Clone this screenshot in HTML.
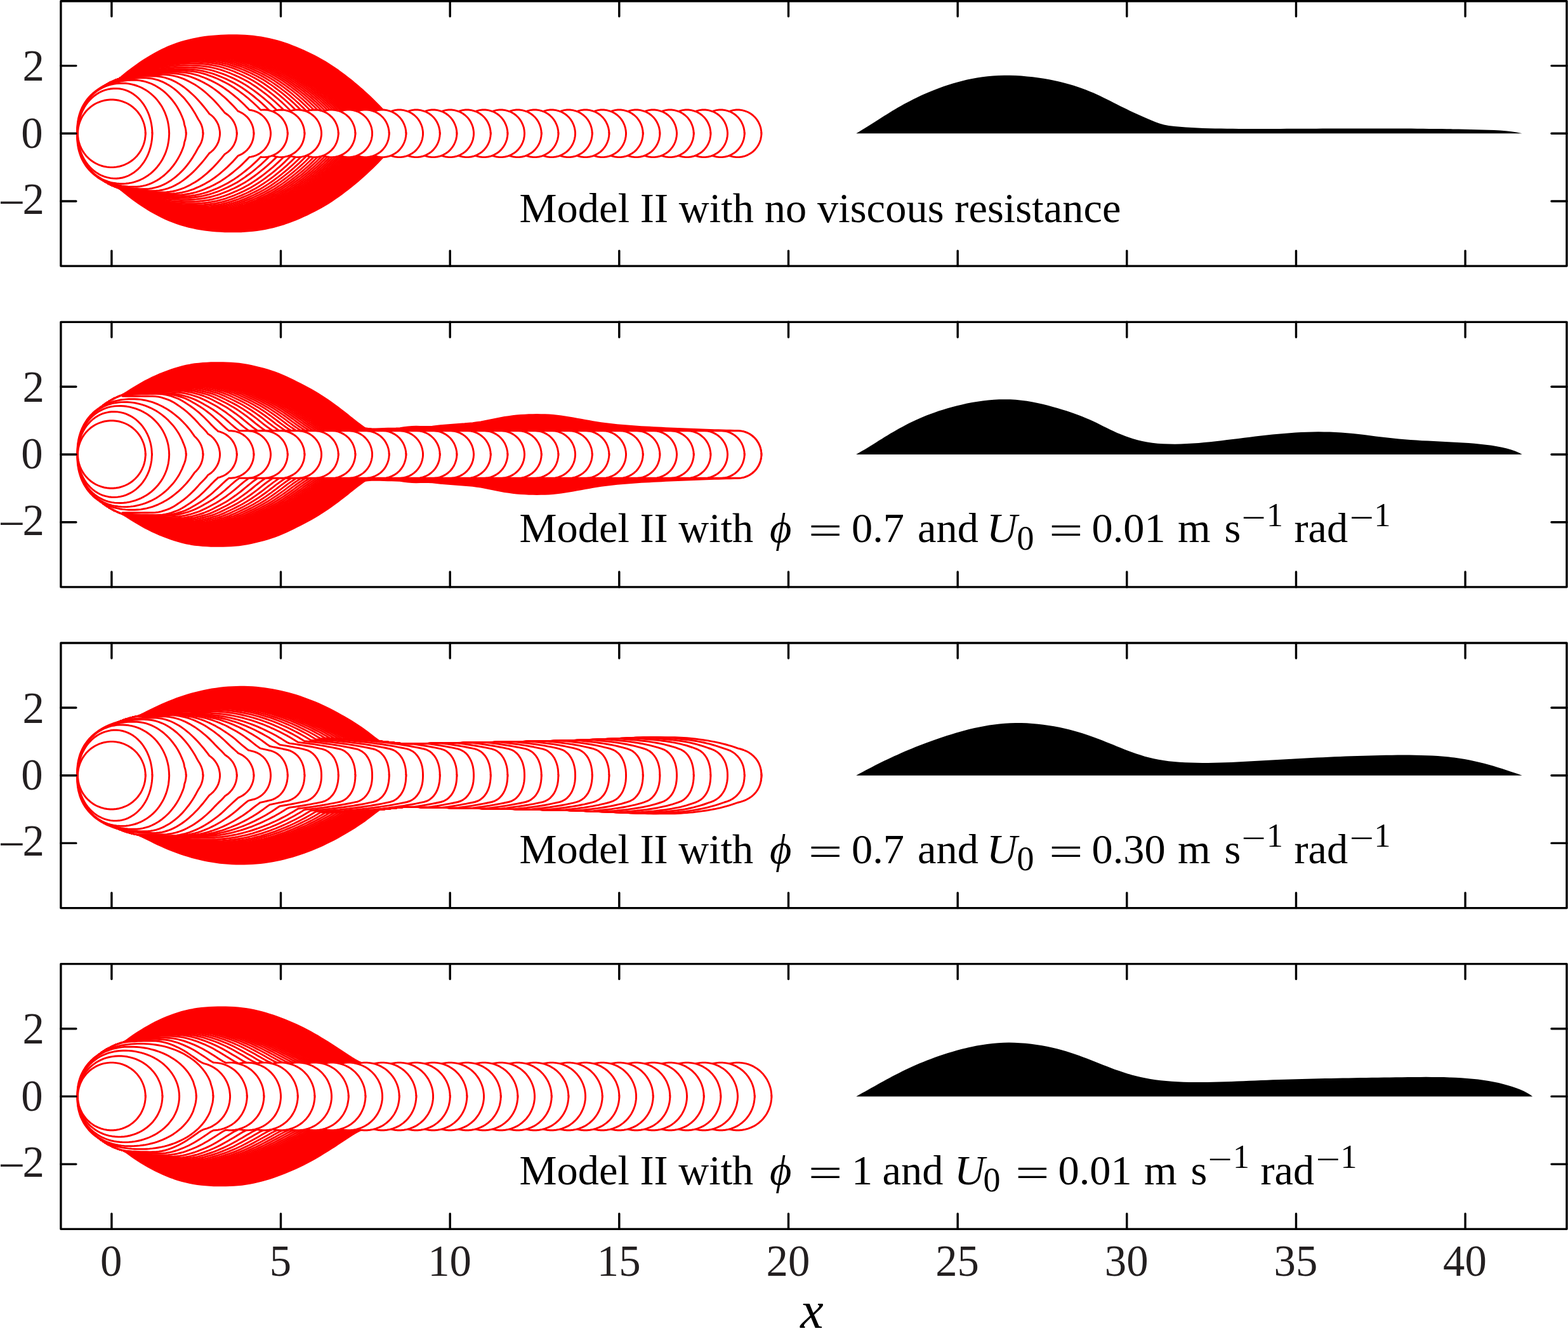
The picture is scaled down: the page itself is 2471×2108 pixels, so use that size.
<!DOCTYPE html>
<html><head><meta charset="utf-8"><title>Model II footprints</title>
<style>html,body{margin:0;padding:0;background:#fff}svg{display:block}</style></head>
<body><svg xmlns="http://www.w3.org/2000/svg" width="2471" height="2108" viewBox="0 0 2471 2108">
<rect width="2471" height="2108" fill="#fff"/>
<g transform="translate(175.9,210.3)">
<path id="s1" d="M-52.9 0.6l0-0.6 0-1.1 0-1.3 0.2-4 0.7-6.3 1.1-6.2 1.7-6.2 2-6 2.5-5.9 2.9-5.7 3.3-5.4 3.7-5.2 4-4.9 4.4-4.7 4.6-4.3 5-4 5.2-3.6 5.4-3.3 5.7-3 5.8-2.5 6-2.2 0.2 0 4.7-4 4.9-4.1 5-3.9 5.1-3.9 5.1-3.8 5.2-3.7 5.2-3.6 5.4-3.5 5.4-3.3 5.4-3.3 5.6-3.1 5.6-3 5.7-2.9 5.7-2.7 5.9-2.5 5.9-2.3 6-2.2 6-2 6.2-1.8 6.1-1.6 6.2-1.4 6.3-1.3 6.2-1.1 6.3-1 6.3-0.8 6.4-0.6 6.3-0.5 6.4-0.4 6.3-0.3 6.4-0.1 6.4-0.1 6.3 0.1 6.4 0.1 6.4 0.4 6.3 0.4 6.3 0.6 6.4 0.8 6.3 0.9 6.2 1.1 6.3 1.3 6.2 1.4 6.1 1.6 6.1 1.8 6.1 1.9 6 2.1 6 2.3 5.9 2.3 5.9 2.5 5.8 2.6 5.8 2.6 5.7 2.8 5.7 2.8 5.6 3 5.6 3.1 5.5 3.1 5.5 3.4 5.3 3.4 5.3 3.6 5.2 3.6 5.2 3.8 5.1 3.8 5 3.9 5 3.9 4.9 4.1 4.9 4 4.8 4.2 4.8 4.2 4.7 4.3 4.7 4.3 4.6 4.4 4.5 4.5 4.5 4.5 4.4 4.6 3 3.1 0.8 1.9 2.3 5.9 2.4 5.9 2.3 6 2.4 5.9 2.4 5.9 1.4 3.7 0.5 1.2 0.4 1 0 0.6" fill="#fe0000" stroke="#fe0000" stroke-width="2.9" stroke-linejoin="round"/><use href="#s1" transform="scale(1,-1)"/>
<g fill="#fff" stroke="#fe0000" stroke-width="2.9" stroke-linejoin="round" stroke-linecap="square">
<path id="s2" d="M-52.9 0.6l0-0.6 0-1.1 0-1.3 0.1-2.4 0.4-4.7 0.6-4.7 0.9-4.7 1.2-4.6 1.4-4.6 1.7-4.5 1.9-4.3 2.1-4.3 2.4-4.1 2.5-4.1 2.8-3.8 3-3.8 3.2-3.5 3.3-3.4 3.6-3.2 3.6-3.1 3.9-2.8 3.9-2.6 4.1-2.5 4.2-2.2 4.4-2 4.4-1.8 4.5-1.6 0.3-0.1 3.6-2.6 4-2.7 3.9-2.6 4-2.6 4-2.6 4.1-2.5 4.1-2.4 4.1-2.4 4.1-2.4 4.2-2.3 4.2-2.2 4.3-2.2 4.2-2.2 4.3-2 4.4-2 4.3-2 4.4-1.8 4.4-1.8 4.5-1.8 4.4-1.6 4.5-1.6 4.5-1.6 4.6-1.4 4.6-1.4 4.5-1.2 4.7-1.2 4.6-1.1 4.7-1.1 4.6-0.9 4.7-0.9 4.7-0.7 4.7-0.7 4.8-0.6 4.7-0.5 4.8-0.4 4.7-0.3 4.8-0.3 4.8-0.1 4.7 0 4.8 0 4.8 0.1 4.7 0.2 4.8 0.3 4.7 0.4 4.8 0.4 4.7 0.5 4.8 0.6 4.7 0.7 4.7 0.9 4.7 0.9 4.6 1 4.7 1.1 4.6 1.2 4.6 1.2 4.5 1.4 4.6 1.5 4.5 1.6 4.4 1.6 4.5 1.7 4.4 1.8 4.4 1.9 4.4 1.9 4.3 1.9 4.4 2 4.3 2.1 4.2 2.1 4.3 2.2 4.2 2.2 4.1 2.4 4.2 2.3 4.1 2.5 4 2.5 4 2.6 3.9 2.7 3.9 2.7 3.9 2.8 3.9 2.8 3.8 2.9 3.8 2.9 3.7 2.9 3.8 3 3.7 3 3.6 3.1 3.7 3 3.6 3.2 3.5 3.1 3.6 3.2 3.5 3.3 3.4 3.3 3.5 3.3 3.4 3.3 3.3 3.4 3.4 3.4 3.3 3.4 3.3 3.4 3.4 3.4 3.3 3.4 3.3 3.4 3.4 3.5 3.3 3.4 3.3 3.4 3.4 3.4 3.3 3.4 1.7 1.7 0.9 0.9 0.7 0.8 0 0.6"/><use href="#s2" transform="scale(1,-1)"/>
<path id="s3" d="M-52.9 0.6l0-0.6 0-1.1 0-1.3 0.1-2.4 0.4-4.8 0.6-4.7 1-4.7 1.1-4.7 1.5-4.6 1.7-4.5 1.9-4.4 2.1-4.2 2.4-4.2 2.6-4 2.8-3.9 3.1-3.8 3.2-3.5 3.4-3.4 3.5-3.2 3.7-3.1 3.9-2.8 4-2.6 4.2-2.5 4.2-2.2 4.4-2 4.4-1.8 4.2-1.4 0.3-0.2 3.9-2.8 4-2.7 4-2.6 4-2.6 4.1-2.6 4.1-2.5 4.1-2.5 4.2-2.4 4.1-2.3 4.3-2.3 4.2-2.3 4.3-2.1 4.3-2.2 4.3-2 4.4-2 4.4-1.9 4.4-1.9 4.5-1.8 4.4-1.7 4.5-1.6 4.6-1.6 4.5-1.5 4.6-1.4 4.6-1.4 4.7-1.2 4.6-1.2 4.7-1.1 4.7-1 4.7-0.9 4.7-0.8 4.8-0.7 4.7-0.7 4.8-0.5 4.8-0.5 4.7-0.4 4.8-0.2 4.8-0.2 4.8-0.1 4.8 0 4.8 0.1 4.8 0.2 4.8 0.2 4.8 0.3 4.8 0.4 4.8 0.5 4.7 0.6 4.8 0.6 4.7 0.8 4.7 0.9 4.7 0.9 4.7 1.1 4.7 1.2 4.6 1.2 4.6 1.4 4.6 1.4 4.5 1.6 4.5 1.6 4.5 1.7 4.5 1.8 4.4 1.8 4.4 1.9 4.4 1.9 4.4 2 4.3 2.1 4.3 2.1 4.3 2.2 4.2 2.2 4.2 2.3 4.2 2.4 4.1 2.5 4.1 2.5 4 2.6 4 2.7 4 2.7 3.9 2.8 3.9 2.8 3.8 2.9 3.8 2.9 3.8 2.9 3.8 3 3.7 3 3.7 3.1 3.7 3.1 3.6 3.1 3.6 3.2 3.5 3.2 3.6 3.3 3.5 3.3 3.4 3.3 3.4 3.4 3.4 3.4 3.4 3.4 3.4 3.4 3.3 3.4 3.4 3.5 3.3 3.4 3.4 3.4 3.3 3.5 3.4 3.4 3.4 3.4 3.3 3.4 3.4 3.5 1.6 1.7 1 0.9 0.7 0.8 0 0.6"/><use href="#s3" transform="scale(1,-1)"/>
<path id="s4" d="M-52.9 0.6l0-0.6 0-1.1 0-1.3 0.1-2.4 0.4-4.8 0.6-4.7 1-4.7 1.1-4.7 1.5-4.5 1.6-4.5 2-4.4 2.1-4.3 2.4-4.1 2.6-4.1 2.8-3.8 3-3.8 3.2-3.5 3.4-3.4 3.5-3.3 3.7-3 3.9-2.8 4-2.7 4.1-2.4 4.3-2.2 4.3-2 4.5-1.8 4.3-1.5 0.2-0.1 3.9-2.8 4-2.7 3.9-2.6 4.1-2.6 4-2.5 4.1-2.5 4.1-2.5 4.2-2.4 4.2-2.3 4.2-2.3 4.2-2.2 4.3-2.2 4.3-2.1 4.3-2.1 4.4-2 4.4-1.9 4.4-1.8 4.4-1.8 4.5-1.7 4.5-1.7 4.5-1.5 4.6-1.5 4.6-1.4 4.6-1.4 4.6-1.2 4.6-1.2 4.7-1.1 4.7-1 4.7-0.9 4.7-0.8 4.7-0.7 4.8-0.7 4.8-0.5 4.7-0.5 4.8-0.3 4.8-0.3 4.8-0.2 4.8 0 4.8 0 4.7 0 4.8 0.2 4.8 0.2 4.8 0.3 4.8 0.4 4.7 0.5 4.8 0.6 4.7 0.7 4.8 0.7 4.7 0.9 4.7 0.9 4.6 1.1 4.7 1.2 4.6 1.2 4.6 1.4 4.6 1.4 4.5 1.6 4.5 1.6 4.5 1.7 4.5 1.7 4.4 1.9 4.4 1.9 4.4 1.9 4.3 2 4.3 2.1 4.3 2.1 4.3 2.1 4.3 2.3 4.2 2.3 4.1 2.3 4.1 2.5 4.1 2.5 4 2.6 4 2.7 4 2.7 3.9 2.8 3.8 2.8 3.9 2.9 3.8 2.9 3.8 2.9 3.7 3 3.8 3 3.6 3 3.7 3.1 3.6 3.2 3.6 3.1 3.6 3.3 3.5 3.2 3.5 3.3 3.4 3.3 3.5 3.4 3.3 3.3 3.4 3.5 3.4 3.4 3.3 3.4 3.4 3.4 3.3 3.4 3.4 3.5 3.3 3.4 3.4 3.4 3.3 3.4 3.4 3.5 3.3 3.4 1.7 1.7 0.9 0.9 0.8 0.8 0 0.6"/><use href="#s4" transform="scale(1,-1)"/>
<path id="s5" d="M-52.9 0.6l0-0.6 0-1.1 0-1.3 0.1-2.4 0.4-4.7 0.6-4.8 1-4.7 1.1-4.6 1.4-4.6 1.7-4.5 1.9-4.3 2.2-4.3 2.3-4.2 2.6-4 2.8-3.9 3-3.7 3.2-3.6 3.4-3.4 3.5-3.2 3.7-3 3.9-2.8 4-2.7 4.1-2.4 4.2-2.2 4.3-2 4.5-1.8 4.5-1.6 3.9-2.7 4-2.7 4-2.7 4-2.5 4.1-2.6 4-2.5 4.1-2.4 4.2-2.4 4.2-2.3 4.2-2.3 4.2-2.2 4.3-2.2 4.3-2.1 4.3-2 4.3-2 4.4-1.9 4.4-1.9 4.5-1.7 4.4-1.8 4.5-1.6 4.6-1.5 4.5-1.5 4.6-1.4 4.6-1.4 4.6-1.2 4.6-1.2 4.7-1 4.7-1 4.7-0.9 4.7-0.8 4.7-0.8 4.7-0.6 4.8-0.6 4.8-0.4 4.7-0.4 4.8-0.2 4.8-0.2 4.8-0.1 4.7 0 4.8 0.1 4.8 0.1 4.8 0.3 4.8 0.3 4.7 0.4 4.8 0.5 4.7 0.5 4.8 0.7 4.7 0.8 4.7 0.8 4.7 1 4.6 1 4.7 1.2 4.6 1.2 4.6 1.4 4.5 1.4 4.6 1.6 4.5 1.6 4.4 1.7 4.5 1.7 4.4 1.9 4.4 1.8 4.4 2 4.3 2 4.4 2 4.2 2.1 4.3 2.2 4.2 2.2 4.2 2.3 4.2 2.4 4.1 2.4 4.1 2.5 4 2.6 4 2.7 3.9 2.7 3.9 2.8 3.9 2.8 3.8 2.8 3.8 2.9 3.8 3 3.7 2.9 3.8 3.1 3.6 3 3.7 3.1 3.6 3.1 3.6 3.2 3.5 3.2 3.6 3.2 3.4 3.3 3.5 3.3 3.4 3.4 3.4 3.3 3.4 3.4 3.3 3.5 3.4 3.4 3.3 3.4 3.4 3.4 3.3 3.4 3.3 3.4 3.4 3.4 3.3 3.5 3.4 3.4 3.3 3.4 1.7 1.7 0.9 0.9 0.8 0.8 0 0.6"/><use href="#s5" transform="scale(1,-1)"/>
<path id="s6" d="M-52.9 0.6l0-0.6 0-1.1 0-1.3 0.1-2.4 0.4-4.7 0.6-4.8 0.9-4.6 1.2-4.7 1.4-4.5 1.7-4.5 1.9-4.4 2.1-4.2 2.4-4.2 2.6-4 2.8-3.9 3-3.7 3.1-3.6 3.4-3.4 3.5-3.2 3.7-3 3.8-2.8 4-2.7 4.1-2.4 4.2-2.3 4.4-2 4.4-1.8 4.5-1.6 0.2 0 3.7-2.6 4-2.7 4-2.6 4-2.6 4.1-2.5 4-2.5 4.1-2.4 4.2-2.4 4.2-2.3 4.2-2.3 4.2-2.2 4.2-2.2 4.3-2.1 4.4-2 4.3-2 4.4-1.9 4.4-1.8 4.4-1.8 4.5-1.7 4.5-1.6 4.5-1.5 4.5-1.5 4.6-1.4 4.6-1.3 4.6-1.3 4.6-1.1 4.7-1.1 4.6-1 4.7-0.9 4.7-0.8 4.8-0.7 4.7-0.7 4.7-0.5 4.8-0.5 4.7-0.3 4.8-0.3 4.8-0.2 4.7 0 4.8 0 4.8 0 4.8 0.2 4.7 0.2 4.8 0.3 4.8 0.4 4.7 0.5 4.7 0.6 4.8 0.6 4.7 0.8 4.7 0.9 4.7 0.9 4.6 1.1 4.6 1.1 4.7 1.3 4.5 1.3 4.6 1.5 4.5 1.5 4.5 1.6 4.5 1.7 4.4 1.7 4.4 1.9 4.4 1.8 4.4 2 4.3 2 4.3 2 4.3 2.1 4.3 2.2 4.2 2.2 4.2 2.3 4.1 2.3 4.1 2.5 4.1 2.5 4 2.6 4 2.6 3.9 2.7 3.9 2.8 3.9 2.8 3.8 2.8 3.8 2.9 3.8 3 3.7 2.9 3.7 3 3.7 3.1 3.6 3 3.7 3.2 3.5 3.1 3.6 3.2 3.5 3.3 3.5 3.2 3.4 3.3 3.4 3.4 3.4 3.3 3.4 3.4 3.3 3.4 3.4 3.5 3.3 3.4 3.3 3.4 3.4 3.4 3.3 3.4 3.4 3.4 3.3 3.4 3.4 3.4 3.3 3.4 1.7 1.7 0.9 0.9 0.8 0.8 0 0.6"/><use href="#s6" transform="scale(1,-1)"/>
<path id="s7" d="M-52.9 0.6l0-0.6 0-1.1 0-1.3 0.1-2.4 0.4-4.7 0.6-4.7 0.9-4.7 1.2-4.6 1.4-4.6 1.7-4.4 1.9-4.4 2.1-4.3 2.4-4.1 2.5-4 2.8-3.9 3-3.7 3.1-3.6 3.4-3.4 3.5-3.2 3.7-3 3.8-2.8 4-2.7 4.1-2.4 4.2-2.3 4.3-2 4.4-1.8 4.5-1.6 0.4-0.1 3.6-2.5 3.9-2.6 4-2.6 4-2.6 4.1-2.5 4-2.5 4.1-2.4 4.2-2.4 4.1-2.3 4.2-2.3 4.3-2.2 4.2-2.1 4.3-2.1 4.3-2 4.3-2 4.4-1.9 4.4-1.8 4.4-1.8 4.5-1.7 4.5-1.6 4.5-1.5 4.5-1.5 4.6-1.4 4.6-1.3 4.6-1.2 4.6-1.2 4.6-1 4.7-1 4.7-0.9 4.7-0.8 4.7-0.8 4.7-0.6 4.7-0.5 4.8-0.5 4.7-0.3 4.8-0.3 4.7-0.2 4.8-0.1 4.8 0 4.7 0.1 4.8 0.2 4.8 0.2 4.7 0.3 4.8 0.4 4.7 0.5 4.7 0.5 4.7 0.7 4.7 0.8 4.7 0.8 4.7 1 4.7 1 4.6 1.2 4.6 1.2 4.5 1.4 4.6 1.4 4.5 1.5 4.5 1.6 4.4 1.7 4.5 1.8 4.4 1.8 4.4 1.8 4.3 2 4.4 1.9 4.3 2.1 4.2 2.1 4.3 2.1 4.2 2.2 4.2 2.3 4.1 2.4 4.1 2.4 4.1 2.5 4 2.6 3.9 2.7 4 2.7 3.9 2.7 3.8 2.8 3.8 2.9 3.8 2.8 3.8 2.9 3.7 3 3.7 3 3.7 3 3.7 3.1 3.6 3.1 3.5 3.2 3.6 3.2 3.5 3.2 3.5 3.2 3.4 3.3 3.4 3.4 3.4 3.3 3.3 3.4 3.4 3.4 3.3 3.4 3.3 3.4 3.4 3.4 3.3 3.4 3.4 3.4 3.3 3.4 3.3 3.4 3.4 3.4 3.3 3.4 1.7 1.7 0.9 0.9 0.8 0.8 0 0.6"/><use href="#s7" transform="scale(1,-1)"/>
<path id="s8" d="M-52.9 0.6l0-0.6 0-1.1 0-1.3 0.1-2.4 0.4-4.8 0.6-4.7 1-4.7 1.1-4.7 1.5-4.5 1.6-4.5 2-4.4 2.1-4.3 2.4-4.2 2.6-4 2.8-3.9 3-3.7 3.2-3.6 3.4-3.4 3.5-3.2 3.8-3 3.8-2.8 4-2.7 4.2-2.4 4.2-2.2 4.3-2 4.5-1.8 4.3-1.5 0.2-0.2 3.9-2.7 4-2.6 4.1-2.6 4-2.6 4.1-2.5 4.1-2.5 4.1-2.4 4.2-2.4 4.2-2.3 4.2-2.2 4.3-2.2 4.3-2.2 4.3-2 4.3-2 4.4-2 4.4-1.9 4.5-1.8 4.4-1.7 4.5-1.7 4.5-1.6 4.6-1.5 4.6-1.5 4.5-1.3 4.7-1.3 4.6-1.2 4.7-1.1 4.6-1.1 4.7-0.9 4.8-0.9 4.7-0.8 4.7-0.7 4.8-0.6 4.7-0.5 4.8-0.4 4.8-0.3 4.8-0.2 4.8-0.1 4.8-0.1 4.8 0.1 4.8 0.1 4.7 0.2 4.8 0.2 4.8 0.4 4.8 0.4 4.7 0.6 4.8 0.6 4.7 0.7 4.8 0.8 4.7 0.9 4.6 1 4.7 1.2 4.6 1.2 4.7 1.3 4.5 1.4 4.6 1.5 4.5 1.6 4.5 1.6 4.5 1.8 4.4 1.8 4.4 1.8 4.4 1.9 4.4 2 4.3 2.1 4.3 2 4.3 2.2 4.3 2.2 4.2 2.3 4.2 2.3 4.1 2.4 4.1 2.5 4 2.6 4 2.7 4 2.7 3.9 2.7 3.9 2.8 3.9 2.9 3.8 2.9 3.8 2.9 3.7 3 3.8 3 3.7 3 3.6 3.1 3.7 3.1 3.6 3.2 3.5 3.2 3.6 3.2 3.5 3.3 3.4 3.3 3.5 3.3 3.4 3.4 3.3 3.4 3.4 3.5 3.4 3.4 3.3 3.4 3.4 3.4 3.4 3.4 3.3 3.4 3.4 3.4 3.3 3.5 3.4 3.4 3.4 3.4 1.6 1.7 1 0.9 0.7 0.8 0 0.6"/><use href="#s8" transform="scale(1,-1)"/>
<path id="s9" d="M-52.9 0.6l0-0.6 0-1.1 0-1.3 0.1-2.4 0.4-4.7 0.6-4.8 1-4.7 1.1-4.6 1.4-4.6 1.7-4.5 1.9-4.3 2.2-4.3 2.3-4.2 2.6-4 2.8-3.9 3-3.7 3.2-3.6 3.4-3.4 3.5-3.2 3.7-3 3.9-2.8 4-2.7 4.1-2.4 4.2-2.2 4.3-2 4.5-1.8 4.5-1.6 3.9-2.7 4-2.7 4-2.6 4.1-2.5 4-2.5 4.2-2.5 4.1-2.4 4.1-2.3 4.2-2.3 4.3-2.3 4.2-2.2 4.3-2.1 4.3-2.1 4.4-2 4.3-1.9 4.4-1.9 4.5-1.8 4.4-1.7 4.5-1.7 4.5-1.6 4.5-1.5 4.6-1.4 4.6-1.4 4.6-1.3 4.6-1.2 4.7-1.1 4.6-1 4.7-1 4.7-0.8 4.8-0.8 4.7-0.7 4.7-0.6 4.8-0.5 4.8-0.4 4.7-0.3 4.8-0.2 4.8-0.1 4.8-0.1 4.8 0.1 4.7 0.1 4.8 0.2 4.8 0.2 4.8 0.4 4.7 0.4 4.8 0.5 4.7 0.7 4.7 0.7 4.8 0.8 4.6 0.9 4.7 1 4.7 1.1 4.6 1.2 4.6 1.3 4.6 1.5 4.5 1.5 4.5 1.5 4.5 1.7 4.5 1.7 4.4 1.8 4.4 1.9 4.4 1.9 4.4 1.9 4.3 2.1 4.3 2 4.3 2.2 4.2 2.2 4.2 2.3 4.2 2.3 4.1 2.4 4.1 2.5 4 2.6 4 2.6 4 2.7 3.9 2.8 3.9 2.8 3.8 2.8 3.8 2.9 3.8 2.9 3.8 3 3.7 2.9 3.7 3.1 3.7 3.1 3.6 3.1 3.6 3.1 3.5 3.2 3.6 3.3 3.5 3.2 3.4 3.3 3.4 3.4 3.4 3.3 3.4 3.4 3.4 3.4 3.3 3.4 3.4 3.5 3.3 3.4 3.4 3.4 3.3 3.4 3.4 3.4 3.4 3.4 3.3 3.4 3.4 3.4 1.6 1.7 1 0.9 0.7 0.8 0 0.6"/><use href="#s9" transform="scale(1,-1)"/>
<path id="s10" d="M-52.9 0.6l0-0.6 0-1.1 0-1.3 0.1-2.4 0.4-4.7 0.6-4.7 0.9-4.7 1.2-4.7 1.4-4.5 1.7-4.5 1.9-4.4 2.1-4.2 2.4-4.2 2.6-4 2.7-3.9 3-3.7 3.2-3.5 3.4-3.4 3.5-3.3 3.7-3 3.8-2.8 4-2.7 4.1-2.4 4.2-2.2 4.3-2.1 4.4-1.8 4.5-1.5 0.3-0.1 3.7-2.5 4-2.7 4-2.6 4-2.5 4.1-2.5 4.1-2.5 4.1-2.4 4.2-2.3 4.2-2.3 4.2-2.2 4.2-2.2 4.3-2.1 4.3-2.1 4.4-2 4.3-1.9 4.4-1.9 4.4-1.7 4.5-1.8 4.5-1.6 4.5-1.6 4.5-1.5 4.5-1.4 4.6-1.4 4.6-1.3 4.6-1.2 4.7-1.1 4.6-1 4.7-0.9 4.7-0.9 4.7-0.8 4.7-0.6 4.8-0.6 4.7-0.5 4.8-0.4 4.7-0.4 4.8-0.2 4.8-0.1 4.7-0.1 4.8 0.1 4.8 0.1 4.7 0.2 4.8 0.2 4.8 0.4 4.7 0.4 4.8 0.6 4.7 0.6 4.7 0.7 4.7 0.8 4.7 0.9 4.7 1 4.6 1.1 4.6 1.2 4.6 1.3 4.6 1.4 4.5 1.5 4.5 1.6 4.5 1.6 4.4 1.8 4.5 1.8 4.4 1.8 4.3 1.9 4.4 2 4.3 2 4.3 2.1 4.3 2.1 4.2 2.2 4.2 2.3 4.2 2.3 4.1 2.4 4.1 2.5 4 2.6 4 2.6 3.9 2.7 3.9 2.7 3.9 2.8 3.8 2.8 3.8 2.9 3.8 2.9 3.8 3 3.7 3 3.7 3 3.6 3 3.6 3.2 3.6 3.1 3.6 3.2 3.5 3.2 3.5 3.3 3.4 3.3 3.5 3.3 3.4 3.4 3.3 3.3 3.4 3.4 3.3 3.4 3.4 3.4 3.3 3.4 3.4 3.4 3.3 3.4 3.4 3.4 3.3 3.4 3.4 3.4 3.3 3.4 1.7 1.7 0.9 0.9 0.8 0.8 0 0.6"/><use href="#s10" transform="scale(1,-1)"/>
<path id="s11" d="M-52.9 0.6l0-0.6 0-1.1 0-1.3 0.1-2.4 0.4-4.8 0.6-4.7 1-4.7 1.1-4.7 1.5-4.6 1.7-4.5 1.9-4.4 2.1-4.2 2.4-4.2 2.6-4 2.8-3.9 3.1-3.7 3.2-3.6 3.4-3.4 3.5-3.2 3.7-3.1 3.9-2.8 4-2.6 4.1-2.5 4.3-2.2 4.4-2 4.4-1.8 4.2-1.4 0.3-0.2 4-2.7 4-2.6 4-2.6 4.1-2.6 4.1-2.5 4.1-2.4 4.2-2.4 4.2-2.3 4.2-2.3 4.3-2.2 4.2-2.2 4.3-2.1 4.4-2.1 4.4-1.9 4.4-2 4.4-1.8 4.4-1.8 4.5-1.7 4.5-1.6 4.6-1.6 4.5-1.5 4.6-1.4 4.6-1.3 4.7-1.2 4.6-1.2 4.7-1.1 4.7-1 4.7-0.9 4.7-0.8 4.8-0.7 4.7-0.7 4.8-0.5 4.8-0.5 4.8-0.4 4.7-0.2 4.8-0.2 4.8-0.1 4.8 0 4.8 0.1 4.8 0.1 4.8 0.2 4.8 0.4 4.8 0.4 4.8 0.4 4.7 0.6 4.8 0.7 4.7 0.8 4.7 0.8 4.7 1 4.7 1.1 4.7 1.1 4.6 1.3 4.6 1.4 4.6 1.4 4.5 1.6 4.5 1.6 4.5 1.7 4.5 1.8 4.4 1.8 4.4 1.9 4.4 2 4.3 2 4.4 2.1 4.3 2.1 4.2 2.2 4.3 2.2 4.2 2.4 4.1 2.4 4.1 2.4 4.1 2.6 4 2.6 4 2.7 3.9 2.8 3.9 2.8 3.9 2.8 3.8 2.9 3.8 2.9 3.8 2.9 3.8 3 3.7 3.1 3.7 3 3.6 3.2 3.6 3.1 3.6 3.2 3.5 3.3 3.5 3.2 3.5 3.3 3.5 3.4 3.4 3.3 3.4 3.5 3.3 3.4 3.4 3.4 3.4 3.4 3.3 3.4 3.4 3.4 3.4 3.4 3.4 3.4 3.3 3.5 3.4 3.4 3.4 3.4 1.7 1.7 0.9 0.9 0.8 0.8 0 0.6"/><use href="#s11" transform="scale(1,-1)"/>
<path id="s12" d="M-52.9 0.6l0-0.6 0-1.1 0-1.3 0.1-2.4 0.4-4.8 0.6-4.7 1-4.7 1.1-4.6 1.5-4.6 1.6-4.5 1.9-4.4 2.2-4.2 2.4-4.2 2.6-4 2.8-3.9 3-3.7 3.1-3.6 3.4-3.4 3.6-3.2 3.7-3 3.8-2.9 4-2.6 4.1-2.4 4.3-2.3 4.3-2 4.5-1.8 4.4-1.5 0.1-0.1 3.9-2.6 4-2.7 4.1-2.5 4-2.6 4.1-2.4 4.1-2.5 4.2-2.4 4.2-2.3 4.2-2.3 4.2-2.2 4.3-2.1 4.3-2.1 4.4-2 4.3-2 4.4-1.9 4.4-1.9 4.5-1.7 4.4-1.7 4.6-1.6 4.5-1.6 4.5-1.5 4.6-1.4 4.6-1.3 4.6-1.2 4.7-1.2 4.6-1.1 4.7-1 4.7-0.9 4.7-0.8 4.8-0.7 4.7-0.6 4.8-0.6 4.7-0.4 4.8-0.4 4.8-0.3 4.8-0.2 4.7-0.1 4.8 0 4.8 0.1 4.8 0.2 4.8 0.2 4.8 0.3 4.7 0.4 4.8 0.5 4.7 0.6 4.8 0.6 4.7 0.8 4.7 0.9 4.7 0.9 4.7 1.1 4.6 1.2 4.6 1.2 4.6 1.4 4.6 1.5 4.5 1.5 4.5 1.6 4.5 1.7 4.4 1.8 4.4 1.8 4.4 1.9 4.4 1.9 4.4 2.1 4.3 2 4.3 2.1 4.2 2.2 4.3 2.3 4.1 2.3 4.2 2.4 4.1 2.4 4 2.6 4 2.6 4 2.7 3.9 2.7 3.9 2.8 3.9 2.8 3.8 2.9 3.8 2.9 3.8 3 3.7 3 3.7 3 3.7 3.1 3.6 3.1 3.7 3.1 3.5 3.2 3.6 3.2 3.5 3.3 3.4 3.3 3.5 3.3 3.4 3.4 3.3 3.4 3.4 3.4 3.4 3.4 3.3 3.4 3.4 3.4 3.4 3.4 3.3 3.4 3.4 3.4 3.4 3.4 3.3 3.4 3.4 3.4 1.7 1.7 0.9 0.9 0.8 0.8 0 0.6"/><use href="#s12" transform="scale(1,-1)"/>
<path id="s13" d="M-52.9 0.6l0-0.6 0-1.1 0-1.3 0.1-2.4 0.4-4.7 0.6-4.8 0.9-4.6 1.2-4.7 1.4-4.5 1.7-4.5 1.9-4.4 2.1-4.2 2.4-4.2 2.6-4 2.8-3.9 2.9-3.7 3.2-3.6 3.4-3.4 3.5-3.2 3.7-3 3.8-2.8 4-2.7 4.1-2.4 4.2-2.3 4.4-2 4.4-1.8 4.5-1.6 0.2 0 3.8-2.5 4-2.7 4-2.5 4.1-2.5 4-2.5 4.2-2.4 4.1-2.4 4.2-2.3 4.2-2.3 4.2-2.2 4.3-2.1 4.3-2.1 4.3-2 4.4-2 4.3-1.9 4.4-1.8 4.5-1.7 4.4-1.7 4.5-1.6 4.6-1.6 4.5-1.5 4.6-1.4 4.6-1.3 4.6-1.2 4.6-1.2 4.6-1 4.7-1 4.7-0.9 4.7-0.8 4.7-0.7 4.8-0.7 4.7-0.5 4.8-0.5 4.7-0.3 4.8-0.3 4.7-0.2 4.8-0.1 4.8 0 4.8 0.1 4.7 0.1 4.8 0.3 4.8 0.3 4.7 0.4 4.8 0.4 4.7 0.6 4.7 0.7 4.7 0.8 4.7 0.8 4.7 1 4.7 1 4.6 1.2 4.6 1.3 4.6 1.3 4.5 1.5 4.5 1.5 4.5 1.6 4.5 1.7 4.4 1.8 4.5 1.8 4.3 1.9 4.4 1.9 4.3 2 4.3 2.1 4.3 2.1 4.3 2.2 4.2 2.2 4.2 2.3 4.1 2.4 4.1 2.5 4 2.5 4 2.6 4 2.7 3.9 2.7 3.9 2.8 3.8 2.8 3.9 2.9 3.7 2.9 3.8 2.9 3.7 3 3.7 3 3.7 3.1 3.6 3.1 3.6 3.1 3.6 3.2 3.5 3.2 3.5 3.2 3.5 3.3 3.4 3.4 3.4 3.3 3.4 3.4 3.3 3.4 3.4 3.4 3.3 3.4 3.4 3.4 3.3 3.4 3.4 3.3 3.4 3.4 3.3 3.4 3.4 3.4 3.3 3.4 1.7 1.7 1 0.9 0.7 0.8 0 0.6"/><use href="#s13" transform="scale(1,-1)"/>
<path id="s14" d="M-52.9 0.6l0-0.6 0-1.1 0-1.3 0.1-2.4 0.4-4.8 0.6-4.7 1-4.7 1.1-4.7 1.5-4.6 1.7-4.5 1.9-4.4 2.1-4.2 2.4-4.2 2.6-4 2.8-3.9 3.1-3.7 3.2-3.6 3.4-3.4 3.5-3.2 3.7-3.1 3.9-2.8 4-2.6 4.1-2.5 4.3-2.2 4.4-2 4.4-1.8 4.2-1.4 0.3-0.2 4-2.7 4-2.6 4.1-2.6 4.1-2.5 4.1-2.4 4.1-2.4 4.2-2.4 4.2-2.3 4.3-2.3 4.2-2.1 4.3-2.2 4.4-2 4.3-2.1 4.4-1.9 4.4-1.9 4.5-1.8 4.4-1.7 4.5-1.7 4.6-1.6 4.5-1.5 4.6-1.4 4.6-1.4 4.6-1.3 4.7-1.2 4.6-1.1 4.7-1.1 4.7-0.9 4.7-0.9 4.8-0.8 4.7-0.6 4.8-0.6 4.7-0.5 4.8-0.5 4.8-0.3 4.8-0.2 4.8-0.1 4.8-0.1 4.8 0 4.8 0.2 4.8 0.1 4.8 0.3 4.8 0.4 4.7 0.4 4.8 0.5 4.8 0.7 4.7 0.7 4.7 0.8 4.7 0.9 4.7 1 4.7 1.2 4.6 1.2 4.6 1.3 4.6 1.5 4.6 1.5 4.5 1.6 4.5 1.6 4.5 1.8 4.4 1.8 4.4 1.9 4.4 1.9 4.4 2 4.3 2 4.3 2.1 4.3 2.2 4.3 2.2 4.2 2.3 4.2 2.4 4.1 2.5 4.1 2.5 4 2.6 4 2.7 3.9 2.7 3.9 2.8 3.9 2.8 3.9 2.9 3.8 2.9 3.8 2.9 3.7 3 3.7 3 3.7 3.1 3.7 3.1 3.6 3.1 3.6 3.2 3.5 3.3 3.6 3.2 3.4 3.3 3.5 3.4 3.4 3.3 3.4 3.4 3.4 3.4 3.4 3.4 3.3 3.4 3.4 3.5 3.4 3.4 3.4 3.4 3.4 3.4 3.3 3.4 3.4 3.4 3.4 3.4 1.7 1.7 0.9 0.9 0.8 0.8 0 0.6"/><use href="#s14" transform="scale(1,-1)"/>
<path id="s15" d="M-52.9 0.6l0-0.6 0-1.1 0-1.3 0.1-2.4 0.4-4.7 0.6-4.8 1-4.7 1.1-4.6 1.5-4.6 1.6-4.5 1.9-4.4 2.2-4.2 2.4-4.2 2.5-4 2.8-3.9 3-3.7 3.2-3.6 3.4-3.4 3.5-3.2 3.7-3 3.9-2.8 4-2.7 4.1-2.4 4.2-2.2 4.4-2.1 4.4-1.8 4.5-1.5 4-2.7 4-2.6 4.1-2.5 4.1-2.5 4.1-2.5 4.1-2.4 4.2-2.3 4.2-2.3 4.2-2.2 4.3-2.2 4.3-2.1 4.3-2.1 4.3-2 4.4-1.9 4.4-1.9 4.4-1.8 4.5-1.7 4.5-1.7 4.5-1.6 4.5-1.5 4.6-1.4 4.6-1.4 4.6-1.2 4.6-1.2 4.7-1.1 4.7-1.1 4.6-0.9 4.7-0.9 4.8-0.8 4.7-0.6 4.7-0.6 4.8-0.5 4.8-0.5 4.7-0.3 4.8-0.2 4.8-0.1 4.8-0.1 4.8 0.1 4.8 0.1 4.7 0.1 4.8 0.3 4.8 0.4 4.7 0.4 4.8 0.5 4.7 0.7 4.8 0.7 4.7 0.8 4.7 0.9 4.7 1 4.6 1.1 4.6 1.3 4.6 1.3 4.6 1.4 4.5 1.5 4.5 1.6 4.5 1.7 4.5 1.7 4.4 1.8 4.4 1.9 4.4 1.9 4.4 2 4.3 2 4.3 2.1 4.3 2.2 4.2 2.2 4.2 2.3 4.2 2.4 4.1 2.4 4 2.5 4 2.6 4 2.7 4 2.7 3.9 2.8 3.8 2.8 3.9 2.8 3.8 2.9 3.8 3 3.7 2.9 3.7 3.1 3.7 3 3.6 3.1 3.6 3.2 3.6 3.1 3.6 3.2 3.5 3.3 3.4 3.3 3.5 3.3 3.4 3.4 3.4 3.4 3.3 3.4 3.4 3.4 3.4 3.3 3.4 3.4 3.3 3.4 3.4 3.4 3.4 3.4 3.3 3.4 3.4 3.4 3.4 3.4 1.7 1.7 0.9 0.9 0.7 0.8 0 0.6"/><use href="#s15" transform="scale(1,-1)"/>
<path id="s16" d="M-52.9 0.6l0-0.6 0-1.1 0-1.3 0.1-2.4 0.4-4.7 0.6-4.7 0.9-4.7 1.2-4.6 1.4-4.6 1.7-4.5 1.9-4.3 2.1-4.3 2.4-4.2 2.5-4 2.8-3.8 3-3.8 3.2-3.5 3.3-3.4 3.6-3.2 3.6-3.1 3.9-2.8 3.9-2.6 4.1-2.5 4.2-2.2 4.4-2 4.4-1.8 4.5-1.6 0.3-0.1 3.7-2.5 4-2.5 4.1-2.6 4-2.5 4.1-2.4 4.2-2.4 4.1-2.3 4.2-2.3 4.2-2.2 4.3-2.2 4.2-2.1 4.4-2 4.3-2 4.4-1.9 4.4-1.9 4.4-1.8 4.4-1.7 4.5-1.6 4.5-1.6 4.5-1.5 4.6-1.4 4.6-1.4 4.5-1.2 4.7-1.2 4.6-1.1 4.7-1.1 4.6-0.9 4.7-0.9 4.7-0.7 4.8-0.7 4.7-0.6 4.7-0.5 4.8-0.4 4.7-0.3 4.8-0.3 4.8-0.1 4.7-0.1 4.8 0.1 4.8 0.1 4.7 0.2 4.8 0.2 4.8 0.4 4.7 0.4 4.7 0.5 4.8 0.7 4.7 0.7 4.7 0.8 4.7 0.9 4.6 1 4.7 1.1 4.6 1.3 4.6 1.3 4.5 1.4 4.5 1.5 4.5 1.6 4.5 1.6 4.4 1.8 4.5 1.8 4.4 1.8 4.3 1.9 4.4 2 4.3 2 4.3 2.1 4.2 2.2 4.3 2.2 4.1 2.3 4.2 2.3 4.1 2.5 4 2.5 4 2.6 4 2.6 3.9 2.7 3.9 2.8 3.9 2.8 3.8 2.8 3.8 2.9 3.8 2.9 3.7 3 3.7 3 3.7 3.1 3.6 3 3.6 3.2 3.6 3.1 3.5 3.2 3.5 3.3 3.5 3.3 3.4 3.3 3.4 3.3 3.4 3.4 3.3 3.4 3.4 3.4 3.3 3.3 3.4 3.4 3.4 3.4 3.3 3.4 3.4 3.4 3.4 3.4 3.3 3.3 3.4 3.4 1.7 1.7 0.9 0.9 0.7 0.8 0 0.6"/><use href="#s16" transform="scale(1,-1)"/>
<path id="s17" d="M-52.9 0.6l0-0.6 0-1.1 0-1.3 0.1-2.4 0.4-4.8 0.6-4.7 1-4.7 1.1-4.7 1.5-4.5 1.6-4.5 2-4.4 2.1-4.3 2.4-4.1 2.6-4.1 2.8-3.9 3-3.7 3.2-3.6 3.4-3.3 3.5-3.3 3.7-3 3.9-2.8 4-2.7 4.1-2.4 4.3-2.2 4.3-2 4.5-1.8 4.3-1.5 0.2-0.1 4-2.7 4-2.5 4.1-2.6 4.1-2.4 4.1-2.5 4.2-2.3 4.2-2.4 4.2-2.2 4.3-2.2 4.2-2.2 4.3-2.1 4.4-2 4.4-2 4.3-1.9 4.5-1.8 4.4-1.8 4.5-1.7 4.5-1.6 4.5-1.6 4.6-1.4 4.6-1.4 4.6-1.4 4.6-1.2 4.7-1.2 4.6-1 4.7-1 4.7-0.9 4.8-0.9 4.7-0.7 4.7-0.6 4.8-0.6 4.8-0.5 4.7-0.3 4.8-0.3 4.8-0.2 4.8-0.1 4.8 0 4.8 0.1 4.8 0.1 4.8 0.2 4.7 0.4 4.8 0.4 4.8 0.4 4.7 0.6 4.8 0.7 4.7 0.8 4.7 0.8 4.7 1 4.7 1.1 4.6 1.2 4.6 1.3 4.6 1.3 4.6 1.5 4.5 1.6 4.5 1.6 4.5 1.7 4.5 1.8 4.4 1.8 4.4 1.9 4.3 2 4.4 2 4.3 2.1 4.3 2.1 4.2 2.2 4.3 2.3 4.1 2.4 4.2 2.4 4.1 2.5 4 2.6 4 2.6 3.9 2.7 4 2.8 3.8 2.8 3.9 2.9 3.8 2.8 3.8 3 3.8 2.9 3.7 3.1 3.7 3 3.6 3.1 3.7 3.1 3.6 3.2 3.5 3.2 3.5 3.3 3.5 3.3 3.5 3.3 3.4 3.4 3.4 3.3 3.3 3.4 3.4 3.4 3.4 3.4 3.4 3.4 3.4 3.4 3.3 3.4 3.4 3.4 3.4 3.4 3.4 3.4 3.4 3.4 1.7 1.7 0.9 0.9 0.8 0.8 0 0.6"/><use href="#s17" transform="scale(1,-1)"/>
<path id="s18" d="M-52.9 0.6l0-0.6 0-1.1 0-1.3 0.1-2.4 0.4-4.7 0.6-4.8 0.9-4.6 1.2-4.7 1.4-4.5 1.7-4.5 1.9-4.4 2.1-4.3 2.4-4.1 2.6-4 2.8-3.9 3-3.7 3.1-3.6 3.4-3.4 3.5-3.2 3.7-3 3.9-2.9 3.9-2.6 4.1-2.4 4.3-2.3 4.3-2 4.4-1.8 4.5-1.6 0.2 0 3.8-2.5 4.1-2.6 4-2.5 4.1-2.5 4.1-2.4 4.2-2.3 4.2-2.3 4.2-2.3 4.2-2.2 4.3-2.1 4.3-2.1 4.3-2 4.4-2 4.4-1.9 4.4-1.8 4.4-1.7 4.5-1.7 4.5-1.6 4.5-1.6 4.5-1.4 4.6-1.4 4.6-1.3 4.6-1.3 4.6-1.1 4.7-1.1 4.7-1 4.6-0.9 4.8-0.8 4.7-0.7 4.7-0.7 4.7-0.5 4.8-0.5 4.8-0.4 4.7-0.2 4.8-0.2 4.8-0.1 4.7 0 4.8 0.1 4.8 0.1 4.8 0.2 4.7 0.3 4.8 0.4 4.7 0.5 4.8 0.6 4.7 0.6 4.7 0.8 4.7 0.9 4.7 1 4.6 1 4.7 1.2 4.6 1.3 4.5 1.4 4.6 1.4 4.5 1.6 4.5 1.6 4.4 1.7 4.5 1.8 4.4 1.8 4.4 1.9 4.3 2 4.4 2 4.3 2 4.2 2.2 4.3 2.2 4.2 2.2 4.1 2.4 4.2 2.4 4 2.5 4 2.6 4 2.6 4 2.7 3.9 2.8 3.8 2.7 3.9 2.9 3.8 2.9 3.8 2.9 3.7 2.9 3.7 3 3.7 3.1 3.7 3.1 3.6 3.1 3.5 3.1 3.6 3.2 3.5 3.3 3.5 3.3 3.4 3.3 3.4 3.3 3.4 3.4 3.4 3.4 3.3 3.4 3.4 3.3 3.4 3.4 3.3 3.4 3.4 3.4 3.4 3.4 3.3 3.4 3.4 3.3 3.4 3.4 1.7 1.7 0.9 0.9 0.8 0.8 0 0.6"/><use href="#s18" transform="scale(1,-1)"/>
<path id="s19" d="M-52.9 0.6l0-0.6 0-1.1 0-1.3 0.1-2.4 0.4-4.8 0.6-4.7 1-4.7 1.1-4.7 1.5-4.6 1.7-4.4 1.9-4.4 2.1-4.3 2.4-4.2 2.6-4 2.8-3.9 3-3.7 3.2-3.6 3.4-3.4 3.6-3.2 3.7-3 3.9-2.9 4-2.6 4.1-2.4 4.3-2.3 4.3-2 4.5-1.8 4.2-1.4 0.3-0.2 4-2.6 4-2.5 4.1-2.6 4.2-2.4 4.1-2.4 4.2-2.4 4.2-2.3 4.2-2.2 4.3-2.2 4.3-2.1 4.3-2.1 4.4-2 4.4-1.9 4.4-1.9 4.4-1.8 4.5-1.7 4.5-1.7 4.5-1.6 4.6-1.5 4.6-1.4 4.6-1.4 4.6-1.3 4.6-1.2 4.7-1.1 4.7-1 4.7-1 4.7-0.9 4.7-0.7 4.8-0.7 4.7-0.6 4.8-0.5 4.8-0.5 4.7-0.3 4.8-0.2 4.8-0.2 4.8 0 4.8 0 4.8 0.1 4.8 0.2 4.8 0.3 4.8 0.3 4.8 0.5 4.7 0.5 4.8 0.6 4.7 0.7 4.7 0.9 4.7 0.9 4.7 1 4.7 1.2 4.6 1.2 4.6 1.4 4.6 1.4 4.5 1.5 4.6 1.6 4.5 1.7 4.4 1.8 4.5 1.8 4.4 1.9 4.3 1.9 4.4 2 4.3 2.1 4.3 2.1 4.3 2.2 4.2 2.2 4.2 2.4 4.2 2.4 4.1 2.5 4 2.5 4 2.7 4 2.7 3.9 2.7 3.9 2.8 3.9 2.8 3.8 2.9 3.8 2.9 3.8 3 3.7 3 3.7 3.1 3.7 3 3.7 3.2 3.5 3.1 3.6 3.3 3.5 3.2 3.5 3.3 3.5 3.3 3.4 3.4 3.4 3.4 3.4 3.4 3.4 3.3 3.4 3.4 3.4 3.4 3.3 3.4 3.4 3.4 3.4 3.4 3.4 3.4 3.4 3.4 3.4 3.4 1.7 1.7 0.9 0.9 0.8 0.8 0 0.6"/><use href="#s19" transform="scale(1,-1)"/>
<path id="s20" d="M-52.9 0.6l0-0.6 0-1.1 0-1.3 0.1-2.4 0.4-4.7 0.6-4.8 1-4.7 1.1-4.6 1.4-4.5 1.7-4.5 1.9-4.4 2.1-4.3 2.4-4.1 2.6-4 2.8-3.9 3-3.7 3.2-3.6 3.3-3.4 3.6-3.2 3.6-3 3.9-2.9 4-2.6 4.1-2.5 4.2-2.2 4.3-2 4.5-1.8 4.5-1.6 0.1 0 3.9-2.5 4-2.6 4.1-2.5 4.1-2.4 4.2-2.4 4.1-2.3 4.2-2.3 4.3-2.2 4.2-2.2 4.3-2.1 4.3-2 4.4-2 4.3-2 4.4-1.8 4.5-1.8 4.4-1.7 4.5-1.7 4.5-1.6 4.5-1.5 4.6-1.4 4.6-1.3 4.6-1.3 4.6-1.2 4.7-1.1 4.6-1.1 4.7-0.9 4.7-0.9 4.7-0.7 4.7-0.7 4.8-0.6 4.7-0.5 4.8-0.4 4.8-0.4 4.7-0.2 4.8-0.1 4.8-0.1 4.8 0 4.7 0.1 4.8 0.2 4.8 0.3 4.7 0.3 4.8 0.5 4.7 0.5 4.8 0.6 4.7 0.7 4.7 0.9 4.7 0.9 4.7 1 4.6 1.1 4.6 1.3 4.6 1.3 4.6 1.4 4.5 1.6 4.5 1.6 4.5 1.6 4.4 1.8 4.4 1.8 4.4 1.9 4.4 1.9 4.3 2 4.3 2.1 4.3 2.1 4.3 2.1 4.2 2.3 4.2 2.3 4.1 2.4 4.1 2.5 4 2.5 4 2.7 4 2.6 3.9 2.8 3.9 2.8 3.8 2.8 3.8 2.9 3.8 2.9 3.8 2.9 3.7 3 3.7 3 3.7 3.1 3.6 3.1 3.6 3.2 3.5 3.2 3.5 3.2 3.5 3.3 3.4 3.3 3.5 3.3 3.3 3.4 3.4 3.4 3.4 3.4 3.4 3.4 3.3 3.3 3.4 3.4 3.4 3.4 3.4 3.4 3.3 3.4 3.4 3.3 3.4 3.4 1.7 1.7 0.9 0.9 0.8 0.8 0 0.6M949.3 0.6l0-0.6 0-1.1 0.1-1.3 0.2-2.3 0.8-4.6 1.5-4.4 2-4.3 2.5-3.9 3-3.7 3.4-3.2 3.8-2.7 4.1-2.3 4.4-1.7 4.5-1.2 4.7-0.6 4.6 0 4.7 0.6 4.5 1.2 4.4 1.7 4.1 2.3 3.8 2.7 3.4 3.2 3 3.7 2.5 3.9 2 4.3 1.5 4.4 0.8 4.6 0.3 2.3 0 1.3 0 1.1 0 0.6"/><use href="#s20" transform="scale(1,-1)"/>
<path id="s21" d="M-52.9 0.6l0-0.6 0-1.1 0-1.3 0.1-2.4 0.4-4.8 0.6-4.7 1-4.7 1.1-4.7 1.5-4.6 1.7-4.4 1.9-4.4 2.1-4.3 2.4-4.2 2.6-4 2.8-3.9 3-3.7 3.2-3.6 3.4-3.4 3.6-3.2 3.7-3 3.9-2.9 4-2.6 4.1-2.4 4.3-2.3 4.3-2 4.5-1.8 4.2-1.4 0.3-0.2 4-2.6 4.1-2.5 4.1-2.5 4.1-2.4 4.2-2.4 4.2-2.3 4.2-2.3 4.3-2.2 4.3-2.1 4.3-2.1 4.3-2.1 4.4-1.9 4.4-1.9 4.4-1.9 4.5-1.8 4.5-1.7 4.5-1.6 4.5-1.5 4.6-1.5 4.6-1.4 4.6-1.3 4.6-1.3 4.7-1.2 4.6-1 4.7-1 4.7-0.9 4.8-0.9 4.7-0.7 4.7-0.7 4.8-0.5 4.8-0.5 4.8-0.4 4.8-0.2 4.7-0.2 4.8-0.1 4.8 0 4.8 0 4.8 0.2 4.8 0.2 4.8 0.3 4.8 0.4 4.8 0.5 4.7 0.6 4.8 0.6 4.7 0.8 4.7 0.9 4.7 1 4.7 1.1 4.6 1.2 4.6 1.3 4.6 1.4 4.6 1.5 4.5 1.5 4.5 1.7 4.5 1.7 4.4 1.8 4.5 1.9 4.4 1.9 4.3 2 4.4 2 4.3 2.1 4.3 2.2 4.2 2.2 4.2 2.3 4.2 2.4 4.1 2.5 4 2.5 4.1 2.6 3.9 2.7 4 2.8 3.9 2.7 3.9 2.9 3.8 2.8 3.8 2.9 3.8 3 3.7 3 3.7 3 3.7 3.1 3.7 3.1 3.6 3.2 3.5 3.2 3.6 3.3 3.5 3.2 3.4 3.4 3.5 3.3 3.3 3.4 3.4 3.4 3.4 3.4 3.4 3.4 3.4 3.4 3.4 3.4 3.4 3.3 3.4 3.4 3.4 3.4 3.4 3.4 3.4 3.4 1.7 1.7 0.9 0.9 0.8 0.8 0 0.6M922.6 0.6l0-0.6 0-1.1 0.1-1.3 0.2-2.3 0.9-4.6 1.4-4.4 2-4.3 2.5-3.9 3-3.7 3.4-3.2 3.8-2.7 4.1-2.3 4.4-1.7 4.5-1.2 4.7-0.6 4.7 0 4.6 0.6 4.6 1.2 4.3 1.7 4.1 2.3 3.8 2.7 3.4 3.2 3 3.7 2.5 3.9 2 4.3 1.5 4.4 0.9 4.6 0.2 2.3 0.1 1.3 0 1.1 0 0.6"/><use href="#s21" transform="scale(1,-1)"/>
<path id="s22" d="M-52.9 0.6l0-0.6 0-1.1 0-1.3 0.1-2.4 0.4-4.7 0.6-4.8 0.9-4.6 1.2-4.7 1.4-4.5 1.7-4.5 1.9-4.4 2.1-4.3 2.4-4.1 2.6-4 2.8-3.9 3-3.7 3.1-3.6 3.4-3.4 3.5-3.2 3.7-3 3.9-2.9 3.9-2.6 4.1-2.4 4.3-2.3 4.3-2 4.4-1.8 4.5-1.6 4.1-2.5 4-2.5 4.1-2.4 4.1-2.5 4.2-2.3 4.2-2.3 4.2-2.3 4.2-2.2 4.3-2.1 4.3-2.1 4.3-2 4.4-2 4.4-1.8 4.4-1.9 4.4-1.7 4.5-1.7 4.5-1.6 4.5-1.6 4.6-1.4 4.5-1.4 4.6-1.3 4.6-1.3 4.7-1.1 4.6-1.1 4.7-1 4.7-0.9 4.7-0.8 4.7-0.7 4.7-0.7 4.8-0.5 4.7-0.5 4.8-0.4 4.7-0.3 4.8-0.2 4.8-0.1 4.8 0 4.7 0.1 4.8 0.1 4.8 0.2 4.7 0.4 4.8 0.3 4.8 0.5 4.7 0.6 4.7 0.7 4.7 0.8 4.7 0.8 4.7 1 4.7 1.1 4.6 1.2 4.6 1.3 4.5 1.4 4.6 1.5 4.5 1.5 4.5 1.7 4.4 1.7 4.5 1.8 4.4 1.8 4.3 1.9 4.4 2 4.3 2 4.3 2.1 4.3 2.2 4.2 2.2 4.2 2.3 4.1 2.4 4.1 2.4 4.1 2.6 4 2.6 3.9 2.6 3.9 2.8 3.9 2.7 3.9 2.8 3.8 2.9 3.8 2.9 3.8 2.9 3.7 3 3.7 3.1 3.7 3 3.6 3.1 3.6 3.2 3.5 3.2 3.5 3.2 3.5 3.3 3.5 3.3 3.4 3.3 3.4 3.4 3.3 3.4 3.4 3.3 3.4 3.4 3.4 3.4 3.4 3.4 3.3 3.3 3.4 3.4 3.4 3.4 3.4 3.4 3.3 3.3 1.7 1.7 1 0.9 0.7 0.8 0 0.6M895.9 0.6l0-0.6 0.1-1.1 0-1.3 0.2-2.3 0.9-4.6 1.5-4.4 2-4.3 2.5-3.9 3-3.7 3.4-3.2 3.8-2.7 4.1-2.3 4.3-1.7 4.6-1.2 4.6-0.6 4.7 0 4.7 0.6 4.5 1.2 4.4 1.7 4.1 2.3 3.8 2.7 3.4 3.2 3 3.7 2.5 3.9 2 4.3 1.4 4.4 0.9 4.6 0.2 2.3 0.1 1.3 0 1.1 0 0.6"/><use href="#s22" transform="scale(1,-1)"/>
<path id="s23" d="M-52.9 0.6l0-0.6 0-1.1 0-1.3 0.1-2.4 0.4-4.8 0.6-4.7 1-4.7 1.1-4.7 1.5-4.5 1.6-4.5 2-4.4 2.1-4.3 2.4-4.2 2.6-4 2.8-3.9 3-3.7 3.2-3.6 3.4-3.4 3.5-3.2 3.8-3 3.8-2.8 4-2.7 4.1-2.4 4.3-2.2 4.3-2 4.5-1.8 4.5-1.6 4-2.6 4.1-2.5 4.2-2.4 4.1-2.4 4.2-2.4 4.2-2.3 4.2-2.2 4.3-2.2 4.3-2.1 4.3-2.1 4.4-2 4.4-1.9 4.4-1.9 4.4-1.8 4.5-1.7 4.5-1.7 4.5-1.6 4.5-1.5 4.6-1.4 4.6-1.4 4.6-1.3 4.7-1.2 4.6-1.1 4.7-1 4.7-1 4.7-0.9 4.7-0.7 4.8-0.7 4.7-0.7 4.8-0.5 4.8-0.4 4.7-0.3 4.8-0.3 4.8-0.1 4.8-0.1 4.8 0 4.8 0.1 4.8 0.2 4.8 0.3 4.8 0.3 4.7 0.5 4.8 0.5 4.7 0.6 4.8 0.8 4.7 0.8 4.7 1 4.7 1 4.6 1.1 4.6 1.3 4.6 1.4 4.6 1.4 4.5 1.6 4.6 1.6 4.4 1.7 4.5 1.7 4.4 1.9 4.4 1.9 4.4 1.9 4.3 2.1 4.4 2 4.2 2.2 4.3 2.2 4.2 2.3 4.2 2.3 4.1 2.5 4.1 2.5 4 2.6 4 2.7 3.9 2.7 3.9 2.7 3.9 2.9 3.9 2.8 3.8 2.9 3.8 3 3.7 2.9 3.7 3.1 3.7 3 3.6 3.2 3.7 3.1 3.5 3.2 3.6 3.3 3.5 3.2 3.4 3.3 3.4 3.4 3.4 3.4 3.4 3.4 3.4 3.3 3.4 3.4 3.4 3.4 3.4 3.4 3.4 3.4 3.4 3.4 3.4 3.3 3.4 3.4 3.4 3.4 1.7 1.7 0.9 0.9 0.8 0.8 0 0.6M869.3 0.6l0-0.6 0-1.1 0.1-1.3 0.2-2.3 0.9-4.6 1.4-4.4 2-4.3 2.5-3.9 3-3.7 3.4-3.2 3.8-2.7 4.1-2.3 4.4-1.7 4.5-1.2 4.7-0.6 4.7 0 4.6 0.6 4.5 1.2 4.4 1.7 4.1 2.3 3.8 2.7 3.4 3.2 3 3.7 2.5 3.9 2 4.3 1.5 4.4 0.8 4.6 0.3 2.3 0 1.3 0 1.1 0 0.6"/><use href="#s23" transform="scale(1,-1)"/>
<path id="s24" d="M-52.9 0.6l0-0.6 0-1.1 0-1.3 0.1-2.4 0.4-4.7 0.6-4.7 0.9-4.7 1.2-4.6 1.4-4.6 1.7-4.5 1.9-4.3 2.1-4.3 2.4-4.1 2.5-4.1 2.8-3.8 3-3.8 3.2-3.5 3.3-3.4 3.6-3.2 3.6-3.1 3.9-2.8 3.9-2.6 4.1-2.5 4.2-2.2 4.4-2 4.4-1.8 4.5-1.6 4.1-2.5 4-2.4 4.1-2.5 4.2-2.4 4.1-2.3 4.2-2.3 4.2-2.2 4.3-2.1 4.3-2.1 4.3-2.1 4.3-2 4.4-1.9 4.4-1.8 4.4-1.8 4.4-1.7 4.5-1.7 4.5-1.6 4.5-1.5 4.6-1.4 4.6-1.3 4.6-1.3 4.6-1.2 4.6-1.1 4.7-1.1 4.6-0.9 4.7-0.9 4.7-0.7 4.8-0.7 4.7-0.6 4.7-0.5 4.8-0.5 4.7-0.3 4.8-0.2 4.8-0.2 4.7 0 4.8 0 4.8 0.1 4.7 0.1 4.8 0.3 4.7 0.4 4.8 0.4 4.7 0.5 4.8 0.7 4.7 0.7 4.7 0.8 4.6 0.9 4.7 1.1 4.6 1.1 4.6 1.3 4.6 1.3 4.5 1.5 4.6 1.5 4.4 1.6 4.5 1.7 4.4 1.8 4.4 1.8 4.4 1.9 4.4 1.9 4.3 2 4.3 2.1 4.3 2.1 4.2 2.2 4.2 2.3 4.1 2.3 4.1 2.5 4.1 2.5 4 2.6 4 2.6 3.9 2.7 3.9 2.8 3.8 2.8 3.9 2.8 3.8 2.9 3.7 2.9 3.8 3 3.7 3 3.6 3.1 3.6 3.1 3.6 3.1 3.6 3.2 3.5 3.2 3.5 3.3 3.4 3.3 3.4 3.3 3.4 3.4 3.4 3.3 3.4 3.4 3.3 3.4 3.4 3.3 3.4 3.4 3.4 3.4 3.4 3.3 3.3 3.4 3.4 3.4 3.4 3.3 1.7 1.7 0.9 0.9 0.8 0.8 0 0.6M842.6 0.6l0-0.6 0-1.1 0.1-1.3 0.2-2.3 0.9-4.6 1.4-4.4 2-4.3 2.5-3.9 3-3.7 3.5-3.2 3.7-2.7 4.2-2.3 4.3-1.7 4.6-1.2 4.6-0.6 4.7 0 4.6 0.6 4.6 1.2 4.3 1.7 4.1 2.3 3.8 2.7 3.5 3.2 2.9 3.7 2.6 3.9 1.9 4.3 1.5 4.4 0.9 4.6 0.2 2.3 0.1 1.3 0 1.1 0 0.6"/><use href="#s24" transform="scale(1,-1)"/>
<path id="s25" d="M-52.9 0.6l0-0.6 0-1.1 0-1.3 0.1-2.4 0.4-4.7 0.6-4.8 1-4.7 1.1-4.6 1.5-4.6 1.6-4.5 1.9-4.3 2.2-4.3 2.3-4.2 2.6-4 2.8-3.9 3-3.7 3.2-3.6 3.4-3.4 3.5-3.2 3.7-3 3.9-2.8 4-2.7 4.1-2.4 4.2-2.2 4.4-2.1 4.4-1.8 4.5-1.5 4.1-2.5 4.1-2.5 4.1-2.4 4.2-2.4 4.1-2.3 4.3-2.3 4.2-2.2 4.3-2.1 4.3-2.1 4.3-2 4.4-2 4.4-1.9 4.4-1.8 4.4-1.8 4.5-1.7 4.5-1.6 4.5-1.5 4.6-1.5 4.6-1.4 4.6-1.3 4.6-1.3 4.6-1.1 4.7-1.1 4.7-1 4.6-0.9 4.8-0.9 4.7-0.7 4.7-0.7 4.8-0.5 4.7-0.5 4.8-0.4 4.8-0.3 4.8-0.2 4.7-0.1 4.8 0 4.8 0.1 4.8 0.1 4.8 0.2 4.7 0.3 4.8 0.4 4.8 0.5 4.7 0.6 4.7 0.7 4.8 0.8 4.7 0.8 4.6 1 4.7 1.1 4.6 1.3 4.6 1.3 4.6 1.4 4.5 1.5 4.5 1.6 4.5 1.6 4.5 1.8 4.4 1.8 4.4 1.9 4.4 1.9 4.3 2 4.4 2 4.2 2.2 4.3 2.1 4.2 2.3 4.2 2.3 4.1 2.4 4.1 2.5 4 2.6 4 2.7 4 2.7 3.9 2.7 3.8 2.8 3.9 2.9 3.8 2.9 3.8 2.9 3.7 3 3.7 3 3.7 3 3.7 3.1 3.6 3.2 3.5 3.2 3.6 3.2 3.5 3.3 3.4 3.3 3.4 3.3 3.4 3.4 3.4 3.3 3.4 3.4 3.4 3.4 3.4 3.4 3.4 3.3 3.4 3.4 3.4 3.4 3.3 3.4 3.4 3.3 3.4 3.4 1.7 1.7 1 0.9 0.7 0.8 0 0.6M815.9 0.6l0-0.6 0.1-1.1 0-1.3 0.2-2.3 0.9-4.6 1.5-4.4 2-4.3 2.5-3.9 3-3.7 3.4-3.2 3.8-2.7 4.1-2.3 4.3-1.7 4.6-1.2 4.6-0.6 4.7 0 4.7 0.6 4.5 1.2 4.4 1.7 4.1 2.3 3.8 2.7 3.4 3.2 3 3.7 2.5 3.9 2 4.3 1.4 4.4 0.9 4.6 0.2 2.3 0.1 1.3 0 1.1 0 0.6"/><use href="#s25" transform="scale(1,-1)"/>
<path id="s26" d="M-52.9 0.6l0-0.6 0-1.1 0-1.3 0.1-2.4 0.4-4.8 0.6-4.7 1-4.7 1.1-4.7 1.5-4.6 1.7-4.4 1.9-4.4 2.1-4.3 2.4-4.2 2.6-4 2.8-3.9 3-3.7 3.3-3.6 3.3-3.4 3.6-3.2 3.7-3 3.9-2.9 4-2.6 4.1-2.4 4.3-2.3 4.3-2 4.5-1.8 4.5-1.6 4.1-2.5 4.1-2.5 4.1-2.4 4.2-2.3 4.2-2.3 4.3-2.3 4.2-2.1 4.3-2.2 4.4-2 4.3-2 4.4-2 4.4-1.9 4.5-1.8 4.4-1.7 4.5-1.7 4.6-1.6 4.5-1.5 4.6-1.4 4.6-1.4 4.6-1.3 4.6-1.2 4.7-1.1 4.7-1.1 4.7-0.9 4.7-0.9 4.7-0.8 4.8-0.7 4.7-0.6 4.8-0.6 4.8-0.4 4.8-0.3 4.8-0.3 4.8-0.1 4.8-0.1 4.7 0 4.8 0.1 4.8 0.2 4.8 0.2 4.8 0.4 4.8 0.4 4.8 0.6 4.7 0.6 4.7 0.8 4.8 0.8 4.7 1 4.6 1 4.7 1.2 4.6 1.3 4.6 1.3 4.6 1.5 4.5 1.6 4.5 1.6 4.5 1.7 4.5 1.8 4.4 1.9 4.4 1.9 4.3 2 4.4 2 4.3 2.1 4.3 2.2 4.2 2.2 4.2 2.3 4.2 2.4 4.1 2.5 4 2.6 4 2.6 4 2.7 3.9 2.8 3.9 2.8 3.9 2.8 3.8 2.9 3.8 2.9 3.8 3 3.7 3 3.7 3.1 3.6 3.1 3.7 3.2 3.5 3.1 3.6 3.3 3.5 3.2 3.5 3.4 3.4 3.3 3.4 3.4 3.4 3.4 3.4 3.3 3.4 3.4 3.4 3.4 3.4 3.4 3.4 3.4 3.4 3.4 3.4 3.3 3.4 3.4 3.4 3.4 1.7 1.7 1 0.9 0.7 0.8 0 0.6M789.3 0.6l0-0.6 0-1.1 0.1-1.3 0.2-2.3 0.9-4.6 1.4-4.4 2-4.3 2.5-3.9 3-3.7 3.4-3.2 3.8-2.7 4.1-2.3 4.4-1.7 4.5-1.2 4.7-0.6 4.7 0 4.6 0.6 4.5 1.2 4.4 1.7 4.1 2.3 3.8 2.7 3.4 3.2 3 3.7 2.5 3.9 2 4.3 1.5 4.4 0.8 4.6 0.3 2.3 0 1.3 0 1.1 0 0.6"/><use href="#s26" transform="scale(1,-1)"/>
<path id="s27" d="M-52.9 0.6l0-0.6 0-1.1 0-1.3 0.1-2.4 0.4-4.7 0.6-4.7 0.9-4.7 1.2-4.6 1.4-4.6 1.7-4.5 1.9-4.3 2.1-4.3 2.4-4.1 2.5-4.1 2.8-3.8 3-3.8 3.2-3.5 3.3-3.4 3.6-3.2 3.6-3.1 3.9-2.8 3.9-2.6 4.1-2.5 4.2-2.2 4.4-2 4.4-1.8 4.5-1.6 4.1-2.4 4.1-2.5 4.1-2.3 4.2-2.4 4.2-2.2 4.2-2.3 4.2-2.1 4.3-2.1 4.3-2.1 4.3-2 4.4-1.9 4.4-1.8 4.4-1.8 4.5-1.7 4.4-1.7 4.5-1.6 4.6-1.5 4.5-1.4 4.6-1.4 4.6-1.3 4.6-1.2 4.6-1.1 4.7-1 4.7-1 4.6-0.8 4.7-0.8 4.8-0.7 4.7-0.6 4.7-0.5 4.8-0.5 4.7-0.3 4.8-0.3 4.8-0.1 4.7-0.1 4.8 0 4.8 0.1 4.7 0.2 4.8 0.3 4.8 0.3 4.7 0.4 4.7 0.6 4.8 0.6 4.7 0.7 4.7 0.9 4.6 0.9 4.7 1.1 4.6 1.1 4.6 1.3 4.6 1.4 4.5 1.4 4.5 1.6 4.5 1.6 4.5 1.7 4.4 1.8 4.4 1.8 4.4 2 4.3 1.9 4.3 2.1 4.3 2 4.3 2.2 4.2 2.2 4.1 2.3 4.2 2.4 4 2.5 4.1 2.5 4 2.7 3.9 2.7 3.9 2.7 3.9 2.8 3.8 2.8 3.8 2.9 3.8 2.9 3.7 2.9 3.7 3 3.7 3.1 3.7 3.1 3.5 3.1 3.6 3.2 3.5 3.2 3.5 3.2 3.5 3.3 3.4 3.4 3.4 3.3 3.4 3.4 3.3 3.3 3.4 3.4 3.4 3.4 3.4 3.3 3.4 3.4 3.3 3.4 3.4 3.3 3.4 3.4 3.4 3.3 1.7 1.7 0.9 0.9 0.8 0.8 0 0.6M762.6 0.6l0-0.6 0-1.1 0.1-1.3 0.2-2.3 0.9-4.6 1.4-4.4 2-4.3 2.6-3.9 2.9-3.7 3.5-3.2 3.8-2.7 4.1-2.3 4.3-1.7 4.6-1.2 4.6-0.6 4.7 0 4.6 0.6 4.6 1.2 4.3 1.7 4.1 2.3 3.8 2.7 3.5 3.2 2.9 3.7 2.6 3.9 2 4.3 1.4 4.4 0.9 4.6 0.2 2.3 0.1 1.3 0 1.1 0 0.6"/><use href="#s27" transform="scale(1,-1)"/>
<path id="s28" d="M-52.9 0.6l0-0.6 0-1.1 0-1.3 0.1-2.4 0.4-4.7 0.6-4.8 1-4.7 1.1-4.6 1.4-4.6 1.7-4.4 1.9-4.4 2.2-4.3 2.3-4.1 2.6-4.1 2.8-3.8 3-3.8 3.2-3.5 3.3-3.4 3.6-3.2 3.7-3.1 3.8-2.8 4-2.6 4.1-2.5 4.2-2.2 4.4-2 4.4-1.8 4.5-1.6 4.1-2.4 4.1-2.5 4.2-2.3 4.2-2.3 4.2-2.3 4.2-2.2 4.3-2.1 4.3-2.1 4.3-2.1 4.4-1.9 4.4-1.9 4.4-1.8 4.4-1.8 4.5-1.7 4.5-1.6 4.5-1.6 4.5-1.5 4.6-1.4 4.6-1.3 4.6-1.2 4.7-1.2 4.6-1.1 4.7-1 4.7-0.9 4.7-0.8 4.7-0.8 4.7-0.6 4.8-0.6 4.7-0.5 4.8-0.4 4.8-0.3 4.7-0.2 4.8-0.1 4.8 0 4.8 0 4.7 0.1 4.8 0.3 4.8 0.3 4.8 0.4 4.7 0.4 4.7 0.6 4.8 0.7 4.7 0.8 4.7 0.9 4.7 1 4.6 1.1 4.6 1.3 4.6 1.3 4.6 1.4 4.5 1.6 4.5 1.6 4.5 1.6 4.4 1.8 4.4 1.8 4.4 1.9 4.4 2 4.3 2 4.3 2.1 4.3 2.1 4.2 2.2 4.2 2.3 4.2 2.4 4.1 2.4 4 2.6 4 2.6 4 2.7 3.9 2.7 3.9 2.8 3.8 2.8 3.9 2.9 3.7 2.9 3.8 2.9 3.7 3 3.7 3.1 3.7 3.1 3.6 3.1 3.5 3.2 3.6 3.2 3.5 3.3 3.4 3.2 3.5 3.4 3.3 3.3 3.4 3.4 3.4 3.4 3.4 3.4 3.4 3.3 3.4 3.4 3.4 3.4 3.4 3.3 3.4 3.4 3.4 3.4 3.3 3.3 1.7 1.7 1 0.9 0.7 0.8 0 0.6M736 0.6l0-0.6 0-1.1 0-1.3 0.3-2.3 0.8-4.6 1.5-4.4 2-4.3 2.5-3.9 3-3.7 3.4-3.2 3.8-2.7 4.1-2.3 4.4-1.7 4.5-1.2 4.6-0.6 4.7 0 4.7 0.6 4.5 1.2 4.4 1.7 4.1 2.3 3.8 2.7 3.4 3.2 3 3.7 2.5 3.9 2 4.3 1.4 4.4 0.9 4.6 0.2 2.3 0.1 1.3 0 1.1 0 0.6"/><use href="#s28" transform="scale(1,-1)"/>
<path id="s29" d="M-52.9 0.6l0-0.6 0-1.1 0-1.3 0.1-2.4 0.4-4.8 0.6-4.7 1-4.7 1.1-4.6 1.5-4.6 1.6-4.5 1.9-4.4 2.2-4.3 2.4-4.1 2.6-4 2.8-3.9 3-3.7 3.2-3.6 3.3-3.4 3.6-3.2 3.7-3.1 3.9-2.8 3.9-2.6 4.2-2.5 4.2-2.2 4.4-2 4.4-1.8 4.5-1.6 4.1-2.4 4.2-2.4 4.1-2.4 4.2-2.3 4.3-2.2 4.2-2.2 4.3-2.1 4.3-2.1 4.4-2 4.4-1.9 4.4-1.9 4.4-1.8 4.5-1.8 4.5-1.6 4.5-1.6 4.5-1.5 4.6-1.5 4.6-1.4 4.6-1.3 4.6-1.2 4.6-1.1 4.7-1.1 4.7-0.9 4.7-0.9 4.7-0.8 4.8-0.7 4.7-0.6 4.8-0.6 4.7-0.4 4.8-0.3 4.8-0.3 4.8-0.2 4.8 0 4.8 0 4.7 0.1 4.8 0.1 4.8 0.3 4.8 0.3 4.8 0.5 4.7 0.5 4.8 0.7 4.7 0.7 4.7 0.9 4.7 0.9 4.7 1.1 4.6 1.2 4.6 1.3 4.6 1.4 4.5 1.5 4.6 1.5 4.4 1.7 4.5 1.7 4.4 1.8 4.4 1.9 4.4 2 4.4 1.9 4.3 2.1 4.3 2.1 4.2 2.2 4.3 2.3 4.1 2.4 4.1 2.4 4.1 2.5 4 2.6 4 2.7 3.9 2.7 3.9 2.8 3.9 2.8 3.8 2.9 3.8 2.9 3.8 3 3.7 3 3.7 3 3.7 3.1 3.6 3.1 3.6 3.2 3.5 3.2 3.6 3.3 3.4 3.3 3.5 3.3 3.4 3.4 3.4 3.4 3.3 3.3 3.4 3.4 3.4 3.4 3.4 3.4 3.4 3.3 3.4 3.4 3.4 3.4 3.4 3.4 3.4 3.3 1.7 1.7 1 0.9 0.7 0.8 0 0.6M709.3 0.6l0-0.6 0-1.1 0.1-1.3 0.2-2.3 0.9-4.6 1.4-4.4 2-4.3 2.5-3.9 3-3.7 3.4-3.2 3.8-2.7 4.1-2.3 4.4-1.7 4.5-1.2 4.7-0.6 4.7 0 4.6 0.6 4.6 1.2 4.3 1.7 4.1 2.3 3.8 2.7 3.4 3.2 3 3.7 2.5 3.9 2 4.3 1.5 4.4 0.9 4.6 0.2 2.3 0 1.3 0.1 1.1 0 0.6"/><use href="#s29" transform="scale(1,-1)"/>
<path id="s30" d="M-52.9 0.6l0-0.6 0-1.1 0-1.3 0.1-2.4 0.4-4.8 0.6-4.7 1-4.7 1.1-4.7 1.5-4.5 1.7-4.5 1.9-4.4 2.1-4.3 2.4-4.2 2.6-4 2.8-3.9 3-3.7 3.2-3.6 3.4-3.4 3.6-3.2 3.7-3 3.9-2.9 4-2.6 4.1-2.4 4.2-2.3 4.4-2 4.5-1.8 4.5-1.6 4.1-2.4 4.1-2.4 4.2-2.3 4.3-2.3 4.2-2.2 4.3-2.2 4.3-2.1 4.3-2 4.4-2 4.4-1.9 4.4-1.9 4.5-1.7 4.5-1.8 4.5-1.6 4.5-1.6 4.6-1.5 4.5-1.4 4.6-1.3 4.7-1.3 4.6-1.2 4.7-1.1 4.7-1 4.7-0.9 4.7-0.9 4.7-0.7 4.8-0.7 4.7-0.6 4.8-0.5 4.8-0.3 4.8-0.4 4.8-0.2 4.8-0.1 4.7 0 4.8 0 4.8 0.1 4.8 0.3 4.8 0.3 4.8 0.4 4.8 0.4 4.7 0.6 4.8 0.7 4.7 0.9 4.7 0.9 4.7 1 4.6 1.1 4.7 1.3 4.6 1.3 4.5 1.5 4.6 1.6 4.5 1.6 4.5 1.7 4.4 1.8 4.4 1.8 4.4 2 4.4 1.9 4.3 2.1 4.3 2.1 4.3 2.2 4.2 2.2 4.2 2.4 4.2 2.4 4 2.5 4.1 2.6 4 2.7 3.9 2.7 3.9 2.8 3.9 2.8 3.9 2.8 3.8 2.9 3.8 3 3.7 3 3.7 3 3.7 3.1 3.6 3.2 3.6 3.1 3.5 3.3 3.6 3.2 3.4 3.3 3.5 3.4 3.4 3.3 3.4 3.4 3.4 3.4 3.4 3.4 3.4 3.3 3.4 3.4 3.4 3.4 3.4 3.4 3.4 3.4 3.4 3.3 3.4 3.4 1.7 1.7 1 0.9 0.7 0.8 0 0.6M682.6 0.6l0-0.6 0-1.1 0.1-1.3 0.2-2.3 0.9-4.6 1.5-4.4 1.9-4.3 2.6-3.9 2.9-3.7 3.5-3.2 3.8-2.7 4.1-2.3 4.3-1.7 4.6-1.2 4.6-0.6 4.7 0 4.6 0.6 4.6 1.2 4.3 1.7 4.2 2.3 3.7 2.7 3.5 3.2 3 3.7 2.5 3.9 2 4.3 1.4 4.4 0.9 4.6 0.2 2.3 0.1 1.3 0 1.1 0 0.6"/><use href="#s30" transform="scale(1,-1)"/>
<path id="s31" d="M-52.9 0.6l0-0.6 0-1.1 0-1.3 0.1-2.4 0.4-4.7 0.6-4.7 0.9-4.7 1.2-4.6 1.4-4.5 1.7-4.5 1.9-4.4 2.1-4.2 2.3-4.2 2.6-4 2.8-3.8 2.9-3.8 3.2-3.5 3.3-3.4 3.5-3.2 3.7-3.1 3.8-2.8 4-2.6 4.1-2.5 4.2-2.2 4.3-2 4.4-1.9 4.5-1.5 4.1-2.3 4.2-2.4 4.1-2.3 4.2-2.2 4.2-2.2 4.3-2.2 4.3-2.1 4.3-2 4.3-1.9 4.4-1.9 4.4-1.8 4.4-1.8 4.5-1.7 4.4-1.6 4.5-1.6 4.6-1.4 4.5-1.4 4.6-1.4 4.6-1.2 4.6-1.2 4.6-1.1 4.7-1 4.6-0.9 4.7-0.8 4.7-0.8 4.7-0.6 4.8-0.6 4.7-0.5 4.7-0.4 4.8-0.3 4.7-0.2 4.8-0.1 4.8-0.1 4.7 0.1 4.8 0.1 4.7 0.2 4.8 0.3 4.7 0.4 4.7 0.5 4.8 0.6 4.7 0.7 4.7 0.8 4.6 0.9 4.7 1 4.6 1.1 4.6 1.3 4.6 1.3 4.5 1.5 4.5 1.5 4.5 1.6 4.4 1.7 4.4 1.8 4.4 1.8 4.4 1.9 4.3 2 4.3 2 4.3 2.1 4.2 2.2 4.2 2.2 4.2 2.4 4.1 2.4 4.1 2.5 4 2.5 3.9 2.7 3.9 2.7 3.9 2.7 3.9 2.8 3.8 2.9 3.8 2.9 3.7 2.9 3.7 3 3.7 3 3.6 3.1 3.6 3.1 3.6 3.1 3.5 3.2 3.5 3.3 3.5 3.2 3.4 3.4 3.4 3.3 3.3 3.4 3.4 3.3 3.4 3.4 3.4 3.3 3.3 3.4 3.4 3.3 3.4 3.4 3.4 3.3 3.4 3.4 3.3 3.3 1.7 1.7 0.9 0.9 0.8 0.8 0 0.6M656 0.6l0-0.6 0-1.1 0-1.3 0.3-2.3 0.8-4.6 1.5-4.4 2-4.3 2.5-3.9 3-3.7 3.4-3.2 3.8-2.7 4.1-2.3 4.4-1.7 4.5-1.2 4.6-0.6 4.7 0 4.7 0.6 4.5 1.2 4.4 1.7 4.1 2.3 3.8 2.7 3.4 3.2 3 3.7 2.5 3.9 2 4.3 1.4 4.4 0.9 4.6 0.2 2.3 0.1 1.3 0 1.1 0 0.6"/><use href="#s31" transform="scale(1,-1)"/>
<path id="s32" d="M-52.9 0.6l0-0.6 0-1.1 0-1.3 0.1-2.4 0.4-4.7 0.6-4.7 0.9-4.7 1.2-4.6 1.4-4.6 1.7-4.4 1.9-4.4 2.1-4.3 2.3-4.1 2.6-4 2.8-3.9 3-3.7 3.1-3.6 3.4-3.3 3.5-3.3 3.7-3 3.8-2.8 3.9-2.7 4.1-2.4 4.2-2.3 4.3-2 4.4-1.8 4.5-1.6 4.2-2.3 4.1-2.3 4.2-2.3 4.2-2.2 4.3-2.2 4.2-2.1 4.3-2 4.4-2 4.3-2 4.4-1.8 4.4-1.8 4.5-1.8 4.4-1.6 4.5-1.6 4.5-1.5 4.6-1.5 4.5-1.3 4.6-1.3 4.6-1.2 4.6-1.2 4.7-1 4.6-1 4.7-0.9 4.7-0.8 4.7-0.7 4.7-0.6 4.8-0.5 4.7-0.5 4.8-0.3 4.7-0.3 4.8-0.2 4.7-0.1 4.8 0 4.8 0.1 4.7 0.2 4.8 0.2 4.7 0.4 4.8 0.4 4.7 0.6 4.7 0.6 4.7 0.7 4.7 0.9 4.7 1 4.6 1.1 4.6 1.2 4.6 1.3 4.6 1.4 4.5 1.5 4.5 1.6 4.4 1.7 4.4 1.7 4.4 1.8 4.4 1.9 4.4 2 4.3 2 4.3 2.1 4.2 2.1 4.2 2.2 4.2 2.3 4.1 2.4 4.1 2.5 4 2.6 4 2.6 3.9 2.7 3.9 2.7 3.8 2.8 3.9 2.9 3.8 2.8 3.7 3 3.7 2.9 3.7 3.1 3.7 3 3.6 3.1 3.5 3.2 3.6 3.2 3.4 3.2 3.5 3.3 3.4 3.3 3.4 3.4 3.4 3.3 3.4 3.4 3.3 3.4 3.4 3.3 3.4 3.4 3.4 3.3 3.4 3.4 3.3 3.3 3.4 3.4 3.4 3.3 1.7 1.7 0.9 0.9 0.8 0.8 0 0.6M629.3 0.6l0-0.6 0-1.1 0.1-1.3 0.2-2.3 0.9-4.6 1.4-4.4 2-4.3 2.5-3.9 3-3.7 3.4-3.2 3.8-2.7 4.1-2.3 4.4-1.7 4.5-1.2 4.7-0.6 4.7 0 4.6 0.6 4.6 1.2 4.3 1.7 4.1 2.3 3.8 2.7 3.4 3.2 3 3.7 2.5 3.9 2 4.3 1.5 4.4 0.9 4.6 0.2 2.3 0 1.3 0.1 1.1 0 0.6"/><use href="#s32" transform="scale(1,-1)"/>
<path id="s33" d="M-52.9 0.6l0-0.6 0-1.1 0-1.3 0.1-2.4 0.4-4.7 0.6-4.7 0.9-4.7 1.2-4.6 1.4-4.6 1.7-4.4 1.9-4.4 2.1-4.3 2.3-4.1 2.6-4 2.8-3.9 3-3.7 3.1-3.6 3.4-3.4 3.5-3.2 3.7-3 3.8-2.8 4-2.7 4-2.4 4.3-2.3 4.3-2 4.4-1.8 4.5-1.6 4.1-2.3 4.2-2.3 4.2-2.2 4.2-2.2 4.3-2.2 4.3-2.1 4.3-2 4.3-2 4.4-1.9 4.4-1.8 4.4-1.8 4.4-1.7 4.5-1.6 4.5-1.6 4.5-1.4 4.6-1.5 4.6-1.3 4.6-1.2 4.6-1.2 4.6-1.1 4.7-1 4.6-1 4.7-0.8 4.7-0.8 4.7-0.6 4.8-0.6 4.7-0.5 4.8-0.4 4.7-0.3 4.8-0.3 4.7-0.1 4.8-0.1 4.8 0.1 4.7 0.1 4.8 0.2 4.7 0.3 4.8 0.4 4.7 0.5 4.7 0.6 4.8 0.7 4.6 0.8 4.7 0.9 4.7 1.1 4.6 1.1 4.6 1.3 4.5 1.4 4.6 1.4 4.5 1.6 4.4 1.6 4.5 1.8 4.4 1.8 4.4 1.8 4.3 2 4.4 2 4.3 2 4.2 2.1 4.2 2.3 4.2 2.2 4.2 2.4 4 2.5 4.1 2.5 3.9 2.6 4 2.7 3.9 2.8 3.8 2.7 3.9 2.9 3.8 2.9 3.7 2.9 3.7 2.9 3.7 3.1 3.7 3 3.6 3.1 3.6 3.2 3.5 3.2 3.5 3.2 3.4 3.3 3.5 3.3 3.3 3.4 3.4 3.3 3.4 3.4 3.4 3.3 3.4 3.4 3.3 3.4 3.4 3.3 3.4 3.4 3.4 3.3 3.4 3.4 3.3 3.3 1.7 1.7 1 0.9 0.7 0.8 0 0.6M602.6 0.6l0-0.6 0-1.1 0.1-1.3 0.2-2.3 0.9-4.6 1.5-4.4 2-4.3 2.5-3.9 3-3.7 3.4-3.2 3.8-2.7 4.1-2.3 4.3-1.7 4.6-1.2 4.6-0.6 4.7 0 4.7 0.6 4.5 1.2 4.4 1.7 4.1 2.3 3.8 2.7 3.4 3.2 3 3.7 2.5 3.9 2 4.3 1.4 4.4 0.9 4.6 0.2 2.3 0.1 1.3 0 1.1 0 0.6"/><use href="#s33" transform="scale(1,-1)"/>
<path id="s34" d="M-52.9 0.6l0-0.6 0-1.1 0-1.3 0.1-2.4 0.4-4.7 0.6-4.7 0.9-4.7 1.2-4.6 1.4-4.6 1.7-4.4 1.9-4.4 2.1-4.3 2.3-4.1 2.6-4 2.8-3.9 3-3.7 3.1-3.6 3.4-3.3 3.5-3.3 3.7-3 3.8-2.8 3.9-2.7 4.1-2.4 4.2-2.3 4.3-2 4.4-1.8 4.5-1.6 4.2-2.2 4.2-2.3 4.2-2.2 4.2-2.2 4.3-2.1 4.3-2.1 4.3-2 4.4-1.9 4.4-1.9 4.4-1.8 4.4-1.8 4.5-1.6 4.4-1.6 4.5-1.6 4.6-1.4 4.5-1.4 4.6-1.3 4.6-1.2 4.7-1.2 4.6-1 4.7-1 4.6-0.9 4.7-0.8 4.7-0.7 4.8-0.6 4.7-0.6 4.7-0.4 4.8-0.4 4.7-0.3 4.8-0.2 4.8-0.1 4.7 0 4.8 0.1 4.7 0.2 4.8 0.2 4.7 0.4 4.8 0.4 4.7 0.6 4.7 0.6 4.7 0.8 4.7 0.8 4.7 1 4.6 1.1 4.6 1.3 4.6 1.3 4.5 1.4 4.5 1.6 4.5 1.6 4.5 1.7 4.4 1.7 4.4 1.9 4.3 1.9 4.4 2 4.3 2 4.2 2.1 4.3 2.2 4.2 2.3 4.1 2.3 4.1 2.5 4 2.5 4 2.6 4 2.7 3.9 2.7 3.8 2.8 3.9 2.8 3.8 2.9 3.7 2.9 3.8 3 3.6 3 3.7 3 3.6 3.1 3.6 3.2 3.5 3.2 3.5 3.2 3.5 3.3 3.4 3.3 3.3 3.4 3.4 3.3 3.4 3.4 3.4 3.3 3.4 3.4 3.3 3.4 3.4 3.3 3.4 3.4 3.4 3.3 3.4 3.4 3.3 3.3 1.7 1.7 1 0.9 0.7 0.8 0 0.6M576 0.6l0-0.6 0-1.1 0-1.3 0.3-2.3 0.8-4.6 1.5-4.4 2-4.3 2.5-3.9 3-3.7 3.4-3.2 3.8-2.7 4.1-2.3 4.4-1.7 4.5-1.2 4.7-0.6 4.6 0 4.7 0.6 4.5 1.2 4.4 1.7 4.1 2.3 3.8 2.7 3.4 3.2 3 3.7 2.5 3.9 2 4.3 1.5 4.4 0.8 4.6 0.2 2.3 0.1 1.3 0 1.1 0 0.6"/><use href="#s34" transform="scale(1,-1)"/>
<path id="s35" d="M-52.9 0.6l0-0.6 0-1.1 0-1.3 0.1-2.4 0.4-4.7 0.6-4.7 0.9-4.7 1.2-4.6 1.4-4.5 1.7-4.5 1.9-4.4 2.1-4.2 2.3-4.2 2.6-4 2.8-3.8 2.9-3.8 3.2-3.5 3.3-3.4 3.5-3.2 3.7-3.1 3.8-2.8 4-2.6 4.1-2.5 4.2-2.2 4.3-2 4.4-1.9 4.5-1.5 4.2-2.3 4.1-2.2 4.3-2.2 4.2-2.2 4.3-2.1 4.3-2 4.3-2 4.4-1.9 4.4-1.8 4.4-1.8 4.4-1.7 4.5-1.6 4.5-1.6 4.5-1.5 4.5-1.4 4.6-1.4 4.6-1.2 4.6-1.2 4.6-1.1 4.7-1 4.7-1 4.6-0.8 4.7-0.8 4.7-0.7 4.8-0.6 4.7-0.5 4.7-0.4 4.8-0.3 4.7-0.3 4.8-0.1 4.8-0.1 4.7 0.1 4.8 0.1 4.7 0.2 4.8 0.3 4.7 0.4 4.7 0.5 4.8 0.6 4.7 0.7 4.7 0.8 4.6 1 4.7 1 4.6 1.2 4.6 1.3 4.5 1.4 4.5 1.5 4.5 1.5 4.5 1.7 4.4 1.8 4.4 1.8 4.4 1.9 4.3 1.9 4.3 2.1 4.3 2.1 4.2 2.1 4.2 2.3 4.2 2.3 4.1 2.4 4 2.5 4 2.6 3.9 2.7 4 2.7 3.8 2.8 3.9 2.8 3.8 2.8 3.7 3 3.7 2.9 3.7 3 3.7 3.1 3.6 3.1 3.6 3.1 3.5 3.2 3.5 3.3 3.4 3.2 3.5 3.3 3.3 3.4 3.4 3.4 3.4 3.3 3.4 3.4 3.3 3.3 3.4 3.4 3.4 3.3 3.4 3.4 3.3 3.3 3.4 3.4 3.4 3.3 1.7 1.7 0.9 0.9 0.8 0.8 0 0.6M549.3 0.6l0-0.6 0-1.1 0.1-1.3 0.2-2.3 0.9-4.6 1.4-4.4 2-4.3 2.5-3.9 3-3.7 3.4-3.2 3.8-2.7 4.1-2.3 4.4-1.7 4.5-1.2 4.7-0.6 4.7 0 4.6 0.6 4.6 1.2 4.3 1.7 4.1 2.3 3.8 2.7 3.4 3.2 3 3.7 2.5 3.9 2 4.3 1.5 4.4 0.9 4.6 0.2 2.3 0 1.3 0.1 1.1 0 0.6"/><use href="#s35" transform="scale(1,-1)"/>
<path id="s36" d="M-52.9 0.6l0-0.6 0-1.1 0-1.3 0.1-2.4 0.4-4.8 0.6-4.7 1-4.7 1.1-4.7 1.5-4.6 1.7-4.4 1.9-4.4 2.1-4.3 2.4-4.2 2.6-4 2.8-3.9 3-3.7 3.2-3.6 3.4-3.4 3.6-3.2 3.7-3 3.9-2.9 4-2.6 4.1-2.4 4.3-2.3 4.3-2 4.5-1.8 4.5-1.6 4.2-2.3 4.2-2.2 4.3-2.2 4.3-2.1 4.3-2.1 4.4-2 4.4-1.9 4.4-1.9 4.4-1.8 4.5-1.8 4.5-1.6 4.5-1.6 4.6-1.5 4.5-1.5 4.6-1.4 4.7-1.3 4.6-1.2 4.7-1.1 4.7-1 4.6-1 4.8-0.9 4.7-0.7 4.7-0.7 4.8-0.7 4.8-0.5 4.7-0.4 4.8-0.3 4.8-0.3 4.8-0.1 4.8-0.1 4.8 0 4.8 0.1 4.8 0.2 4.8 0.3 4.8 0.4 4.7 0.6 4.8 0.6 4.7 0.7 4.7 0.8 4.7 1 4.7 1.1 4.7 1.2 4.6 1.3 4.5 1.5 4.6 1.5 4.5 1.6 4.5 1.7 4.4 1.8 4.5 1.9 4.3 1.9 4.4 2 4.3 2.1 4.3 2.1 4.3 2.2 4.2 2.3 4.1 2.4 4.1 2.5 4.1 2.6 4 2.7 3.9 2.7 3.9 2.8 3.9 2.8 3.9 2.8 3.8 3 3.7 2.9 3.8 3.1 3.6 3 3.7 3.1 3.6 3.2 3.6 3.2 3.5 3.3 3.5 3.3 3.4 3.3 3.4 3.4 3.4 3.4 3.4 3.4 3.4 3.3 3.4 3.4 3.4 3.4 3.4 3.4 3.4 3.4 3.4 3.4 3.4 3.3 3.4 3.4 1.7 1.7 1 0.9 0.7 0.8 0 0.6M522.6 0.6l0-0.6 0.1-1.1 0-1.3 0.2-2.3 0.9-4.6 1.5-4.4 2-4.3 2.5-3.9 3-3.7 3.4-3.2 3.8-2.7 4.1-2.3 4.3-1.7 4.6-1.2 4.6-0.6 4.7 0 4.7 0.6 4.5 1.2 4.4 1.7 4.1 2.3 3.8 2.7 3.4 3.2 3 3.7 2.5 3.9 2 4.3 1.4 4.4 0.9 4.6 0.2 2.3 0.1 1.3 0 1.1 0 0.6"/><use href="#s36" transform="scale(1,-1)"/>
<path id="s37" d="M-52.9 0.6l0-0.6 0-1.1 0-1.3 0.1-2.4 0.4-4.8 0.6-4.7 1-4.7 1.1-4.6 1.5-4.6 1.6-4.5 1.9-4.4 2.2-4.3 2.4-4.1 2.6-4 2.8-3.9 3-3.7 3.2-3.6 3.3-3.4 3.6-3.2 3.7-3.1 3.8-2.8 4-2.6 4.2-2.5 4.2-2.2 4.4-2 4.4-1.8 4.5-1.6 4.2-2.3 4.3-2.2 4.2-2.1 4.3-2.1 4.4-2 4.3-2 4.4-1.9 4.5-1.9 4.4-1.7 4.5-1.7 4.5-1.7 4.5-1.5 4.6-1.5 4.5-1.4 4.6-1.4 4.7-1.2 4.6-1.2 4.7-1.1 4.6-1 4.7-0.9 4.8-0.8 4.7-0.8 4.7-0.6 4.8-0.6 4.7-0.5 4.8-0.4 4.8-0.3 4.8-0.2 4.8-0.1 4.8 0 4.7 0.1 4.8 0.1 4.8 0.3 4.8 0.3 4.7 0.5 4.8 0.5 4.7 0.7 4.8 0.8 4.7 0.9 4.6 1.1 4.7 1.1 4.6 1.3 4.6 1.4 4.5 1.5 4.5 1.6 4.5 1.6 4.5 1.8 4.4 1.8 4.4 2 4.3 1.9 4.4 2.1 4.3 2.1 4.2 2.2 4.2 2.3 4.2 2.3 4.1 2.5 4 2.6 4 2.6 4 2.7 3.9 2.8 3.9 2.8 3.8 2.9 3.8 2.9 3.8 2.9 3.7 3 3.7 3.1 3.6 3.1 3.6 3.2 3.6 3.2 3.5 3.2 3.5 3.3 3.4 3.4 3.4 3.3 3.4 3.4 3.4 3.4 3.4 3.4 3.4 3.3 3.4 3.4 3.3 3.4 3.4 3.4 3.4 3.4 3.4 3.3 3.4 3.4 1.7 1.7 1 0.9 0.7 0.8 0 0.6M496 0.6l0-0.6 0-1.1 0-1.3 0.3-2.3 0.8-4.6 1.5-4.4 2-4.3 2.5-3.9 3-3.7 3.4-3.2 3.8-2.7 4.1-2.3 4.4-1.7 4.5-1.2 4.7-0.6 4.6 0 4.7 0.6 4.5 1.2 4.4 1.7 4.1 2.3 3.8 2.7 3.4 3.2 3 3.7 2.5 3.9 2 4.3 1.5 4.4 0.8 4.6 0.3 2.3 0 1.3 0 1.1 0 0.6"/><use href="#s37" transform="scale(1,-1)"/>
<path id="s38" d="M-52.9 0.6l0-0.6 0-1.1 0-1.3 0.1-2.4 0.4-4.7 0.6-4.8 1-4.7 1.1-4.6 1.4-4.5 1.7-4.5 1.9-4.4 2.1-4.3 2.4-4.1 2.6-4 2.8-3.9 3-3.7 3.2-3.6 3.3-3.4 3.6-3.2 3.6-3 3.9-2.9 4-2.6 4.1-2.5 4.2-2.2 4.3-2 4.5-1.8 4.5-1.6 4.2-2.2 4.2-2.2 4.3-2.1 4.3-2.1 4.4-2 4.3-1.9 4.4-1.9 4.4-1.8 4.5-1.7 4.5-1.7 4.5-1.6 4.5-1.5 4.5-1.5 4.6-1.4 4.6-1.3 4.6-1.2 4.7-1.1 4.6-1.1 4.7-0.9 4.7-0.9 4.7-0.8 4.7-0.7 4.8-0.6 4.7-0.6 4.8-0.4 4.7-0.3 4.8-0.3 4.8-0.2 4.8 0 4.7 0 4.8 0.1 4.8 0.2 4.8 0.3 4.7 0.4 4.8 0.5 4.7 0.6 4.7 0.8 4.7 0.8 4.7 1 4.6 1.1 4.7 1.2 4.5 1.4 4.6 1.4 4.5 1.6 4.5 1.6 4.4 1.8 4.5 1.8 4.3 1.9 4.4 1.9 4.3 2.1 4.3 2.1 4.3 2.1 4.2 2.3 4.1 2.3 4.1 2.5 4.1 2.5 4 2.6 3.9 2.7 3.9 2.8 3.9 2.8 3.8 2.9 3.8 2.9 3.8 2.9 3.7 3 3.7 3.1 3.6 3.1 3.6 3.1 3.5 3.2 3.5 3.3 3.5 3.3 3.4 3.3 3.4 3.4 3.4 3.3 3.4 3.4 3.3 3.4 3.4 3.4 3.4 3.3 3.4 3.4 3.4 3.4 3.3 3.4 3.4 3.3 3.4 3.4 1.7 1.7 0.9 0.9 0.8 0.8 0 0.6M469.3 0.6l0-0.6 0-1.1 0.1-1.3 0.2-2.3 0.9-4.6 1.4-4.4 2-4.3 2.5-3.9 3-3.7 3.4-3.2 3.8-2.7 4.1-2.3 4.4-1.7 4.5-1.2 4.7-0.6 4.7 0 4.6 0.6 4.6 1.2 4.3 1.7 4.1 2.3 3.8 2.7 3.4 3.2 3 3.7 2.5 3.9 2 4.3 1.5 4.4 0.9 4.6 0.2 2.3 0 1.3 0.1 1.1 0 0.6"/><use href="#s38" transform="scale(1,-1)"/>
<path id="s39" d="M-52.9 0.6l0-0.6 0-1.1 0-1.3 0.1-2.4 0.4-4.7 0.6-4.7 0.9-4.7 1.2-4.6 1.4-4.5 1.7-4.5 1.8-4.4 2.2-4.2 2.3-4.2 2.6-4 2.8-3.8 2.9-3.8 3.2-3.5 3.3-3.4 3.5-3.2 3.7-3 3.8-2.9 4-2.6 4.1-2.5 4.2-2.2 4.3-2 4.4-1.8 4.4-1.6 4.3-2.1 4.3-2.2 4.2-2.1 4.3-2 4.4-1.9 4.3-1.9 4.4-1.9 4.5-1.7 4.4-1.7 4.5-1.6 4.5-1.6 4.5-1.5 4.5-1.4 4.6-1.3 4.6-1.2 4.6-1.2 4.7-1.1 4.6-1 4.7-0.9 4.7-0.8 4.7-0.8 4.7-0.7 4.7-0.5 4.7-0.5 4.8-0.4 4.7-0.3 4.8-0.2 4.7-0.1 4.8-0.1 4.7 0.1 4.8 0.1 4.8 0.3 4.7 0.3 4.7 0.5 4.8 0.5 4.7 0.7 4.7 0.8 4.6 0.9 4.7 1.1 4.6 1.1 4.6 1.3 4.5 1.4 4.5 1.6 4.5 1.6 4.4 1.7 4.5 1.8 4.3 1.8 4.4 1.9 4.3 2 4.3 2.1 4.2 2.2 4.2 2.2 4.2 2.3 4.1 2.4 4 2.5 4 2.6 4 2.7 3.9 2.7 3.8 2.8 3.8 2.9 3.8 2.8 3.8 3 3.7 3 3.6 3 3.6 3.1 3.6 3.1 3.6 3.2 3.4 3.3 3.5 3.2 3.4 3.4 3.4 3.3 3.3 3.4 3.4 3.3 3.4 3.4 3.3 3.4 3.4 3.3 3.4 3.4 3.3 3.4 3.4 3.3 3.4 3.4 3.3 3.3 1.7 1.7 1 0.9 0.7 0.8 0 0.6M442.6 0.6l0-0.6 0.1-1.1 0-1.3 0.2-2.3 0.9-4.6 1.5-4.4 2-4.3 2.5-3.9 3-3.7 3.4-3.2 3.8-2.7 4.1-2.3 4.3-1.7 4.6-1.2 4.6-0.6 4.7 0 4.7 0.6 4.5 1.2 4.4 1.7 4.1 2.3 3.8 2.7 3.4 3.2 3 3.7 2.5 3.9 2 4.3 1.4 4.4 0.9 4.6 0.2 2.3 0.1 1.3 0 1.1 0 0.6"/><use href="#s39" transform="scale(1,-1)"/>
<path id="s40" d="M-52.9 0.6l0-0.6 0-1.1 0-1.3 0.1-2.4 0.4-4.7 0.6-4.8 1-4.7 1.1-4.6 1.4-4.6 1.7-4.4 1.9-4.4 2.2-4.3 2.3-4.1 2.6-4.1 2.8-3.8 3-3.8 3.2-3.5 3.4-3.4 3.5-3.2 3.7-3.1 3.8-2.8 4-2.6 4.1-2.5 4.3-2.2 4.3-2 4.4-1.8 4.5-1.6 4.3-2.1 4.3-2.1 4.3-2.1 4.4-1.9 4.4-2 4.4-1.8 4.4-1.8 4.5-1.7 4.5-1.6 4.5-1.6 4.5-1.5 4.6-1.4 4.6-1.3 4.6-1.3 4.6-1.2 4.7-1.1 4.6-1 4.7-0.9 4.7-0.8 4.8-0.8 4.7-0.7 4.7-0.6 4.8-0.4 4.8-0.4 4.7-0.4 4.8-0.2 4.8-0.1 4.8-0.1 4.7 0.1 4.8 0.1 4.8 0.3 4.8 0.3 4.7 0.5 4.8 0.6 4.7 0.7 4.7 0.8 4.7 0.9 4.6 1.1 4.7 1.2 4.6 1.3 4.5 1.5 4.5 1.5 4.5 1.7 4.5 1.7 4.4 1.8 4.4 1.9 4.3 2 4.4 2 4.3 2.1 4.2 2.2 4.2 2.3 4.1 2.4 4.1 2.5 4.1 2.5 3.9 2.7 4 2.7 3.9 2.8 3.8 2.8 3.8 2.9 3.8 2.9 3.7 3 3.7 3.1 3.6 3.1 3.6 3.1 3.6 3.2 3.5 3.2 3.5 3.3 3.4 3.4 3.4 3.3 3.4 3.4 3.4 3.4 3.3 3.4 3.4 3.4 3.4 3.3 3.4 3.4 3.4 3.4 3.4 3.4 3.3 3.3 3.4 3.4 1.7 1.7 0.9 0.9 0.8 0.8 0 0.6M416 0.6l0-0.6 0-1.1 0.1-1.3 0.2-2.3 0.8-4.6 1.5-4.4 2-4.3 2.5-3.9 3-3.7 3.4-3.2 3.8-2.7 4.1-2.3 4.4-1.7 4.5-1.2 4.7-0.6 4.6 0 4.7 0.6 4.5 1.2 4.4 1.7 4.1 2.3 3.8 2.7 3.4 3.2 3 3.7 2.5 3.9 2 4.3 1.5 4.4 0.8 4.6 0.3 2.3 0 1.3 0 1.1 0 0.6"/><use href="#s40" transform="scale(1,-1)"/>
<path id="s41" d="M-52.9 0.6l0-0.6 0-1.1 0-1.3 0.1-2.4 0.4-4.8 0.6-4.7 1-4.7 1.1-4.7 1.5-4.6 1.7-4.5 1.9-4.3 2.1-4.3 2.4-4.2 2.6-4 2.8-3.9 3-3.7 3.3-3.6 3.3-3.4 3.6-3.2 3.7-3.1 3.9-2.8 4-2.6 4.1-2.5 4.3-2.2 4.3-2 4.5-1.8 4.5-1.6 4.3-2.1 4.4-2 4.3-2 4.4-2 4.4-1.8 4.5-1.8 4.5-1.7 4.5-1.7 4.5-1.6 4.5-1.5 4.6-1.4 4.6-1.3 4.7-1.3 4.6-1.2 4.7-1.1 4.7-1 4.7-1 4.7-0.8 4.7-0.8 4.8-0.7 4.7-0.6 4.8-0.5 4.8-0.4 4.8-0.3 4.7-0.3 4.8-0.1 4.8 0 4.8 0 4.8 0.1 4.8 0.3 4.8 0.3 4.8 0.5 4.7 0.6 4.8 0.7 4.7 0.8 4.7 1 4.7 1.1 4.6 1.2 4.6 1.4 4.6 1.5 4.5 1.5 4.5 1.7 4.5 1.8 4.4 1.9 4.4 1.9 4.3 2 4.4 2.1 4.2 2.1 4.3 2.3 4.2 2.3 4.1 2.5 4 2.5 4.1 2.7 3.9 2.7 3.9 2.7 3.9 2.9 3.8 2.9 3.8 2.9 3.8 3 3.7 3 3.6 3.1 3.7 3.2 3.5 3.2 3.6 3.2 3.4 3.3 3.5 3.4 3.4 3.4 3.4 3.4 3.4 3.3 3.4 3.4 3.3 3.4 3.4 3.4 3.4 3.4 3.4 3.4 3.4 3.4 3.4 3.4 3.4 3.4 1.7 1.7 0.9 0.9 0.8 0.8 0 0.6M389.3 0.6l0-0.6 0-1.1 0.1-1.3 0.2-2.3 0.9-4.6 1.4-4.4 2-4.3 2.5-3.9 3-3.7 3.4-3.2 3.8-2.7 4.1-2.3 4.4-1.7 4.5-1.2 4.7-0.6 4.7 0 4.6 0.6 4.6 1.2 4.3 1.7 4.1 2.3 3.8 2.7 3.4 3.2 3 3.7 2.5 3.9 2 4.3 1.5 4.4 0.9 4.6 0.2 2.3 0.1 1.3 0 1.1 0 0.6"/><use href="#s41" transform="scale(1,-1)"/>
<path id="s42" d="M-52.9 0.6l0-0.6 0-1.1 0-1.3 0.1-2.4 0.4-4.7 0.6-4.7 0.9-4.7 1.2-4.6 1.4-4.6 1.7-4.4 1.9-4.4 2.1-4.3 2.3-4.1 2.6-4 2.8-3.9 3-3.7 3.1-3.6 3.4-3.3 3.5-3.3 3.7-3 3.8-2.8 3.9-2.7 4.1-2.4 4.2-2.2 4.3-2.1 4.4-1.8 4.5-1.6 4.4-1.9 4.3-2 4.3-1.9 4.4-1.9 4.5-1.8 4.4-1.7 4.5-1.7 4.5-1.5 4.5-1.5 4.5-1.5 4.6-1.3 4.6-1.3 4.6-1.2 4.6-1.2 4.6-1 4.7-1 4.7-0.9 4.7-0.8 4.7-0.7 4.7-0.6 4.7-0.5 4.8-0.5 4.7-0.4 4.8-0.2 4.7-0.2 4.8-0.1 4.8 0 4.7 0 4.8 0.2 4.7 0.3 4.8 0.4 4.7 0.5 4.7 0.7 4.7 0.7 4.7 0.9 4.7 1.1 4.6 1.1 4.6 1.3 4.5 1.5 4.5 1.5 4.5 1.6 4.4 1.8 4.4 1.8 4.4 1.9 4.3 1.9 4.3 2.1 4.3 2.1 4.2 2.2 4.2 2.3 4.1 2.4 4 2.5 4 2.6 4 2.7 3.9 2.7 3.8 2.9 3.8 2.8 3.8 2.9 3.7 3 3.7 3 3.6 3.1 3.6 3.1 3.6 3.2 3.5 3.2 3.4 3.3 3.5 3.3 3.3 3.4 3.4 3.3 3.4 3.4 3.3 3.4 3.4 3.3 3.4 3.4 3.3 3.4 3.4 3.3 3.4 3.4 3.3 3.4 3.4 3.3 1.7 1.7 0.9 0.9 0.8 0.8 0 0.6M362.6 0.6l0-0.6 0.1-1.1 0-1.3 0.2-2.3 0.9-4.6 1.5-4.4 2-4.3 2.5-3.9 3-3.7 3.4-3.2 3.8-2.7 4.1-2.3 4.3-1.7 4.6-1.2 4.6-0.6 4.7 0 4.7 0.6 4.5 1.2 4.4 1.7 4.1 2.3 3.8 2.7 3.4 3.2 3 3.7 2.5 3.9 2 4.3 1.4 4.4 0.9 4.6 0.2 2.3 0.1 1.3 0 1.1 0 0.6"/><use href="#s42" transform="scale(1,-1)"/>
<path id="s43" d="M-52.9 0.6l0-0.6 0-1.1 0-1.3 0.1-2.4 0.4-4.7 0.6-4.7 0.9-4.7 1.2-4.6 1.4-4.6 1.7-4.4 1.9-4.4 2.1-4.3 2.3-4.1 2.6-4 2.8-3.9 3-3.7 3.1-3.6 3.4-3.4 3.5-3.2 3.7-3 3.8-2.8 4-2.7 4.1-2.4 4.2-2.3 4.3-2 4.4-1.8 4.5-1.6 4.3-1.9 4.4-1.9 4.4-1.8 4.4-1.8 4.5-1.7 4.4-1.7 4.5-1.5 4.6-1.6 4.5-1.4 4.6-1.3 4.6-1.3 4.6-1.2 4.6-1.1 4.6-1.1 4.7-0.9 4.7-0.9 4.7-0.8 4.7-0.7 4.7-0.7 4.8-0.5 4.7-0.5 4.7-0.3 4.8-0.3 4.8-0.2 4.7-0.1 4.8-0.1 4.8 0.1 4.7 0.2 4.8 0.3 4.7 0.4 4.8 0.5 4.7 0.7 4.7 0.7 4.6 1 4.7 1 4.6 1.2 4.6 1.3 4.5 1.5 4.5 1.5 4.5 1.7 4.4 1.8 4.4 1.8 4.4 1.9 4.3 2 4.3 2.1 4.2 2.2 4.2 2.2 4.2 2.4 4 2.5 4 2.5 4 2.7 3.9 2.7 3.9 2.8 3.8 2.8 3.8 2.9 3.7 3 3.7 3 3.7 3.1 3.6 3.1 3.5 3.1 3.5 3.3 3.5 3.2 3.4 3.4 3.4 3.3 3.4 3.4 3.3 3.4 3.4 3.3 3.4 3.4 3.3 3.4 3.4 3.3 3.4 3.4 3.3 3.4 3.4 3.4 3.4 3.3 1.6 1.7 1 0.9 0.7 0.8 0 0.6M336 0.6l0-0.6 0-1.1 0.1-1.3 0.2-2.3 0.9-4.6 1.4-4.4 2-4.3 2.5-3.9 3-3.7 3.4-3.2 3.8-2.7 4.1-2.3 4.4-1.7 4.5-1.2 4.7-0.6 4.7 0 4.6 0.6 4.5 1.2 4.4 1.7 4.1 2.3 3.8 2.7 3.4 3.2 3 3.7 2.5 3.9 2 4.3 1.5 4.4 0.8 4.6 0.3 2.3 0 1.3 0 1.1 0 0.6"/><use href="#s43" transform="scale(1,-1)"/>
<path id="s44" d="M-52.9 0.6l0-0.6 0-1.1 0-1.3 0.1-2.4 0.4-4.7 0.6-4.8 1-4.7 1.1-4.6 1.5-4.6 1.6-4.5 1.9-4.3 2.2-4.3 2.3-4.2 2.6-4 2.8-3.9 3-3.7 3.2-3.6 3.4-3.4 3.5-3.2 3.7-3 3.9-2.8 4-2.7 4.1-2.4 4.2-2.2 4.4-2.1 4.4-1.8 4.5-1.5 4.4-1.9 4.5-1.8 4.4-1.7 4.5-1.7 4.5-1.6 4.5-1.5 4.6-1.5 4.6-1.4 4.6-1.3 4.6-1.3 4.6-1.1 4.7-1.1 4.6-1 4.7-1 4.7-0.8 4.8-0.8 4.7-0.7 4.7-0.6 4.8-0.5 4.8-0.4 4.7-0.4 4.8-0.2 4.8-0.2 4.8-0.1 4.8 0 4.7 0.1 4.8 0.2 4.8 0.3 4.8 0.5 4.7 0.5 4.7 0.7 4.7 0.9 4.7 0.9 4.7 1.2 4.6 1.2 4.6 1.4 4.5 1.6 4.5 1.6 4.5 1.7 4.4 1.9 4.4 1.9 4.3 1.9 4.3 2.1 4.3 2.2 4.2 2.2 4.2 2.4 4.1 2.5 4 2.5 4 2.7 3.9 2.7 3.9 2.8 3.8 2.9 3.8 2.9 3.8 3 3.7 3 3.6 3.1 3.6 3.1 3.6 3.2 3.5 3.3 3.4 3.3 3.4 3.4 3.4 3.3 3.4 3.4 3.4 3.4 3.4 3.4 3.4 3.4 3.4 3.3 3.3 3.4 3.4 3.4 3.4 3.4 0.4 0.4 1.1-4 1.8-4.5 2.4-4.1 2.9-3.8 3.3-3.5 3.7-2.9 4.1-2.5 4.4-1.9 4.6-1.4 4.7-0.8 4.8-0.1 4.7 0.5 4.7 1 4.5 1.7 4.2 2.2 3.9 2.7 3.6 3.2 3.1 3.7 2.6 4 2 4.3 1.6 4.5 0.9 4.7 0.2 2.4 0.1 1.3 0 1.1 0 0.6"/><use href="#s44" transform="scale(1,-1)"/>
<path id="s45" d="M-52.9 0.6l0-0.6 0-1.1 0-1.3 0.1-2.4 0.4-4.8 0.6-4.7 1-4.7 1.1-4.7 1.5-4.6 1.7-4.5 1.9-4.3 2.1-4.3 2.4-4.2 2.6-4 2.8-3.9 3.1-3.7 3.2-3.6 3.3-3.4 3.6-3.2 3.7-3.1 3.9-2.8 4-2.6 4.1-2.5 4.3-2.2 4.3-2 4.5-1.8 4.5-1.6 4.5-1.7 4.5-1.6 4.5-1.6 4.6-1.6 4.5-1.4 4.6-1.4 4.6-1.3 4.7-1.3 4.6-1.2 4.7-1.1 4.7-1 4.7-1 4.7-0.9 4.7-0.8 4.8-0.7 4.7-0.6 4.8-0.6 4.8-0.5 4.7-0.4 4.8-0.3 4.8-0.2 4.8-0.2 4.8 0 4.8 0 4.8 0.1 4.8 0.2 4.8 0.4 4.8 0.5 4.7 0.6 4.7 0.7 4.8 0.9 4.6 1.1 4.7 1.2 4.6 1.3 4.6 1.5 4.5 1.6 4.5 1.7 4.4 1.8 4.4 1.9 4.4 1.9 4.3 2.1 4.3 2.1 4.3 2.3 4.2 2.3 4.1 2.5 4 2.6 4 2.6 3.9 2.8 3.9 2.8 3.9 2.9 3.8 2.9 3.7 3 3.7 3 3.7 3.1 3.6 3.2 3.5 3.2 3.5 3.3 3.5 3.3 3.4 3.4 3.4 3.4 3.4 3.4 3.4 3.4 3.4 3.3 3.2 3.2 0.2-0.3 2.8-3.8 3.3-3.5 3.8-3 4.1-2.5 4.3-2 4.6-1.4 4.8-0.7 4.7-0.2 4.8 0.4 4.7 1.1 4.5 1.6 4.3 2.2 3.9 2.8 3.6 3.2 3.1 3.6 2.6 4 2.1 4.4 1.5 4.5 0.9 4.7 0.2 2.4 0.1 1.3 0 1.1 0 0.6"/><use href="#s45" transform="scale(1,-1)"/>
<path id="s46" d="M-52.9 0.6l0-0.6 0-1.1 0-1.3 0.1-2.4 0.4-4.7 0.6-4.8 1-4.7 1.1-4.6 1.4-4.6 1.7-4.4 1.9-4.4 2.2-4.3 2.3-4.1 2.6-4.1 2.8-3.8 3-3.8 3.2-3.5 3.3-3.4 3.6-3.2 3.7-3.1 3.8-2.8 4-2.6 4.1-2.5 4.2-2.2 4.4-2 4.4-1.8 4.5-1.6 4.5-1.6 4.5-1.5 4.6-1.4 4.6-1.4 4.6-1.3 4.6-1.2 4.6-1.2 4.7-1.1 4.6-1.1 4.7-0.9 4.7-0.9 4.7-0.8 4.7-0.8 4.8-0.7 4.7-0.6 4.7-0.5 4.8-0.4 4.8-0.4 4.7-0.3 4.8-0.2 4.8-0.2 4.8-0.1 4.7 0.1 4.8 0.1 4.8 0.2 4.8 0.4 4.7 0.5 4.7 0.6 4.8 0.8 4.6 1 4.7 1 4.6 1.3 4.6 1.4 4.5 1.5 4.5 1.6 4.5 1.8 4.4 1.8 4.3 1.9 4.4 2 4.3 2.1 4.2 2.2 4.2 2.3 4.1 2.4 4.1 2.6 3.9 2.6 4 2.8 3.9 2.7 3.8 2.9 3.8 2.9 3.7 3 3.7 3 3.6 3.1 3.6 3.2 3.6 3.2 3.4 3.3 3.5 3.3 3.4 3.4 3.4 3.3 3.4 3.4 0.5 0.5 3.2-2.5 4.1-2.5 4.3-1.9 4.6-1.3 4.7-0.8 4.8-0.1 4.8 0.5 4.6 1 4.5 1.7 4.2 2.2 3.9 2.8 3.6 3.2 3.1 3.6 2.6 4 2 4.3 1.5 4.5 0.9 4.7 0.3 2.4 0 1.3 0 1.1 0 0.6"/><use href="#s46" transform="scale(1,-1)"/>
<path id="s47" d="M-52.9 0.6l0-0.6 0-1.1 0-1.3 0.1-2.4 0.4-4.8 0.6-4.7 1-4.7 1.1-4.7 1.5-4.5 1.7-4.5 1.9-4.4 2.1-4.3 2.4-4.2 2.6-4 2.8-3.9 3-3.7 3.2-3.6 3.4-3.4 3.6-3.2 3.7-3 3.8-2.9 4-2.6 4.2-2.4 4.2-2.2 4.4-2.1 4.4-1.7 4.6-1.6 4.5-1.4 4.6-1.4 4.7-1.3 4.6-1.2 4.6-1.2 4.7-1 4.7-1.1 4.7-0.9 4.7-0.9 4.7-0.9 4.8-0.7 4.7-0.7 4.8-0.6 4.7-0.6 4.8-0.4 4.8-0.4 4.8-0.4 4.7-0.2 4.8-0.2 4.8-0.1 4.8 0 4.8 0 4.8 0.2 4.8 0.3 4.8 0.5 4.7 0.6 4.8 0.7 4.7 0.9 4.6 1.1 4.7 1.2 4.6 1.4 4.5 1.5 4.5 1.6 4.5 1.8 4.4 1.9 4.4 1.9 4.3 2.1 4.3 2.1 4.2 2.2 4.2 2.4 4.1 2.5 4 2.6 4 2.7 3.9 2.8 3.9 2.8 3.8 2.9 3.7 3 3.7 3.1 3.7 3.1 3.6 3.1 3.5 3.3 3.5 3.3 3.4 3.3 3.4 3.4 1.4 1.3 2.6-1.1 4.6-1.4 4.8-0.7 4.8-0.2 4.7 0.4 4.7 1.1 4.5 1.6 4.2 2.2 4 2.8 3.5 3.2 3.1 3.6 2.7 4.1 2 4.3 1.5 4.5 1 4.7 0.2 2.4 0.1 1.3 0 1.1 0 0.6"/><use href="#s47" transform="scale(1,-1)"/>
<path id="s48" d="M-52.9 0.6l0-0.6 0-1.1 0-1.3 0.1-2.4 0.4-4.8 0.6-4.7 1-4.7 1.1-4.6 1.5-4.6 1.6-4.5 2-4.4 2.1-4.3 2.4-4.1 2.6-4.1 2.8-3.8 3-3.8 3.2-3.5 3.4-3.4 3.5-3.2 3.7-3.1 3.9-2.8 4-2.7 4.1-2.4 4.2-2.2 4.4-2 4.4-1.8 4.6-1.6 4.6-1.3 4.6-1.2 4.6-1.2 4.7-1.1 4.7-1 4.7-1 4.7-0.9 4.7-0.9 4.7-0.8 4.7-0.7 4.8-0.6 4.7-0.6 4.8-0.5 4.8-0.5 4.7-0.3 4.8-0.3 4.8-0.3 4.8-0.1 4.8-0.1 4.8 0 4.8 0.1 4.8 0.2 4.7 0.4 4.8 0.5 4.7 0.6 4.7 0.9 4.7 1 4.7 1.2 4.6 1.3 4.5 1.6 4.5 1.6 4.5 1.8 4.4 1.8 4.3 2 4.3 2.1 4.3 2.2 4.2 2.2 4.2 2.5 4 2.5 4 2.7 3.9 2.7 3.9 2.9 3.8 2.9 3.7 2.9 3.8 3.1 3.6 3.1 3.6 3.2 3.5 3.2 3.5 3.3 3.4 3.4 2.4 2.4 1.4-0.2 4.7-0.1 4.8 0.4 4.7 1.1 4.5 1.7 4.2 2.2 3.9 2.7 3.6 3.2 3.1 3.7 2.6 4 2.1 4.3 1.5 4.5 0.9 4.7 0.2 2.4 0.1 1.3 0 1.1 0 0.6"/><use href="#s48" transform="scale(1,-1)"/>
<path id="s49" d="M-52.9 0.6l0-0.6 0-1.1 0-1.3 0.1-2.3 0.4-4.8 0.6-4.7 0.9-4.7 1.2-4.6 1.4-4.5 1.6-4.5 1.9-4.3 2.1-4.3 2.4-4.1 2.5-4 2.8-3.9 3-3.7 3.1-3.6 3.4-3.3 3.5-3.3 3.6-3 3.8-2.8 4-2.7 4-2.4 4.2-2.3 4.3-2 4.4-1.8 4.5-1.6 4.6-1.2 4.6-1.2 4.6-1 4.7-1 4.6-1 4.7-0.9 4.7-0.8 4.7-0.7 4.7-0.7 4.7-0.6 4.7-0.6 4.7-0.4 4.8-0.4 4.7-0.4 4.8-0.2 4.7-0.2 4.8-0.2 4.7 0 4.8 0 4.7 0.2 4.8 0.3 4.7 0.4 4.7 0.7 4.7 0.8 4.6 1 4.6 1.2 4.6 1.4 4.4 1.6 4.5 1.7 4.4 1.9 4.3 1.9 4.3 2.1 4.2 2.1 4.2 2.3 4.1 2.4 4 2.6 3.9 2.7 3.8 2.7 3.8 2.9 3.8 3 3.6 3 3.7 3.1 3.5 3.1 3.5 3.2 3.4 3.3 3.4 3.4 3.3 3.4 1.5 1.6 2.6 0.3 4.6 1.1 4.4 1.7 4.2 2.2 3.9 2.8 3.5 3.2 3 3.6 2.6 4 2.1 4.3 1.4 4.5 0.9 4.7 0.3 2.3 0 1.3 0.1 1.1 0 0.6"/><use href="#s49" transform="scale(1,-1)"/>
<path id="s50" d="M-52.9 0.6l0-0.6 0-1.1 0-1.3 0.1-2.4 0.4-4.7 0.6-4.8 1-4.7 1.1-4.6 1.5-4.6 1.6-4.5 1.9-4.3 2.2-4.3 2.3-4.2 2.6-4 2.8-3.9 3-3.7 3.2-3.6 3.4-3.4 3.5-3.2 3.7-3 3.9-2.8 4-2.7 4.1-2.4 4.2-2.2 4.4-2.1 4.4-1.8 4.5-1.5 4.7-1.1 4.6-1 4.7-1 4.7-0.8 4.7-0.8 4.8-0.8 4.7-0.7 4.7-0.6 4.8-0.5 4.8-0.5 4.7-0.4 4.8-0.3 4.8-0.3 4.8-0.2 4.7-0.1 4.8 0 4.8 0 4.8 0.2 4.7 0.4 4.8 0.6 4.7 0.8 4.7 1.1 4.6 1.2 4.5 1.5 4.5 1.6 4.4 1.9 4.4 1.9 4.3 2.1 4.2 2.2 4.2 2.4 4.1 2.4 4 2.7 3.9 2.7 3.8 2.9 3.8 3 3.6 3.1 3.6 3.1 3.6 3.2 3.4 3.3 3.4 3.4 3.4 3.4 3.2 3.5 3.2 3.6 1.4 1.6 2.5 1 4.2 2.2 3.9 2.7 3.6 3.2 3.1 3.7 2.6 4 2.1 4.3 1.5 4.5 0.9 4.7 0.2 2.4 0.1 1.3 0 1.1 0 0.6"/><use href="#s50" transform="scale(1,-1)"/>
<path id="s51" d="M-52.9 0.6l0-0.6 0-1.1 0-1.3 0.1-2.4 0.4-4.7 0.6-4.7 0.9-4.7 1.2-4.6 1.4-4.5 1.7-4.5 1.8-4.4 2.2-4.2 2.3-4.2 2.6-4 2.8-3.8 2.9-3.8 3.2-3.5 3.3-3.4 3.5-3.2 3.7-3 3.8-2.9 4-2.6 4-2.5 4.2-2.2 4.4-2 4.4-1.8 4.4-1.6 4.7-1 4.7-0.9 4.6-0.8 4.7-0.8 4.8-0.7 4.7-0.6 4.7-0.5 4.7-0.5 4.8-0.4 4.7-0.3 4.8-0.3 4.7-0.2 4.8-0.1 4.7 0 4.8 0 4.7 0.3 4.8 0.5 4.7 0.7 4.6 1 4.6 1.3 4.5 1.5 4.5 1.7 4.3 2 4.3 2.1 4.1 2.3 4.2 2.3 4 2.6 3.9 2.7 3.8 2.8 3.7 3 3.6 3.1 3.5 3.2 3.5 3.3 3.4 3.3 3.3 3.5 3.2 3.5 3.1 3.6 3.1 3.6 3 3.7 2.2 2.6 1.1 0.7 3.9 2.7 3.5 3.3 3.1 3.6 2.6 4 2 4.3 1.5 4.5 0.9 4.7 0.2 2.3 0.1 1.3 0 1.1 0 0.6"/><use href="#s51" transform="scale(1,-1)"/>
<path id="s52" d="M-54.4 0.6l0-0.6 0-1.1 0-1.3 0-2.4 0.2-4.7 0.4-4.7 0.6-4.8 0.8-4.6 1.2-4.7 1.4-4.5 1.6-4.5 2-4.3 2.3-4.2 2.5-4 2.8-3.8 3.1-3.7 3.3-3.4 3.5-3.2 3.7-3 3.8-2.8 4-2.6 4.1-2.4 4.3-2.1 4.3-2 4.4-1.8 4.5-1.6 4.5-1.4 4.6-1.3 4.6-1.1 4.7-1 4.7-0.8 4.7-0.7 4.7-0.5 4.7-0.5 4.8-0.3 4.7-0.3 4.8-0.1 4.7-0.1 4.8 0 4.7 0.1 4.8 0.4 4.7 0.8 4.6 1.1 4.5 1.4 4.5 1.6 4.3 2 4.2 2.1 4.2 2.4 4 2.6 3.9 2.7 3.7 2.9 3.7 3 3.6 3.2 3.5 3.2 3.4 3.3 3.3 3.5 3.2 3.5 3.1 3.5 3.1 3.7 3 3.7 2.9 3.7 2.9 3.8 0.6 0.9 3 2.2 3.5 3.2 3 3.6 2.6 4 2.1 4.3 1.4 4.5 0.9 4.7 0.3 2.3 0 1.3 0.1 1.1 0 0.6"/><use href="#s52" transform="scale(1,-1)"/>
<path id="s53" d="M-54.2 0.6l0-0.6 0-1.1 0-1.3 0.1-2.4 0.2-4.8 0.5-4.7 0.8-4.8 1-4.6 1.3-4.6 1.5-4.6 1.9-4.4 2.1-4.3 2.4-4.1 2.7-4 2.9-3.8 3.2-3.6 3.3-3.4 3.6-3.1 3.7-3 4-2.8 4-2.5 4.2-2.4 4.3-2.1 4.4-1.9 4.4-1.7 4.6-1.5 4.6-1.3 4.6-1.2 4.7-0.9 4.7-0.8 4.8-0.6 4.7-0.5 4.8-0.3 4.8-0.3 4.8 0 4.8 0 4.7 0.3 4.8 0.7 4.7 1 4.6 1.3 4.5 1.6 4.4 1.9 4.2 2.2 4.2 2.4 4 2.6 3.8 2.8 3.8 3 3.6 3.2 3.4 3.3 3.4 3.4 3.2 3.5 3 3.7 3 3.8 2.8 3.9 2.7 3.9 2.5 4.1 2.5 4.1 2.3 4.2 2.3 4.2 2.6 4 2.1 4.3 1.5 4.5 0.9 4.7 0.2 2.4 0.1 1.3 0 1.1 0 0.6"/><use href="#s53" transform="scale(1,-1)"/>
<path id="s54" d="M-54 0.6l0-0.6 0-1.1 0.1-1.3 0-2.4 0.3-4.7 0.6-4.7 0.7-4.7 1.1-4.6 1.3-4.6 1.6-4.5 1.8-4.4 2.1-4.2 2.4-4.1 2.6-4 2.9-3.8 3.1-3.6 3.3-3.4 3.5-3.2 3.8-3 3.8-2.7 4.1-2.5 4.1-2.3 4.3-2.1 4.4-1.8 4.5-1.5 4.6-1.4 4.6-1.1 4.7-0.9 4.7-0.6 4.7-0.5 4.7-0.3 4.8 0 4.8 0.1 4.7 0.5 4.7 0.8 4.6 1.1 4.5 1.5 4.4 1.7 4.3 2.1 4.2 2.3 4 2.5 3.9 2.8 3.7 2.9 3.5 3.2 3.4 3.4 3.2 3.5 3 3.6 2.9 3.8 2.7 3.9 2.5 4.1 2.3 4.1 2.2 4.3 1.9 4.3 1.8 4.4 1.5 4.5 0.8 4.7 0.1 0.3 1.3 4.2 0.9 4.7 0.2 2.3 0.1 1.3 0 1.1 0 0.6"/><use href="#s54" transform="scale(1,-1)"/>
<path id="s55" d="M-53.8 0.6l0-0.6 0-1.1 0.1-1.3 0-2.4 0.3-4.8 0.6-4.7 0.7-4.7 1.1-4.7 1.2-4.6 1.5-4.5 1.8-4.5 2.1-4.3 2.3-4.2 2.6-4 2.8-3.9 3.1-3.6 3.3-3.5 3.5-3.2 3.8-2.9 4-2.6 4.1-2.4 4.4-2 4.4-1.7 4.6-1.4 4.7-1 4.7-0.7 4.8-0.4 4.8-0.1 4.7 0.2 4.8 0.6 4.7 0.9 4.6 1.2 4.5 1.5 4.5 1.8 4.3 2.1 4.1 2.4 4 2.6 3.8 2.9 3.6 3.2 3.4 3.3 3.2 3.6 2.9 3.7 2.8 4 2.5 4 2.2 4.3 2 4.3 1.7 4.5 1.5 4.5 1.2 4.6 0.9 4.7 0.7 4.8 0.4 4.7 0.1 2.4 0.1 1.3 0 1.1 0 0.6"/><use href="#s55" transform="scale(1,-1)"/>
<path id="s56" d="M-53.5 0.6l0-0.6 0-1.1 0-1.3 0.1-2.4 0.3-4.7 0.7-4.7 0.8-4.7 1.2-4.6 1.4-4.6 1.7-4.4 2-4.3 2.2-4.2 2.6-4.1 2.8-3.8 3.1-3.6 3.3-3.4 3.6-3.1 3.9-2.8 4-2.5 4.3-2.1 4.4-1.7 4.6-1.3 4.7-0.9 4.7-0.5 4.8-0.1 4.7 0.4 4.7 0.8 4.6 1.3 4.4 1.7 4.2 2.2 4.1 2.5 3.8 2.9 3.6 3.1 3.3 3.4 3 3.7 2.8 3.8 2.5 4.1 2.2 4.2 2 4.3 1.7 4.5 1.4 4.5 1.2 4.6 0.9 4.7 0.7 4.7 0.4 4.7 0.1 2.4 0 1.3 0 1.1 0 0.6"/><use href="#s56" transform="scale(1,-1)"/>
<path id="s57" d="M-53.3 0.6l0-0.6 0-1.1 0-1.3 0.2-2.4 0.6-4.7 1.1-4.7 1.5-4.5 1.9-4.4 2.2-4.3 2.7-3.9 2.9-3.8 3.3-3.4 3.6-3.2 3.9-2.8 4.1-2.5 4.3-2 4.5-1.7 4.6-1.3 4.7-0.8 4.8-0.5 4.8 0 4.8 0.5 4.7 0.8 4.6 1.3 4.5 1.7 4.3 2 4.1 2.5 3.9 2.8 3.6 3.2 3.3 3.4 2.9 3.8 2.7 3.9 2.2 4.3 1.9 4.4 1.5 4.5 1.1 4.7 0.6 4.7 0.2 2.4 0 1.3 0 1.1 0 0.6"/><use href="#s57" transform="scale(1,-1)"/>
</g>
</g>
<g transform="translate(175.9,716.0)">
<path id="s58" d="M-52 0.6l0-0.6 0-1.1 0-1.3 0.2-4 0.6-6.3 1.1-6.3 1.5-6.2 1.9-6.1 2.3-6 2.7-5.8 3.1-5.6 3.4-5.3 3.8-5.2 4.1-4.9 4.4-4.6 4.6-4.4 5-4 5.1-3.8 5.4-3.4 5.6-3.1 5.8-2.8 5.9-2.4 2.8-1 2.8-1.9 5.3-3.5 5.4-3.4 5.4-3.4 5.5-3.3 5.5-3.2 5.6-3.1 5.7-2.9 5.7-2.9 5.8-2.6 5.9-2.5 5.9-2.4 6-2.3 6-2.1 6.1-2 6.1-1.8 6.1-1.7 6.3-1.4 6.2-1.2 6.4-1 6.3-0.7 6.4-0.6 6.3-0.4 6.4-0.3 6.4-0.1 6.4-0.1 6.4 0.1 6.3 0.2 6.4 0.2 6.4 0.5 6.3 0.6 6.4 0.9 6.3 1.1 6.2 1.3 6.2 1.4 6.2 1.6 6.2 1.5 6.2 1.7 6.1 1.9 6.1 2 5.9 2.2 5.9 2.5 5.8 2.6 5.8 2.7 5.8 2.8 5.7 2.9 5.7 2.8 5.7 2.9 5.6 3 5.6 3.1 5.6 3.2 5.4 3.3 5.4 3.4 5.4 3.4 5.3 3.6 5.2 3.7 5.2 3.7 5.1 3.8 5.1 3.9 5 3.9 5.1 4 4.9 4 5 3.9 5.1 3.9 5.1 3.9 5.2 3.7 2.3 1.4 3.6 0.5 6.4 0.4 6.4 0.2 6.4-0.2 6.4-0.2 6.3-0.2 6.4-0.1 6.4-0.2 6.4-0.4 6.3-0.9 6.3-0.8 6.4-0.4 6.4-0.2 6.4 0.1 6.3 0 6.4 0 6.4-0.3 6.4-0.6 6.3-0.7 6.4-0.7 6.3-0.5 6.4-0.5 6.4-0.5 6.3-0.4 6.4-0.4 6.4-0.6 6.3-0.6 6.4-0.8 6.3-0.9 6.3-1.2 6.2-1.2 6.3-1.3 6.2-1.3 6.3-1.3 6.3-1.1 6.3-0.9 6.3-0.9 6.4-0.7 6.3-0.5 6.4-0.4 6.4-0.3 6.4-0.2 6.3-0.1 6.4 0.1 6.4 0.1 6.4 0.3 6.3 0.5 6.4 0.6 6.3 0.8 6.4 1 6.3 1 6.2 1.1 6.3 1.1 6.3 1.1 6.3 1.2 6.3 1.1 6.3 1.1 6.3 1 6.3 1 6.3 0.9 6.3 0.8 6.4 0.7 6.3 0.6 6.4 0.6 6.4 0.6 6.3 0.5 6.4 0.4 6.4 0.5 6.3 0.4 6.4 0.4 6.4 0.3 6.4 0.4 6.3 0.3 6.4 0.3 6.4 0.3 6.4 0.3 6.4 0.2 6.3 0.3 6.4 0.3 6.4 0.2 6.4 0.3 6.4 0.2 6.3 0.2 6.4 0.3 6.4 0.2 6.4 0.3 6.4 0.2 6.3 0.2 6.4 0.2 6.4 0.2 6.4 0.1 6.4 0.1 5 0.1 0 0.2 1.2 0 6.3 0.7 6.1 1.8 5.7 2.9 5.2 3.7 4.4 4.6 3.6 5.3 2.7 5.8 1.6 6.1 0.5 4 0 1.3 0 1.1 0 0.6" fill="#fe0000" stroke="#fe0000" stroke-width="2.9" stroke-linejoin="round"/><use href="#s58" transform="scale(1,-1)"/>
<g fill="#fff" stroke="#fe0000" stroke-width="2.9" stroke-linejoin="round" stroke-linecap="square">
<path id="s59" d="M-52 0.6l0-0.6 0-1.1 0-1.3 0.1-2.4 0.3-4.8 0.7-4.7 0.8-4.8 1.1-4.6 1.3-4.6 1.6-4.6 1.7-4.4 2-4.4 2.3-4.3 2.4-4.1 2.6-4 2.8-3.9 3-3.8 3.1-3.6 3.4-3.4 3.5-3.3 3.6-3.2 3.8-2.9 3.9-2.8 4-2.6 4.2-2.4 4.2-2.2 4.4-2.1 4.4-1.8 4.5-1.7 4.2-2.4 4.2-2.3 4.2-2.3 4.3-2.2 4.3-2.1 4.3-2.1 4.3-2 4.4-1.9 4.4-1.9 4.5-1.8 4.5-1.8 4.5-1.6 4.5-1.6 4.5-1.6 4.6-1.4 4.6-1.4 4.6-1.3 4.7-1.2 4.6-1.1 4.7-1.1 4.7-0.9 4.7-0.9 4.8-0.8 4.7-0.7 4.8-0.6 4.8-0.5 4.7-0.4 4.8-0.4 4.8-0.2 4.8-0.1 4.8-0.1 4.8 0 4.8 0.1 4.8 0.2 4.8 0.2 4.8 0.3 4.8 0.5 4.7 0.5 4.8 0.7 4.7 0.9 4.7 0.9 4.7 1 4.7 1.1 4.6 1.1 4.7 1.2 4.6 1.2 4.7 1.3 4.5 1.4 4.6 1.5 4.5 1.7 4.4 1.8 4.5 1.9 4.3 1.9 4.4 2 4.3 2.1 4.4 2.1 4.3 2 4.3 2.1 4.3 2.2 4.3 2.2 4.2 2.2 4.2 2.3 4.2 2.4 4.1 2.4 4.1 2.5 4.1 2.6 4 2.6 4 2.6 4 2.7 3.9 2.8 3.9 2.8 3.9 2.8 3.8 2.9 3.9 2.9 3.8 2.9 3.8 2.9 3.8 2.9 3.8 2.9 3.9 2.9 3.9 2.7 4 2.7 4 2.7 3.9 2.7 3.5 3.3 3.4 3.3 3.5 3.4 3.5 3.3 3.4 3.3 3.5 3.4 3.4 3.3 3.5 3.3 3.4 3.3 3.5 3.4 1.7 1.6 1 1 0.8 0.7 0 0.6"/><use href="#s59" transform="scale(1,-1)"/>
<path id="s60" d="M-52 0.6l0-0.6 0-1.1 0-1.3 0.1-2.4 0.3-4.8 0.7-4.7 0.8-4.7 1.1-4.7 1.3-4.6 1.6-4.6 1.7-4.4 2-4.4 2.2-4.2 2.4-4.2 2.7-4 2.8-3.9 2.9-3.7 3.2-3.6 3.3-3.5 3.5-3.3 3.6-3.1 3.8-3 3.9-2.8 4.1-2.6 4.1-2.4 4.2-2.2 4.4-2 4.4-1.9 4.5-1.7 4.2-2.3 4.2-2.3 4.2-2.3 4.3-2.1 4.3-2.2 4.3-2 4.4-2 4.4-2 4.4-1.8 4.4-1.8 4.5-1.8 4.5-1.6 4.5-1.6 4.6-1.5 4.5-1.5 4.6-1.3 4.6-1.3 4.7-1.2 4.6-1.1 4.7-1.1 4.7-0.9 4.7-0.9 4.8-0.8 4.7-0.7 4.8-0.6 4.7-0.5 4.8-0.4 4.8-0.3 4.8-0.3 4.8-0.1 4.8-0.1 4.8 0 4.8 0.1 4.8 0.2 4.7 0.2 4.8 0.3 4.8 0.5 4.8 0.5 4.7 0.8 4.7 0.8 4.7 0.9 4.7 1 4.7 1.1 4.7 1.1 4.6 1.2 4.7 1.2 4.6 1.3 4.6 1.4 4.5 1.5 4.5 1.7 4.4 1.7 4.5 1.9 4.3 2 4.4 2 4.3 2 4.4 2.1 4.3 2.1 4.3 2.1 4.3 2.1 4.3 2.2 4.2 2.2 4.2 2.3 4.2 2.4 4.1 2.4 4.1 2.5 4.1 2.6 4 2.6 4 2.6 3.9 2.7 4 2.8 3.9 2.7 3.9 2.9 3.8 2.8 3.8 2.9 3.9 2.9 3.8 2.9 3.8 3 3.8 2.8 3.9 2.9 3.9 2.7 3.9 2.7 4.1 2.6 3.9 2.8 3.5 3.3 3.4 3.3 3.5 3.3 3.4 3.4 3.5 3.3 3.4 3.3 3.5 3.3 3.5 3.3 3.4 3.4 3.5 3.3 1.7 1.6 1 1 0.7 0.7 0 0.6"/><use href="#s60" transform="scale(1,-1)"/>
<path id="s61" d="M-52 0.6l0-0.6 0-1.1 0-1.3 0.1-2.4 0.3-4.8 0.7-4.7 0.8-4.7 1.1-4.7 1.3-4.6 1.6-4.5 1.7-4.5 2-4.3 2.2-4.3 2.4-4.1 2.6-4.1 2.8-3.8 3-3.8 3.2-3.6 3.3-3.5 3.5-3.2 3.6-3.2 3.8-2.9 3.9-2.8 4-2.6 4.1-2.4 4.3-2.3 4.3-2 4.4-1.8 4.5-1.7 4.2-2.4 4.2-2.2 4.2-2.3 4.3-2.1 4.3-2.1 4.3-2.1 4.4-2 4.4-1.9 4.4-1.9 4.4-1.8 4.5-1.7 4.5-1.6 4.5-1.6 4.6-1.5 4.5-1.4 4.6-1.4 4.7-1.3 4.6-1.2 4.7-1.1 4.6-1 4.7-0.9 4.7-0.9 4.8-0.8 4.7-0.7 4.8-0.6 4.7-0.5 4.8-0.4 4.8-0.3 4.8-0.3 4.7-0.1 4.8 0 4.8 0 4.8 0.1 4.8 0.1 4.8 0.2 4.8 0.4 4.7 0.4 4.8 0.6 4.7 0.7 4.8 0.8 4.7 0.9 4.6 1 4.7 1.1 4.7 1.1 4.6 1.2 4.7 1.2 4.6 1.3 4.5 1.4 4.6 1.5 4.5 1.6 4.4 1.8 4.4 1.9 4.4 1.9 4.4 2.1 4.3 2 4.3 2 4.4 2.1 4.3 2.1 4.3 2.1 4.2 2.2 4.3 2.2 4.2 2.3 4.1 2.4 4.2 2.4 4.1 2.5 4 2.5 4 2.6 4 2.7 4 2.7 3.9 2.7 3.9 2.8 3.9 2.8 3.9 2.8 3.8 2.9 3.8 2.9 3.8 3 3.8 2.9 3.8 2.8 3.9 2.9 3.9 2.7 4 2.7 4 2.6 3.9 2.8 3.5 3.3 3.5 3.3 3.4 3.3 3.5 3.3 3.4 3.3 3.5 3.3 3.5 3.3 3.4 3.4 3.5 3.3 3.4 3.3 1.8 1.6 0.9 1 0.8 0.7 0 0.6"/><use href="#s61" transform="scale(1,-1)"/>
<path id="s62" d="M-52 0.6l0-0.6 0-1.1 0-1.3 0.1-2.4 0.3-4.8 0.7-4.7 0.8-4.7 1.1-4.7 1.3-4.6 1.5-4.5 1.8-4.5 2-4.3 2.2-4.3 2.4-4.1 2.6-4 2.8-3.9 3-3.7 3.1-3.6 3.3-3.5 3.5-3.3 3.6-3.1 3.8-3 3.9-2.8 4-2.6 4.1-2.4 4.3-2.2 4.3-2 4.4-1.9 4.5-1.7 4.2-2.3 4.2-2.3 4.2-2.2 4.3-2.1 4.3-2.1 4.3-2.1 4.4-1.9 4.4-1.9 4.4-1.9 4.4-1.8 4.5-1.7 4.5-1.6 4.5-1.6 4.6-1.5 4.5-1.4 4.6-1.3 4.7-1.3 4.6-1.2 4.6-1.1 4.7-1 4.7-0.9 4.7-0.9 4.7-0.8 4.8-0.6 4.7-0.6 4.8-0.5 4.8-0.5 4.7-0.3 4.8-0.2 4.8-0.2 4.8 0 4.8 0 4.8 0.1 4.7 0.1 4.8 0.3 4.8 0.3 4.8 0.4 4.7 0.6 4.7 0.7 4.8 0.8 4.7 0.9 4.6 1.1 4.7 1 4.7 1.1 4.6 1.2 4.6 1.2 4.6 1.3 4.6 1.4 4.6 1.5 4.5 1.6 4.4 1.8 4.4 1.9 4.4 1.9 4.3 2 4.4 2 4.3 2.1 4.3 2.1 4.3 2 4.3 2.2 4.3 2.1 4.2 2.3 4.2 2.2 4.2 2.4 4.1 2.4 4.1 2.5 4.1 2.5 4 2.6 4 2.7 3.9 2.6 4 2.8 3.9 2.7 3.8 2.9 3.9 2.8 3.8 2.9 3.8 2.9 3.8 2.9 3.8 2.9 3.9 2.8 3.8 2.9 4 2.7 3.9 2.7 4 2.6 3.9 2.7 3.5 3.3 3.5 3.3 3.4 3.3 3.5 3.4 3.5 3.3 3.4 3.3 3.5 3.3 3.4 3.3 3.5 3.3 3.5 3.3 1.7 1.6 0.9 1 0.8 0.7 0 0.6"/><use href="#s62" transform="scale(1,-1)"/>
<path id="s63" d="M-52 0.6l0-0.6 0-1.1 0-1.3 0.1-2.4 0.3-4.7 0.7-4.8 0.8-4.7 1.1-4.6 1.3-4.6 1.5-4.6 1.8-4.4 2-4.4 2.2-4.2 2.4-4.1 2.6-4.1 2.7-3.8 3-3.8 3.2-3.6 3.3-3.4 3.4-3.3 3.6-3.2 3.8-2.9 3.9-2.8 4-2.6 4.1-2.4 4.3-2.3 4.3-2 4.4-1.9 4.5-1.6 4.2-2.3 4.2-2.3 4.2-2.2 4.3-2.1 4.3-2.1 4.3-2 4.4-2 4.4-1.9 4.4-1.8 4.4-1.8 4.5-1.7 4.5-1.6 4.5-1.5 4.6-1.5 4.5-1.4 4.6-1.4 4.6-1.2 4.7-1.2 4.6-1.1 4.7-1 4.7-0.9 4.7-0.9 4.7-0.7 4.7-0.7 4.8-0.6 4.7-0.5 4.8-0.4 4.8-0.3 4.8-0.3 4.7-0.1 4.8-0.1 4.8 0.1 4.8 0.1 4.8 0.1 4.7 0.2 4.8 0.4 4.8 0.4 4.7 0.5 4.7 0.7 4.7 0.9 4.7 0.9 4.7 1 4.7 1 4.6 1.1 4.7 1.2 4.6 1.2 4.6 1.3 4.6 1.4 4.5 1.5 4.5 1.6 4.4 1.8 4.4 1.9 4.4 1.9 4.4 2 4.3 2 4.3 2.1 4.3 2 4.3 2.1 4.3 2.1 4.3 2.2 4.2 2.2 4.2 2.3 4.2 2.3 4.1 2.4 4.1 2.5 4.1 2.5 4 2.6 4 2.6 3.9 2.7 4 2.7 3.9 2.8 3.8 2.8 3.9 2.8 3.8 2.9 3.8 2.9 3.8 2.9 3.8 2.9 3.9 2.9 3.8 2.8 4 2.7 3.9 2.7 4 2.6 3.9 2.7 3.5 3.3 3.5 3.3 3.4 3.3 3.5 3.3 3.4 3.3 3.5 3.3 3.5 3.3 3.4 3.3 3.5 3.3 3.4 3.3 1.8 1.6 0.9 1 0.8 0.7 0 0.6"/><use href="#s63" transform="scale(1,-1)"/>
<path id="s64" d="M-52 0.6l0-0.6 0-1.1 0-1.3 0.1-2.4 0.3-4.7 0.6-4.8 0.9-4.7 1.1-4.6 1.3-4.6 1.5-4.5 1.8-4.5 2-4.3 2.1-4.3 2.4-4.1 2.6-4 2.8-3.9 3-3.7 3.1-3.6 3.3-3.5 3.5-3.3 3.6-3.1 3.7-3 3.9-2.7 4-2.6 4.1-2.5 4.2-2.2 4.4-2 4.4-1.9 4.4-1.7 4.2-2.2 4.3-2.3 4.2-2.2 4.3-2.1 4.3-2 4.3-2.1 4.4-1.9 4.4-1.9 4.4-1.8 4.4-1.8 4.5-1.6 4.5-1.7 4.5-1.5 4.6-1.5 4.5-1.4 4.6-1.3 4.6-1.2 4.6-1.2 4.7-1.1 4.7-1 4.7-0.9 4.7-0.8 4.7-0.8 4.7-0.7 4.7-0.6 4.8-0.4 4.7-0.5 4.8-0.3 4.8-0.2 4.8-0.1 4.7-0.1 4.8 0 4.8 0.1 4.8 0.2 4.7 0.2 4.8 0.3 4.7 0.4 4.8 0.6 4.7 0.7 4.7 0.8 4.7 0.9 4.7 1 4.6 1.1 4.7 1.1 4.6 1.1 4.6 1.2 4.6 1.3 4.6 1.4 4.5 1.5 4.5 1.6 4.5 1.8 4.4 1.9 4.3 1.9 4.4 2 4.3 2 4.3 2 4.3 2.1 4.3 2 4.3 2.2 4.3 2.1 4.2 2.2 4.2 2.3 4.2 2.3 4.1 2.5 4.1 2.4 4 2.5 4.1 2.6 4 2.6 3.9 2.7 3.9 2.7 3.9 2.8 3.9 2.8 3.9 2.8 3.8 2.9 3.8 2.8 3.8 2.9 3.8 2.9 3.8 2.9 3.9 2.8 3.9 2.7 4 2.7 4 2.5 3.9 2.8 3.5 3.3 3.4 3.3 3.5 3.3 3.4 3.3 3.5 3.3 3.5 3.2 3.4 3.3 3.5 3.3 3.4 3.3 3.5 3.3 1.7 1.6 1 1 0.8 0.7 0 0.6"/><use href="#s64" transform="scale(1,-1)"/>
<path id="s65" d="M-52 0.6l0-0.6 0-1.1 0-1.3 0.1-2.4 0.3-4.7 0.6-4.8 0.9-4.7 1.1-4.6 1.3-4.6 1.5-4.5 1.8-4.4 1.9-4.4 2.2-4.2 2.4-4.1 2.6-4.1 2.8-3.8 2.9-3.8 3.1-3.6 3.3-3.4 3.5-3.3 3.6-3.1 3.7-3 3.9-2.8 4-2.6 4.1-2.4 4.2-2.2 4.3-2.1 4.4-1.9 4.5-1.6 4.2-2.2 4.2-2.3 4.3-2.1 4.3-2.1 4.3-2.1 4.3-2 4.4-1.9 4.3-1.9 4.5-1.8 4.4-1.7 4.5-1.7 4.5-1.6 4.5-1.5 4.5-1.5 4.6-1.4 4.6-1.3 4.6-1.2 4.6-1.2 4.7-1.1 4.6-1 4.7-0.9 4.7-0.8 4.7-0.8 4.7-0.6 4.8-0.6 4.7-0.5 4.8-0.4 4.7-0.3 4.8-0.2 4.8-0.2 4.7 0 4.8 0 4.8 0.1 4.7 0.1 4.8 0.3 4.8 0.3 4.7 0.4 4.7 0.6 4.8 0.7 4.7 0.8 4.6 0.9 4.7 1 4.7 1 4.6 1.1 4.6 1.2 4.7 1.2 4.6 1.2 4.5 1.4 4.5 1.5 4.5 1.7 4.5 1.7 4.4 1.9 4.3 1.9 4.4 2 4.3 2 4.3 2 4.3 2 4.3 2.1 4.3 2.1 4.3 2.2 4.2 2.2 4.2 2.2 4.1 2.4 4.2 2.4 4 2.4 4.1 2.6 4 2.5 4 2.6 4 2.7 3.9 2.7 3.9 2.8 3.9 2.7 3.8 2.9 3.8 2.8 3.8 2.9 3.8 2.9 3.8 2.9 3.9 2.8 3.9 2.8 3.9 2.7 3.9 2.6 4 2.6 3.9 2.8 3.5 3.3 3.4 3.3 3.5 3.2 3.5 3.3 3.4 3.3 3.5 3.3 3.4 3.3 3.5 3.3 3.5 3.2 3.4 3.3 1.7 1.6 1 1 0.8 0.7 0 0.6"/><use href="#s65" transform="scale(1,-1)"/>
<path id="s66" d="M-52 0.6l0-0.6 0-1.1 0-1.3 0.1-2.4 0.3-4.7 0.6-4.7 0.9-4.7 1.1-4.7 1.3-4.5 1.5-4.6 1.7-4.4 2-4.3 2.2-4.3 2.4-4.1 2.5-4 2.8-3.9 3-3.7 3.1-3.6 3.3-3.5 3.4-3.2 3.6-3.2 3.8-2.9 3.8-2.8 4-2.6 4.1-2.4 4.2-2.3 4.3-2 4.4-1.9 4.5-1.7 4.2-2.2 4.2-2.2 4.2-2.1 4.3-2.1 4.3-2 4.4-2 4.3-1.9 4.4-1.9 4.4-1.8 4.5-1.7 4.4-1.7 4.5-1.6 4.5-1.5 4.6-1.4 4.5-1.4 4.6-1.3 4.6-1.2 4.7-1.2 4.6-1 4.7-1 4.6-0.9 4.7-0.9 4.7-0.7 4.8-0.7 4.7-0.5 4.7-0.5 4.8-0.4 4.7-0.3 4.8-0.2 4.7-0.2 4.8 0 4.8 0 4.7 0.1 4.8 0.1 4.8 0.2 4.7 0.4 4.8 0.4 4.7 0.5 4.7 0.7 4.7 0.8 4.7 1 4.6 0.9 4.7 1.1 4.6 1.1 4.6 1.1 4.6 1.2 4.6 1.3 4.6 1.4 4.5 1.5 4.5 1.6 4.4 1.7 4.4 1.9 4.4 1.9 4.3 2 4.3 2 4.4 2 4.3 2 4.3 2.1 4.2 2.1 4.3 2.1 4.2 2.2 4.2 2.3 4.2 2.3 4.1 2.4 4.1 2.5 4 2.5 4 2.5 4 2.6 4 2.7 3.9 2.7 3.9 2.7 3.9 2.8 3.8 2.8 3.8 2.9 3.8 2.8 3.8 2.9 3.8 2.9 3.9 2.8 3.9 2.8 3.9 2.7 3.9 2.6 4 2.6 3.9 2.8 3.5 3.3 3.4 3.2 3.5 3.3 3.4 3.3 3.5 3.3 3.5 3.2 3.4 3.3 3.5 3.3 3.4 3.3 3.5 3.2 1.7 1.7 1 0.9 0.8 0.7 0 0.6"/><use href="#s66" transform="scale(1,-1)"/>
<path id="s67" d="M-52 0.6l0-0.6 0-1.1 0-1.3 0.1-2.4 0.3-4.8 0.7-4.7 0.8-4.8 1.1-4.6 1.3-4.6 1.6-4.6 1.7-4.4 2-4.4 2.2-4.3 2.5-4.1 2.6-4 2.8-3.9 3-3.8 3.1-3.6 3.4-3.4 3.4-3.3 3.7-3.2 3.8-2.9 3.9-2.8 4-2.6 4.1-2.4 4.3-2.2 4.3-2.1 4.5-1.8 4.4-1.7 4.3-2.3 4.3-2.2 4.2-2.1 4.4-2.1 4.3-2 4.4-2 4.4-1.9 4.4-1.8 4.5-1.8 4.5-1.7 4.5-1.6 4.5-1.6 4.6-1.5 4.6-1.4 4.6-1.4 4.6-1.2 4.6-1.2 4.7-1.1 4.7-1.1 4.7-0.9 4.7-0.9 4.7-0.8 4.8-0.7 4.7-0.6 4.8-0.6 4.8-0.4 4.8-0.4 4.8-0.2 4.7-0.2 4.8-0.1 4.8 0 4.8 0 4.8 0.1 4.8 0.2 4.8 0.3 4.8 0.4 4.8 0.5 4.7 0.6 4.8 0.8 4.7 0.8 4.7 1 4.7 1 4.6 1.1 4.7 1.1 4.7 1.2 4.6 1.2 4.6 1.4 4.6 1.4 4.5 1.6 4.5 1.7 4.4 1.8 4.4 2 4.4 1.9 4.4 2 4.3 2.1 4.3 2 4.4 2.1 4.3 2 4.3 2.2 4.3 2.2 4.2 2.2 4.2 2.4 4.1 2.3 4.2 2.5 4.1 2.5 4 2.6 4 2.6 4 2.6 4 2.7 3.9 2.8 3.9 2.8 3.9 2.8 3.9 2.9 3.8 2.8 3.8 2.9 3.9 2.9 3.8 2.9 3.9 2.8 4 2.7 4 2.6 4 2.6 3.9 2.8 3.5 3.3 3.5 3.3 3.5 3.3 3.5 3.3 3.5 3.3 3.5 3.2 3.4 3.3 3.5 3.3 3.5 3.3 3.5 3.3 1.8 1.7 0.9 0.9 0.8 0.7 0 0.6"/><use href="#s67" transform="scale(1,-1)"/>
<path id="s68" d="M-52 0.6l0-0.6 0-1.1 0-1.3 0.1-2.4 0.3-4.8 0.7-4.7 0.8-4.7 1.1-4.7 1.3-4.6 1.6-4.5 1.7-4.5 2-4.3 2.2-4.3 2.4-4.1 2.6-4.1 2.8-3.8 3-3.8 3.2-3.6 3.3-3.5 3.5-3.2 3.6-3.2 3.8-2.9 3.9-2.8 4-2.6 4.1-2.4 4.3-2.3 4.3-2 4.4-1.8 4.5-1.7 4.2-2.3 4.3-2.1 4.3-2.2 4.3-2 4.4-2 4.3-2 4.4-1.9 4.5-1.8 4.4-1.7 4.5-1.7 4.5-1.7 4.6-1.5 4.5-1.5 4.6-1.4 4.6-1.3 4.6-1.3 4.6-1.2 4.7-1.1 4.7-1 4.7-1 4.7-0.8 4.7-0.8 4.8-0.7 4.7-0.6 4.8-0.6 4.7-0.4 4.8-0.4 4.8-0.2 4.8-0.2 4.8-0.1 4.8 0 4.8 0 4.7 0.1 4.8 0.2 4.8 0.3 4.8 0.4 4.8 0.5 4.7 0.6 4.7 0.8 4.8 0.8 4.6 1 4.7 1 4.7 1.1 4.7 1.1 4.6 1.2 4.6 1.2 4.6 1.3 4.6 1.5 4.5 1.6 4.5 1.7 4.4 1.8 4.4 1.9 4.4 1.9 4.3 2 4.4 2.1 4.3 2 4.4 2 4.3 2.1 4.3 2.2 4.2 2.1 4.3 2.3 4.1 2.3 4.2 2.4 4.1 2.4 4.1 2.5 4.1 2.6 4 2.6 4 2.7 3.9 2.7 4 2.7 3.9 2.8 3.8 2.8 3.9 2.8 3.8 2.9 3.9 2.9 3.8 2.9 3.8 2.8 3.9 2.8 4 2.7 4 2.6 4 2.6 3.9 2.8 3.5 3.3 3.5 3.3 3.5 3.2 3.5 3.3 3.5 3.3 3.4 3.3 3.5 3.3 3.5 3.3 3.5 3.2 3.5 3.3 1.7 1.7 1 0.9 0.8 0.7 0 0.6"/><use href="#s68" transform="scale(1,-1)"/>
<path id="s69" d="M-52 0.6l0-0.6 0-1.1 0-1.3 0.1-2.4 0.3-4.7 0.7-4.8 0.8-4.7 1.1-4.7 1.3-4.6 1.5-4.5 1.8-4.4 2-4.4 2.2-4.2 2.4-4.2 2.6-4 2.8-3.9 2.9-3.7 3.2-3.6 3.3-3.5 3.5-3.3 3.6-3.1 3.7-2.9 3.9-2.8 4-2.6 4.2-2.4 4.2-2.3 4.3-2 4.4-1.9 4.5-1.6 4.3-2.2 4.2-2.2 4.3-2.1 4.3-2.1 4.4-2 4.4-1.9 4.4-1.9 4.4-1.8 4.5-1.7 4.4-1.7 4.5-1.6 4.6-1.5 4.5-1.5 4.6-1.4 4.6-1.3 4.6-1.3 4.6-1.1 4.7-1.1 4.7-1.1 4.7-0.9 4.7-0.8 4.7-0.8 4.7-0.7 4.8-0.6 4.7-0.5 4.8-0.5 4.8-0.3 4.7-0.3 4.8-0.2 4.8-0.1 4.8 0 4.8 0.1 4.7 0.1 4.8 0.1 4.8 0.3 4.8 0.4 4.7 0.5 4.8 0.6 4.7 0.8 4.7 0.8 4.7 1 4.6 1 4.7 1.1 4.7 1.1 4.6 1.1 4.6 1.3 4.6 1.3 4.6 1.5 4.5 1.5 4.5 1.7 4.4 1.8 4.4 1.9 4.4 2 4.3 2 4.3 2 4.4 2 4.3 2.1 4.3 2 4.3 2.2 4.3 2.1 4.2 2.3 4.2 2.3 4.1 2.4 4.1 2.4 4.1 2.5 4.1 2.5 4 2.6 4 2.7 3.9 2.7 3.9 2.7 3.9 2.8 3.9 2.8 3.9 2.8 3.8 2.9 3.8 2.8 3.9 2.9 3.8 2.8 3.9 2.8 4 2.7 4 2.6 4 2.6 3.9 2.8 3.4 3.3 3.5 3.3 3.5 3.2 3.5 3.3 3.5 3.3 3.5 3.2 3.5 3.3 3.5 3.3 3.5 3.3 3.4 3.2 1.8 1.7 1 0.9 0.7 0.7 0 0.6"/><use href="#s69" transform="scale(1,-1)"/>
<path id="s70" d="M-52 0.6l0-0.6 0-1.1 0-1.3 0.1-2.4 0.3-4.7 0.6-4.8 0.9-4.7 1.1-4.6 1.3-4.6 1.5-4.5 1.8-4.5 1.9-4.3 2.2-4.3 2.4-4.1 2.6-4 2.8-3.9 3-3.7 3.1-3.6 3.3-3.5 3.5-3.3 3.6-3.1 3.7-3 3.9-2.7 4-2.6 4.1-2.5 4.2-2.2 4.4-2 4.4-1.9 4.4-1.7 4.3-2.1 4.2-2.2 4.3-2.1 4.4-2 4.3-2 4.4-1.9 4.4-1.8 4.4-1.8 4.5-1.8 4.4-1.6 4.5-1.6 4.6-1.5 4.5-1.5 4.6-1.4 4.6-1.3 4.6-1.2 4.6-1.2 4.7-1.1 4.6-1 4.7-0.9 4.7-0.8 4.7-0.8 4.8-0.7 4.7-0.6 4.7-0.5 4.8-0.5 4.8-0.3 4.7-0.3 4.8-0.2 4.8-0.1 4.7 0 4.8 0.1 4.8 0.1 4.8 0.2 4.7 0.3 4.8 0.3 4.7 0.5 4.8 0.6 4.7 0.8 4.7 0.8 4.7 1 4.6 1 4.7 1.1 4.6 1.1 4.7 1.1 4.6 1.3 4.6 1.3 4.5 1.4 4.5 1.6 4.5 1.7 4.4 1.8 4.4 1.9 4.4 1.9 4.3 2 4.4 2 4.3 2 4.3 2.1 4.3 2 4.3 2.2 4.2 2.1 4.3 2.3 4.1 2.3 4.2 2.3 4.1 2.5 4.1 2.4 4 2.6 4 2.6 4 2.6 4 2.7 3.9 2.7 3.9 2.8 3.9 2.8 3.8 2.8 3.8 2.8 3.9 2.9 3.8 2.9 3.8 2.8 3.9 2.7 4 2.7 4 2.7 4 2.5 3.8 2.8 3.5 3.3 3.5 3.2 3.5 3.3 3.5 3.3 3.5 3.2 3.5 3.3 3.5 3.3 3.4 3.2 3.5 3.3 3.5 3.2 1.8 1.7 0.9 0.9 0.8 0.7 0 0.6"/><use href="#s70" transform="scale(1,-1)"/>
<path id="s71" d="M-52 0.6l0-0.6 0-1.1 0-1.3 0.1-2.4 0.3-4.7 0.6-4.7 0.9-4.7 1.1-4.7 1.3-4.6 1.5-4.5 1.7-4.4 2-4.3 2.2-4.3 2.4-4.1 2.6-4 2.7-3.9 3-3.7 3.1-3.6 3.3-3.5 3.5-3.3 3.6-3.1 3.7-3 3.9-2.7 3.9-2.6 4.2-2.5 4.2-2.2 4.3-2.1 4.4-1.8 4.4-1.7 4.3-2.1 4.2-2.1 4.3-2.1 4.4-2 4.3-2 4.4-1.9 4.4-1.8 4.4-1.8 4.5-1.7 4.4-1.6 4.5-1.6 4.5-1.5 4.6-1.5 4.6-1.3 4.5-1.3 4.6-1.3 4.7-1.1 4.6-1.1 4.7-1 4.7-0.9 4.6-0.8 4.8-0.8 4.7-0.7 4.7-0.6 4.7-0.5 4.8-0.4 4.7-0.4 4.8-0.2 4.8-0.2 4.7-0.1 4.8 0 4.8 0 4.7 0.2 4.8 0.1 4.7 0.3 4.8 0.4 4.7 0.5 4.8 0.6 4.7 0.7 4.7 0.9 4.6 0.9 4.7 1 4.6 1.1 4.7 1.1 4.6 1.2 4.6 1.2 4.6 1.3 4.5 1.4 4.5 1.6 4.5 1.7 4.4 1.8 4.4 1.8 4.3 2 4.4 2 4.3 2 4.3 2 4.4 2 4.2 2.1 4.3 2.1 4.3 2.1 4.2 2.3 4.2 2.3 4.1 2.3 4.1 2.4 4.1 2.5 4 2.5 4 2.6 4 2.6 4 2.7 3.9 2.7 3.9 2.8 3.8 2.8 3.9 2.8 3.8 2.8 3.8 2.9 3.9 2.8 3.8 2.8 3.9 2.8 3.9 2.7 4 2.6 4.1 2.5 3.8 2.8 3.5 3.3 3.5 3.2 3.4 3.3 3.5 3.2 3.5 3.3 3.5 3.2 3.5 3.3 3.5 3.2 3.5 3.3 3.4 3.2 1.8 1.7 0.9 0.9 0.8 0.7 0 0.6"/><use href="#s71" transform="scale(1,-1)"/>
<path id="s72" d="M-52 0.6l0-0.6 0-1.1 0-1.3 0.1-2.4 0.3-4.8 0.7-4.7 0.8-4.8 1.1-4.6 1.3-4.6 1.6-4.6 1.7-4.4 2-4.4 2.2-4.3 2.5-4.1 2.6-4 2.8-3.9 3-3.8 3.1-3.6 3.4-3.4 3.4-3.3 3.7-3.2 3.8-2.9 3.9-2.8 4-2.6 4.2-2.4 4.2-2.2 4.3-2.1 4.5-1.8 4.5-1.7 4.2-2.2 4.3-2.1 4.4-2 4.3-2 4.4-2 4.4-1.9 4.5-1.8 4.5-1.7 4.4-1.7 4.6-1.6 4.5-1.6 4.6-1.5 4.5-1.4 4.7-1.3 4.6-1.3 4.6-1.2 4.7-1.1 4.7-1.1 4.7-0.9 4.7-0.9 4.7-0.8 4.8-0.7 4.7-0.7 4.8-0.5 4.8-0.5 4.7-0.4 4.8-0.3 4.8-0.3 4.8-0.1 4.8 0 4.8 0 4.8 0.1 4.8 0.1 4.8 0.2 4.8 0.3 4.8 0.5 4.7 0.5 4.8 0.7 4.7 0.8 4.7 0.9 4.7 1 4.7 1.1 4.7 1.1 4.6 1.1 4.7 1.2 4.6 1.3 4.6 1.4 4.5 1.5 4.5 1.6 4.5 1.8 4.4 1.9 4.4 1.9 4.4 2 4.3 2 4.4 2 4.3 2 4.4 2.1 4.3 2.1 4.3 2.1 4.2 2.3 4.2 2.2 4.2 2.4 4.2 2.4 4.1 2.5 4.1 2.5 4 2.6 4 2.6 4 2.7 4 2.7 3.9 2.8 3.9 2.8 3.9 2.8 3.8 2.9 3.9 2.8 3.8 2.9 3.9 2.8 3.9 2.8 4 2.7 4 2.6 4 2.6 3.9 2.8 3.5 3.2 3.6 3.3 3.5 3.3 3.5 3.2 3.5 3.3 3.5 3.3 3.5 3.2 3.5 3.3 3.5 3.3 3.6 3.2 1.7 1.7 1 0.9 0.8 0.7 0 0.6"/><use href="#s72" transform="scale(1,-1)"/>
<path id="s73" d="M-52 0.6l0-0.6 0-1.1 0-1.3 0.1-2.4 0.3-4.8 0.7-4.7 0.8-4.7 1.1-4.7 1.3-4.6 1.5-4.5 1.8-4.5 2-4.3 2.2-4.3 2.4-4.1 2.6-4 2.8-3.9 3-3.8 3.1-3.6 3.3-3.4 3.5-3.3 3.6-3.1 3.8-3 3.9-2.8 4-2.6 4.2-2.4 4.2-2.2 4.3-2.1 4.4-1.8 4.5-1.7 4.3-2.1 4.3-2.1 4.4-2.1 4.3-1.9 4.4-2 4.4-1.8 4.4-1.8 4.5-1.8 4.5-1.6 4.5-1.6 4.5-1.6 4.6-1.4 4.6-1.4 4.6-1.4 4.6-1.2 4.6-1.2 4.7-1.1 4.7-1 4.7-1 4.7-0.9 4.7-0.8 4.7-0.7 4.8-0.6 4.7-0.6 4.8-0.5 4.8-0.3 4.7-0.3 4.8-0.3 4.8-0.1 4.8-0.1 4.8 0.1 4.8 0 4.8 0.2 4.7 0.2 4.8 0.3 4.8 0.4 4.7 0.6 4.8 0.7 4.7 0.8 4.7 0.9 4.7 1 4.7 1 4.6 1.1 4.7 1.1 4.6 1.2 4.6 1.3 4.6 1.4 4.5 1.5 4.5 1.6 4.5 1.8 4.4 1.9 4.4 1.9 4.4 2 4.3 1.9 4.4 2 4.3 2.1 4.3 2 4.3 2.1 4.3 2.2 4.3 2.2 4.2 2.2 4.1 2.4 4.2 2.4 4.1 2.5 4.1 2.5 4 2.6 4 2.6 4 2.6 3.9 2.8 3.9 2.7 3.9 2.8 3.9 2.8 3.9 2.8 3.8 2.9 3.9 2.9 3.8 2.8 4 2.7 3.9 2.7 4 2.6 4.1 2.6 3.8 2.8 3.5 3.2 3.5 3.3 3.6 3.3 3.5 3.2 3.5 3.3 3.5 3.2 3.5 3.3 3.5 3.2 3.5 3.3 3.5 3.2 1.8 1.7 1 0.9 0.7 0.7 0 0.6"/><use href="#s73" transform="scale(1,-1)"/>
<path id="s74" d="M-52 0.6l0-0.6 0-1.1 0-1.3 0.1-2.4 0.3-4.7 0.6-4.8 0.9-4.7 1.1-4.6 1.3-4.6 1.5-4.5 1.8-4.5 2-4.3 2.1-4.3 2.4-4.1 2.6-4 2.8-3.9 3-3.8 3.1-3.6 3.3-3.4 3.5-3.3 3.6-3.1 3.7-3 3.9-2.8 4-2.6 4.2-2.4 4.2-2.2 4.3-2.1 4.4-1.8 4.5-1.7 4.3-2.1 4.3-2.1 4.3-2 4.4-1.9 4.3-1.9 4.4-1.9 4.5-1.8 4.4-1.7 4.5-1.6 4.5-1.6 4.6-1.5 4.5-1.5 4.6-1.4 4.6-1.3 4.6-1.2 4.6-1.2 4.7-1.1 4.6-1 4.7-1 4.7-0.8 4.7-0.8 4.7-0.7 4.8-0.7 4.7-0.5 4.8-0.5 4.7-0.4 4.8-0.3 4.8-0.2 4.8-0.1 4.7-0.1 4.8 0.1 4.8 0 4.8 0.2 4.7 0.2 4.8 0.3 4.8 0.4 4.7 0.6 4.7 0.7 4.7 0.8 4.7 0.9 4.7 1 4.7 1 4.6 1.1 4.7 1.1 4.6 1.2 4.6 1.3 4.6 1.3 4.5 1.5 4.5 1.7 4.4 1.7 4.4 1.9 4.4 1.9 4.4 1.9 4.3 2 4.4 2 4.3 2 4.3 2.1 4.3 2.1 4.3 2.1 4.2 2.2 4.2 2.3 4.2 2.3 4.1 2.4 4.1 2.5 4.1 2.5 4 2.5 4 2.6 4 2.7 3.9 2.7 3.9 2.7 3.9 2.8 3.9 2.8 3.9 2.8 3.8 2.9 3.8 2.8 3.9 2.8 3.9 2.8 4 2.6 4 2.6 4 2.6 3.9 2.8 3.5 3.3 3.5 3.2 3.5 3.2 3.5 3.3 3.5 3.2 3.5 3.3 3.5 3.2 3.5 3.3 3.5 3.2 3.5 3.3 1.8 1.6 0.9 0.9 0.8 0.7 0 0.6"/><use href="#s74" transform="scale(1,-1)"/>
<path id="s75" d="M-52 0.6l0-0.6 0-1.1 0-1.3 0.1-2.4 0.3-4.7 0.6-4.7 0.9-4.7 1.1-4.7 1.3-4.6 1.5-4.5 1.7-4.4 2-4.3 2.2-4.3 2.4-4.1 2.6-4 2.7-3.9 3-3.7 3.1-3.6 3.3-3.5 3.4-3.3 3.6-3.1 3.8-2.9 3.8-2.8 4-2.6 4.1-2.5 4.2-2.2 4.3-2.1 4.4-1.8 4.5-1.7 4.3-2 4.3-2.1 4.3-2 4.4-1.9 4.4-1.9 4.4-1.8 4.4-1.8 4.4-1.7 4.5-1.6 4.5-1.6 4.5-1.5 4.6-1.4 4.5-1.4 4.6-1.3 4.6-1.2 4.7-1.2 4.6-1.1 4.7-1 4.6-0.9 4.7-0.9 4.7-0.7 4.7-0.7 4.8-0.7 4.7-0.5 4.7-0.5 4.8-0.3 4.7-0.3 4.8-0.3 4.8-0.1 4.7-0.1 4.8 0.1 4.8 0 4.7 0.2 4.8 0.2 4.7 0.3 4.8 0.4 4.7 0.6 4.7 0.7 4.7 0.8 4.7 0.9 4.7 0.9 4.6 1.1 4.7 1 4.6 1.2 4.6 1.1 4.6 1.3 4.6 1.4 4.5 1.5 4.5 1.6 4.4 1.8 4.4 1.8 4.4 1.9 4.3 1.9 4.4 2 4.3 2 4.3 2 4.3 2 4.3 2.1 4.3 2.1 4.2 2.2 4.2 2.3 4.2 2.3 4.1 2.4 4.1 2.5 4.1 2.5 4 2.5 4 2.6 3.9 2.7 4 2.6 3.9 2.8 3.9 2.7 3.8 2.8 3.9 2.9 3.8 2.8 3.8 2.8 3.9 2.8 3.9 2.7 4 2.7 4 2.6 4 2.5 3.8 2.9 3.5 3.2 3.5 3.2 3.5 3.2 3.5 3.3 3.5 3.2 3.5 3.2 3.5 3.3 3.5 3.2 3.5 3.2 3.5 3.3 1.8 1.6 0.9 0.9 0.8 0.7 0 0.6"/><use href="#s75" transform="scale(1,-1)"/>
<path id="s76" d="M-52 0.6l0-0.6 0-1.1 0-1.3 0.1-2.4 0.3-4.8 0.7-4.7 0.8-4.7 1.1-4.7 1.3-4.6 1.6-4.6 1.7-4.4 2-4.4 2.2-4.2 2.4-4.2 2.6-4 2.8-3.9 3-3.7 3.2-3.6 3.3-3.5 3.5-3.3 3.6-3.1 3.8-3 3.9-2.7 4-2.6 4.2-2.5 4.2-2.2 4.4-2 4.4-1.9 4.5-1.7 4.3-2 4.3-2.1 4.4-2 4.4-1.9 4.4-1.8 4.5-1.8 4.4-1.8 4.5-1.6 4.5-1.7 4.6-1.5 4.5-1.5 4.6-1.4 4.6-1.3 4.6-1.3 4.7-1.2 4.6-1.1 4.7-1.1 4.7-1 4.7-0.9 4.7-0.8 4.8-0.7 4.7-0.7 4.8-0.6 4.7-0.5 4.8-0.4 4.8-0.4 4.8-0.2 4.8-0.2 4.8-0.1 4.8 0 4.8 0 4.7 0.1 4.8 0.2 4.8 0.3 4.8 0.3 4.8 0.5 4.7 0.6 4.8 0.8 4.7 0.9 4.7 0.9 4.7 1 4.6 1.1 4.7 1.1 4.7 1.1 4.6 1.3 4.6 1.3 4.6 1.5 4.5 1.5 4.5 1.8 4.4 1.8 4.4 1.9 4.4 1.9 4.4 2 4.3 2 4.4 2 4.3 2 4.3 2.1 4.3 2.1 4.3 2.2 4.2 2.2 4.2 2.4 4.2 2.3 4.1 2.5 4.1 2.5 4.1 2.5 4 2.6 4 2.7 3.9 2.7 4 2.7 3.9 2.8 3.9 2.8 3.9 2.8 3.8 2.9 3.9 2.8 3.9 2.8 3.9 2.7 4 2.7 4 2.6 4.1 2.6 3.8 2.8 3.5 3.2 3.6 3.3 3.5 3.2 3.5 3.3 3.6 3.2 3.5 3.3 3.5 3.2 3.5 3.3 3.6 3.2 3.5 3.3 1.8 1.6 0.9 0.9 0.8 0.7 0 0.6"/><use href="#s76" transform="scale(1,-1)"/>
<path id="s77" d="M-52 0.6l0-0.6 0-1.1 0-1.3 0.1-2.4 0.3-4.8 0.7-4.7 0.8-4.8 1.1-4.6 1.3-4.6 1.6-4.6 1.7-4.4 2-4.4 2.2-4.2 2.5-4.2 2.6-4 2.8-3.9 3-3.8 3.1-3.6 3.3-3.4 3.5-3.3 3.7-3.1 3.7-3 3.9-2.8 4.1-2.6 4.1-2.4 4.3-2.2 4.3-2 4.4-1.9 4.5-1.7 4.4-2 4.3-2.1 4.4-1.9 4.4-1.9 4.4-1.8 4.5-1.8 4.5-1.7 4.5-1.7 4.5-1.6 4.5-1.5 4.6-1.5 4.6-1.4 4.6-1.3 4.6-1.2 4.7-1.2 4.6-1.1 4.7-1.1 4.7-0.9 4.7-0.9 4.8-0.8 4.7-0.7 4.8-0.7 4.7-0.5 4.8-0.5 4.8-0.4 4.8-0.4 4.7-0.2 4.8-0.2 4.8-0.1 4.8 0 4.8 0.1 4.8 0.1 4.8 0.2 4.8 0.3 4.8 0.4 4.7 0.5 4.8 0.6 4.7 0.8 4.7 0.9 4.7 0.9 4.7 1.1 4.7 1 4.7 1.1 4.6 1.2 4.7 1.3 4.6 1.3 4.5 1.5 4.5 1.6 4.5 1.7 4.4 1.9 4.4 1.9 4.4 1.9 4.4 2 4.4 2 4.3 2 4.3 2 4.4 2.1 4.3 2.2 4.2 2.2 4.3 2.2 4.1 2.4 4.2 2.4 4.1 2.4 4.1 2.5 4 2.6 4.1 2.6 4 2.7 3.9 2.7 4 2.7 3.9 2.8 3.9 2.8 3.8 2.8 3.9 2.9 3.9 2.8 3.9 2.8 3.9 2.7 4 2.7 4.1 2.5 4.1 2.5 0.3 0.3 4.4 0 4.8 0 4.8 0 4.8 0 4.8 0 4.8 0 4.8 0 4.8 0 4.8 0 4.7 0 4.8 0 4.8 0 4.8 0 4.8 0 4.8 0 4.8 0 4.8 0 4.8 0 4.8 0 4.8 0 4.8 0 4.8 0 4.8 0 4.8 0 4.8 0 4.8 0 4.8 0 4.8 0 4.8 0 4.8 0 4.8 0 4.8 0 4.8 0 4.8 0 4.8 0 4.7 0 4.8 0 4.8 0 4.8 0 4.8 0 4.8 0 4.8 0 4.8 0 4.8 0 4.8 0 4.8 0 4.8 0 4.8 0 4.8 0 4.8 0 4.8 0 4.8 0 4.8 0 4.8 0 4.8 0 4.8 0 4.8 0 4.8 0 4.8 0 4.8 0 4.8 0 4.7 0 4.8 0 4.8 0 4.8 0 4.8 0 4.8 0 4.8 0 4.8 0 4.8 0 4.8 0 4.8 0 4.8 0 4.8 0 4.8 0 4.8 0 4.8 0 4.8 0 4.8 0 4.8 0 4.8 0 4.8 0 4.8 0 4.8 0 4.8 0 4.8 0 4.7 0 4.8 0 4.8 0 4.8 0 4.8 0 4.8 0 4.8 0 4.8 0 4.8 0 4.8 0 4.8 0 4.8 0 4.8 0 4.8 0 4.8 0 4.8 0 4.8 0 4.8 0 4.8 0 4.8 0 4.8 0 4.8 0 4.8 0 4.8 0 4.8 0 4.8 0 4.7 0 4.8 0 4.8 0 4.8 0 4.8 0 4.8 0 4.8 0 4.8 0 4.8 0 4.8 0 4.8 0 4.8 0 4.8 0 4.8 0 4.8 0 4.8 0 4.8 0 4.8 0.4 4.6 1.1 4.5 1.6 4.3 2.2 3.9 2.8 3.6 3.2 3.1 3.6 2.6 4.1 2.1 4.3 1.5 4.5 0.9 4.7 0.3 2.4 0 1.3 0 1.1 0 0.6"/><use href="#s77" transform="scale(1,-1)"/>
<path id="s78" d="M-52 0.6l0-0.6 0-1.1 0-1.3 0.1-2.4 0.3-4.8 0.7-4.7 0.8-4.7 1.1-4.7 1.3-4.6 1.5-4.5 1.8-4.4 2-4.4 2.2-4.2 2.4-4.2 2.6-4 2.8-3.9 2.9-3.7 3.2-3.6 3.3-3.5 3.5-3.3 3.6-3.1 3.7-3 3.9-2.7 4.1-2.6 4.1-2.5 4.2-2.2 4.3-2 4.4-1.9 4.5-1.6 4.4-2.1 4.3-2 4.4-1.9 4.4-1.9 4.4-1.8 4.5-1.8 4.4-1.6 4.5-1.7 4.5-1.6 4.6-1.5 4.5-1.4 4.6-1.4 4.6-1.3 4.7-1.2 4.6-1.2 4.6-1.1 4.7-1 4.7-0.9 4.7-0.9 4.7-0.8 4.8-0.7 4.7-0.6 4.8-0.6 4.7-0.5 4.8-0.4 4.8-0.3 4.7-0.3 4.8-0.1 4.8-0.1 4.8 0 4.8 0.1 4.7 0.1 4.8 0.2 4.8 0.2 4.8 0.4 4.7 0.5 4.8 0.7 4.7 0.8 4.7 0.8 4.7 1 4.6 1 4.7 1.1 4.7 1.1 4.6 1.1 4.6 1.3 4.6 1.3 4.6 1.5 4.5 1.6 4.4 1.8 4.4 1.8 4.4 1.9 4.4 1.9 4.4 2 4.3 2 4.4 2 4.3 2 4.3 2.1 4.3 2.1 4.2 2.2 4.3 2.3 4.1 2.3 4.2 2.4 4.1 2.4 4.1 2.6 4 2.5 4 2.6 4 2.7 3.9 2.7 4 2.7 3.9 2.8 3.8 2.8 3.9 2.8 3.9 2.8 3.8 2.8 3.9 2.8 4 2.7 4 2.6 4 2.6 4.1 2.5 4.8 0 4.8 0 4.8 0 4.7 0 4.8 0 4.8 0 4.8 0 4.8 0 4.8 0 4.7 0 4.8 0 4.8 0 4.8 0 4.8 0 4.8 0 4.7 0 4.8 0 4.8 0 4.8 0 4.8 0 4.8 0 4.7 0 4.8 0 4.8 0 4.8 0 4.8 0 4.8 0 4.7 0 4.8 0 4.8 0 4.8 0 4.8 0 4.8 0 4.7 0 4.8 0 4.8 0 4.8 0 4.8 0 4.8 0 4.8 0 4.7 0 4.8 0 4.8 0 4.8 0 4.8 0 4.8 0 4.7 0 4.8 0 4.8 0 4.8 0 4.8 0 4.8 0 4.7 0 4.8 0 4.8 0 4.8 0 4.8 0 4.8 0 4.7 0 4.8 0 4.8 0 4.8 0 4.8 0 4.8 0 4.7 0 4.8 0 4.8 0 4.8 0 4.8 0 4.8 0 4.7 0 4.8 0 4.8 0 4.8 0 4.8 0 4.8 0 4.7 0 4.8 0 4.8 0 4.8 0 4.8 0 4.8 0 4.7 0 4.8 0 4.8 0 4.8 0 4.8 0 4.8 0 4.7 0 4.8 0 4.8 0 4.8 0 4.8 0 4.8 0 4.7 0 4.8 0 4.8 0 4.8 0 4.8 0 4.8 0 4.8 0 4.7 0 4.8 0 4.8 0 4.8 0 4.8 0 4.8 0 4.7 0 4.8 0 4.8 0 4.8 0 4.8 0 4.8 0 4.7 0 4.8 0 4.8 0 4.8 0 4.8 0 4.8 0 4.7 0 4.8 0 4.8 0 4.8 0 4.8 0 4.7 0.5 4.7 1 4.5 1.7 4.2 2.2 3.9 2.7 3.6 3.2 3.1 3.7 2.6 4 2 4.3 1.5 4.5 1 4.7 0.2 2.4 0 1.3 0.1 1.1 0 0.6"/><use href="#s78" transform="scale(1,-1)"/>
<path id="s79" d="M-52 0.6l0-0.6 0-1.1 0-1.3 0.1-2.4 0.3-4.8 0.7-4.7 0.8-4.7 1.1-4.7 1.3-4.6 1.6-4.5 1.7-4.5 2-4.3 2.2-4.3 2.4-4.1 2.6-4.1 2.8-3.8 3-3.8 3.2-3.6 3.3-3.5 3.5-3.2 3.6-3.2 3.8-2.9 3.9-2.8 4-2.6 4.1-2.4 4.3-2.3 4.3-2 4.4-1.8 4.5-1.7 4.3-2 4.4-2 4.4-1.9 4.4-1.9 4.5-1.8 4.4-1.7 4.5-1.7 4.5-1.6 4.6-1.5 4.5-1.5 4.6-1.4 4.6-1.4 4.6-1.3 4.6-1.2 4.7-1.1 4.7-1.1 4.7-1 4.7-0.9 4.7-0.8 4.7-0.8 4.7-0.7 4.8-0.6 4.8-0.6 4.7-0.4 4.8-0.4 4.8-0.3 4.8-0.2 4.8-0.2 4.7 0 4.8 0 4.8 0.1 4.8 0.1 4.8 0.2 4.8 0.3 4.7 0.4 4.8 0.6 4.7 0.7 4.8 0.8 4.7 0.9 4.7 1 4.6 1 4.7 1.1 4.7 1.1 4.6 1.2 4.6 1.3 4.6 1.3 4.6 1.6 4.4 1.6 4.5 1.8 4.4 1.9 4.4 1.9 4.4 1.9 4.3 2 4.4 2 4.4 2 4.3 2 4.3 2.1 4.3 2.2 4.2 2.2 4.2 2.3 4.2 2.4 4.1 2.4 4.1 2.4 4.1 2.6 4 2.6 4 2.6 4 2.7 4 2.7 3.9 2.7 3.9 2.8 3.9 2.8 3.8 2.9 3.9 2.8 3.9 2.8 3.9 2.7 4 2.6 4.1 2.6 4 2.6 1.8 1.1 2.7 0 4.8 0 4.8 0 4.8 0 4.8 0 4.8 0 4.8 0 4.7 0 4.8 0 4.8 0 4.8 0 4.8 0 4.8 0 4.8 0 4.8 0 4.8 0 4.8 0 4.8 0 4.7 0 4.8 0 4.8 0 4.8 0 4.8 0 4.8 0 4.8 0 4.8 0 4.8 0 4.8 0 4.7 0 4.8 0 4.8 0 4.8 0 4.8 0 4.8 0 4.8 0 4.8 0 4.8 0 4.8 0 4.8 0 4.7 0 4.8 0 4.8 0 4.8 0 4.8 0 4.8 0 4.8 0 4.8 0 4.8 0 4.8 0 4.8 0 4.7 0 4.8 0 4.8 0 4.8 0 4.8 0 4.8 0 4.8 0 4.8 0 4.8 0 4.8 0 4.8 0 4.7 0 4.8 0 4.8 0 4.8 0 4.8 0 4.8 0 4.8 0 4.8 0 4.8 0 4.8 0 4.8 0 4.7 0 4.8 0 4.8 0 4.8 0 4.8 0 4.8 0 4.8 0 4.8 0 4.8 0 4.8 0 4.8 0 4.7 0 4.8 0 4.8 0 4.8 0 4.8 0 4.8 0 4.8 0 4.8 0 4.8 0 4.8 0 4.8 0 4.7 0 4.8 0 4.8 0 4.8 0 4.8 0 4.8 0 4.8 0 4.8 0 4.8 0 4.8 0 4.7 0 4.8 0 4.8 0 4.8 0 4.8 0 4.8 0 4.8 0 4.8 0 4.8 0 4.8 0 4.8 0 4.7 0 4.8 0 4.8 0 4.8 0 4.8 0.4 4.7 1.1 4.4 1.7 4.3 2.2 3.9 2.7 3.6 3.2 3.1 3.7 2.6 4 2.1 4.3 1.5 4.5 0.9 4.7 0.2 2.4 0.1 1.3 0 1.1 0 0.6"/><use href="#s79" transform="scale(1,-1)"/>
<path id="s80" d="M-52 0.6l0-0.6 0-1.1 0-1.3 0.1-2.4 0.3-4.8 0.7-4.7 0.8-4.8 1.1-4.6 1.3-4.6 1.6-4.6 1.7-4.4 2-4.4 2.2-4.3 2.5-4.1 2.6-4 2.8-3.9 3-3.8 3.1-3.6 3.4-3.4 3.5-3.3 3.6-3.2 3.8-2.9 3.9-2.8 4-2.6 4.2-2.4 4.2-2.2 4.4-2.1 4.4-1.8 4.5-1.7 4.3-2 4.4-1.9 4.4-1.9 4.5-1.9 4.4-1.7 4.5-1.7 4.5-1.7 4.5-1.6 4.6-1.5 4.6-1.5 4.6-1.4 4.6-1.3 4.6-1.2 4.7-1.2 4.6-1.1 4.7-1.1 4.7-1 4.7-0.9 4.7-0.8 4.8-0.7 4.7-0.7 4.8-0.6 4.8-0.5 4.7-0.4 4.8-0.4 4.8-0.3 4.8-0.2 4.8-0.1 4.8 0 4.8 0 4.8 0.1 4.8 0.1 4.8 0.3 4.8 0.3 4.8 0.5 4.7 0.6 4.8 0.7 4.7 0.8 4.7 1 4.7 1 4.7 1 4.6 1.1 4.7 1.1 4.6 1.3 4.7 1.3 4.5 1.4 4.6 1.6 4.5 1.7 4.4 1.8 4.4 1.9 4.4 1.9 4.4 2 4.4 1.9 4.3 2 4.4 2.1 4.3 2 4.3 2.2 4.3 2.1 4.2 2.3 4.2 2.3 4.2 2.4 4.1 2.4 4.1 2.5 4.1 2.6 4 2.6 4 2.6 4 2.7 3.9 2.8 3.9 2.7 3.9 2.8 3.9 2.9 3.9 2.8 3.9 2.8 3.9 2.8 4 2.7 4 2.6 4.1 2.5 3.5 2.2 0.6 0 4.8 0 4.8 0 4.8 0 4.8 0 4.8 0 4.8 0 4.8 0 4.8 0 4.8 0 4.8 0 4.8 0 4.8 0 4.8 0 4.8 0 4.8 0 4.8 0 4.8 0 4.8 0 4.8 0 4.8 0 4.8 0 4.8 0 4.8 0 4.8 0 4.8 0 4.8 0 4.8 0 4.8 0 4.8 0 4.8 0 4.8 0 4.8 0 4.8 0 4.8 0 4.8 0 4.8 0 4.8 0 4.8 0 4.8 0 4.8 0 4.8 0 4.8 0 4.8 0 4.8 0 4.8 0 4.8 0 4.8 0 4.8 0 4.8 0 4.8 0 4.8 0 4.8 0 4.8 0 4.8 0 4.8 0 4.8 0 4.8 0 4.8 0 4.8 0 4.8 0 4.7 0 4.8 0 4.8 0 4.8 0 4.8 0 4.8 0 4.8 0 4.8 0 4.8 0 4.8 0 4.8 0 4.8 0 4.8 0 4.8 0 4.8 0 4.8 0 4.8 0 4.8 0 4.8 0 4.8 0 4.8 0 4.8 0 4.8 0 4.8 0 4.8 0 4.8 0 4.8 0 4.8 0 4.8 0 4.8 0 4.8 0 4.8 0 4.8 0 4.8 0 4.8 0 4.8 0 4.8 0 4.8 0 4.8 0 4.8 0 4.8 0 4.8 0 4.8 0 4.8 0 4.8 0 4.8 0 4.8 0 4.8 0 4.8 0 4.8 0 4.8 0 4.8 0 4.8 0 4.7 0.4 4.7 1.1 4.5 1.6 4.3 2.2 3.9 2.8 3.6 3.2 3.1 3.6 2.6 4 2.1 4.4 1.5 4.5 0.9 4.7 0.3 2.4 0 1.3 0 1.1 0 0.6"/><use href="#s80" transform="scale(1,-1)"/>
<path id="s81" d="M-52 0.6l0-0.6 0-1.1 0-1.3 0.1-2.4 0.3-4.8 0.7-4.7 0.8-4.7 1.1-4.7 1.3-4.6 1.5-4.5 1.8-4.4 2-4.4 2.2-4.2 2.4-4.2 2.6-4 2.8-3.9 2.9-3.7 3.2-3.6 3.3-3.5 3.5-3.3 3.6-3.1 3.8-3 3.9-2.7 4-2.6 4.1-2.5 4.2-2.2 4.4-2 4.4-1.9 4.5-1.6 4.3-2 4.4-1.9 4.4-1.9 4.4-1.8 4.5-1.8 4.5-1.7 4.5-1.6 4.5-1.5 4.5-1.5 4.6-1.5 4.6-1.4 4.6-1.3 4.6-1.2 4.6-1.2 4.7-1.1 4.7-1 4.7-0.9 4.7-0.9 4.7-0.8 4.7-0.8 4.8-0.6 4.7-0.6 4.8-0.5 4.7-0.4 4.8-0.4 4.8-0.3 4.8-0.2 4.7-0.1 4.8 0 4.8 0 4.8 0.1 4.8 0.2 4.8 0.2 4.7 0.4 4.8 0.4 4.7 0.6 4.8 0.7 4.7 0.9 4.7 0.9 4.7 1 4.6 1 4.7 1.1 4.6 1.2 4.7 1.2 4.6 1.3 4.5 1.5 4.5 1.5 4.5 1.7 4.4 1.8 4.4 1.9 4.4 2 4.4 1.9 4.3 2 4.4 2 4.3 2 4.4 2 4.2 2.2 4.3 2.1 4.2 2.3 4.2 2.3 4.2 2.4 4.1 2.4 4.1 2.5 4 2.6 4 2.6 4 2.6 4 2.7 3.9 2.7 3.9 2.8 3.9 2.8 3.9 2.8 3.8 2.8 3.9 2.8 3.9 2.7 4 2.7 4 2.6 4.1 2.5 2.8 1.8 1.5 0 4.8 0 4.8 0 4.7 0 4.8 0 4.8 0 4.8 0 4.8 0 4.8 0 4.8 0 4.7 0 4.8 0 4.8 0 4.8 0 4.8 0 4.8 0 4.8 0 4.7 0 4.8 0 4.8 0 4.8 0 4.8 0 4.8 0 4.7 0 4.8 0 4.8 0 4.8 0 4.8 0 4.8 0 4.8 0 4.7 0 4.8 0 4.8 0 4.8 0 4.8 0 4.8 0 4.8 0 4.7 0 4.8 0 4.8 0 4.8 0 4.8 0 4.8 0 4.7 0 4.8 0 4.8 0 4.8 0 4.8 0 4.8 0 4.8 0 4.7 0 4.8 0 4.8 0 4.8 0 4.8 0 4.8 0 4.7 0 4.8 0 4.8 0 4.8 0 4.8 0 4.8 0 4.8 0 4.7 0 4.8 0 4.8 0 4.8 0 4.8 0 4.8 0 4.8 0 4.7 0 4.8 0 4.8 0 4.8 0 4.8 0 4.8 0 4.7 0 4.8 0 4.8 0 4.8 0 4.8 0 4.8 0 4.8 0 4.7 0 4.8 0 4.8 0 4.8 0 4.8 0 4.8 0 4.7 0 4.8 0 4.8 0 4.8 0 4.8 0 4.8 0 4.8 0 4.7 0 4.8 0 4.8 0 4.8 0 4.8 0 4.8 0 4.8 0 4.7 0 4.8 0 4.8 0 4.8 0 4.8 0 4.8 0 4.7 0.5 4.7 1 4.5 1.7 4.2 2.2 3.9 2.7 3.6 3.2 3.1 3.7 2.6 4 2 4.3 1.5 4.5 1 4.7 0.2 2.4 0.1 1.3 0 1.1 0 0.6"/><use href="#s81" transform="scale(1,-1)"/>
<path id="s82" d="M-52 0.6l0-0.6 0-1.1 0-1.3 0.1-2.4 0.3-4.8 0.7-4.7 0.8-4.7 1.1-4.7 1.3-4.6 1.6-4.5 1.7-4.5 2-4.4 2.2-4.2 2.4-4.2 2.6-4 2.8-3.9 3-3.7 3.2-3.6 3.3-3.5 3.5-3.3 3.6-3.1 3.8-3 3.9-2.7 4-2.6 4.2-2.5 4.2-2.2 4.3-2 4.5-1.9 4.4-1.6 4.4-2 4.4-1.9 4.4-1.8 4.5-1.8 4.5-1.7 4.5-1.7 4.5-1.6 4.5-1.5 4.6-1.5 4.6-1.4 4.6-1.4 4.6-1.2 4.6-1.3 4.7-1.1 4.6-1.1 4.7-1 4.7-0.9 4.7-0.9 4.8-0.7 4.7-0.7 4.8-0.7 4.7-0.5 4.8-0.5 4.8-0.4 4.8-0.3 4.7-0.3 4.8-0.2 4.8 0 4.8-0.1 4.8 0.1 4.8 0.1 4.8 0.2 4.8 0.3 4.7 0.3 4.8 0.5 4.8 0.7 4.7 0.7 4.7 0.9 4.7 1 4.7 1 4.7 1 4.6 1.2 4.7 1.1 4.6 1.3 4.6 1.4 4.5 1.4 4.5 1.7 4.5 1.7 4.4 1.9 4.4 1.9 4.4 1.9 4.4 2 4.3 2 4.4 2 4.3 2 4.4 2.1 4.2 2.1 4.3 2.2 4.2 2.3 4.2 2.4 4.1 2.4 4.1 2.5 4.1 2.5 4 2.6 4 2.6 4 2.7 4 2.7 3.9 2.7 3.9 2.8 3.9 2.8 3.9 2.8 3.8 2.8 4 2.8 3.9 2.7 4 2.6 4.1 2.6 4.1 2.5 0.1 0.1 4.7 0 4.7 0 4.8 0 4.8 0 4.8 0 4.8 0 4.8 0 4.8 0 4.8 0 4.8 0 4.8 0 4.8 0 4.8 0 4.8 0 4.8 0 4.7 0 4.8 0 4.8 0 4.8 0 4.8 0 4.8 0 4.8 0 4.8 0 4.8 0 4.8 0 4.8 0 4.8 0 4.8 0 4.7 0 4.8 0 4.8 0 4.8 0 4.8 0 4.8 0 4.8 0 4.8 0 4.8 0 4.8 0 4.8 0 4.8 0 4.8 0 4.8 0 4.7 0 4.8 0 4.8 0 4.8 0 4.8 0 4.8 0 4.8 0 4.8 0 4.8 0 4.8 0 4.8 0 4.8 0 4.8 0 4.7 0 4.8 0 4.8 0 4.8 0 4.8 0 4.8 0 4.8 0 4.8 0 4.8 0 4.8 0 4.8 0 4.8 0 4.8 0 4.8 0 4.7 0 4.8 0 4.8 0 4.8 0 4.8 0 4.8 0 4.8 0 4.8 0 4.8 0 4.8 0 4.8 0 4.8 0 4.8 0 4.8 0 4.7 0 4.8 0 4.8 0 4.8 0 4.8 0 4.8 0 4.8 0 4.8 0 4.8 0 4.8 0 4.8 0 4.8 0 4.8 0 4.7 0 4.8 0 4.8 0 4.8 0 4.8 0 4.8 0 4.8 0 4.8 0.4 4.6 1.1 4.5 1.6 4.3 2.3 3.9 2.7 3.6 3.2 3.1 3.6 2.6 4.1 2.1 4.3 1.5 4.5 0.9 4.7 0.2 2.4 0.1 1.3 0 1.1 0 0.6"/><use href="#s82" transform="scale(1,-1)"/>
<path id="s83" d="M-52 0.6l0-0.6 0-1.1 0-1.3 0.1-2.4 0.3-4.7 0.6-4.8 0.9-4.7 1.1-4.6 1.3-4.6 1.5-4.6 1.8-4.4 2-4.3 2.2-4.3 2.3-4.1 2.6-4 2.8-3.9 3-3.8 3.1-3.6 3.3-3.4 3.5-3.3 3.6-3.1 3.8-3 3.9-2.8 4-2.6 4.1-2.4 4.2-2.2 4.3-2.1 4.4-1.8 4.5-1.7 4.4-1.9 4.4-1.9 4.4-1.8 4.4-1.7 4.5-1.7 4.5-1.7 4.5-1.6 4.5-1.5 4.6-1.4 4.6-1.4 4.6-1.3 4.6-1.3 4.6-1.2 4.6-1.1 4.7-1.1 4.7-1 4.7-0.9 4.7-0.8 4.7-0.8 4.7-0.7 4.7-0.6 4.8-0.5 4.7-0.5 4.8-0.4 4.8-0.3 4.8-0.2 4.7-0.2 4.8-0.1 4.8 0 4.8 0.1 4.7 0.1 4.8 0.2 4.8 0.2 4.7 0.4 4.8 0.5 4.7 0.7 4.7 0.8 4.7 0.8 4.7 1 4.7 1 4.7 1.1 4.6 1.1 4.6 1.1 4.6 1.3 4.6 1.4 4.5 1.5 4.5 1.6 4.5 1.8 4.4 1.8 4.4 1.9 4.3 2 4.4 1.9 4.4 2 4.3 2 4.3 2 4.3 2.1 4.3 2.1 4.2 2.3 4.2 2.3 4.2 2.3 4.1 2.4 4.1 2.5 4 2.5 4.1 2.6 4 2.6 3.9 2.7 4 2.7 3.9 2.7 3.9 2.8 3.8 2.8 3.9 2.8 3.9 2.8 3.9 2.7 4 2.7 4 2.6 4 2.5 3.4 2.1 0.8 0 4.8 0 4.8 0 4.8 0 4.8 0 4.7 0 4.8 0 4.8 0 4.8 0 4.7 0 4.8 0 4.8 0 4.8 0 4.8 0 4.7 0 4.8 0 4.8 0 4.8 0 4.7 0 4.8 0 4.8 0 4.8 0 4.8 0 4.7 0 4.8 0 4.8 0 4.8 0 4.8 0 4.7 0 4.8 0 4.8 0 4.8 0 4.7 0 4.8 0 4.8 0 4.8 0 4.8 0 4.7 0 4.8 0 4.8 0 4.8 0 4.7 0 4.8 0 4.8 0 4.8 0 4.8 0 4.7 0 4.8 0 4.8 0 4.8 0 4.8 0 4.7 0 4.8 0 4.8 0 4.8 0 4.7 0 4.8 0 4.8 0 4.8 0 4.8 0 4.7 0 4.8 0 4.8 0 4.8 0 4.7 0 4.8 0 4.8 0 4.8 0 4.8 0 4.7 0 4.8 0 4.8 0 4.8 0 4.8 0 4.7 0 4.8 0 4.8 0 4.8 0 4.7 0 4.8 0 4.8 0 4.8 0 4.8 0 4.7 0 4.8 0 4.8 0 4.8 0 4.7 0 4.8 0 4.8 0 4.8 0 4.8 0 4.7 0 4.8 0 4.8 0 4.8 0 4.8 0 4.7 0 4.8 0 4.8 0.5 4.6 1 4.5 1.7 4.2 2.2 3.9 2.8 3.6 3.2 3.1 3.6 2.6 4 2 4.3 1.5 4.5 0.9 4.7 0.3 2.4 0 1.3 0 1.1 0 0.6"/><use href="#s83" transform="scale(1,-1)"/>
<path id="s84" d="M-52 0.6l0-0.6 0-1.1 0-1.3 0.1-2.4 0.3-4.8 0.7-4.7 0.8-4.7 1.1-4.7 1.3-4.6 1.5-4.5 1.8-4.5 2-4.3 2.2-4.3 2.4-4.1 2.6-4 2.8-3.9 3-3.8 3.1-3.6 3.3-3.4 3.5-3.3 3.6-3.1 3.8-3 3.9-2.8 4-2.6 4.1-2.4 4.3-2.2 4.3-2.1 4.4-1.8 4.5-1.7 4.4-1.9 4.4-1.8 4.4-1.8 4.5-1.7 4.5-1.7 4.5-1.6 4.5-1.6 4.6-1.5 4.5-1.4 4.6-1.3 4.6-1.3 4.7-1.3 4.6-1.1 4.7-1.1 4.6-1.1 4.7-0.9 4.7-0.9 4.8-0.8 4.7-0.7 4.7-0.7 4.8-0.6 4.7-0.5 4.8-0.5 4.8-0.3 4.7-0.3 4.8-0.2 4.8-0.2 4.8 0 4.8 0 4.8 0.1 4.8 0.1 4.7 0.2 4.8 0.3 4.8 0.5 4.7 0.5 4.8 0.7 4.7 0.9 4.7 0.9 4.7 0.9 4.6 1.1 4.7 1.1 4.6 1.1 4.7 1.2 4.6 1.3 4.5 1.5 4.6 1.5 4.4 1.7 4.5 1.8 4.4 1.9 4.4 1.9 4.3 2 4.4 1.9 4.4 2 4.3 2 4.3 2.1 4.3 2.1 4.3 2.2 4.2 2.3 4.2 2.3 4.1 2.4 4.1 2.4 4.1 2.5 4 2.6 4.1 2.6 3.9 2.7 4 2.6 3.9 2.8 3.9 2.7 3.9 2.8 3.9 2.9 3.9 2.8 3.9 2.7 3.9 2.7 4 2.6 4.1 2.6 4.1 2.4 0.3 0.3 4.4 0 4.8 0 4.8 0 4.8 0 4.8 0 4.7 0 4.8 0 4.8 0 4.8 0 4.8 0 4.8 0 4.8 0 4.7 0 4.8 0 4.8 0 4.8 0 4.8 0 4.8 0 4.8 0 4.8 0 4.7 0 4.8 0 4.8 0 4.8 0 4.8 0 4.8 0 4.8 0 4.7 0 4.8 0 4.8 0 4.8 0 4.8 0 4.8 0 4.8 0 4.7 0 4.8 0 4.8 0 4.8 0 4.8 0 4.8 0 4.8 0 4.8 0 4.7 0 4.8 0 4.8 0 4.8 0 4.8 0 4.8 0 4.8 0 4.7 0 4.8 0 4.8 0 4.8 0 4.8 0 4.8 0 4.8 0 4.7 0 4.8 0 4.8 0 4.8 0 4.8 0 4.8 0 4.8 0 4.7 0 4.8 0 4.8 0 4.8 0 4.8 0 4.8 0 4.8 0 4.8 0 4.7 0 4.8 0 4.8 0 4.8 0 4.8 0 4.8 0 4.8 0 4.7 0 4.8 0 4.8 0 4.8 0 4.8 0 4.8 0 4.8 0 4.7 0 4.8 0 4.8 0 4.8 0 4.8 0 4.8 0 4.8 0 4.8 0 4.7 0.4 4.7 1.1 4.5 1.7 4.2 2.2 3.9 2.7 3.6 3.2 3.1 3.7 2.6 4 2 4.3 1.6 4.5 0.9 4.7 0.2 2.4 0.1 1.3 0 1.1 0 0.6"/><use href="#s84" transform="scale(1,-1)"/>
<path id="s85" d="M-52 0.6l0-0.6 0-1.1 0-1.3 0.1-2.4 0.3-4.8 0.7-4.7 0.8-4.7 1.1-4.7 1.3-4.6 1.6-4.6 1.7-4.4 2-4.4 2.2-4.2 2.4-4.2 2.7-4 2.8-3.9 2.9-3.7 3.2-3.6 3.3-3.5 3.5-3.3 3.6-3.1 3.8-3 3.9-2.8 4-2.6 4.2-2.4 4.2-2.2 4.4-2 4.4-1.9 4.5-1.6 4.4-1.9 4.4-1.8 4.5-1.8 4.5-1.7 4.5-1.7 4.5-1.5 4.6-1.6 4.5-1.4 4.6-1.4 4.6-1.4 4.6-1.2 4.7-1.2 4.6-1.2 4.7-1 4.7-1 4.7-0.9 4.7-0.9 4.8-0.8 4.7-0.7 4.8-0.6 4.7-0.6 4.8-0.5 4.8-0.4 4.7-0.3 4.8-0.3 4.8-0.2 4.8-0.1 4.8 0 4.8 0 4.8 0.1 4.8 0.2 4.8 0.2 4.8 0.4 4.7 0.5 4.8 0.6 4.7 0.8 4.7 0.8 4.7 1 4.7 1 4.7 1 4.7 1.1 4.6 1.2 4.6 1.3 4.6 1.3 4.6 1.5 4.5 1.7 4.5 1.7 4.4 1.9 4.4 1.9 4.4 1.9 4.3 2 4.4 1.9 4.4 2.1 4.3 2 4.3 2.1 4.3 2.2 4.2 2.2 4.2 2.3 4.2 2.4 4.1 2.4 4.1 2.5 4.1 2.5 4 2.6 4 2.7 4 2.6 4 2.8 3.9 2.7 3.9 2.8 3.9 2.8 3.8 2.8 4 2.8 3.9 2.7 4 2.7 4.1 2.5 4.1 2.5 1.2 0.8 3.3 0 4.8 0 4.8 0 4.8 0 4.8 0 4.8 0 4.8 0 4.8 0 4.8 0 4.8 0 4.8 0 4.8 0 4.8 0 4.8 0 4.8 0 4.8 0 4.8 0 4.8 0 4.8 0 4.7 0 4.8 0 4.8 0 4.8 0 4.8 0 4.8 0 4.8 0 4.8 0 4.8 0 4.8 0 4.8 0 4.8 0 4.8 0 4.8 0 4.8 0 4.8 0 4.8 0 4.8 0 4.7 0 4.8 0 4.8 0 4.8 0 4.8 0 4.8 0 4.8 0 4.8 0 4.8 0 4.8 0 4.8 0 4.8 0 4.8 0 4.8 0 4.8 0 4.8 0 4.8 0 4.8 0 4.8 0 4.7 0 4.8 0 4.8 0 4.8 0 4.8 0 4.8 0 4.8 0 4.8 0 4.8 0 4.8 0 4.8 0 4.8 0 4.8 0 4.8 0 4.8 0 4.8 0 4.8 0 4.8 0 4.8 0 4.7 0 4.8 0 4.8 0 4.8 0 4.8 0 4.8 0 4.8 0 4.8 0 4.8 0 4.8 0 4.8 0 4.8 0 4.8 0 4.8 0.4 4.6 1.1 4.5 1.6 4.3 2.2 3.9 2.8 3.6 3.2 3.1 3.6 2.6 4.1 2.1 4.3 1.5 4.5 0.9 4.7 0.2 2.4 0.1 1.3 0 1.1 0 0.6"/><use href="#s85" transform="scale(1,-1)"/>
<path id="s86" d="M-52 0.6l0-0.6 0-1.1 0-1.3 0.1-2.4 0.3-4.7 0.6-4.8 0.9-4.7 1.1-4.6 1.3-4.6 1.5-4.6 1.8-4.4 2-4.4 2.2-4.2 2.4-4.1 2.5-4 2.8-3.9 3-3.8 3.1-3.6 3.3-3.4 3.5-3.3 3.6-3.1 3.8-3 3.9-2.8 4-2.6 4.1-2.4 4.2-2.2 4.3-2.1 4.4-1.8 4.5-1.7 4.4-1.8 4.5-1.8 4.4-1.8 4.5-1.6 4.5-1.7 4.5-1.5 4.5-1.5 4.6-1.4 4.6-1.4 4.6-1.3 4.6-1.3 4.6-1.1 4.7-1.2 4.6-1 4.7-1 4.7-0.9 4.7-0.8 4.7-0.8 4.8-0.7 4.7-0.6 4.7-0.5 4.8-0.5 4.8-0.4 4.7-0.3 4.8-0.3 4.8-0.2 4.8-0.1 4.7 0 4.8 0.1 4.8 0.1 4.8 0.1 4.7 0.3 4.8 0.4 4.8 0.5 4.7 0.6 4.7 0.8 4.7 0.8 4.7 1 4.7 1 4.6 1.1 4.7 1.1 4.6 1.1 4.6 1.3 4.6 1.4 4.5 1.5 4.5 1.7 4.4 1.8 4.4 1.8 4.4 1.9 4.4 2 4.4 1.9 4.3 2 4.4 2 4.3 2 4.3 2.1 4.2 2.2 4.2 2.2 4.2 2.3 4.2 2.4 4.1 2.5 4.1 2.5 4 2.5 4 2.6 4 2.6 3.9 2.7 4 2.8 3.9 2.7 3.9 2.8 3.8 2.8 3.9 2.8 3.9 2.7 4 2.7 4 2.6 4 2.6 4 2.4 0.1 0 4.8 0 4.8 0 4.8 0 4.8 0 4.7 0 4.8 0 4.8 0 4.8 0 4.7 0 4.8 0 4.8 0 4.8 0 4.8 0 4.7 0 4.8 0 4.8 0 4.8 0 4.8 0 4.7 0 4.8 0 4.8 0 4.8 0 4.8 0 4.7 0 4.8 0 4.8 0 4.8 0 4.8 0 4.7 0 4.8 0 4.8 0 4.8 0 4.7 0 4.8 0 4.8 0 4.8 0 4.8 0 4.7 0 4.8 0 4.8 0 4.8 0 4.8 0 4.7 0 4.8 0 4.8 0 4.8 0 4.8 0 4.7 0 4.8 0 4.8 0 4.8 0 4.8 0 4.7 0 4.8 0 4.8 0 4.8 0 4.7 0 4.8 0 4.8 0 4.8 0 4.8 0 4.7 0 4.8 0 4.8 0 4.8 0 4.8 0 4.7 0 4.8 0 4.8 0 4.8 0 4.8 0 4.7 0 4.8 0 4.8 0 4.8 0 4.8 0 4.7 0 4.8 0 4.8 0 4.8 0 4.7 0 4.8 0 4.8 0 4.8 0.5 4.6 1 4.5 1.7 4.2 2.2 3.9 2.8 3.6 3.2 3.1 3.6 2.6 4 2 4.3 1.5 4.5 0.9 4.7 0.3 2.4 0 1.3 0.1 1.1 0 0.6"/><use href="#s86" transform="scale(1,-1)"/>
<path id="s87" d="M-52 0.6l0-0.6 0-1.1 0-1.3 0.1-2.4 0.3-4.8 0.7-4.7 0.8-4.7 1.1-4.7 1.3-4.6 1.5-4.5 1.8-4.5 2-4.3 2.2-4.3 2.4-4.1 2.6-4 2.8-3.9 3-3.8 3.1-3.6 3.3-3.4 3.5-3.3 3.6-3.1 3.8-3 3.9-2.8 4-2.6 4.2-2.4 4.2-2.2 4.3-2.1 4.4-1.8 4.5-1.7 4.5-1.8 4.4-1.8 4.5-1.7 4.5-1.6 4.5-1.6 4.5-1.5 4.6-1.5 4.6-1.4 4.6-1.3 4.6-1.3 4.6-1.2 4.7-1.2 4.6-1.1 4.7-1 4.7-0.9 4.7-0.9 4.7-0.8 4.8-0.7 4.7-0.7 4.8-0.6 4.7-0.5 4.8-0.4 4.8-0.4 4.7-0.3 4.8-0.2 4.8-0.2 4.8 0 4.8 0 4.8 0 4.7 0.2 4.8 0.2 4.8 0.3 4.8 0.4 4.7 0.6 4.8 0.7 4.7 0.8 4.7 0.9 4.7 1 4.6 1 4.7 1.1 4.7 1.2 4.6 1.2 4.6 1.3 4.5 1.5 4.6 1.6 4.4 1.7 4.4 1.9 4.4 1.8 4.4 2 4.4 1.9 4.4 2 4.3 2 4.3 2 4.4 2.1 4.2 2.2 4.3 2.2 4.2 2.3 4.1 2.3 4.2 2.5 4.1 2.4 4 2.6 4.1 2.6 3.9 2.6 4 2.7 4 2.7 3.9 2.8 3.9 2.8 3.8 2.8 3.9 2.8 3.9 2.7 4 2.7 4 2.6 4.1 2.6 4.1 2.4 0.3 0.3 4.4 0 4.8 0 4.7 0 4.8 0 4.8 0 4.8 0 4.8 0 4.8 0 4.8 0 4.8 0 4.8 0 4.7 0 4.8 0 4.8 0 4.8 0 4.8 0 4.8 0 4.8 0 4.8 0 4.7 0 4.8 0 4.8 0 4.8 0 4.8 0 4.8 0 4.8 0 4.8 0 4.7 0 4.8 0 4.8 0 4.8 0 4.8 0 4.8 0 4.8 0 4.8 0 4.7 0 4.8 0 4.8 0 4.8 0 4.8 0 4.8 0 4.8 0 4.8 0 4.8 0 4.7 0 4.8 0 4.8 0 4.8 0 4.8 0 4.8 0 4.8 0 4.8 0 4.7 0 4.8 0 4.8 0 4.8 0 4.8 0 4.8 0 4.8 0 4.8 0 4.7 0 4.8 0 4.8 0 4.8 0 4.8 0 4.8 0 4.8 0 4.8 0 4.7 0 4.8 0 4.8 0 4.8 0 4.8 0 4.8 0 4.8 0 4.8 0 4.7 0 4.8 0 4.8 0.4 4.7 1.1 4.5 1.7 4.2 2.2 3.9 2.7 3.6 3.2 3.1 3.7 2.6 4 2 4.3 1.6 4.5 0.9 4.7 0.2 2.4 0.1 1.3 0 1.1 0 0.6"/><use href="#s87" transform="scale(1,-1)"/>
<path id="s88" d="M-52 0.6l0-0.6 0-1.1 0-1.3 0.1-2.4 0.3-4.8 0.7-4.7 0.8-4.8 1.1-4.6 1.3-4.6 1.6-4.6 1.7-4.4 2-4.4 2.2-4.3 2.5-4.1 2.6-4 2.8-3.9 3-3.8 3.1-3.6 3.4-3.4 3.4-3.3 3.7-3.1 3.8-3 3.9-2.8 4-2.6 4.1-2.4 4.3-2.2 4.3-2.1 4.5-1.8 4.5-1.7 4.4-1.8 4.5-1.7 4.5-1.7 4.5-1.6 4.5-1.5 4.6-1.5 4.6-1.5 4.6-1.3 4.6-1.4 4.6-1.2 4.7-1.2 4.6-1.1 4.7-1.1 4.7-0.9 4.7-0.9 4.7-0.9 4.8-0.8 4.7-0.7 4.8-0.6 4.7-0.5 4.8-0.5 4.8-0.4 4.8-0.4 4.8-0.2 4.8-0.2 4.7-0.1 4.8-0.1 4.8 0.1 4.8 0.1 4.8 0.1 4.8 0.3 4.8 0.3 4.8 0.5 4.7 0.7 4.8 0.7 4.7 0.9 4.7 1 4.7 1 4.6 1.1 4.7 1.1 4.7 1.2 4.6 1.3 4.6 1.4 4.5 1.5 4.5 1.7 4.4 1.8 4.5 1.9 4.4 1.9 4.3 2 4.4 1.9 4.4 2 4.3 2 4.4 2.1 4.2 2.1 4.3 2.2 4.2 2.3 4.2 2.4 4.2 2.4 4.1 2.5 4 2.5 4.1 2.6 4 2.6 4 2.7 3.9 2.7 3.9 2.8 3.9 2.8 3.9 2.8 3.9 2.8 3.9 2.8 4 2.7 4 2.6 4.1 2.6 4.1 2.4 0.5 0.4 4.2 0 4.8 0 4.8 0 4.8 0 4.8 0 4.8 0 4.8 0 4.7 0 4.8 0 4.8 0 4.8 0 4.8 0 4.8 0 4.8 0 4.8 0 4.8 0 4.8 0 4.8 0 4.8 0 4.8 0 4.8 0 4.8 0 4.8 0 4.8 0 4.8 0 4.8 0 4.8 0 4.8 0 4.8 0 4.8 0 4.8 0 4.8 0 4.8 0 4.8 0 4.8 0 4.8 0 4.8 0 4.8 0 4.8 0 4.8 0 4.8 0 4.8 0 4.7 0 4.8 0 4.8 0 4.8 0 4.8 0 4.8 0 4.8 0 4.8 0 4.8 0 4.8 0 4.8 0 4.8 0 4.8 0 4.8 0 4.8 0 4.8 0 4.8 0 4.8 0 4.8 0 4.8 0 4.8 0 4.8 0 4.8 0 4.8 0 4.8 0 4.8 0 4.8 0 4.8 0 4.8 0 4.8 0 4.8 0 4.7 0.4 4.7 1.1 4.5 1.6 4.3 2.2 3.9 2.8 3.6 3.2 3.1 3.6 2.6 4 2.1 4.4 1.5 4.5 0.9 4.7 0.2 2.4 0.1 1.3 0 1.1 0 0.6"/><use href="#s88" transform="scale(1,-1)"/>
<path id="s89" d="M-52 0.6l0-0.6 0-1.1 0-1.3 0.1-2.4 0.3-4.7 0.7-4.8 0.8-4.7 1.1-4.6 1.3-4.6 1.5-4.6 1.8-4.4 2-4.4 2.2-4.2 2.4-4.1 2.6-4.1 2.7-3.8 3-3.8 3.1-3.6 3.4-3.4 3.4-3.3 3.6-3.2 3.8-2.9 3.9-2.8 4-2.6 4.1-2.4 4.2-2.2 4.4-2.1 4.4-1.8 4.4-1.7 4.5-1.8 4.5-1.7 4.4-1.6 4.6-1.6 4.5-1.5 4.5-1.5 4.6-1.4 4.6-1.3 4.6-1.3 4.6-1.2 4.7-1.2 4.6-1.1 4.7-1 4.7-1 4.7-0.9 4.7-0.8 4.7-0.7 4.7-0.7 4.8-0.6 4.7-0.5 4.8-0.5 4.7-0.4 4.8-0.3 4.8-0.3 4.8-0.1 4.7-0.1 4.8-0.1 4.8 0.1 4.8 0.1 4.8 0.2 4.7 0.2 4.8 0.4 4.7 0.5 4.8 0.7 4.7 0.8 4.7 0.9 4.7 1 4.6 1 4.7 1.1 4.6 1.1 4.7 1.2 4.6 1.3 4.5 1.5 4.5 1.5 4.5 1.8 4.4 1.8 4.4 1.9 4.4 1.9 4.3 1.9 4.4 2 4.3 2 4.4 2 4.3 2.1 4.2 2.2 4.3 2.2 4.2 2.3 4.1 2.4 4.1 2.4 4.1 2.5 4.1 2.5 4 2.6 3.9 2.7 4 2.6 3.9 2.8 3.9 2.7 3.9 2.8 3.9 2.8 3.9 2.8 3.9 2.8 3.9 2.6 4.1 2.6 4 2.5 2.7 1.7 1.6 0 4.8 0 4.8 0 4.8 0 4.8 0 4.8 0 4.7 0 4.8 0 4.8 0 4.8 0 4.8 0 4.7 0 4.8 0 4.8 0 4.8 0 4.8 0 4.7 0 4.8 0 4.8 0 4.8 0 4.8 0 4.7 0 4.8 0 4.8 0 4.8 0 4.8 0 4.7 0 4.8 0 4.8 0 4.8 0 4.8 0 4.7 0 4.8 0 4.8 0 4.8 0 4.8 0 4.7 0 4.8 0 4.8 0 4.8 0 4.8 0 4.7 0 4.8 0 4.8 0 4.8 0 4.8 0 4.7 0 4.8 0 4.8 0 4.8 0 4.8 0 4.7 0 4.8 0 4.8 0 4.8 0 4.8 0 4.7 0 4.8 0 4.8 0 4.8 0 4.8 0 4.7 0 4.8 0 4.8 0 4.8 0 4.8 0 4.7 0 4.8 0 4.8 0 4.8 0.5 4.6 1 4.5 1.7 4.2 2.2 3.9 2.7 3.6 3.3 3.1 3.6 2.6 4 2 4.3 1.5 4.5 0.9 4.7 0.3 2.4 0 1.3 0.1 1.1 0 0.6"/><use href="#s89" transform="scale(1,-1)"/>
<path id="s90" d="M-52 0.6l0-0.6 0-1.1 0-1.3 0.1-2.4 0.3-4.8 0.7-4.7 0.8-4.7 1.1-4.7 1.3-4.6 1.5-4.5 1.8-4.5 2-4.3 2.2-4.3 2.4-4.1 2.6-4 2.8-3.9 3-3.8 3.1-3.6 3.4-3.4 3.4-3.3 3.7-3.2 3.7-2.9 3.9-2.8 4.1-2.6 4.1-2.4 4.2-2.2 4.4-2.1 4.4-1.8 4.5-1.7 4.4-1.7 4.5-1.7 4.5-1.6 4.6-1.6 4.5-1.5 4.6-1.4 4.6-1.4 4.6-1.3 4.6-1.2 4.7-1.2 4.6-1.1 4.7-1.1 4.7-1 4.7-0.9 4.7-0.8 4.7-0.8 4.7-0.7 4.8-0.7 4.8-0.5 4.7-0.5 4.8-0.5 4.8-0.3 4.7-0.3 4.8-0.2 4.8-0.2 4.8 0 4.8 0 4.8 0.1 4.8 0.1 4.8 0.2 4.7 0.4 4.8 0.4 4.8 0.6 4.7 0.7 4.7 0.9 4.7 0.9 4.7 1.1 4.6 1 4.7 1.1 4.6 1.2 4.7 1.3 4.5 1.4 4.6 1.5 4.5 1.7 4.4 1.8 4.4 1.9 4.4 1.9 4.4 2 4.3 2 4.4 1.9 4.3 2.1 4.3 2.1 4.3 2.1 4.3 2.2 4.2 2.3 4.1 2.4 4.2 2.4 4.1 2.5 4 2.6 4 2.5 4 2.7 4 2.7 3.9 2.7 3.9 2.8 3.9 2.8 3.9 2.8 3.9 2.8 3.9 2.7 4 2.7 4 2.6 4.1 2.5 2.4 1.5 2 0 4.8 0 4.7 0 4.8 0 4.8 0 4.8 0 4.8 0 4.8 0 4.8 0 4.8 0 4.8 0 4.8 0 4.7 0 4.8 0 4.8 0 4.8 0 4.8 0 4.8 0 4.8 0 4.8 0 4.8 0 4.7 0 4.8 0 4.8 0 4.8 0 4.8 0 4.8 0 4.8 0 4.8 0 4.8 0 4.8 0 4.7 0 4.8 0 4.8 0 4.8 0 4.8 0 4.8 0 4.8 0 4.8 0 4.8 0 4.8 0 4.7 0 4.8 0 4.8 0 4.8 0 4.8 0 4.8 0 4.8 0 4.8 0 4.8 0 4.8 0 4.7 0 4.8 0 4.8 0 4.8 0 4.8 0 4.8 0 4.8 0 4.8 0 4.8 0 4.7 0 4.8 0 4.8 0 4.8 0 4.8 0.4 4.7 1.1 4.4 1.7 4.3 2.2 3.9 2.7 3.6 3.2 3.1 3.7 2.6 4 2.1 4.3 1.5 4.5 0.9 4.7 0.2 2.4 0.1 1.3 0 1.1 0 0.6"/><use href="#s90" transform="scale(1,-1)"/>
<path id="s91" d="M-52 0.6l0-0.6 0-1.1 0-1.3 0.1-2.4 0.3-4.7 0.6-4.8 0.9-4.7 1.1-4.6 1.3-4.6 1.5-4.5 1.8-4.4 1.9-4.4 2.2-4.2 2.4-4.2 2.6-4 2.8-3.8 2.9-3.8 3.2-3.6 3.3-3.4 3.4-3.3 3.6-3.2 3.8-2.9 3.8-2.8 4-2.6 4.1-2.4 4.3-2.3 4.3-2 4.4-1.9 4.4-1.6 4.5-1.7 4.5-1.6 4.5-1.6 4.5-1.6 4.5-1.4 4.6-1.4 4.6-1.4 4.6-1.2 4.6-1.3 4.6-1.1 4.7-1.1 4.6-1 4.7-1 4.7-0.9 4.7-0.8 4.7-0.8 4.7-0.7 4.8-0.6 4.7-0.5 4.7-0.5 4.8-0.4 4.8-0.4 4.7-0.2 4.8-0.2 4.8-0.1 4.7-0.1 4.8 0 4.8 0.1 4.7 0.2 4.8 0.2 4.8 0.4 4.7 0.5 4.7 0.6 4.7 0.8 4.7 0.9 4.7 0.9 4.7 1.1 4.6 1 4.7 1.2 4.6 1.2 4.6 1.3 4.5 1.4 4.5 1.6 4.4 1.8 4.5 1.8 4.3 1.9 4.4 1.9 4.3 2 4.4 1.9 4.3 2 4.3 2.1 4.3 2.1 4.3 2.2 4.2 2.2 4.1 2.3 4.2 2.4 4.1 2.5 4 2.5 4 2.5 4 2.7 4 2.6 3.9 2.7 3.9 2.8 3.9 2.8 3.9 2.8 3.8 2.8 3.9 2.7 4 2.7 3.9 2.6 4.1 2.6 4 2.5 0.1 0 4.7 0 4.8 0 4.8 0 4.7 0 4.8 0 4.8 0 4.8 0 4.7 0 4.8 0 4.8 0 4.7 0 4.8 0 4.8 0 4.8 0 4.7 0 4.8 0 4.8 0 4.7 0 4.8 0 4.8 0 4.8 0 4.7 0 4.8 0 4.8 0 4.7 0 4.8 0 4.8 0 4.8 0 4.7 0 4.8 0 4.8 0 4.7 0 4.8 0 4.8 0 4.8 0 4.7 0 4.8 0 4.8 0 4.7 0 4.8 0 4.8 0 4.8 0 4.7 0 4.8 0 4.8 0 4.7 0 4.8 0 4.8 0 4.8 0 4.7 0 4.8 0 4.8 0 4.7 0 4.8 0 4.8 0 4.8 0 4.7 0 4.8 0 4.8 0 4.7 0.5 4.7 1.1 4.4 1.6 4.2 2.2 3.9 2.8 3.6 3.2 3.1 3.6 2.5 4 2.1 4.3 1.5 4.6 0.9 4.6 0.2 2.4 0.1 1.3 0 1.1 0 0.6"/><use href="#s91" transform="scale(1,-1)"/>
<path id="s92" d="M-52 0.6l0-0.6 0-1.1 0-1.3 0.1-2.4 0.3-4.7 0.7-4.8 0.8-4.7 1.1-4.7 1.3-4.5 1.5-4.6 1.8-4.4 2-4.4 2.2-4.2 2.4-4.2 2.6-4 2.7-3.9 3-3.7 3.2-3.6 3.3-3.5 3.4-3.2 3.7-3.2 3.7-2.9 3.9-2.8 4-2.6 4.1-2.4 4.3-2.3 4.3-2 4.4-1.9 4.5-1.6 4.5-1.7 4.5-1.6 4.5-1.5 4.5-1.5 4.6-1.4 4.6-1.4 4.6-1.3 4.6-1.3 4.6-1.1 4.7-1.2 4.6-1 4.7-1 4.7-0.9 4.7-0.9 4.7-0.8 4.8-0.7 4.7-0.6 4.7-0.6 4.8-0.5 4.8-0.5 4.7-0.3 4.8-0.3 4.8-0.2 4.8-0.2 4.7-0.1 4.8 0 4.8 0.1 4.8 0.1 4.8 0.2 4.7 0.3 4.8 0.5 4.7 0.5 4.8 0.8 4.7 0.8 4.7 1 4.6 1 4.7 1 4.6 1.2 4.7 1.2 4.6 1.3 4.5 1.4 4.5 1.6 4.5 1.7 4.4 1.8 4.4 1.9 4.4 1.9 4.4 2 4.3 1.9 4.4 2.1 4.3 2 4.3 2.1 4.2 2.2 4.2 2.2 4.2 2.4 4.1 2.4 4.1 2.4 4.1 2.6 4 2.5 4 2.7 4 2.7 3.9 2.7 3.9 2.7 3.9 2.8 3.9 2.8 3.8 2.9 3.9 2.7 4 2.7 4 2.6 4 2.6 3.2 1.9 1.1 0 4.8 0 4.7 0 4.8 0 4.8 0 4.8 0 4.8 0 4.8 0 4.7 0 4.8 0 4.8 0 4.8 0 4.8 0 4.7 0 4.8 0 4.8 0 4.8 0 4.8 0 4.8 0 4.7 0 4.8 0 4.8 0 4.8 0 4.8 0 4.7 0 4.8 0 4.8 0 4.8 0 4.8 0 4.7 0 4.8 0 4.8 0 4.8 0 4.8 0 4.8 0 4.7 0 4.8 0 4.8 0 4.8 0 4.8 0 4.7 0 4.8 0 4.8 0 4.8 0 4.8 0 4.8 0 4.7 0 4.8 0 4.8 0 4.8 0 4.8 0 4.7 0 4.8 0 4.8 0 4.8 0 4.7 0.5 4.7 1 4.5 1.7 4.2 2.2 3.9 2.7 3.6 3.3 3.1 3.6 2.6 4 2 4.3 1.5 4.5 1 4.7 0.2 2.4 0 1.3 0.1 1.1 0 0.6"/><use href="#s92" transform="scale(1,-1)"/>
<path id="s93" d="M-52 0.6l0-0.6 0-1.1 0-1.3 0.1-2.4 0.3-4.8 0.7-4.7 0.8-4.7 1.1-4.7 1.3-4.6 1.6-4.5 1.7-4.5 2-4.4 2.2-4.2 2.4-4.2 2.6-4 2.8-3.9 3-3.7 3.2-3.6 3.3-3.5 3.5-3.3 3.6-3.1 3.8-2.9 3.9-2.8 4-2.6 4.1-2.4 4.3-2.3 4.3-2 4.4-1.9 4.5-1.6 4.6-1.6 4.5-1.6 4.5-1.5 4.6-1.5 4.6-1.4 4.6-1.3 4.6-1.3 4.6-1.2 4.7-1.1 4.7-1.1 4.7-1 4.7-1 4.7-0.8 4.7-0.8 4.7-0.8 4.8-0.7 4.7-0.6 4.8-0.5 4.7-0.5 4.8-0.4 4.8-0.3 4.8-0.3 4.8-0.1 4.8-0.1 4.8-0.1 4.8 0 4.7 0.1 4.8 0.2 4.8 0.3 4.8 0.4 4.8 0.5 4.7 0.7 4.7 0.9 4.7 0.9 4.7 1 4.7 1 4.6 1.2 4.7 1.1 4.6 1.3 4.6 1.4 4.5 1.6 4.5 1.7 4.4 1.8 4.4 1.9 4.4 2 4.4 1.9 4.3 2 4.4 2 4.3 2.1 4.3 2.1 4.3 2.2 4.2 2.3 4.2 2.3 4.1 2.4 4.1 2.5 4.1 2.6 4 2.6 4 2.6 3.9 2.7 4 2.8 3.9 2.7 3.9 2.8 3.8 2.9 3.9 2.8 3.9 2.7 4 2.7 4 2.6 4.1 2.6 1.8 1.1 2.7 0 4.8 0 4.8 0 4.7 0 4.8 0 4.8 0 4.8 0 4.8 0 4.8 0 4.8 0 4.8 0 4.8 0 4.8 0 4.8 0 4.8 0 4.8 0 4.7 0 4.8 0 4.8 0 4.8 0 4.8 0 4.8 0 4.8 0 4.8 0 4.8 0 4.8 0 4.8 0 4.8 0 4.8 0 4.7 0 4.8 0 4.8 0 4.8 0 4.8 0 4.8 0 4.8 0 4.8 0 4.8 0 4.8 0 4.8 0 4.8 0 4.8 0 4.7 0 4.8 0 4.8 0 4.8 0 4.8 0 4.8 0 4.8 0 4.8 0 4.8 0.4 4.6 1.1 4.5 1.6 4.3 2.3 3.9 2.7 3.6 3.2 3.1 3.6 2.6 4.1 2.1 4.3 1.5 4.5 0.9 4.7 0.2 2.4 0.1 1.3 0 1.1 0 0.6"/><use href="#s93" transform="scale(1,-1)"/>
<path id="s94" d="M-52 0.6l0-0.6 0-1.1 0-1.3 0.1-2.4 0.3-4.7 0.6-4.8 0.9-4.7 1.1-4.6 1.3-4.6 1.5-4.5 1.8-4.5 1.9-4.3 2.2-4.2 2.4-4.2 2.6-4 2.8-3.9 2.9-3.7 3.2-3.6 3.3-3.4 3.4-3.3 3.6-3.2 3.8-2.9 3.9-2.8 3.9-2.6 4.2-2.4 4.2-2.3 4.3-2 4.4-1.9 4.5-1.6 4.5-1.6 4.5-1.6 4.5-1.4 4.6-1.4 4.5-1.4 4.6-1.3 4.6-1.2 4.7-1.2 4.6-1.1 4.7-1.1 4.6-0.9 4.7-1 4.7-0.8 4.7-0.8 4.7-0.7 4.8-0.7 4.7-0.5 4.8-0.5 4.7-0.5 4.8-0.4 4.7-0.3 4.8-0.2 4.8-0.1 4.7-0.1 4.8 0 4.8 0 4.8 0.1 4.7 0.2 4.8 0.4 4.7 0.4 4.8 0.6 4.7 0.7 4.7 0.9 4.6 1 4.7 1 4.7 1.1 4.6 1.1 4.6 1.2 4.6 1.4 4.5 1.5 4.5 1.6 4.4 1.8 4.4 1.8 4.4 2 4.3 1.9 4.4 2 4.3 2 4.3 2 4.3 2.1 4.3 2.2 4.2 2.2 4.2 2.3 4.1 2.4 4.1 2.5 4 2.5 4.1 2.6 3.9 2.6 4 2.7 3.9 2.7 3.9 2.8 3.9 2.8 3.8 2.8 3.8 2.8 3.9 2.8 4 2.7 4 2.6 4 2.6 2.6 1.6 1.7 0 4.8 0 4.8 0 4.7 0 4.8 0 4.8 0 4.8 0 4.7 0 4.8 0 4.8 0 4.7 0 4.8 0 4.8 0 4.8 0 4.7 0 4.8 0 4.8 0 4.7 0 4.8 0 4.8 0 4.8 0 4.7 0 4.8 0 4.8 0 4.8 0 4.7 0 4.8 0 4.8 0 4.7 0 4.8 0 4.8 0 4.8 0 4.7 0 4.8 0 4.8 0 4.7 0 4.8 0 4.8 0 4.8 0 4.7 0 4.8 0 4.8 0 4.8 0 4.7 0 4.8 0 4.8 0 4.7 0.5 4.7 1.1 4.4 1.6 4.2 2.2 4 2.8 3.5 3.2 3.1 3.6 2.5 4 2.1 4.3 1.5 4.6 0.9 4.6 0.2 2.4 0.1 1.3 0 1.1 0 0.6"/><use href="#s94" transform="scale(1,-1)"/>
<path id="s95" d="M-52 0.6l0-0.6 0-1.1 0-1.3 0.1-2.4 0.3-4.8 0.7-4.7 0.8-4.7 1.1-4.7 1.3-4.6 1.5-4.5 1.8-4.4 2-4.4 2.2-4.2 2.4-4.2 2.6-4 2.8-3.9 2.9-3.7 3.2-3.6 3.3-3.5 3.5-3.3 3.6-3.1 3.7-3 3.9-2.7 4.1-2.6 4.1-2.5 4.2-2.2 4.3-2 4.4-1.9 4.5-1.6 4.6-1.6 4.5-1.5 4.6-1.4 4.5-1.4 4.6-1.3 4.7-1.3 4.6-1.2 4.6-1.1 4.7-1.1 4.7-1 4.7-0.9 4.7-0.9 4.7-0.8 4.7-0.7 4.8-0.7 4.7-0.6 4.8-0.5 4.7-0.5 4.8-0.4 4.8-0.3 4.7-0.2 4.8-0.2 4.8-0.1 4.8-0.1 4.8 0.1 4.7 0.1 4.8 0.1 4.8 0.3 4.8 0.4 4.7 0.6 4.7 0.7 4.7 0.9 4.7 1 4.7 1 4.7 1.1 4.6 1.1 4.6 1.2 4.6 1.4 4.6 1.5 4.5 1.6 4.4 1.8 4.4 1.9 4.4 1.9 4.3 2 4.4 2 4.3 2 4.3 2.1 4.3 2.1 4.3 2.2 4.2 2.2 4.1 2.4 4.2 2.4 4.1 2.5 4 2.6 4 2.6 4 2.6 3.9 2.8 3.9 2.7 3.9 2.8 3.9 2.8 3.8 2.9 3.9 2.8 3.9 2.8 3.9 2.6 4.1 2.6 4 2.6 0.5 0.3 4.2 0 4.8 0 4.8 0 4.8 0 4.8 0 4.7 0 4.8 0 4.8 0 4.8 0 4.8 0 4.8 0 4.7 0 4.8 0 4.8 0 4.8 0 4.8 0 4.8 0 4.7 0 4.8 0 4.8 0 4.8 0 4.8 0 4.8 0 4.7 0 4.8 0 4.8 0 4.8 0 4.8 0 4.8 0 4.7 0 4.8 0 4.8 0 4.8 0 4.8 0 4.8 0 4.7 0 4.8 0 4.8 0 4.8 0 4.8 0 4.8 0 4.7 0.5 4.7 1 4.5 1.7 4.2 2.2 3.9 2.7 3.6 3.2 3.1 3.7 2.6 4 2 4.3 1.5 4.5 1 4.7 0.2 2.4 0 1.3 0.1 1.1 0 0.6"/><use href="#s95" transform="scale(1,-1)"/>
<path id="s96" d="M-52 0.6l0-0.6 0-1.1 0-1.3 0.1-2.4 0.3-4.8 0.7-4.7 0.8-4.8 1.1-4.6 1.3-4.6 1.6-4.6 1.7-4.4 2-4.4 2.2-4.2 2.5-4.2 2.6-4 2.8-3.9 3-3.8 3.1-3.6 3.3-3.4 3.5-3.3 3.7-3.1 3.7-3 3.9-2.8 4.1-2.6 4.1-2.4 4.3-2.2 4.3-2 4.4-1.9 4.5-1.6 4.6-1.5 4.6-1.5 4.6-1.4 4.6-1.3 4.6-1.3 4.6-1.2 4.7-1.2 4.7-1.1 4.6-1 4.7-0.9 4.7-0.9 4.8-0.8 4.7-0.8 4.8-0.7 4.7-0.6 4.8-0.6 4.7-0.4 4.8-0.5 4.8-0.3 4.8-0.3 4.8-0.2 4.8-0.1 4.8-0.1 4.8 0 4.8 0.1 4.8 0.2 4.8 0.3 4.7 0.4 4.8 0.5 4.7 0.7 4.8 0.9 4.7 0.9 4.6 1.1 4.7 1.1 4.7 1.1 4.6 1.2 4.6 1.4 4.6 1.5 4.4 1.7 4.5 1.8 4.4 1.9 4.4 2 4.3 2 4.4 2 4.3 2 4.3 2.1 4.3 2.2 4.3 2.2 4.2 2.3 4.1 2.4 4.1 2.5 4.1 2.5 4 2.6 4 2.7 4 2.7 3.9 2.7 3.9 2.8 3.9 2.9 3.8 2.8 3.9 2.9 3.9 2.8 3.9 2.7 4 2.7 4 2.5 2 1.3 2.5 0 4.8 0 4.8 0 4.8 0 4.8 0 4.8 0 4.8 0 4.8 0 4.8 0 4.8 0 4.8 0 4.7 0 4.8 0 4.8 0 4.8 0 4.8 0 4.8 0 4.8 0 4.8 0 4.8 0 4.8 0 4.8 0 4.8 0 4.8 0 4.8 0 4.8 0 4.8 0 4.8 0 4.8 0 4.8 0 4.8 0 4.8 0 4.8 0 4.8 0 4.8 0 4.8 0 4.8 0 4.7 0.4 4.7 1.1 4.5 1.6 4.3 2.2 3.9 2.8 3.5 3.2 3.2 3.6 2.6 4.1 2.1 4.3 1.5 4.5 0.9 4.7 0.2 2.4 0.1 1.3 0 1.1 0 0.6"/><use href="#s96" transform="scale(1,-1)"/>
<path id="s97" d="M-52 0.6l0-0.6 0-1.1 0-1.3 0.1-2.4 0.3-4.7 0.6-4.8 0.9-4.7 1.1-4.6 1.3-4.6 1.5-4.5 1.8-4.5 1.9-4.3 2.2-4.2 2.4-4.2 2.6-4 2.8-3.9 2.9-3.7 3.2-3.6 3.3-3.5 3.4-3.3 3.6-3.1 3.8-2.9 3.9-2.8 4-2.6 4.1-2.4 4.2-2.3 4.3-2 4.4-1.9 4.5-1.6 4.5-1.5 4.6-1.4 4.6-1.4 4.6-1.3 4.6-1.2 4.6-1.2 4.7-1.1 4.6-1 4.7-1 4.7-0.9 4.7-0.9 4.7-0.7 4.7-0.8 4.7-0.6 4.8-0.6 4.7-0.5 4.8-0.5 4.7-0.3 4.8-0.3 4.7-0.3 4.8-0.1 4.8-0.1 4.8-0.1 4.7 0.1 4.8 0.1 4.8 0.2 4.7 0.3 4.8 0.5 4.7 0.6 4.7 0.8 4.7 0.9 4.7 1 4.6 1.1 4.7 1.1 4.6 1.3 4.6 1.3 4.5 1.4 4.5 1.7 4.4 1.7 4.4 1.9 4.4 2 4.3 2 4.3 2 4.4 2 4.3 2.1 4.2 2.2 4.2 2.2 4.2 2.3 4.2 2.4 4 2.4 4.1 2.6 4 2.6 4 2.6 3.9 2.7 3.9 2.8 3.9 2.8 3.8 2.8 3.8 2.9 3.8 2.8 3.9 2.8 3.9 2.8 4 2.6 4 2.6 1.6 1 2.9 0 4.8 0 4.7 0 4.8 0 4.8 0 4.8 0 4.7 0 4.8 0 4.8 0 4.8 0 4.7 0 4.8 0 4.8 0 4.8 0 4.7 0 4.8 0 4.8 0 4.8 0 4.7 0 4.8 0 4.8 0 4.7 0 4.8 0 4.8 0 4.8 0 4.7 0 4.8 0 4.8 0 4.8 0 4.7 0 4.8 0 4.8 0 4.8 0 4.7 0.5 4.6 1.1 4.5 1.6 4.2 2.2 3.9 2.8 3.6 3.2 3.1 3.6 2.6 4 2 4.3 1.5 4.6 0.9 4.6 0.3 2.4 0 1.3 0 1.1 0 0.6"/><use href="#s97" transform="scale(1,-1)"/>
<path id="s98" d="M-52 0.6l0-0.6 0-1.1 0-1.3 0.1-2.4 0.3-4.8 0.7-4.7 0.8-4.7 1.1-4.7 1.3-4.6 1.5-4.5 1.8-4.5 2-4.3 2.2-4.3 2.4-4.1 2.6-4 2.8-3.9 3-3.8 3.1-3.6 3.3-3.4 3.5-3.3 3.6-3.1 3.8-3 3.9-2.8 4-2.6 4.1-2.4 4.3-2.2 4.3-2.1 4.4-1.8 4.5-1.7 4.6-1.4 4.6-1.3 4.6-1.3 4.6-1.3 4.6-1.1 4.7-1.1 4.7-1.1 4.6-1 4.7-0.9 4.8-0.9 4.7-0.8 4.7-0.7 4.7-0.6 4.8-0.6 4.8-0.6 4.7-0.4 4.8-0.4 4.8-0.3 4.7-0.3 4.8-0.2 4.8-0.1 4.8 0 4.8 0 4.8 0.1 4.8 0.2 4.7 0.3 4.8 0.5 4.7 0.7 4.7 0.8 4.7 0.9 4.7 1 4.7 1.1 4.6 1.2 4.6 1.2 4.6 1.4 4.6 1.5 4.5 1.7 4.4 1.8 4.4 1.9 4.3 2 4.4 2 4.3 2.1 4.3 2.1 4.3 2.1 4.2 2.2 4.2 2.3 4.2 2.3 4.1 2.5 4.1 2.5 4 2.6 4 2.7 3.9 2.7 3.9 2.7 3.9 2.9 3.8 2.8 3.9 2.9 3.8 2.9 3.8 2.8 3.9 2.8 4 2.7 4 2.6 2 1.3 2.4 0 4.8 0 4.8 0 4.8 0 4.8 0 4.7 0 4.8 0 4.8 0 4.8 0 4.8 0 4.8 0 4.8 0 4.8 0 4.7 0 4.8 0 4.8 0 4.8 0 4.8 0 4.8 0 4.8 0 4.7 0 4.8 0 4.8 0 4.8 0 4.8 0 4.8 0 4.8 0 4.8 0 4.7 0 4.8 0.4 4.7 1.1 4.4 1.7 4.3 2.2 3.9 2.7 3.6 3.2 3.1 3.7 2.6 4 2 4.3 1.5 4.5 1 4.7 0.2 2.4 0 1.3 0.1 1.1 0 0.6"/><use href="#s98" transform="scale(1,-1)"/>
<path id="s99" d="M-52 0.6l0-0.6 0-1.1 0-1.3 0.1-2.4 0.3-4.7 0.6-4.7 0.9-4.7 1-4.7 1.4-4.5 1.5-4.5 1.7-4.5 2-4.3 2.2-4.2 2.3-4.2 2.6-4 2.8-3.8 2.9-3.8 3.2-3.6 3.2-3.4 3.5-3.3 3.6-3.1 3.7-3 3.9-2.8 4-2.6 4.1-2.4 4.2-2.3 4.2-2 4.4-1.9 4.5-1.6 4.5-1.4 4.6-1.3 4.6-1.3 4.6-1.1 4.7-1.1 4.6-1.1 4.7-1 4.6-0.9 4.7-0.9 4.7-0.8 4.7-0.8 4.7-0.6 4.7-0.6 4.8-0.6 4.7-0.5 4.8-0.4 4.7-0.3 4.8-0.3 4.7-0.2 4.8-0.2 4.7 0 4.8 0 4.8 0 4.7 0.2 4.8 0.3 4.7 0.4 4.7 0.6 4.7 0.7 4.7 0.9 4.7 1 4.6 1.1 4.6 1.1 4.6 1.3 4.6 1.3 4.5 1.5 4.5 1.6 4.4 1.9 4.3 1.9 4.4 2 4.3 2 4.3 2.1 4.2 2 4.3 2.2 4.2 2.2 4.2 2.3 4.1 2.4 4.1 2.4 4 2.6 4 2.6 3.9 2.6 4 2.8 3.8 2.7 3.8 2.9 3.9 2.8 3.7 2.9 3.8 2.9 3.8 2.8 3.9 2.8 4 2.7 4 2.5 0.6 0.5 4 0 4.8 0 4.7 0 4.8 0 4.7 0 4.8 0 4.8 0 4.7 0 4.8 0 4.8 0 4.7 0 4.8 0 4.7 0 4.8 0 4.8 0 4.7 0 4.8 0 4.7 0 4.8 0 4.8 0 4.7 0 4.8 0 4.8 0 4.7 0 4.8 0 4.7 0.5 4.6 1.1 4.5 1.7 4.2 2.2 3.9 2.7 3.5 3.2 3.1 3.7 2.5 4 2.1 4.3 1.5 4.5 0.9 4.7 0.2 2.3 0.1 1.3 0 1.1 0 0.6"/><use href="#s99" transform="scale(1,-1)"/>
<path id="s100" d="M-52 0.6l0-0.6 0-1.1 0-1.3 0.1-2.4 0.3-4.7 0.6-4.8 0.9-4.7 1.1-4.6 1.3-4.6 1.5-4.5 1.8-4.5 1.9-4.3 2.2-4.2 2.4-4.2 2.6-4 2.8-3.9 2.9-3.7 3.2-3.6 3.3-3.5 3.4-3.2 3.6-3.2 3.8-2.9 3.9-2.8 4-2.6 4.1-2.4 4.2-2.3 4.3-2 4.4-1.9 4.5-1.6 4.6-1.3 4.6-1.2 4.6-1.2 4.7-1.1 4.6-1 4.7-1 4.7-0.9 4.7-0.8 4.7-0.8 4.7-0.7 4.7-0.7 4.8-0.6 4.7-0.5 4.8-0.5 4.7-0.4 4.8-0.4 4.8-0.2 4.7-0.2 4.8-0.2 4.8-0.1 4.7 0 4.8 0.1 4.8 0.2 4.7 0.3 4.8 0.4 4.7 0.6 4.7 0.8 4.7 0.9 4.7 1.1 4.6 1.1 4.7 1.1 4.6 1.3 4.5 1.4 4.5 1.6 4.5 1.7 4.3 1.9 4.4 2 4.3 2 4.3 2.1 4.3 2.1 4.3 2.1 4.2 2.2 4.2 2.3 4.1 2.4 4.1 2.5 4 2.5 4 2.6 4 2.7 3.9 2.8 3.9 2.8 3.8 2.8 3.8 2.9 3.8 2.9 3.7 2.9 3.9 2.9 3.9 2.8 3.9 2.6 3.9 2.6 0.1 0 4.8 0 4.8 0 4.7 0 4.8 0 4.8 0 4.8 0 4.7 0 4.8 0 4.8 0 4.8 0 4.7 0 4.8 0 4.8 0 4.8 0 4.7 0 4.8 0 4.8 0 4.7 0 4.8 0 4.8 0 4.8 0 4.7 0.5 4.7 1.1 4.4 1.6 4.2 2.2 4 2.8 3.5 3.2 3.1 3.6 2.6 4 2 4.3 1.5 4.6 0.9 4.6 0.3 2.4 0 1.3 0 1.1 0 0.6"/><use href="#s100" transform="scale(1,-1)"/>
<path id="s101" d="M-52 0.6l0-0.6 0-1.1 0-1.3 0.1-2.4 0.3-4.8 0.7-4.7 0.8-4.7 1.1-4.7 1.3-4.6 1.5-4.5 1.8-4.5 2-4.3 2.2-4.3 2.4-4.1 2.6-4 2.8-3.9 3-3.8 3.1-3.6 3.3-3.4 3.5-3.3 3.6-3.1 3.8-3 3.9-2.8 4-2.6 4.1-2.4 4.3-2.2 4.3-2.1 4.4-1.8 4.5-1.6 4.7-1.2 4.6-1.1 4.7-1.1 4.7-1 4.7-0.9 4.7-0.9 4.7-0.9 4.7-0.7 4.7-0.7 4.8-0.7 4.7-0.5 4.8-0.5 4.8-0.5 4.7-0.4 4.8-0.3 4.8-0.3 4.8-0.2 4.8-0.1 4.7-0.1 4.8 0 4.8 0.1 4.8 0.2 4.8 0.3 4.7 0.4 4.8 0.7 4.7 0.8 4.7 1 4.6 1.1 4.7 1.1 4.6 1.3 4.6 1.3 4.6 1.5 4.4 1.7 4.4 1.9 4.4 2 4.3 2 4.3 2.1 4.3 2.1 4.3 2.2 4.3 2.2 4.1 2.3 4.2 2.4 4.1 2.5 4 2.5 4 2.7 3.9 2.7 3.9 2.8 3.9 2.8 3.8 2.9 3.8 2.9 3.8 3 3.8 2.9 3.8 2.9 3.9 2.8 3.9 2.7 2.5 1.6 1.9 0 4.7 0 4.8 0 4.8 0 4.8 0 4.8 0 4.8 0 4.8 0 4.8 0 4.7 0 4.8 0 4.8 0 4.8 0 4.8 0 4.8 0 4.8 0 4.7 0 4.8 0 4.8 0.4 4.7 1.1 4.4 1.7 4.3 2.2 3.9 2.7 3.6 3.2 3.1 3.7 2.6 4 2 4.3 1.5 4.5 1 4.7 0.2 2.4 0.1 1.3 0 1.1 0 0.6"/><use href="#s101" transform="scale(1,-1)"/>
<path id="s102" d="M-52 0.6l0-0.6 0-1.1 0-1.3 0.1-2.4 0.3-4.7 0.6-4.7 0.9-4.7 1-4.6 1.3-4.6 1.6-4.5 1.7-4.4 2-4.4 2.1-4.2 2.4-4.1 2.6-4 2.8-3.9 2.9-3.7 3.1-3.6 3.3-3.5 3.4-3.3 3.6-3.1 3.7-2.9 3.9-2.8 4-2.6 4.1-2.5 4.2-2.2 4.3-2.1 4.3-1.8 4.5-1.7 4.6-1.1 4.6-1 4.7-1 4.7-0.9 4.7-0.8 4.7-0.8 4.7-0.8 4.7-0.6 4.7-0.7 4.7-0.5 4.7-0.5 4.8-0.5 4.7-0.3 4.8-0.4 4.7-0.2 4.8-0.2 4.7-0.2 4.8-0.1 4.7 0 4.8 0.1 4.7 0.1 4.8 0.3 4.7 0.4 4.7 0.7 4.7 0.8 4.7 1 4.6 1.1 4.6 1.1 4.6 1.2 4.6 1.4 4.5 1.5 4.4 1.8 4.4 1.9 4.3 2 4.3 2.1 4.2 2.1 4.3 2.1 4.2 2.2 4.2 2.2 4.1 2.4 4.1 2.4 4 2.6 4 2.6 3.9 2.7 3.9 2.7 3.8 2.9 3.8 2.8 3.8 3 3.7 2.9 3.7 3 3.8 2.9 3.8 2.8 3.9 2.7 3.2 2.2 0.9 0 4.8 0 4.7 0 4.8 0 4.8 0 4.7 0 4.8 0 4.7 0 4.8 0 4.7 0 4.8 0 4.8 0 4.7 0 4.8 0 4.7 0 4.8 0.5 4.6 1.1 4.4 1.7 4.2 2.2 3.9 2.7 3.5 3.3 3.1 3.6 2.6 4 2 4.3 1.5 4.5 0.9 4.7 0.2 2.3 0.1 1.3 0 1.1 0 0.6"/><use href="#s102" transform="scale(1,-1)"/>
<path id="s103" d="M-52 0.6l0-0.6 0-1.1 0-1.3 0.1-2.4 0.3-4.7 0.6-4.8 0.9-4.7 1.1-4.6 1.3-4.6 1.5-4.5 1.8-4.5 1.9-4.3 2.2-4.2 2.4-4.2 2.6-4 2.8-3.9 2.9-3.7 3.2-3.6 3.3-3.5 3.4-3.2 3.6-3.2 3.8-2.9 3.9-2.8 4-2.6 4.1-2.4 4.2-2.3 4.3-2 4.4-1.9 4.5-1.6 4.6-1 4.7-0.9 4.7-0.9 4.7-0.8 4.7-0.7 4.8-0.7 4.7-0.6 4.7-0.6 4.8-0.5 4.7-0.5 4.8-0.4 4.7-0.3 4.8-0.3 4.8-0.3 4.7-0.2 4.8-0.1 4.8-0.1 4.8 0 4.7 0.1 4.8 0.2 4.8 0.3 4.7 0.5 4.7 0.8 4.7 0.9 4.7 1.1 4.6 1.1 4.6 1.3 4.6 1.3 4.5 1.5 4.4 1.7 4.4 2 4.3 2 4.3 2.1 4.3 2.2 4.2 2.1 4.2 2.3 4.2 2.3 4.1 2.4 4.1 2.5 4 2.6 3.9 2.7 3.9 2.8 3.9 2.8 3.8 2.9 3.7 2.9 3.7 3 3.7 3.1 3.8 2.9 3.7 2.9 3.9 2.8 4 2.7 0.3 0.3 4.3 0 4.8 0 4.8 0 4.8 0 4.7 0 4.8 0 4.8 0 4.8 0 4.7 0 4.8 0 4.8 0 4.7 0.5 4.7 1.1 4.4 1.6 4.3 2.2 3.9 2.8 3.5 3.2 3.1 3.6 2.6 4 2 4.3 1.5 4.6 0.9 4.6 0.3 2.4 0 1.3 0 1.1 0 0.6"/><use href="#s103" transform="scale(1,-1)"/>
<path id="s104" d="M-52 0.6l0-0.6 0-1.1 0-1.3 0.1-2.4 0.3-4.8 0.7-4.7 0.8-4.7 1.1-4.7 1.3-4.6 1.6-4.5 1.7-4.5 2-4.3 2.2-4.3 2.4-4.1 2.6-4.1 2.8-3.9 3-3.7 3.2-3.6 3.3-3.5 3.5-3.2 3.6-3.2 3.8-2.9 3.9-2.8 4-2.6 4.1-2.4 4.3-2.3 4.3-2 4.4-1.8 4.5-1.7 4.7-0.8 4.8-0.7 4.7-0.8 4.8-0.6 4.7-0.7 4.8-0.5 4.7-0.5 4.8-0.5 4.8-0.4 4.7-0.4 4.8-0.3 4.8-0.3 4.8-0.2 4.8-0.1 4.8-0.1 4.8-0.1 4.8 0 4.7 0.1 4.8 0.3 4.8 0.4 4.7 0.7 4.8 0.9 4.6 1 4.7 1.2 4.6 1.2 4.6 1.4 4.5 1.5 4.5 1.8 4.4 1.9 4.3 2.1 4.2 2.2 4.3 2.2 4.2 2.2 4.2 2.3 4.2 2.4 4.1 2.5 4 2.7 3.9 2.7 3.9 2.7 3.9 2.9 3.8 2.9 3.7 3 3.7 3.1 3.7 3 3.7 3.1 3.7 3 3.9 2.8 3.9 2.8 0.5 0.4 4.2 0 4.7 0 4.8 0 4.8 0 4.8 0 4.8 0 4.8 0 4.8 0 4.8 0.4 4.6 1.1 4.5 1.7 4.3 2.2 3.9 2.7 3.5 3.2 3.2 3.7 2.6 4 2 4.3 1.6 4.5 0.9 4.7 0.2 2.4 0.1 1.3 0 1.1 0 0.6"/><use href="#s104" transform="scale(1,-1)"/>
<path id="s105" d="M-52 0.6l0-0.6 0-1.1 0-1.3 0.1-2.4 0.3-4.7 0.6-4.7 0.9-4.7 1-4.6 1.3-4.6 1.6-4.5 1.7-4.4 2-4.4 2.1-4.2 2.4-4.1 2.6-4 2.8-3.9 2.9-3.7 3.1-3.6 3.3-3.5 3.4-3.3 3.6-3.1 3.7-2.9 3.9-2.8 4-2.6 4.1-2.5 4.1-2.2 4.3-2.1 4.4-1.8 4.5-1.7 4.6-0.8 4.8-0.5 4.7-0.6 4.7-0.5 4.8-0.4 4.7-0.5 4.7-0.3 4.8-0.4 4.7-0.3 4.8-0.2 4.7-0.2 4.8-0.2 4.7-0.1 4.8-0.1 4.7-0.1 4.8 0 4.8 0.2 4.7 0.2 4.7 0.5 4.7 0.7 4.7 0.9 4.6 1.1 4.6 1.2 4.6 1.4 4.5 1.4 4.5 1.7 4.3 1.9 4.3 2 4.2 2.2 4.2 2.3 4.2 2.2 4.2 2.3 4.1 2.4 4 2.6 4 2.6 3.9 2.7 3.8 2.9 3.8 2.8 3.7 3 3.7 3 3.6 3.1 3.6 3.1 3.6 3.1 3.7 2.9 3.8 2.9 2.8 2 1.4 0 4.7 0 4.8 0 4.7 0 4.8 0 4.7 0 4.8 0.5 4.6 1.1 4.4 1.7 4.2 2.2 3.9 2.7 3.5 3.3 3.1 3.6 2.6 4 2 4.3 1.5 4.5 0.9 4.7 0.2 2.3 0.1 1.3 0 1.1 0 0.6"/><use href="#s105" transform="scale(1,-1)"/>
<path id="s106" d="M-52 0.6l0-0.6 0-1.1 0-1.3 0.1-2.4 0.3-4.7 0.6-4.8 0.9-4.7 1.1-4.6 1.3-4.6 1.5-4.5 1.8-4.5 2-4.3 2.1-4.3 2.4-4.1 2.6-4 2.8-3.9 3-3.7 3.1-3.6 3.3-3.5 3.5-3.3 3.6-3.1 3.7-3 3.9-2.7 4-2.6 4.1-2.5 4.2-2.2 4.4-2 4.4-1.9 4.4-1.7 0.2 0 4.6-0.4 4.8-0.3 4.7-0.4 4.8-0.3 4.7-0.2 4.8-0.3 4.8-0.2 4.8-0.2 4.7-0.1 4.8-0.2 4.8-0.1 4.8 0 4.7-0.1 4.8 0 4.8 0.1 4.8 0.2 4.7 0.4 4.7 0.7 4.7 1 4.6 1.1 4.7 1.3 4.5 1.3 4.5 1.6 4.5 1.8 4.3 2 4.2 2.2 4.2 2.3 4.2 2.3 4.1 2.4 4.1 2.4 4.1 2.6 3.9 2.7 3.9 2.8 3.8 2.9 3.7 3 3.7 3 3.6 3.2 3.6 3.1 3.5 3.2 3.7 3.1 3.7 3 3.8 2.9 0.6 0.5 4 0 4.8 0 4.7 0 4.8 0.5 4.6 1 4.5 1.7 4.2 2.2 4 2.8 3.5 3.2 3.1 3.6 2.6 4 2 4.3 1.5 4.6 0.9 4.6 0.3 2.4 0 1.3 0.1 1.1 0 0.6"/><use href="#s106" transform="scale(1,-1)"/>
<path id="s107" d="M-52 0.6l0-0.6 0-1.1 0-1.3 0.1-2.3 0.3-4.8 0.6-4.7 0.9-4.7 1-4.6 1.3-4.6 1.6-4.5 1.7-4.4 2-4.3 2.1-4.3 2.4-4.1 2.6-4 2.7-3.8 3-3.8 3.1-3.6 3.2-3.4 3.5-3.3 3.5-3.1 3.8-3 3.8-2.8 4-2.6 4.1-2.4 4.2-2.3 4.2-2 4.4-1.9 4.5-1.7 0.7-0.2 4-0.3 4.7-0.3 4.7-0.3 4.8-0.3 4.7-0.2 4.8-0.3 4.7-0.1 4.8-0.2 4.7-0.1 4.8-0.1 4.7-0.1 4.8 0 4.7 0 4.8 0.1 4.7 0.3 4.7 0.6 4.7 0.9 4.6 1.1 4.6 1.4 4.5 1.4 4.5 1.6 4.3 1.9 4.3 2.1 4.1 2.4 4.1 2.4 4.1 2.4 4 2.5 4 2.7 3.8 2.7 3.8 2.9 3.7 2.9 3.7 3.1 3.5 3.2 3.5 3.2 3.5 3.2 3.4 3.3 3.5 3.3 3.5 3.1 3.7 3.1 1 0.8 3.5 0 4.7 0.5 4.6 1.1 4.4 1.7 4.2 2.2 3.9 2.8 3.5 3.2 3.1 3.6 2.5 4 2.1 4.3 1.5 4.5 0.9 4.7 0.2 2.3 0.1 1.3 0 1.1 0 0.6"/><use href="#s107" transform="scale(1,-1)"/>
<path id="s108" d="M-52 0.6l0-0.6 0-1.1 0-1.3 0.1-2.4 0.3-4.8 0.7-4.7 0.8-4.8 1.1-4.6 1.3-4.6 1.6-4.6 1.7-4.4 2-4.4 2.3-4.3 2.4-4.1 2.6-4 2.8-3.9 3-3.8 3.1-3.6 3.4-3.4 3.5-3.3 3.6-3.2 3.8-2.9 3.9-2.8 4-2.6 4.2-2.4 4.2-2.2 4.4-2.1 4.4-1.8 4.1-1.5 0.4 0 4.8-0.4 4.8-0.3 4.8-0.2 4.8-0.2 4.8-0.2 4.8-0.2 4.8-0.1 4.8-0.1 4.8-0.1 4.8 0 4.8-0.1 4.8 0.2 4.8 0.3 4.7 0.8 4.7 1.1 4.6 1.3 4.5 1.6 4.5 1.7 4.4 1.9 4.2 2.4 4.1 2.5 4 2.6 4 2.6 3.9 2.8 3.9 2.8 3.7 3 3.7 3.1 3.5 3.3 3.5 3.3 3.4 3.4 3.3 3.4 3.3 3.5 3.4 3.4 3.4 3.4 3.6 3.2 1.3 1.4 2.8 0.7 4.5 1.6 4.3 2.2 3.9 2.8 3.6 3.2 3.1 3.6 2.6 4 2.1 4.4 1.5 4.5 0.9 4.7 0.2 2.4 0.1 1.3 0 1.1 0 0.6"/><use href="#s108" transform="scale(1,-1)"/>
<path id="s109" d="M-52 0.6l0-0.6 0-1.1 0-1.3 0.1-2.4 0.3-4.8 0.7-4.7 0.8-4.7 1.1-4.7 1.3-4.6 1.5-4.5 1.8-4.5 2-4.3 2.2-4.3 2.4-4.1 2.6-4 2.8-3.9 3-3.8 3.1-3.6 3.3-3.4 3.5-3.3 3.6-3.1 3.8-3 3.9-2.8 4-2.6 4.1-2.4 4.3-2.2 4.3-2.1 4.4-1.8 3.8-1.4 0.2 0.7 0.4 1 3.8 0 4.8 0 4.7 0 4.8 0 4.8 0 4.8 0 4.8 0 4.8 0 4.8 0 4.8 0 4.7 0.2 4.8 0.6 4.7 1.1 4.5 1.4 4.5 1.5 4.5 1.8 4.3 2.2 4.1 2.4 4 2.7 3.9 2.7 3.9 2.8 3.8 2.9 3.7 3.1 3.5 3.2 3.5 3.3 3.4 3.4 3.2 3.5 3.3 3.5 3.2 3.6 3.3 3.4 3.4 3.4 3.2 3.5 2.1 3 1 0.6 3.9 2.7 3.5 3.2 3.1 3.7 2.6 4 2.1 4.3 1.5 4.5 0.9 4.7 0.3 2.4 0 1.3 0.1 1.1 0 0.6"/><use href="#s109" transform="scale(1,-1)"/>
<path id="s110" d="M-54.2 0.6l0-0.6 0-1.1 0-1.3 0.1-2.4 0.2-4.7 0.4-4.8 0.6-4.7 0.8-4.7 1.1-4.7 1.4-4.6 1.5-4.5 1.9-4.4 2.1-4.3 2.4-4.1 2.6-4 2.9-3.8 3.1-3.6 3.3-3.4 3.6-3.2 3.8-2.9 3.9-2.7 4.1-2.5 4.3-2.1 4.3-2 4.5-1.6 4.6-1.5 4.6-1.1 4.7-1 4.7-0.7 4.7-0.5 4.8-0.3 4.8-0.1 4.8 0 4.7 0.3 4.8 0.4 4.7 0.8 4.7 0.9 4.6 1.2 4.6 1.4 4.4 1.6 4.5 1.9 4.3 2 4.2 2.2 4.2 2.4 4 2.5 4 2.7 3.8 2.8 3.7 3 3.7 3.1 3.5 3.2 3.4 3.4 3.3 3.4 3.2 3.6 3 3.7 3 3.7 2.8 3.9 2.7 3.9 0.3 0.6 3 2.8 3.1 3.6 2.6 4 2.1 4.3 1.5 4.6 0.9 4.6 0.2 2.4 0.1 1.3 0 1.1 0 0.6"/><use href="#s110" transform="scale(1,-1)"/>
<path id="s111" d="M-54 0.6l0-0.6 0-1.1 0-1.3 0.1-2.4 0.3-4.8 0.4-4.7 0.7-4.8 1-4.7 1.1-4.6 1.5-4.6 1.6-4.5 2-4.4 2.2-4.2 2.4-4.1 2.7-4 3-3.7 3.2-3.6 3.5-3.3 3.6-3.1 3.9-2.8 4.1-2.5 4.2-2.3 4.4-1.9 4.5-1.6 4.6-1.3 4.7-1 4.8-0.7 4.7-0.4 4.8-0.2 4.8 0.1 4.8 0.4 4.7 0.5 4.8 0.9 4.6 1 4.6 1.3 4.6 1.5 4.4 1.8 4.4 1.9 4.3 2.2 4.2 2.3 4 2.6 3.9 2.7 3.8 3 3.7 3.1 3.5 3.2 3.3 3.5 3.2 3.5 3.1 3.7 2.8 3.9 2.7 4 2.5 4.1 2.2 4.2 2.1 4.3 1.8 4.5 1.8 4.4 1.5 4.5 0.9 4.7 0.2 2.4 0.1 1.3 0 1.1 0 0.6"/><use href="#s111" transform="scale(1,-1)"/>
<path id="s112" d="M-53.8 0.6l0-0.6 0-1.1 0.1-1.3 0-2.4 0.3-4.8 0.6-4.7 0.8-4.8 1-4.6 1.3-4.6 1.5-4.6 1.9-4.4 2.1-4.3 2.3-4.2 2.6-4 2.9-3.8 3.2-3.6 3.4-3.4 3.7-3 3.9-2.8 4.1-2.5 4.3-2.2 4.4-1.8 4.6-1.4 4.6-1.1 4.8-0.7 4.7-0.3 4.8-0.1 4.8 0.3 4.8 0.5 4.7 0.9 4.7 1.1 4.5 1.3 4.5 1.7 4.4 1.9 4.3 2.2 4.1 2.4 4 2.7 3.8 2.9 3.6 3.2 3.4 3.4 3.2 3.5 3 3.8 2.7 3.9 2.5 4.1 2.2 4.3 1.9 4.4 1.7 4.5 1.3 4.5 1.1 4.7 0.7 4.7 0.5 4.8 0.1 2.4 0.1 1.3 0 1.1 0 0.6"/><use href="#s112" transform="scale(1,-1)"/>
<path id="s113" d="M-53.5 0.6l0-0.6 0-1.1 0-1.3 0.1-2.3 0.4-4.7 0.6-4.7 0.9-4.6 1.2-4.6 1.5-4.5 1.8-4.4 2.1-4.2 2.3-4.1 2.6-3.9 3-3.7 3.2-3.5 3.5-3.2 3.7-2.9 4-2.6 4.1-2.2 4.4-1.8 4.5-1.4 4.6-1 4.7-0.5 4.7-0.2 4.7 0.3 4.7 0.7 4.6 1.1 4.5 1.5 4.3 1.9 4.2 2.2 4 2.6 3.7 2.8 3.5 3.2 3.3 3.4 3 3.6 2.7 3.9 2.5 4 2.2 4.2 1.9 4.3 1.6 4.5 1.3 4.5 1 4.6 0.8 4.7 0.4 4.7 0.1 2.3 0.1 1.3 0 1.1 0 0.6"/><use href="#s113" transform="scale(1,-1)"/>
<path id="s114" d="M-53.3 0.6l0-0.6 0-1.1 0-1.3 0.2-2.4 0.6-4.7 1.1-4.7 1.5-4.5 1.9-4.4 2.2-4.3 2.7-3.9 2.9-3.8 3.3-3.4 3.6-3.2 3.9-2.8 4.1-2.5 4.3-2 4.5-1.7 4.6-1.3 4.7-0.8 4.8-0.5 4.8 0 4.8 0.5 4.7 0.8 4.6 1.3 4.5 1.7 4.3 2 4.1 2.5 3.9 2.8 3.6 3.2 3.3 3.4 2.9 3.8 2.7 3.9 2.2 4.3 1.9 4.4 1.5 4.5 1.1 4.7 0.6 4.7 0.2 2.4 0 1.3 0 1.1 0 0.6"/><use href="#s114" transform="scale(1,-1)"/>
</g>
</g>
<g transform="translate(175.9,1221.7)">
<path id="s115" d="M-52.7 0.6l0-0.6 0-1.1 0-1.3 0.2-4 0.9-6.3 1.3-6.3 1.8-6.1 2.4-5.9 2.7-5.8 3.2-5.5 3.6-5.3 4-5 4.2-4.8 4.6-4.5 4.8-4.2 5-3.9 5.3-3.6 5.4-3.4 5.6-3.1 5.8-2.8 5.8-2.5 6-2.2 6.1-2 6.2-1.6 6.2-1.5 4-0.7 2.1-1.1 5.7-2.9 5.7-2.9 5.7-2.8 5.7-2.8 5.8-2.8 5.8-2.6 5.9-2.6 5.9-2.5 5.9-2.3 6-2.3 6-2.1 6.1-2 6.1-1.9 6.1-1.8 6.2-1.6 6.2-1.5 6.2-1.4 6.3-1.3 6.3-1.1 6.3-0.9 6.3-0.9 6.4-0.7 6.4-0.5 6.3-0.4 6.4-0.2 6.4-0.1 6.4 0 6.4 0.2 6.4 0.3 6.4 0.5 6.3 0.6 6.4 0.8 6.3 0.9 6.3 1 6.3 1.2 6.2 1.3 6.2 1.5 6.2 1.6 6.2 1.7 6.1 1.8 6.1 2 6 2.1 6 2.2 6 2.3 5.9 2.4 5.9 2.5 5.8 2.6 5.8 2.8 5.7 2.8 5.7 2.9 5.6 3 5.6 3.1 5.6 3.2 5.5 3.2 5.5 3.3 5.4 3.4 5.4 3.5 5.3 3.5 5.2 3.7 5.1 3.8 5.1 3.9 5.1 3.9 5.1 3.8 5.2 3.7 3.7 2.5 1.9 0.3 6.3 0.7 6.4 0.2 6.4 0 6.4-0.2 6.4-0.3 6.4-0.3 6.4-0.2 6.3-0.2 6.4-0.2 6.4-0.1 6.4-0.2 6.4-0.1 6.4-0.1 6.4-0.1 6.4-0.2 6.4-0.1 6.3-0.1 6.4-0.1 6.4-0.2 6.4-0.1 6.4-0.1 6.4-0.1 6.4-0.2 6.4-0.1 6.4-0.1 6.3-0.1 6.4-0.2 6.4-0.1 6.4-0.1 6.4-0.1 6.4-0.2 6.4-0.1 6.4-0.1 6.4-0.1 6.4-0.2 6.3-0.1 6.4-0.1 6.4-0.1 6.4-0.2 6.4-0.1 6.4-0.2 6.4-0.1 6.4-0.2 6.4-0.2 6.3-0.1 6.4-0.2 6.4-0.3 6.4-0.2 6.4-0.2 6.4-0.3 6.4-0.2 6.3-0.3 6.4-0.3 6.4-0.3 6.4-0.3 6.4-0.3 6.4-0.3 6.3-0.3 6.4-0.3 6.4-0.3 6.4-0.3 6.4-0.2 6.4-0.3 6.4-0.2 6.3-0.1 6.4 0 6.4 0 6.4 0.1 6.4 0.3 6.4 0.3 6.4 0.4 6.3 0.4 6.4 0.6 6.4 0.6 6.3 0.7 6.4 0.7 6.3 0.9 6.3 0.8 6.3 1 6.3 1 6.3 1.1 6.3 1.2 6.3 1.2 6.3 1.3 6.2 1.4 6.2 1.5 6.2 1.5 6.2 1.8 6 2.1 5.8 2.6 5.4 3.4 4.9 4.2 4 4.9 3.2 5.5 2.4 5.9 1.5 6.2 0.5 4 0 1.3 0 1.1 0 0.6" fill="#fe0000" stroke="#fe0000" stroke-width="2.9" stroke-linejoin="round"/><use href="#s115" transform="scale(1,-1)"/>
<g fill="#fff" stroke="#fe0000" stroke-width="2.9" stroke-linejoin="round" stroke-linecap="square">
<path id="s116" d="M-52.7 0.6l0-0.6 0-1.1 0-1.3 0.1-2.4 0.5-4.7 0.7-4.7 1.1-4.7 1.3-4.6 1.6-4.4 1.8-4.4 2.1-4.3 2.4-4.2 2.5-4 2.8-3.9 3-3.7 3.1-3.6 3.3-3.4 3.5-3.3 3.6-3.1 3.7-3 3.9-2.8 3.9-2.7 4.1-2.4 4.2-2.4 4.2-2.2 4.3-2 4.4-1.8 4.5-1.8 4.5-1.5 4.5-1.4 4.6-1.3 4.7-1.1 4.6-0.9 4.5-1.6 4.4-1.9 4.4-1.9 4.4-1.8 4.4-1.8 4.4-1.7 4.5-1.6 4.5-1.7 4.5-1.5 4.5-1.5 4.6-1.5 4.5-1.4 4.6-1.4 4.6-1.3 4.6-1.3 4.6-1.2 4.6-1.1 4.7-1.1 4.6-1 4.7-1 4.7-0.9 4.6-0.9 4.7-0.8 4.8-0.7 4.7-0.7 4.7-0.6 4.7-0.6 4.8-0.5 4.7-0.4 4.8-0.4 4.7-0.3 4.8-0.2 4.8-0.2 4.7-0.1 4.8-0.1 4.8 0 4.7 0.1 4.8 0.2 4.8 0.2 4.7 0.3 4.8 0.4 4.7 0.4 4.8 0.5 4.7 0.6 4.7 0.7 4.7 0.7 4.7 0.8 4.7 0.9 4.7 1 4.7 1 4.6 1.1 4.6 1.1 4.6 1.2 4.6 1.3 4.6 1.3 4.6 1.4 4.5 1.5 4.5 1.5 4.5 1.6 4.5 1.6 4.5 1.7 4.4 1.7 4.4 1.9 4.4 1.8 4.4 1.9 4.3 2 4.3 2 4.3 2.1 4.3 2.1 4.3 2.1 4.2 2.2 4.2 2.3 4.2 2.2 4.2 2.3 4.1 2.4 4.1 2.4 4.1 2.5 4.1 2.5 4 2.6 3.9 2.6 4 2.7 3.9 2.8 3.9 2.6 4 2.7 4 2.6 4 2.6 4 2.6 4 2.5 4.1 2.6 4 2.5 4 2.6 3.9 2.8 3.9 2.7 3.8 2.8 3.9 2.8 3.8 2.8 3.9 2.8 3.9 2.8 3.8 2.8 3.9 2.8 3.9 2.8 3.8 2.8 3.9 2.8 1.9 1.4 1.1 0.8 0.8 0.6 0 0.6"/><use href="#s116" transform="scale(1,-1)"/>
<path id="s117" d="M-52.7 0.6l0-0.6 0-1.1 0-1.3 0.1-2.4 0.5-4.7 0.7-4.7 1.1-4.7 1.3-4.5 1.6-4.5 1.8-4.4 2.1-4.3 2.4-4.2 2.5-4 2.8-3.9 2.9-3.7 3.2-3.6 3.3-3.4 3.4-3.3 3.6-3.1 3.8-3 3.8-2.8 4-2.6 4.1-2.5 4.1-2.4 4.3-2.1 4.3-2.1 4.4-1.8 4.4-1.7 4.5-1.6 4.6-1.4 4.6-1.3 4.6-1.1 4.7-0.9 4.4-1.6 4.4-1.9 4.4-1.8 4.4-1.8 4.5-1.8 4.4-1.7 4.5-1.6 4.5-1.6 4.5-1.6 4.5-1.5 4.5-1.5 4.6-1.4 4.6-1.3 4.5-1.3 4.6-1.3 4.7-1.1 4.6-1.2 4.6-1.1 4.7-1 4.7-1 4.6-0.9 4.7-0.8 4.7-0.8 4.7-0.7 4.8-0.7 4.7-0.6 4.7-0.6 4.8-0.5 4.7-0.4 4.8-0.4 4.7-0.3 4.8-0.2 4.7-0.2 4.8-0.1 4.8-0.1 4.7 0 4.8 0.1 4.8 0.2 4.7 0.2 4.8 0.3 4.7 0.4 4.8 0.4 4.7 0.5 4.7 0.6 4.8 0.7 4.7 0.7 4.7 0.8 4.7 0.9 4.6 1 4.7 1 4.6 1 4.7 1.2 4.6 1.2 4.6 1.3 4.5 1.3 4.6 1.4 4.5 1.4 4.6 1.6 4.5 1.5 4.4 1.7 4.5 1.6 4.4 1.8 4.4 1.8 4.4 1.8 4.4 2 4.4 1.9 4.3 2 4.3 2.1 4.2 2.1 4.3 2.1 4.2 2.2 4.2 2.3 4.2 2.2 4.2 2.3 4.2 2.4 4.1 2.4 4.1 2.4 4 2.6 4 2.5 4 2.7 3.9 2.7 3.9 2.7 4 2.7 3.9 2.6 4 2.6 4 2.6 4 2.6 4.1 2.5 4 2.6 4.1 2.5 4 2.5 3.8 2.8 3.9 2.8 3.9 2.8 3.8 2.8 3.9 2.8 3.9 2.8 3.8 2.8 3.9 2.8 3.9 2.7 3.8 2.8 3.9 2.8 3.9 2.8 1.9 1.4 1.1 0.8 0.8 0.6 0 0.6"/><use href="#s117" transform="scale(1,-1)"/>
<path id="s118" d="M-52.7 0.6l0-0.6 0-1.1 0-1.3 0.1-2.4 0.5-4.7 0.7-4.7 1.1-4.7 1.3-4.5 1.6-4.5 1.8-4.4 2.1-4.3 2.4-4.1 2.5-4.1 2.8-3.8 2.9-3.8 3.2-3.6 3.3-3.4 3.4-3.3 3.6-3.1 3.8-3 3.8-2.8 4-2.6 4-2.5 4.2-2.3 4.2-2.2 4.3-2 4.4-1.9 4.5-1.7 4.5-1.6 4.5-1.4 4.6-1.2 4.6-1.2 4.7-0.9 4.5-1.6 4.4-1.8 4.4-1.9 4.4-1.7 4.4-1.8 4.5-1.7 4.4-1.6 4.5-1.6 4.5-1.6 4.6-1.5 4.5-1.4 4.6-1.4 4.5-1.3 4.6-1.3 4.6-1.3 4.6-1.1 4.7-1.2 4.6-1 4.7-1 4.6-1 4.7-0.9 4.7-0.8 4.7-0.8 4.7-0.8 4.7-0.6 4.8-0.6 4.7-0.6 4.7-0.5 4.8-0.4 4.7-0.4 4.8-0.3 4.7-0.2 4.8-0.2 4.8-0.1 4.7-0.1 4.8 0.1 4.7 0 4.8 0.2 4.8 0.2 4.7 0.3 4.8 0.4 4.7 0.4 4.8 0.6 4.7 0.6 4.7 0.6 4.7 0.8 4.7 0.8 4.7 0.8 4.7 1 4.6 1 4.7 1 4.6 1.2 4.6 1.2 4.6 1.2 4.6 1.4 4.5 1.4 4.6 1.4 4.5 1.5 4.5 1.6 4.5 1.6 4.4 1.7 4.4 1.7 4.5 1.8 4.3 1.9 4.4 1.9 4.4 1.9 4.3 2.1 4.3 2 4.3 2.1 4.2 2.2 4.2 2.1 4.3 2.3 4.2 2.2 4.1 2.3 4.2 2.4 4.1 2.4 4.1 2.4 4 2.5 4 2.6 4 2.7 3.9 2.6 4 2.7 3.9 2.7 4 2.7 3.9 2.6 4.1 2.5 4 2.6 4 2.5 4.1 2.6 4 2.4 4 2.6 3.9 2.8 3.9 2.8 3.8 2.8 3.9 2.8 3.9 2.7 3.8 2.8 3.9 2.8 3.9 2.8 3.8 2.8 3.9 2.8 3.9 2.7 3.8 2.8 1.9 1.4 1.1 0.8 0.9 0.6 0 0.6"/><use href="#s118" transform="scale(1,-1)"/>
<path id="s119" d="M-52.7 0.6l0-0.6 0-1.1 0-1.3 0.1-2.4 0.5-4.8 0.7-4.7 1.1-4.7 1.3-4.6 1.6-4.5 1.9-4.4 2.1-4.3 2.4-4.2 2.6-4 2.8-3.9 3-3.8 3.2-3.6 3.3-3.4 3.5-3.3 3.6-3.1 3.8-3 3.9-2.8 4-2.7 4.1-2.4 4.2-2.4 4.3-2.1 4.3-2.1 4.5-1.8 4.4-1.7 4.6-1.6 4.6-1.3 4.6-1.3 4.7-1.1 4.7-0.9 4.4-1.8 4.5-1.8 4.4-1.8 4.5-1.8 4.4-1.7 4.5-1.7 4.6-1.6 4.5-1.6 4.5-1.6 4.6-1.4 4.6-1.5 4.6-1.3 4.6-1.4 4.6-1.2 4.6-1.2 4.7-1.2 4.7-1.1 4.7-1.1 4.7-1 4.7-0.9 4.7-0.9 4.7-0.8 4.7-0.7 4.8-0.7 4.7-0.7 4.8-0.6 4.8-0.5 4.7-0.4 4.8-0.4 4.8-0.4 4.8-0.3 4.8-0.2 4.8-0.1 4.8-0.1 4.8 0 4.8 0 4.8 0.1 4.8 0.2 4.8 0.3 4.8 0.3 4.7 0.5 4.8 0.4 4.8 0.6 4.7 0.6 4.8 0.7 4.7 0.8 4.7 0.9 4.7 0.9 4.7 1 4.7 1 4.7 1.1 4.6 1.2 4.7 1.3 4.6 1.3 4.6 1.3 4.6 1.5 4.5 1.5 4.6 1.5 4.5 1.6 4.5 1.7 4.4 1.8 4.5 1.7 4.4 1.9 4.4 1.9 4.4 1.9 4.4 2 4.3 2.1 4.3 2.1 4.3 2.1 4.3 2.2 4.2 2.2 4.3 2.3 4.2 2.3 4.2 2.3 4.1 2.4 4.2 2.5 4 2.5 4.1 2.6 4 2.6 4 2.7 3.9 2.7 4 2.7 4 2.7 4 2.6 4 2.6 4.1 2.6 4 2.5 4.1 2.6 4.1 2.5 4.1 2.6 3.9 2.7 3.9 2.8 3.9 2.8 3.9 2.8 3.9 2.8 3.9 2.8 3.9 2.8 3.8 2.8 3.9 2.8 3.9 2.8 3.9 2.8 3.9 2.8 2 1.4 1.1 0.8 0.8 0.6 0 0.6"/><use href="#s119" transform="scale(1,-1)"/>
<path id="s120" d="M-52.7 0.6l0-0.6 0-1.1 0-1.3 0.1-2.4 0.5-4.8 0.7-4.7 1.1-4.7 1.3-4.6 1.6-4.5 1.9-4.4 2.1-4.3 2.4-4.2 2.6-4 2.8-3.9 3-3.8 3.1-3.6 3.4-3.4 3.5-3.3 3.6-3.1 3.8-3 3.9-2.8 4-2.6 4.1-2.5 4.2-2.3 4.2-2.2 4.4-2 4.4-1.9 4.5-1.7 4.5-1.5 4.6-1.4 4.7-1.3 4.6-1 4.7-1 4.5-1.7 4.4-1.9 4.4-1.8 4.5-1.7 4.5-1.7 4.5-1.7 4.5-1.6 4.5-1.6 4.6-1.5 4.5-1.5 4.6-1.4 4.6-1.3 4.6-1.4 4.7-1.2 4.6-1.2 4.7-1.2 4.6-1.1 4.7-1 4.7-1 4.7-0.9 4.7-0.9 4.8-0.8 4.7-0.8 4.7-0.6 4.8-0.7 4.8-0.6 4.7-0.5 4.8-0.4 4.8-0.4 4.8-0.3 4.7-0.3 4.8-0.2 4.8-0.2 4.8-0.1 4.8 0 4.8 0.1 4.8 0.1 4.8 0.2 4.8 0.2 4.8 0.4 4.8 0.4 4.7 0.5 4.8 0.5 4.7 0.7 4.8 0.7 4.7 0.8 4.7 0.8 4.7 0.9 4.7 1 4.7 1 4.7 1.1 4.6 1.2 4.7 1.3 4.6 1.3 4.6 1.3 4.5 1.5 4.6 1.5 4.5 1.5 4.6 1.6 4.5 1.7 4.4 1.7 4.5 1.8 4.4 1.8 4.4 1.9 4.4 2 4.4 2 4.3 2 4.3 2.1 4.3 2.1 4.3 2.2 4.2 2.2 4.3 2.3 4.2 2.3 4.2 2.3 4.1 2.4 4.1 2.5 4.1 2.5 4.1 2.6 4 2.6 3.9 2.7 4 2.7 4 2.7 4 2.6 4 2.6 4 2.6 4.1 2.6 4 2.5 4.1 2.6 4.1 2.5 4.1 2.5 3.9 2.8 3.9 2.8 3.9 2.8 3.9 2.8 3.9 2.8 3.9 2.8 3.9 2.8 3.9 2.8 3.9 2.7 3.9 2.8 3.9 2.8 3.9 2.8 1.9 1.4 1.1 0.8 0.9 0.6 0 0.6"/><use href="#s120" transform="scale(1,-1)"/>
<path id="s121" d="M-52.7 0.6l0-0.6 0-1.1 0-1.3 0.1-2.4 0.5-4.8 0.7-4.7 1.1-4.7 1.3-4.6 1.6-4.5 1.9-4.4 2.1-4.3 2.4-4.2 2.6-4 2.8-3.9 3-3.7 3.1-3.6 3.4-3.5 3.4-3.3 3.7-3.1 3.7-3 3.9-2.8 4-2.6 4.1-2.5 4.2-2.3 4.3-2.2 4.3-2 4.4-1.9 4.5-1.7 4.6-1.5 4.6-1.4 4.6-1.2 4.6-1.1 4.7-1 4.5-1.7 4.4-1.8 4.5-1.8 4.4-1.7 4.5-1.7 4.5-1.7 4.5-1.6 4.6-1.5 4.5-1.5 4.6-1.5 4.6-1.4 4.6-1.4 4.6-1.3 4.6-1.2 4.7-1.2 4.6-1.1 4.7-1.1 4.7-1 4.7-1 4.7-0.9 4.7-0.9 4.7-0.8 4.7-0.7 4.8-0.7 4.7-0.7 4.8-0.5 4.8-0.5 4.7-0.5 4.8-0.4 4.8-0.3 4.8-0.3 4.8-0.2 4.8-0.1 4.7-0.1 4.8 0 4.8 0 4.8 0.1 4.8 0.2 4.8 0.3 4.8 0.3 4.8 0.4 4.7 0.5 4.8 0.6 4.7 0.6 4.8 0.7 4.7 0.8 4.7 0.8 4.7 0.9 4.7 1 4.7 1.1 4.7 1.1 4.6 1.1 4.6 1.3 4.7 1.3 4.5 1.4 4.6 1.4 4.6 1.5 4.5 1.5 4.5 1.6 4.5 1.7 4.5 1.7 4.4 1.8 4.5 1.8 4.4 1.9 4.4 1.9 4.3 2 4.4 2.1 4.3 2.1 4.3 2.1 4.2 2.2 4.3 2.2 4.2 2.2 4.2 2.3 4.2 2.3 4.2 2.4 4.1 2.5 4.1 2.5 4 2.5 4 2.7 4 2.7 4 2.7 4 2.6 4 2.7 4 2.6 4 2.6 4.1 2.5 4 2.6 4.1 2.5 4.1 2.5 4 2.5 3.9 2.8 4 2.8 3.9 2.8 3.9 2.8 3.9 2.7 3.9 2.8 3.9 2.8 3.9 2.8 3.9 2.8 3.9 2.8 3.9 2.7 3.9 2.8 1.9 1.4 1.1 0.8 0.9 0.6 0 0.6"/><use href="#s121" transform="scale(1,-1)"/>
<path id="s122" d="M-52.7 0.6l0-0.6 0-1.1 0-1.3 0.1-2.4 0.5-4.8 0.7-4.7 1.1-4.7 1.3-4.6 1.6-4.5 1.9-4.4 2.1-4.3 2.4-4.1 2.6-4.1 2.7-3.9 3-3.7 3.2-3.6 3.3-3.4 3.5-3.3 3.6-3.2 3.8-2.9 3.9-2.8 4-2.7 4.1-2.5 4.2-2.3 4.2-2.2 4.4-2 4.4-1.8 4.5-1.7 4.5-1.6 4.6-1.4 4.6-1.2 4.7-1.1 4.7-1 4.4-1.6 4.5-1.8 4.4-1.8 4.5-1.7 4.5-1.7 4.5-1.7 4.5-1.6 4.5-1.5 4.6-1.5 4.5-1.4 4.6-1.4 4.6-1.4 4.6-1.2 4.7-1.3 4.6-1.2 4.7-1.1 4.6-1.1 4.7-1 4.7-0.9 4.7-1 4.7-0.8 4.7-0.8 4.8-0.7 4.7-0.7 4.8-0.6 4.7-0.6 4.8-0.5 4.8-0.4 4.7-0.4 4.8-0.4 4.8-0.2 4.8-0.2 4.8-0.2 4.8-0.1 4.7 0 4.8 0.1 4.8 0.1 4.8 0.2 4.8 0.2 4.8 0.4 4.7 0.4 4.8 0.5 4.8 0.5 4.7 0.7 4.8 0.7 4.7 0.7 4.7 0.9 4.7 0.9 4.7 1 4.7 1 4.6 1.1 4.7 1.2 4.6 1.2 4.6 1.3 4.6 1.4 4.6 1.4 4.5 1.5 4.6 1.5 4.5 1.6 4.5 1.7 4.4 1.7 4.5 1.8 4.4 1.8 4.4 1.9 4.4 1.9 4.4 2 4.3 2 4.3 2.1 4.3 2.1 4.3 2.2 4.2 2.2 4.3 2.2 4.2 2.3 4.2 2.4 4.1 2.3 4.2 2.5 4 2.5 4.1 2.5 4 2.7 4 2.6 3.9 2.7 4 2.7 4 2.6 4 2.6 4.1 2.6 4 2.5 4.1 2.6 4.1 2.5 4.1 2.5 4 2.5 3.9 2.8 3.9 2.8 3.9 2.8 3.9 2.7 3.9 2.8 3.9 2.8 3.9 2.8 3.9 2.7 4 2.8 3.9 2.8 3.9 2.8 3.9 2.7 1.9 1.4 1.1 0.8 0.9 0.6 0 0.6"/><use href="#s122" transform="scale(1,-1)"/>
<path id="s123" d="M-52.7 0.6l0-0.6 0-1.1 0-1.3 0.1-2.4 0.5-4.7 0.7-4.8 1.1-4.6 1.3-4.6 1.6-4.5 1.9-4.5 2.1-4.2 2.4-4.2 2.5-4 2.8-3.9 3-3.8 3.2-3.6 3.3-3.4 3.5-3.3 3.6-3.1 3.8-3 3.8-2.8 4-2.6 4.1-2.5 4.2-2.4 4.3-2.1 4.3-2.1 4.4-1.8 4.5-1.7 4.5-1.6 4.6-1.4 4.6-1.2 4.7-1.1 4.7-0.9 4.4-1.7 4.5-1.8 4.4-1.7 4.5-1.7 4.5-1.7 4.5-1.6 4.5-1.6 4.6-1.5 4.5-1.5 4.6-1.4 4.6-1.4 4.6-1.3 4.6-1.3 4.6-1.2 4.6-1.2 4.7-1.1 4.7-1.1 4.6-1 4.7-1 4.7-0.9 4.7-0.8 4.8-0.8 4.7-0.7 4.7-0.7 4.8-0.6 4.7-0.6 4.8-0.5 4.8-0.4 4.7-0.4 4.8-0.3 4.8-0.3 4.8-0.2 4.8-0.1 4.8-0.1 4.7 0 4.8 0 4.8 0.2 4.8 0.2 4.8 0.2 4.7 0.4 4.8 0.4 4.8 0.5 4.7 0.5 4.8 0.6 4.7 0.7 4.7 0.8 4.8 0.8 4.7 0.9 4.6 1 4.7 1 4.7 1.2 4.6 1.1 4.6 1.3 4.6 1.2 4.6 1.4 4.6 1.4 4.6 1.5 4.5 1.5 4.5 1.6 4.5 1.7 4.5 1.7 4.4 1.8 4.4 1.8 4.5 1.9 4.3 1.9 4.4 2 4.3 2 4.3 2.1 4.3 2.1 4.3 2.1 4.3 2.2 4.2 2.3 4.2 2.2 4.2 2.4 4.1 2.3 4.2 2.5 4.1 2.5 4 2.5 4 2.7 4 2.6 4 2.7 3.9 2.6 4 2.7 4.1 2.6 4 2.5 4.1 2.6 4 2.5 4.1 2.5 4.1 2.5 4 2.5 3.9 2.8 4 2.8 3.9 2.7 3.9 2.8 3.9 2.8 3.9 2.7 3.9 2.8 3.9 2.8 3.9 2.7 3.9 2.8 3.9 2.8 3.9 2.7 2 1.4 1.1 0.8 0.8 0.6 0 0.6"/><use href="#s123" transform="scale(1,-1)"/>
<path id="s124" d="M-52.7 0.6l0-0.6 0-1.1 0-1.3 0.1-2.4 0.5-4.7 0.7-4.8 1.1-4.6 1.3-4.6 1.6-4.5 1.9-4.4 2.1-4.3 2.3-4.2 2.6-4 2.8-3.9 3-3.8 3.1-3.5 3.4-3.5 3.4-3.3 3.7-3.1 3.7-3 3.9-2.8 4-2.6 4.1-2.5 4.1-2.3 4.3-2.2 4.3-2 4.4-1.9 4.5-1.7 4.5-1.5 4.6-1.4 4.6-1.3 4.7-1.1 4.7-0.9 4.5-1.6 4.4-1.8 4.4-1.7 4.5-1.7 4.5-1.7 4.5-1.6 4.5-1.6 4.6-1.5 4.5-1.4 4.6-1.4 4.6-1.4 4.6-1.3 4.6-1.3 4.6-1.2 4.7-1.2 4.6-1.1 4.7-1 4.7-1 4.7-1 4.7-0.8 4.7-0.9 4.7-0.8 4.7-0.7 4.8-0.6 4.7-0.7 4.7-0.5 4.8-0.5 4.8-0.4 4.7-0.4 4.8-0.3 4.8-0.3 4.8-0.2 4.7-0.1 4.8-0.1 4.8 0 4.8 0 4.8 0.1 4.8 0.2 4.7 0.3 4.8 0.3 4.8 0.5 4.7 0.4 4.8 0.6 4.7 0.6 4.8 0.7 4.7 0.8 4.7 0.8 4.7 0.9 4.7 1 4.6 1 4.7 1.1 4.6 1.2 4.7 1.2 4.6 1.3 4.6 1.3 4.5 1.5 4.6 1.4 4.5 1.6 4.5 1.5 4.5 1.7 4.5 1.7 4.4 1.8 4.5 1.8 4.4 1.8 4.3 2 4.4 1.9 4.3 2.1 4.3 2 4.3 2.1 4.3 2.2 4.3 2.2 4.2 2.2 4.2 2.3 4.2 2.3 4.1 2.4 4.2 2.4 4.1 2.5 4 2.5 4 2.6 4 2.7 3.9 2.7 4 2.6 4 2.6 4.1 2.6 4 2.6 4.1 2.5 4 2.5 4.1 2.5 4.1 2.5 4 2.6 3.9 2.7 4 2.8 3.9 2.7 3.9 2.8 3.9 2.7 3.9 2.8 3.9 2.8 3.9 2.7 3.9 2.8 3.9 2.7 3.9 2.8 3.9 2.7 2 1.4 1.1 0.8 0.9 0.6 0 0.6"/><use href="#s124" transform="scale(1,-1)"/>
<path id="s125" d="M-52.7 0.6l0-0.6 0-1.1 0-1.3 0.1-2.4 0.5-4.7 0.7-4.8 1.1-4.6 1.3-4.6 1.6-4.5 1.9-4.4 2.1-4.3 2.3-4.2 2.6-4 2.8-3.9 3-3.7 3.1-3.6 3.3-3.4 3.5-3.3 3.6-3.2 3.8-2.9 3.8-2.8 4-2.7 4.1-2.5 4.2-2.3 4.2-2.2 4.4-2 4.4-1.8 4.4-1.8 4.5-1.5 4.6-1.4 4.6-1.3 4.7-1.1 4.7-0.9 4.5-1.6 4.4-1.7 4.5-1.8 4.4-1.6 4.5-1.7 4.5-1.6 4.5-1.5 4.6-1.5 4.5-1.5 4.6-1.4 4.6-1.3 4.6-1.3 4.6-1.2 4.6-1.2 4.7-1.2 4.6-1.1 4.7-1 4.7-1 4.7-0.9 4.7-0.9 4.7-0.9 4.7-0.7 4.7-0.7 4.7-0.7 4.8-0.6 4.7-0.5 4.8-0.5 4.8-0.5 4.7-0.3 4.8-0.3 4.8-0.3 4.7-0.2 4.8-0.1 4.8-0.1 4.8 0 4.7 0 4.8 0.1 4.8 0.2 4.8 0.3 4.7 0.3 4.8 0.4 4.8 0.5 4.7 0.6 4.7 0.6 4.8 0.7 4.7 0.8 4.7 0.8 4.7 0.9 4.7 0.9 4.6 1.1 4.7 1.1 4.6 1.1 4.7 1.3 4.6 1.2 4.5 1.4 4.6 1.4 4.6 1.5 4.5 1.5 4.5 1.6 4.5 1.6 4.5 1.7 4.4 1.8 4.4 1.8 4.4 1.8 4.4 2 4.4 1.9 4.3 2 4.3 2.1 4.3 2.1 4.3 2.2 4.2 2.1 4.3 2.3 4.2 2.2 4.2 2.3 4.1 2.4 4.1 2.4 4.1 2.5 4.1 2.5 4 2.6 3.9 2.7 4 2.7 4 2.6 4 2.6 4 2.6 4.1 2.5 4 2.5 4.1 2.5 4.1 2.5 4.1 2.5 4 2.6 3.9 2.7 3.9 2.8 3.9 2.7 4 2.8 3.9 2.7 3.9 2.8 3.9 2.7 3.9 2.8 3.9 2.7 3.9 2.8 3.9 2.7 3.9 2.8 2 1.3 1.1 0.8 0.8 0.6 0 0.6"/><use href="#s125" transform="scale(1,-1)"/>
<path id="s126" d="M-52.7 0.6l0-0.6 0-1.1 0-1.3 0.1-2.4 0.5-4.7 0.7-4.7 1.1-4.7 1.3-4.6 1.6-4.5 1.9-4.4 2.1-4.3 2.3-4.1 2.6-4.1 2.8-3.8 2.9-3.8 3.2-3.6 3.3-3.4 3.5-3.3 3.6-3.1 3.7-3 3.9-2.8 3.9-2.6 4.1-2.5 4.2-2.4 4.2-2.1 4.4-2 4.4-1.9 4.4-1.7 4.5-1.6 4.6-1.4 4.6-1.2 4.7-1.1 4.6-1 4.5-1.5 4.5-1.8 4.4-1.7 4.5-1.6 4.5-1.6 4.5-1.6 4.5-1.5 4.6-1.5 4.5-1.5 4.6-1.3 4.6-1.4 4.6-1.3 4.6-1.2 4.6-1.2 4.7-1.1 4.6-1.1 4.7-1 4.7-1 4.7-0.9 4.6-0.9 4.8-0.8 4.7-0.8 4.7-0.7 4.7-0.6 4.8-0.6 4.7-0.6 4.8-0.4 4.7-0.5 4.8-0.3 4.7-0.3 4.8-0.3 4.8-0.2 4.8-0.1 4.7-0.1 4.8 0 4.8 0 4.8 0.2 4.7 0.1 4.8 0.3 4.8 0.3 4.7 0.5 4.8 0.4 4.7 0.6 4.7 0.6 4.8 0.7 4.7 0.8 4.7 0.8 4.7 0.9 4.7 0.9 4.6 1.1 4.7 1.1 4.6 1.1 4.6 1.2 4.6 1.3 4.6 1.4 4.6 1.4 4.5 1.4 4.5 1.5 4.6 1.6 4.4 1.7 4.5 1.6 4.5 1.8 4.4 1.8 4.4 1.9 4.4 1.9 4.3 1.9 4.3 2 4.4 2.1 4.2 2.1 4.3 2.1 4.3 2.2 4.2 2.2 4.2 2.3 4.2 2.3 4.1 2.3 4.2 2.4 4 2.5 4.1 2.5 4 2.7 4 2.6 3.9 2.6 4 2.7 4 2.6 4.1 2.5 4 2.6 4.1 2.5 4.1 2.5 4 2.4 4.1 2.5 4 2.6 4 2.7 3.9 2.8 3.9 2.7 3.9 2.7 3.9 2.8 3.9 2.7 3.9 2.8 3.9 2.7 4 2.7 3.9 2.8 3.9 2.7 3.9 2.8 1.9 1.3 1.1 0.8 0.9 0.6 0 0.6"/><use href="#s126" transform="scale(1,-1)"/>
<path id="s127" d="M-52.7 0.6l0-0.6 0-1.1 0-1.3 0.1-2.4 0.5-4.7 0.7-4.7 1.1-4.7 1.3-4.6 1.6-4.5 1.8-4.4 2.1-4.2 2.4-4.2 2.6-4 2.7-3.9 3-3.7 3.1-3.6 3.3-3.5 3.5-3.2 3.6-3.2 3.7-2.9 3.9-2.8 4-2.7 4-2.5 4.2-2.3 4.3-2.2 4.3-2 4.4-1.9 4.4-1.7 4.5-1.5 4.6-1.4 4.6-1.3 4.6-1.1 4.7-1 4.5-1.4 4.5-1.8 4.4-1.7 4.5-1.6 4.5-1.6 4.5-1.6 4.5-1.5 4.6-1.4 4.5-1.5 4.6-1.3 4.6-1.3 4.6-1.3 4.6-1.2 4.6-1.2 4.7-1.1 4.6-1.1 4.7-1 4.6-1 4.7-0.9 4.7-0.9 4.7-0.8 4.7-0.7 4.8-0.7 4.7-0.7 4.7-0.5 4.8-0.6 4.7-0.4 4.8-0.5 4.7-0.3 4.8-0.3 4.7-0.3 4.8-0.2 4.8-0.1 4.7-0.1 4.8 0 4.8 0.1 4.8 0.1 4.7 0.2 4.8 0.2 4.8 0.4 4.7 0.4 4.8 0.5 4.7 0.5 4.7 0.6 4.7 0.7 4.8 0.8 4.7 0.8 4.6 0.9 4.7 0.9 4.7 1.1 4.6 1 4.7 1.2 4.6 1.2 4.6 1.3 4.5 1.3 4.6 1.4 4.5 1.5 4.6 1.5 4.5 1.6 4.5 1.6 4.4 1.7 4.5 1.7 4.4 1.8 4.4 1.9 4.4 1.9 4.3 1.9 4.3 2 4.4 2.1 4.2 2.1 4.3 2.1 4.3 2.2 4.2 2.2 4.2 2.2 4.2 2.3 4.1 2.4 4.2 2.4 4 2.4 4.1 2.6 4 2.6 4 2.6 3.9 2.6 4 2.7 4 2.5 4.1 2.6 4 2.5 4.1 2.5 4.1 2.5 4 2.5 4.1 2.4 4 2.6 4 2.7 3.9 2.8 3.9 2.7 3.9 2.7 3.9 2.8 3.9 2.7 3.9 2.7 3.9 2.7 4 2.8 3.9 2.7 3.9 2.7 3.9 2.8 1.9 1.3 1.1 0.8 0.9 0.6 0 0.6"/><use href="#s127" transform="scale(1,-1)"/>
<path id="s128" d="M-52.7 0.6l0-0.6 0-1.1 0-1.3 0.1-2.4 0.5-4.7 0.7-4.7 1.1-4.7 1.3-4.5 1.6-4.5 1.8-4.4 2.1-4.3 2.4-4.2 2.5-4 2.8-3.9 2.9-3.7 3.2-3.6 3.3-3.4 3.4-3.3 3.6-3.1 3.8-3 3.8-2.8 4-2.6 4.1-2.5 4.1-2.4 4.3-2.1 4.3-2.1 4.4-1.8 4.4-1.7 4.5-1.6 4.6-1.4 4.6-1.3 4.6-1.1 4.7-0.9 4.5-1.5 4.4-1.7 4.5-1.7 4.5-1.6 4.5-1.6 4.5-1.5 4.5-1.5 4.5-1.5 4.6-1.4 4.6-1.3 4.6-1.3 4.6-1.3 4.6-1.2 4.6-1.1 4.6-1.1 4.7-1.1 4.6-1 4.7-1 4.7-0.9 4.7-0.8 4.7-0.8 4.7-0.7 4.7-0.7 4.7-0.7 4.8-0.5 4.7-0.6 4.7-0.4 4.8-0.4 4.7-0.4 4.8-0.3 4.7-0.2 4.8-0.2 4.8-0.2 4.7 0 4.8-0.1 4.8 0.1 4.7 0.1 4.8 0.2 4.8 0.3 4.7 0.3 4.8 0.4 4.7 0.5 4.7 0.5 4.8 0.6 4.7 0.7 4.7 0.8 4.7 0.8 4.7 0.9 4.6 0.9 4.7 1.1 4.6 1 4.7 1.2 4.6 1.2 4.6 1.3 4.5 1.3 4.6 1.4 4.5 1.5 4.6 1.5 4.5 1.5 4.4 1.7 4.5 1.6 4.4 1.8 4.5 1.8 4.4 1.8 4.3 1.9 4.4 1.9 4.3 2 4.3 2.1 4.3 2.1 4.3 2.1 4.2 2.1 4.2 2.2 4.3 2.3 4.1 2.3 4.2 2.3 4.1 2.4 4.1 2.5 4 2.5 4 2.6 4 2.6 4 2.6 4 2.6 4 2.6 4 2.6 4.1 2.5 4 2.5 4.1 2.4 4.1 2.5 4.1 2.4 4 2.6 3.9 2.8 3.9 2.7 3.9 2.7 3.9 2.7 3.9 2.7 4 2.8 3.9 2.7 3.9 2.7 3.9 2.7 3.9 2.7 3.9 2.8 3.9 2.7 2 1.3 1.1 0.8 0.9 0.6 0 0.6"/><use href="#s128" transform="scale(1,-1)"/>
<path id="s129" d="M-52.7 0.6l0-0.6 0-1.1 0-1.3 0.1-2.4 0.5-4.8 0.7-4.7 1.1-4.7 1.3-4.6 1.6-4.5 1.9-4.4 2.1-4.3 2.4-4.2 2.6-4 2.8-3.9 3-3.8 3.2-3.6 3.3-3.4 3.5-3.3 3.6-3.1 3.8-3 3.9-2.8 4-2.6 4.1-2.5 4.2-2.4 4.3-2.1 4.3-2 4.4-1.9 4.5-1.7 4.6-1.5 4.6-1.4 4.6-1.3 4.7-1.1 4.7-0.9 4.5-1.6 4.5-1.7 4.5-1.7 4.5-1.6 4.5-1.5 4.6-1.6 4.5-1.4 4.6-1.5 4.6-1.3 4.6-1.4 4.6-1.3 4.7-1.2 4.6-1.2 4.7-1.1 4.7-1.1 4.6-1 4.7-1 4.7-0.9 4.8-0.9 4.7-0.8 4.7-0.8 4.8-0.7 4.7-0.7 4.8-0.6 4.7-0.5 4.8-0.5 4.8-0.5 4.8-0.4 4.7-0.3 4.8-0.3 4.8-0.2 4.8-0.2 4.8-0.1 4.8 0 4.8 0 4.8 0.1 4.8 0.2 4.8 0.2 4.8 0.3 4.8 0.4 4.7 0.4 4.8 0.5 4.8 0.6 4.7 0.7 4.8 0.7 4.7 0.8 4.7 0.8 4.7 1 4.7 1 4.7 1 4.7 1.2 4.6 1.1 4.6 1.3 4.6 1.3 4.6 1.4 4.6 1.4 4.6 1.5 4.5 1.6 4.5 1.6 4.5 1.7 4.5 1.7 4.5 1.8 4.4 1.8 4.4 1.9 4.4 1.9 4.4 2 4.3 2 4.3 2.1 4.3 2.2 4.3 2.1 4.3 2.2 4.2 2.3 4.2 2.2 4.2 2.4 4.2 2.4 4.1 2.4 4.1 2.5 4 2.6 4 2.7 4 2.6 4 2.6 4.1 2.6 4 2.6 4.1 2.5 4.1 2.5 4.1 2.5 4.1 2.4 4.2 2.5 4 2.6 3.9 2.7 4 2.8 3.9 2.7 4 2.7 3.9 2.7 4 2.8 3.9 2.7 3.9 2.7 4 2.8 3.9 2.7 4 2.7 3.9 2.8 2 1.3 1.1 0.8 0.9 0.6 0 0.6"/><use href="#s129" transform="scale(1,-1)"/>
<path id="s130" d="M-52.7 0.6l0-0.6 0-1.1 0-1.3 0.1-2.4 0.5-4.8 0.7-4.7 1.1-4.7 1.3-4.6 1.6-4.5 1.9-4.4 2.1-4.3 2.4-4.1 2.6-4.1 2.8-3.9 2.9-3.7 3.2-3.6 3.3-3.5 3.5-3.2 3.7-3.2 3.7-2.9 3.9-2.8 4-2.7 4.1-2.5 4.2-2.3 4.2-2.2 4.4-2 4.4-1.8 4.5-1.7 4.5-1.6 4.6-1.4 4.6-1.2 4.7-1.1 4.7-1 4.5-1.5 4.5-1.7 4.5-1.6 4.5-1.6 4.6-1.6 4.5-1.5 4.6-1.4 4.5-1.4 4.6-1.4 4.6-1.3 4.7-1.3 4.6-1.2 4.6-1.2 4.7-1.1 4.7-1.1 4.7-1 4.6-1 4.7-0.9 4.8-0.8 4.7-0.9 4.7-0.7 4.8-0.7 4.7-0.7 4.8-0.6 4.7-0.5 4.8-0.5 4.7-0.4 4.8-0.4 4.8-0.4 4.8-0.2 4.8-0.2 4.8-0.2 4.8-0.1 4.7 0 4.8 0 4.8 0.1 4.8 0.1 4.8 0.2 4.8 0.3 4.8 0.4 4.7 0.5 4.8 0.5 4.7 0.6 4.8 0.6 4.7 0.7 4.8 0.8 4.7 0.9 4.7 0.9 4.7 1 4.6 1.1 4.7 1.1 4.6 1.2 4.7 1.2 4.6 1.3 4.6 1.4 4.5 1.4 4.6 1.5 4.5 1.6 4.5 1.6 4.5 1.6 4.5 1.8 4.4 1.7 4.5 1.9 4.4 1.8 4.4 2 4.3 1.9 4.4 2.1 4.3 2 4.3 2.2 4.3 2.1 4.2 2.2 4.3 2.2 4.2 2.3 4.2 2.3 4.1 2.4 4.1 2.5 4.1 2.5 4.1 2.6 4 2.6 4 2.6 4 2.6 4 2.6 4.1 2.6 4.1 2.5 4.1 2.5 4.1 2.4 4.1 2.5 4.1 2.4 4 2.6 4 2.7 3.9 2.8 4 2.7 3.9 2.7 3.9 2.7 4 2.8 3.9 2.7 4 2.7 3.9 2.7 4 2.7 3.9 2.8 3.9 2.7 2 1.3 1.1 0.8 0.9 0.6 0 0.6"/><use href="#s130" transform="scale(1,-1)"/>
<path id="s131" d="M-52.7 0.6l0-0.6 0-1.1 0-1.3 0.1-2.4 0.5-4.7 0.7-4.8 1.1-4.6 1.3-4.6 1.6-4.5 1.9-4.4 2.1-4.3 2.4-4.2 2.5-4 2.8-3.9 3-3.8 3.1-3.6 3.4-3.4 3.5-3.3 3.6-3.1 3.7-3 3.9-2.8 4-2.6 4.1-2.5 4.2-2.3 4.2-2.2 4.4-2 4.4-1.9 4.4-1.7 4.6-1.5 4.5-1.4 4.7-1.3 4.6-1.1 4.7-0.9 4.5-1.5 4.5-1.7 4.5-1.6 4.5-1.6 4.6-1.5 4.5-1.5 4.6-1.4 4.6-1.4 4.6-1.4 4.6-1.3 4.6-1.2 4.6-1.2 4.7-1.2 4.6-1.1 4.7-1 4.6-1 4.7-1 4.7-0.9 4.7-0.9 4.8-0.8 4.7-0.7 4.7-0.7 4.8-0.7 4.7-0.5 4.8-0.6 4.7-0.5 4.8-0.4 4.8-0.4 4.7-0.3 4.8-0.3 4.8-0.2 4.8-0.1 4.8-0.1 4.7-0.1 4.8 0 4.8 0.1 4.8 0.2 4.8 0.2 4.7 0.3 4.8 0.4 4.8 0.4 4.7 0.5 4.8 0.6 4.7 0.7 4.8 0.7 4.7 0.8 4.7 0.8 4.7 1 4.7 1 4.6 1 4.7 1.1 4.6 1.2 4.6 1.3 4.6 1.3 4.6 1.3 4.6 1.4 4.5 1.5 4.6 1.6 4.5 1.6 4.5 1.6 4.4 1.7 4.5 1.8 4.4 1.8 4.4 1.9 4.4 1.9 4.3 2 4.4 2 4.3 2.1 4.3 2.1 4.3 2.1 4.2 2.2 4.3 2.2 4.2 2.3 4.2 2.3 4.1 2.4 4.1 2.4 4.1 2.6 4 2.5 4 2.6 4.1 2.7 4 2.6 4 2.5 4.1 2.6 4 2.5 4.1 2.4 4.1 2.5 4.2 2.4 4.1 2.4 4 2.7 3.9 2.7 4 2.7 3.9 2.7 4 2.7 3.9 2.7 3.9 2.7 4 2.7 3.9 2.7 4 2.8 3.9 2.7 4 2.7 3.9 2.7 2 1.3 1.1 0.8 0.8 0.6 0 0.6"/><use href="#s131" transform="scale(1,-1)"/>
<path id="s132" d="M-52.7 0.6l0-0.6 0-1.1 0-1.3 0.1-2.4 0.5-4.7 0.7-4.7 1.1-4.7 1.3-4.6 1.6-4.5 1.9-4.4 2.1-4.3 2.3-4.1 2.6-4.1 2.8-3.9 2.9-3.7 3.2-3.6 3.3-3.4 3.5-3.3 3.6-3.1 3.7-3 3.9-2.8 4-2.7 4-2.4 4.2-2.4 4.3-2.1 4.3-2.1 4.4-1.8 4.5-1.7 4.5-1.6 4.5-1.4 4.7-1.2 4.6-1.1 4.7-1 4.5-1.4 4.5-1.7 4.5-1.6 4.5-1.5 4.6-1.5 4.5-1.5 4.6-1.4 4.6-1.4 4.5-1.3 4.6-1.3 4.7-1.2 4.6-1.2 4.6-1.2 4.7-1.1 4.6-1 4.7-1 4.7-0.9 4.7-0.9 4.7-0.9 4.7-0.8 4.7-0.7 4.8-0.7 4.7-0.6 4.7-0.6 4.8-0.5 4.7-0.5 4.8-0.4 4.8-0.4 4.7-0.3 4.8-0.3 4.8-0.2 4.7-0.1 4.8-0.1 4.8-0.1 4.8 0 4.7 0.1 4.8 0.2 4.8 0.2 4.8 0.3 4.7 0.4 4.8 0.4 4.7 0.5 4.8 0.6 4.7 0.7 4.7 0.7 4.7 0.8 4.7 0.8 4.7 0.9 4.7 1 4.7 1.1 4.6 1.1 4.6 1.2 4.7 1.2 4.6 1.3 4.5 1.4 4.6 1.4 4.5 1.4 4.6 1.6 4.5 1.6 4.5 1.6 4.4 1.7 4.5 1.8 4.4 1.8 4.4 1.9 4.4 1.9 4.3 1.9 4.3 2.1 4.4 2 4.2 2.1 4.3 2.1 4.3 2.2 4.2 2.2 4.2 2.3 4.2 2.3 4.1 2.4 4.2 2.4 4 2.5 4.1 2.6 4 2.6 4 2.6 4 2.6 4 2.5 4.1 2.6 4.1 2.4 4 2.5 4.1 2.5 4.2 2.4 4.1 2.4 4 2.6 3.9 2.7 4 2.7 3.9 2.7 4 2.7 3.9 2.7 3.9 2.7 4 2.7 3.9 2.7 4 2.7 3.9 2.7 3.9 2.7 4 2.7 1.9 1.3 1.1 0.8 0.9 0.6 0 0.6"/><use href="#s132" transform="scale(1,-1)"/>
<path id="s133" d="M-52.7 0.6l0-0.6 0-1.1 0-1.3 0.1-2.4 0.5-4.7 0.7-4.7 1.1-4.7 1.3-4.6 1.6-4.5 1.8-4.3 2.1-4.3 2.4-4.2 2.5-4 2.8-3.9 3-3.7 3.1-3.6 3.3-3.4 3.5-3.3 3.6-3.2 3.7-2.9 3.9-2.8 3.9-2.7 4.1-2.5 4.2-2.3 4.2-2.2 4.3-2 4.4-1.9 4.5-1.7 4.5-1.5 4.5-1.4 4.6-1.3 4.7-1.1 4.7-0.9 4.5-1.4 4.5-1.7 4.5-1.5 4.5-1.6 4.5-1.5 4.6-1.4 4.5-1.4 4.6-1.4 4.6-1.3 4.6-1.2 4.6-1.2 4.6-1.2 4.7-1.1 4.6-1.1 4.7-1 4.6-1 4.7-0.9 4.7-0.9 4.7-0.9 4.7-0.7 4.7-0.8 4.8-0.6 4.7-0.7 4.7-0.5 4.8-0.6 4.7-0.4 4.8-0.4 4.7-0.4 4.8-0.3 4.7-0.3 4.8-0.2 4.8-0.1 4.7-0.1 4.8-0.1 4.8 0.1 4.7 0 4.8 0.2 4.8 0.2 4.7 0.3 4.8 0.4 4.7 0.4 4.8 0.5 4.7 0.6 4.7 0.7 4.8 0.7 4.7 0.8 4.7 0.8 4.6 0.9 4.7 1 4.7 1 4.6 1.2 4.6 1.1 4.6 1.3 4.6 1.2 4.6 1.4 4.5 1.4 4.6 1.5 4.5 1.5 4.5 1.6 4.5 1.6 4.4 1.7 4.5 1.8 4.4 1.8 4.4 1.8 4.4 2 4.3 1.9 4.3 2 4.3 2.1 4.3 2.1 4.3 2.1 4.2 2.1 4.3 2.3 4.2 2.2 4.2 2.3 4.1 2.4 4.1 2.4 4.1 2.5 4 2.5 4 2.6 4 2.6 4 2.6 4.1 2.5 4 2.6 4.1 2.4 4.1 2.5 4.1 2.4 4.1 2.4 4.1 2.4 4 2.7 3.9 2.6 4 2.7 3.9 2.7 4 2.7 3.9 2.7 3.9 2.7 4 2.7 3.9 2.7 4 2.6 3.9 2.7 3.9 2.7 4 2.7 1.9 1.3 1.1 0.8 0.9 0.6 0 0.6"/><use href="#s133" transform="scale(1,-1)"/>
<path id="s134" d="M-52.7 0.6l0-0.6 0-1.1 0-1.3 0.1-2.4 0.5-4.8 0.7-4.7 1.1-4.7 1.3-4.6 1.6-4.5 1.9-4.4 2.1-4.3 2.4-4.2 2.6-4 2.8-3.9 3-3.8 3.2-3.6 3.3-3.4 3.5-3.3 3.6-3.1 3.8-3 3.9-2.8 4-2.7 4.1-2.4 4.2-2.4 4.3-2.1 4.3-2.1 4.5-1.8 4.4-1.7 4.6-1.5 4.6-1.4 4.6-1.3 4.7-1.1 4.7-0.9 4.5-1.5 4.6-1.6 4.5-1.6 4.6-1.5 4.5-1.5 4.6-1.4 4.6-1.4 4.6-1.3 4.6-1.3 4.7-1.2 4.6-1.2 4.7-1.2 4.6-1.1 4.7-1 4.7-1 4.7-1 4.7-0.9 4.8-0.8 4.7-0.8 4.7-0.8 4.8-0.7 4.7-0.6 4.8-0.6 4.7-0.6 4.8-0.5 4.8-0.4 4.8-0.4 4.8-0.3 4.8-0.3 4.7-0.3 4.8-0.1 4.8-0.2 4.8 0 4.8 0 4.8 0 4.8 0.1 4.8 0.2 4.8 0.3 4.8 0.3 4.8 0.4 4.8 0.5 4.7 0.6 4.8 0.6 4.7 0.7 4.8 0.7 4.7 0.9 4.7 0.8 4.7 1 4.7 1 4.7 1.1 4.6 1.2 4.7 1.2 4.6 1.2 4.6 1.4 4.6 1.4 4.6 1.4 4.5 1.6 4.5 1.5 4.6 1.7 4.5 1.6 4.4 1.8 4.5 1.8 4.4 1.8 4.4 1.9 4.4 2 4.4 2 4.3 2 4.3 2.1 4.3 2.1 4.3 2.2 4.3 2.2 4.2 2.3 4.2 2.3 4.2 2.3 4.1 2.4 4.1 2.5 4.1 2.6 4 2.6 4 2.6 4.1 2.5 1.3 0.6 3.4 0.2 4.8 0.3 4.7 0.3 4.8 0.4 4.8 0.4 4.8 0.6 4.7 0.5 4.8 0.5 4.8 0.5 4.8 0.5 4.7 0.5 4.8 0.3 4.8-0.1 4.8-0.1 4.8-0.2 4.8-0.1 4.8-0.1 4.8-0.1 4.8-0.2 4.8-0.1 4.8-0.1 4.8-0.1 4.8-0.1 4.8-0.1 4.8-0.1 4.8 0 4.8-0.1 4.8-0.1 4.8-0.1 4.8-0.1 4.8-0.1 4.7-0.1 4.8-0.1 4.8-0.1 4.8-0.1 4.8-0.1 4.8-0.1 4.8-0.1 4.8-0.1 4.8-0.1 4.8-0.1 4.8-0.1 4.8 0 4.8-0.1 4.8-0.1 4.8-0.1 4.8-0.1 4.8-0.1 4.8-0.1 4.8-0.1 4.8-0.2 4.8-0.1 4.8-0.1 4.8-0.1 4.8-0.1 4.8-0.1 4.8-0.1 4.8-0.1 4.8-0.1 4.8-0.2 4.8-0.1 4.8-0.1 4.8-0.1 4.7-0.1 4.8-0.1 4.8-0.1 4.8-0.2 4.8-0.2 4.8-0.2 4.8-0.2 4.8-0.2 4.8-0.2 4.8-0.2 4.8-0.2 4.8-0.2 4.8-0.2 4.8-0.2 4.8-0.2 4.8-0.2 4.8-0.2 4.7-0.2 4.8-0.3 4.8-0.2 4.8-0.2 4.8-0.2 4.8-0.2 4.8-0.3 4.8-0.1 4.8-0.1 4.8-0.1 4.8-0.1 4.8-0.1 4.8-0.1 4.8 0 4.8 0 4.8 0 4.8 0 4.8 0 4.8 0 4.8 0 4.8 0.2 4.8 0.3 4.7 0.3 4.8 0.3 4.8 0.5 4.8 0.4 4.8 0.6 4.7 0.6 4.8 0.6 4.7 0.7 4.8 0.7 4.7 0.9 4.7 0.8 4.7 1 4.7 1 4.7 1.2 4.6 1.2 4.6 1.3 4.6 1.4 4.5 1.5 4.6 1.7 4.6 1.1 4.6 1.5 4.4 1.8 4.2 2.3 4 2.7 3.6 3.1 3.3 3.5 2.8 3.9 2.3 4.2 1.7 4.5 1.2 4.7 0.6 4.7 0.2 2.4 0 1.3 0 1.1 0 0.6"/><use href="#s134" transform="scale(1,-1)"/>
<path id="s135" d="M-52.7 0.6l0-0.6 0-1.1 0-1.3 0.1-2.4 0.5-4.8 0.7-4.7 1.1-4.7 1.3-4.6 1.6-4.5 1.9-4.4 2.1-4.3 2.4-4.1 2.6-4.1 2.7-3.9 3-3.7 3.2-3.6 3.3-3.4 3.5-3.3 3.6-3.2 3.8-2.9 3.9-2.8 4-2.7 4.1-2.5 4.2-2.3 4.2-2.2 4.4-2 4.4-1.8 4.5-1.7 4.5-1.6 4.6-1.4 4.6-1.2 4.7-1.1 4.7-1 4.5-1.4 4.5-1.6 4.6-1.5 4.5-1.5 4.6-1.5 4.6-1.4 4.6-1.3 4.6-1.3 4.6-1.3 4.6-1.2 4.7-1.2 4.6-1.1 4.7-1.1 4.7-1 4.6-1 4.7-1 4.8-0.9 4.7-0.8 4.7-0.8 4.7-0.7 4.8-0.7 4.7-0.7 4.8-0.5 4.7-0.6 4.8-0.5 4.8-0.4 4.7-0.4 4.8-0.3 4.8-0.3 4.8-0.2 4.8-0.2 4.8-0.1 4.7-0.1 4.8 0 4.8 0.1 4.8 0.1 4.8 0.2 4.8 0.2 4.8 0.4 4.7 0.4 4.8 0.5 4.8 0.5 4.7 0.6 4.7 0.7 4.8 0.8 4.7 0.8 4.7 0.9 4.7 0.9 4.7 1.1 4.6 1 4.7 1.2 4.6 1.2 4.6 1.3 4.6 1.3 4.6 1.4 4.6 1.4 4.5 1.6 4.6 1.5 4.5 1.6 4.5 1.7 4.4 1.8 4.5 1.7 4.4 1.9 4.4 1.9 4.4 1.9 4.3 2 4.3 2.1 4.4 2 4.3 2.2 4.2 2.1 4.3 2.2 4.2 2.3 4.2 2.2 4.2 2.4 4.1 2.4 4.1 2.5 4.1 2.6 4 2.5 4 2.6 4.1 2.6 4.8 0.4 4.7 0.3 4.8 0.3 4.8 0.3 4.8 0.5 4.7 0.5 4.8 0.5 4.7 0.5 4.8 0.5 4.8 0.5 4.7 0.5 4.8 0.4 4.8-0.1 4.8-0.1 4.8-0.1 4.8-0.2 4.8-0.1 4.7-0.1 4.8-0.1 4.8-0.2 4.8-0.1 4.8-0.1 4.8-0.1 4.8 0 4.8-0.1 4.7-0.1 4.8-0.1 4.8-0.1 4.8-0.1 4.8-0.1 4.8-0.1 4.8-0.1 4.8-0.1 4.8-0.1 4.7-0.1 4.8-0.1 4.8-0.1 4.8-0.1 4.8 0 4.8-0.1 4.8-0.1 4.8-0.1 4.8-0.1 4.8-0.1 4.7-0.1 4.8-0.1 4.8-0.1 4.8-0.1 4.8-0.1 4.8-0.1 4.8-0.1 4.8-0.1 4.7-0.2 4.8-0.1 4.8-0.1 4.8-0.1 4.8-0.1 4.8-0.1 4.8-0.1 4.8-0.1 4.8-0.1 4.7-0.2 4.8-0.1 4.8-0.1 4.8-0.1 4.8-0.1 4.8-0.2 4.8-0.2 4.8-0.2 4.7-0.2 4.8-0.2 4.8-0.1 4.8-0.2 4.8-0.2 4.8-0.2 4.8-0.2 4.7-0.2 4.8-0.2 4.8-0.2 4.8-0.3 4.8-0.2 4.8-0.2 4.8-0.2 4.7-0.2 4.8-0.3 4.8-0.2 4.8-0.2 4.8-0.2 4.8-0.1 4.8-0.1 4.7-0.1 4.8-0.1 4.8 0 4.8 0 4.8 0.2 4.8 0.2 4.8 0.3 4.7 0.3 4.8 0.3 4.8 0.3 4.8 0.4 4.8 0.4 4.7 0.5 4.8 0.5 4.7 0.6 4.8 0.7 4.7 0.8 4.7 0.8 4.7 0.9 4.7 1 4.7 1.1 4.6 1.1 4.6 1.3 4.6 1.3 4.6 1.5 4.5 1.5 4.6 1.6 4.5 1.4 4.5 1.8 4.2 2.3 3.8 2.8 3.5 3.3 3.1 3.6 2.6 4.1 2.1 4.3 1.6 4.5 1 4.7 0.6 4.7 0.1 2.4 0.1 1.3 0 1.1 0 0.6"/><use href="#s135" transform="scale(1,-1)"/>
<path id="s136" d="M-52.7 0.6l0-0.6 0-1.1 0-1.3 0.1-2.4 0.5-4.7 0.7-4.8 1.1-4.6 1.3-4.6 1.6-4.5 1.9-4.4 2.1-4.3 2.3-4.2 2.6-4 2.8-3.9 3-3.7 3.1-3.6 3.3-3.5 3.5-3.2 3.6-3.2 3.8-2.9 3.9-2.8 3.9-2.7 4.1-2.5 4.2-2.3 4.3-2.2 4.3-2 4.4-1.9 4.5-1.7 4.5-1.5 4.6-1.4 4.6-1.3 4.6-1.1 4.7-0.9 4.6-1.4 4.5-1.6 4.5-1.5 4.6-1.4 4.5-1.5 4.6-1.4 4.6-1.3 4.6-1.3 4.6-1.2 4.7-1.2 4.6-1.2 4.7-1.1 4.6-1.1 4.7-1 4.7-0.9 4.7-1 4.7-0.8 4.7-0.9 4.7-0.7 4.7-0.8 4.8-0.7 4.7-0.6 4.7-0.6 4.8-0.5 4.7-0.5 4.8-0.4 4.8-0.4 4.7-0.3 4.8-0.3 4.8-0.2 4.8-0.1 4.8-0.2 4.7 0 4.8 0 4.8 0 4.8 0.1 4.8 0.2 4.7 0.3 4.8 0.3 4.8 0.5 4.7 0.4 4.8 0.6 4.7 0.6 4.7 0.7 4.8 0.7 4.7 0.9 4.7 0.9 4.7 0.9 4.6 1 4.7 1.1 4.6 1.1 4.7 1.3 4.6 1.2 4.6 1.3 4.5 1.4 4.6 1.5 4.5 1.5 4.6 1.6 4.5 1.6 4.4 1.6 4.5 1.8 4.4 1.8 4.4 1.8 4.4 1.9 4.4 1.9 4.4 2 4.3 2 4.3 2.1 4.3 2.1 4.3 2.2 4.2 2.2 4.2 2.2 4.2 2.3 4.2 2.3 4.1 2.5 4.1 2.4 4.1 2.6 4 2.6 4 2.6 2.7 1.7 1.5 0.4 4.8 0.4 4.8 0.3 4.7 0.2 4.8 0.3 4.8 0.5 4.7 0.5 4.8 0.5 4.7 0.5 4.8 0.5 4.7 0.6 4.8 0.5 4.7 0.4 4.8-0.1 4.8-0.1 4.8-0.1 4.8-0.1 4.7-0.2 4.8-0.1 4.8-0.1 4.8-0.2 4.8-0.1 4.7 0 4.8-0.1 4.8-0.1 4.8-0.1 4.8-0.1 4.8-0.1 4.7-0.1 4.8-0.1 4.8-0.1 4.8-0.1 4.8-0.1 4.7-0.1 4.8-0.1 4.8-0.1 4.8-0.1 4.8 0 4.7-0.1 4.8-0.1 4.8-0.1 4.8-0.1 4.8-0.1 4.7-0.1 4.8-0.1 4.8-0.1 4.8-0.1 4.8-0.1 4.7-0.1 4.8-0.1 4.8-0.1 4.8-0.1 4.8-0.1 4.7-0.1 4.8-0.1 4.8-0.2 4.8-0.1 4.8-0.1 4.7-0.1 4.8-0.1 4.8-0.1 4.8-0.1 4.8-0.1 4.8-0.1 4.7-0.2 4.8-0.1 4.8-0.1 4.8-0.1 4.7-0.2 4.8-0.2 4.8-0.2 4.8-0.2 4.8-0.2 4.7-0.2 4.8-0.2 4.8-0.2 4.8-0.2 4.7-0.2 4.8-0.2 4.8-0.2 4.8-0.2 4.8-0.2 4.7-0.2 4.8-0.3 4.8-0.2 4.8-0.2 4.7-0.2 4.8-0.2 4.8-0.2 4.8-0.1 4.8 0.1 4.7 0.2 4.8 0.3 4.8 0.3 4.7 0.3 4.8 0.3 4.8 0.4 4.7 0.4 4.8 0.4 4.8 0.5 4.7 0.5 4.8 0.6 4.7 0.6 4.7 0.7 4.8 0.7 4.7 0.9 4.6 1 4.7 1.1 4.6 1.2 4.6 1.3 4.6 1.4 4.5 1.5 4.5 1.6 4.6 1.5 4.4 1.8 4.1 2.4 3.8 2.9 3.4 3.4 2.8 3.9 2.4 4.1 1.9 4.4 1.3 4.6 1 4.7 0.5 4.7 0.1 2.4 0 1.3 0 1.1 0 0.6"/><use href="#s136" transform="scale(1,-1)"/>
<path id="s137" d="M-52.7 0.6l0-0.6 0-1.1 0-1.3 0.1-2.4 0.5-4.8 0.7-4.7 1.1-4.7 1.3-4.6 1.6-4.5 1.9-4.4 2.1-4.3 2.4-4.2 2.6-4 2.8-3.9 3-3.8 3.1-3.6 3.4-3.4 3.5-3.3 3.6-3.1 3.8-3 3.9-2.8 4-2.6 4-2.5 4.2-2.3 4.3-2.2 4.4-2 4.4-1.9 4.5-1.7 4.5-1.5 4.6-1.4 4.6-1.3 4.7-1 4.7-1 4.6-1.4 4.5-1.6 4.6-1.4 4.5-1.5 4.6-1.4 4.6-1.4 4.6-1.3 4.7-1.2 4.6-1.3 4.6-1.1 4.7-1.2 4.7-1.1 4.6-1 4.7-1 4.7-0.9 4.7-0.9 4.8-0.9 4.7-0.8 4.7-0.8 4.8-0.7 4.7-0.6 4.8-0.6 4.7-0.6 4.8-0.5 4.8-0.4 4.8-0.4 4.7-0.4 4.8-0.3 4.8-0.3 4.8-0.2 4.8-0.1 4.8-0.1 4.8-0.1 4.8 0.1 4.8 0 4.8 0.2 4.8 0.2 4.7 0.3 4.8 0.4 4.8 0.4 4.8 0.5 4.7 0.6 4.8 0.6 4.7 0.7 4.7 0.8 4.8 0.9 4.7 0.9 4.7 0.9 4.6 1.1 4.7 1.1 4.7 1.2 4.6 1.2 4.6 1.3 4.6 1.4 4.6 1.4 4.6 1.4 4.5 1.6 4.5 1.6 4.5 1.6 4.5 1.7 4.5 1.8 4.4 1.8 4.4 1.8 4.4 2 4.4 1.9 4.3 2 4.4 2.1 4.3 2.1 4.3 2.1 4.3 2.2 4.2 2.2 4.2 2.3 4.2 2.3 4.2 2.4 4.1 2.4 4.1 2.6 4 2.5 4.1 2.6 4 2.6 0.2 0.1 4.5 0.5 4.8 0.3 4.8 0.3 4.8 0.3 4.8 0.3 4.8 0.5 4.7 0.5 4.8 0.5 4.8 0.5 4.7 0.5 4.8 0.6 4.8 0.5 4.7 0.2 4.8-0.1 4.8-0.1 4.8-0.2 4.8-0.1 4.8-0.1 4.8-0.1 4.8-0.2 4.8-0.1 4.8-0.1 4.8-0.1 4.8-0.1 4.8-0.1 4.8-0.1 4.7-0.1 4.8-0.1 4.8 0 4.8-0.1 4.8-0.1 4.8-0.1 4.8-0.1 4.8-0.1 4.8-0.1 4.8-0.1 4.8-0.1 4.8-0.1 4.8-0.1 4.8-0.1 4.8-0.1 4.8-0.1 4.7-0.1 4.8-0.1 4.8 0 4.8-0.1 4.8-0.1 4.8-0.1 4.8-0.1 4.8-0.1 4.8-0.1 4.8-0.2 4.8-0.1 4.8-0.1 4.8-0.1 4.8-0.1 4.8-0.1 4.8-0.1 4.7-0.1 4.8-0.2 4.8-0.1 4.8-0.1 4.8-0.1 4.8-0.1 4.8-0.1 4.8-0.1 4.8-0.1 4.8-0.2 4.8-0.2 4.8-0.2 4.8-0.2 4.7-0.2 4.8-0.2 4.8-0.2 4.8-0.2 4.8-0.2 4.8-0.2 4.8-0.2 4.8-0.2 4.8-0.2 4.8-0.2 4.8-0.2 4.7-0.3 4.8-0.2 4.8-0.2 4.8-0.2 4.8 0.2 4.8 0.3 4.8 0.3 4.8 0.3 4.7 0.4 4.8 0.4 4.8 0.4 4.8 0.4 4.7 0.5 4.8 0.6 4.8 0.6 4.7 0.6 4.7 0.7 4.8 0.8 4.7 0.9 4.7 0.9 4.7 1 4.6 1.2 4.7 1.2 4.5 1.5 4.6 1.5 4.5 1.6 4.4 1.8 4.2 2.4 3.7 3.1 3.1 3.6 2.7 4 2.1 4.3 1.6 4.5 1.2 4.6 0.8 4.7 0.4 4.8 0.1 2.4 0 1.3 0 1.1 0 0.6"/><use href="#s137" transform="scale(1,-1)"/>
<path id="s138" d="M-52.7 0.6l0-0.6 0-1.1 0-1.3 0.1-2.4 0.5-4.7 0.7-4.8 1.1-4.6 1.3-4.6 1.6-4.5 1.9-4.4 2.1-4.3 2.3-4.2 2.6-4 2.8-3.9 3-3.7 3.1-3.6 3.3-3.5 3.5-3.2 3.6-3.2 3.8-2.9 3.8-2.8 4-2.7 4.1-2.5 4.2-2.3 4.2-2.2 4.4-2 4.4-1.8 4.4-1.8 4.5-1.5 4.6-1.4 4.6-1.3 4.7-1.1 4.7-0.9 4.5-1.4 4.6-1.5 4.5-1.4 4.6-1.5 4.6-1.3 4.6-1.4 4.6-1.3 4.6-1.2 4.6-1.2 4.6-1.2 4.7-1.1 4.6-1.1 4.7-1 4.7-1 4.7-0.9 4.7-0.9 4.7-0.8 4.7-0.8 4.7-0.7 4.8-0.7 4.7-0.7 4.7-0.6 4.8-0.5 4.7-0.5 4.8-0.5 4.8-0.4 4.7-0.3 4.8-0.3 4.8-0.3 4.7-0.2 4.8-0.1 4.8-0.1 4.8-0.1 4.8 0 4.7 0.1 4.8 0.2 4.8 0.2 4.8 0.3 4.7 0.3 4.8 0.5 4.7 0.5 4.8 0.5 4.7 0.7 4.8 0.7 4.7 0.8 4.7 0.8 4.7 0.9 4.7 1 4.6 1 4.7 1.1 4.6 1.2 4.6 1.2 4.6 1.3 4.6 1.3 4.6 1.4 4.5 1.5 4.6 1.5 4.5 1.6 4.5 1.6 4.4 1.7 4.5 1.8 4.4 1.8 4.4 1.8 4.4 1.9 4.4 2 4.3 2 4.3 2 4.3 2.1 4.3 2.1 4.3 2.2 4.2 2.2 4.2 2.2 4.2 2.4 4.2 2.3 4.1 2.5 4.1 2.5 4 2.5 4 2.6 4.1 2.6 4.7 0.3 4.8 0.3 4.8 0.3 4.7 0.3 4.8 0.3 4.8 0.5 4.7 0.5 4.8 0.5 4.7 0.5 4.8 0.5 4.7 0.5 4.8 0.5 4.7 0.4 4.8-0.1 4.8-0.1 4.8-0.1 4.8-0.2 4.7-0.1 4.8-0.1 4.8-0.1 4.8-0.2 4.7-0.1 4.8-0.1 4.8 0 4.8-0.1 4.8-0.1 4.7-0.1 4.8-0.1 4.8-0.1 4.8-0.1 4.8-0.1 4.7-0.1 4.8-0.1 4.8-0.1 4.8-0.1 4.8-0.1 4.7-0.1 4.8-0.1 4.8 0 4.8-0.1 4.8-0.1 4.7-0.1 4.8-0.1 4.8-0.1 4.8-0.1 4.8-0.1 4.7-0.1 4.8-0.1 4.8-0.1 4.8-0.1 4.7-0.1 4.8-0.1 4.8-0.1 4.8-0.1 4.8-0.1 4.7-0.2 4.8-0.1 4.8-0.1 4.8-0.1 4.8-0.1 4.7-0.1 4.8-0.1 4.8-0.1 4.8-0.1 4.7-0.2 4.8-0.1 4.8-0.1 4.8-0.1 4.8-0.2 4.7-0.2 4.8-0.2 4.8-0.2 4.8-0.2 4.7-0.2 4.8-0.2 4.8-0.2 4.8-0.2 4.7-0.2 4.8-0.2 4.8-0.2 4.8-0.2 4.7-0.2 4.8 0 4.8 0.3 4.8 0.4 4.7 0.4 4.8 0.4 4.8 0.4 4.7 0.4 4.8 0.6 4.7 0.5 4.8 0.6 4.7 0.6 4.7 0.7 4.7 0.8 4.7 0.8 4.7 1 4.7 1 4.7 1.1 4.6 1.2 4.6 1.3 4.5 1.4 4.5 1.6 4.5 1.7 4.1 2.4 3.7 3.1 3.2 3.6 2.6 4 2.1 4.2 1.6 4.5 1.2 4.6 0.8 4.8 0.5 4.7 0 2.4 0.1 1.3 0 1.1 0 0.6"/><use href="#s138" transform="scale(1,-1)"/>
<path id="s139" d="M-52.7 0.6l0-0.6 0-1.1 0-1.3 0.1-2.4 0.5-4.7 0.7-4.8 1.1-4.6 1.3-4.6 1.6-4.5 1.9-4.5 2.1-4.2 2.4-4.2 2.5-4 2.8-3.9 3-3.8 3.2-3.6 3.3-3.4 3.5-3.3 3.6-3.1 3.8-3 3.8-2.8 4-2.6 4.1-2.5 4.2-2.4 4.3-2.1 4.3-2 4.4-1.9 4.5-1.7 4.5-1.6 4.6-1.4 4.6-1.2 4.7-1.1 4.7-0.9 4.5-1.4 4.6-1.5 4.6-1.4 4.5-1.4 4.6-1.4 4.6-1.3 4.6-1.3 4.7-1.2 4.6-1.2 4.7-1.1 4.6-1.1 4.7-1 4.7-1 4.7-1 4.7-0.9 4.7-0.9 4.7-0.8 4.7-0.8 4.7-0.7 4.8-0.6 4.7-0.7 4.8-0.5 4.7-0.6 4.8-0.5 4.8-0.4 4.7-0.4 4.8-0.3 4.8-0.3 4.8-0.2 4.7-0.2 4.8-0.1 4.8-0.1 4.8 0 4.8 0 4.8 0.1 4.8 0.1 4.7 0.3 4.8 0.3 4.8 0.4 4.8 0.4 4.7 0.5 4.8 0.6 4.7 0.7 4.7 0.7 4.8 0.8 4.7 0.9 4.7 0.9 4.6 1 4.7 1.1 4.7 1.1 4.6 1.2 4.6 1.2 4.6 1.3 4.6 1.4 4.6 1.4 4.5 1.5 4.6 1.5 4.5 1.6 4.5 1.7 4.4 1.7 4.5 1.8 4.4 1.8 4.4 1.9 4.4 1.9 4.4 2 4.3 2 4.3 2 4.3 2.1 4.3 2.2 4.3 2.1 4.2 2.3 4.2 2.2 4.2 2.4 4.1 2.4 4.1 2.5 4.1 2.5 4 2.6 4.1 2.5 1.9 1 2.6 0.2 4.8 0.3 4.8 0.3 4.7 0.2 4.8 0.3 4.8 0.4 4.8 0.5 4.7 0.5 4.8 0.5 4.7 0.5 4.8 0.5 4.8 0.5 4.7 0.5 4.8 0.3 4.8-0.1 4.8-0.1 4.7-0.2 4.8-0.1 4.8-0.1 4.8-0.1 4.8-0.2 4.8-0.1 4.7-0.1 4.8-0.1 4.8-0.1 4.8-0.1 4.8-0.1 4.8 0 4.8-0.1 4.7-0.1 4.8-0.1 4.8-0.1 4.8-0.1 4.8-0.1 4.8-0.1 4.8-0.1 4.7-0.1 4.8-0.1 4.8-0.1 4.8-0.1 4.8-0.1 4.8-0.1 4.8-0.1 4.7 0 4.8-0.1 4.8-0.1 4.8-0.1 4.8-0.1 4.8-0.1 4.8-0.1 4.7-0.1 4.8-0.1 4.8-0.1 4.8-0.2 4.8-0.1 4.8-0.1 4.8-0.1 4.7-0.1 4.8-0.1 4.8-0.1 4.8-0.1 4.8-0.1 4.8-0.2 4.7-0.1 4.8-0.1 4.8-0.1 4.8-0.1 4.8-0.1 4.8-0.2 4.8-0.2 4.7-0.2 4.8-0.2 4.8-0.2 4.8-0.2 4.8-0.2 4.8-0.2 4.7-0.2 4.8-0.2 4.8-0.1 4.8 0.4 4.7 0.4 4.8 0.4 4.8 0.4 4.7 0.5 4.8 0.5 4.8 0.5 4.7 0.6 4.8 0.7 4.7 0.7 4.7 0.7 4.7 0.8 4.7 0.9 4.7 1 4.7 1 4.6 1.2 4.7 1.3 4.5 1.3 4.6 1.5 4.5 1.7 4.1 2.4 3.7 3 3.2 3.6 2.7 3.9 2.1 4.3 1.7 4.5 1.2 4.6 0.8 4.7 0.4 4.8 0.1 2.4 0 1.3 0 1.1 0 0.6"/><use href="#s139" transform="scale(1,-1)"/>
<path id="s140" d="M-52.7 0.6l0-0.6 0-1.1 0-1.3 0.1-2.4 0.5-4.8 0.7-4.7 1.1-4.7 1.3-4.6 1.6-4.5 1.9-4.4 2.1-4.3 2.4-4.2 2.6-4 2.8-3.9 3-3.7 3.1-3.6 3.4-3.5 3.4-3.3 3.7-3.1 3.7-3 3.9-2.8 4-2.6 4.1-2.5 4.2-2.3 4.3-2.2 4.3-2 4.5-1.9 4.4-1.7 4.6-1.5 4.6-1.4 4.6-1.2 4.7-1.1 4.7-1 4.5-1.4 4.6-1.4 4.6-1.4 4.6-1.4 4.6-1.3 4.6-1.3 4.6-1.3 4.7-1.2 4.6-1.1 4.7-1.1 4.7-1.1 4.6-1 4.7-1 4.7-0.9 4.7-0.9 4.8-0.9 4.7-0.7 4.7-0.8 4.8-0.7 4.7-0.6 4.8-0.7 4.7-0.5 4.8-0.5 4.8-0.5 4.7-0.4 4.8-0.3 4.8-0.4 4.8-0.2 4.8-0.2 4.8-0.2 4.8-0.1 4.8-0.1 4.8 0 4.7 0 4.8 0.2 4.8 0.1 4.8 0.3 4.8 0.3 4.8 0.4 4.7 0.5 4.8 0.6 4.8 0.6 4.7 0.7 4.7 0.7 4.8 0.8 4.7 0.9 4.7 1 4.7 1 4.6 1.1 4.7 1.1 4.6 1.2 4.6 1.3 4.6 1.3 4.6 1.4 4.6 1.4 4.6 1.6 4.5 1.5 4.5 1.6 4.5 1.7 4.4 1.8 4.5 1.7 4.4 1.9 4.4 1.9 4.4 1.9 4.4 2 4.3 2 4.3 2.1 4.3 2.1 4.3 2.2 4.3 2.2 4.2 2.2 4.2 2.3 4.2 2.4 4.1 2.5 4.1 2.5 4 2.5 4.1 2.6 3.6 1.8 0.7 0.1 4.8 0.3 4.8 0.2 4.8 0.3 4.8 0.3 4.7 0.3 4.8 0.4 4.8 0.5 4.8 0.5 4.7 0.5 4.8 0.5 4.8 0.5 4.7 0.5 4.8 0.5 4.8 0.2 4.8-0.1 4.8-0.2 4.7-0.1 4.8-0.1 4.8-0.1 4.8-0.2 4.8-0.1 4.8-0.1 4.8-0.1 4.8-0.1 4.8-0.1 4.8-0.1 4.8-0.1 4.8-0.1 4.7-0.1 4.8-0.1 4.8-0.1 4.8 0 4.8-0.1 4.8-0.1 4.8-0.1 4.8-0.1 4.8-0.1 4.8-0.1 4.8-0.1 4.8-0.1 4.8-0.1 4.8-0.1 4.7-0.1 4.8-0.1 4.8-0.1 4.8-0.1 4.8-0.1 4.8-0.1 4.8 0 4.8-0.1 4.8-0.2 4.8-0.1 4.8-0.1 4.8-0.1 4.7-0.1 4.8-0.1 4.8-0.1 4.8-0.1 4.8-0.1 4.8-0.2 4.8-0.1 4.8-0.1 4.8-0.1 4.8-0.1 4.8-0.1 4.8-0.1 4.8-0.1 4.7-0.2 4.8-0.2 4.8-0.2 4.8-0.2 4.8-0.1 4.8-0.2 4.8-0.2 4.8 0.3 4.7 0.5 4.8 0.4 4.8 0.5 4.7 0.5 4.8 0.5 4.8 0.6 4.7 0.7 4.8 0.6 4.7 0.8 4.7 0.8 4.7 0.8 4.7 1 4.7 1 4.7 1.1 4.6 1.2 4.6 1.3 4.6 1.4 4.5 1.7 4.2 2.3 3.7 3 3.2 3.6 2.7 3.9 2.2 4.3 1.7 4.5 1.2 4.6 0.8 4.7 0.4 4.8 0.1 2.4 0 1.3 0 1.1 0 0.6"/><use href="#s140" transform="scale(1,-1)"/>
<path id="s141" d="M-52.7 0.6l0-0.6 0-1.1 0-1.3 0.1-2.4 0.5-4.7 0.7-4.7 1.1-4.7 1.3-4.6 1.6-4.5 1.9-4.4 2.1-4.3 2.3-4.1 2.6-4.1 2.8-3.9 2.9-3.7 3.2-3.6 3.3-3.4 3.5-3.3 3.6-3.1 3.7-3 3.9-2.8 4-2.7 4-2.4 4.2-2.4 4.3-2.1 4.3-2.1 4.4-1.8 4.5-1.7 4.5-1.6 4.5-1.4 4.7-1.2 4.6-1.1 4.7-1 4.6-1.3 4.5-1.4 4.6-1.4 4.6-1.3 4.6-1.3 4.6-1.3 4.6-1.2 4.6-1.2 4.7-1.1 4.6-1.1 4.7-1.1 4.7-1 4.7-0.9 4.6-1 4.7-0.8 4.7-0.9 4.8-0.7 4.7-0.8 4.7-0.6 4.7-0.7 4.8-0.6 4.7-0.5 4.8-0.5 4.7-0.5 4.8-0.4 4.8-0.3 4.7-0.3 4.8-0.3 4.8-0.2 4.7-0.2 4.8-0.1 4.8 0 4.8-0.1 4.8 0.1 4.7 0.1 4.8 0.2 4.8 0.3 4.7 0.3 4.8 0.4 4.8 0.5 4.7 0.5 4.7 0.6 4.8 0.7 4.7 0.8 4.7 0.8 4.7 0.9 4.7 0.9 4.6 1 4.7 1.1 4.6 1.1 4.7 1.2 4.6 1.3 4.5 1.3 4.6 1.4 4.6 1.5 4.5 1.5 4.5 1.5 4.5 1.6 4.5 1.7 4.5 1.7 4.4 1.8 4.4 1.9 4.4 1.8 4.4 2 4.3 2 4.3 2 4.3 2 4.3 2.2 4.3 2.1 4.2 2.2 4.3 2.2 4.1 2.3 4.2 2.4 4.1 2.4 4.1 2.5 4 2.6 4.1 2.5 1.3 0.9 3.1 0.5 4.8 0.3 4.8 0.3 4.7 0.2 4.8 0.3 4.8 0.3 4.7 0.3 4.8 0.5 4.7 0.5 4.8 0.6 4.7 0.5 4.8 0.5 4.7 0.5 4.8 0.5 4.8 0.3 4.7-0.1 4.8-0.1 4.8-0.1 4.8-0.2 4.7-0.1 4.8-0.1 4.8-0.2 4.8-0.1 4.7-0.1 4.8-0.1 4.8-0.1 4.8-0.1 4.7 0 4.8-0.1 4.8-0.1 4.8-0.1 4.8-0.1 4.7-0.1 4.8-0.1 4.8-0.1 4.8-0.1 4.7-0.1 4.8-0.1 4.8-0.1 4.8-0.1 4.7-0.1 4.8-0.1 4.8 0 4.8-0.1 4.7-0.1 4.8-0.1 4.8-0.1 4.8-0.1 4.8-0.1 4.7-0.1 4.8-0.1 4.8-0.1 4.8-0.1 4.7-0.1 4.8-0.1 4.8-0.1 4.8-0.2 4.7-0.1 4.8-0.1 4.8-0.1 4.8-0.1 4.7-0.1 4.8-0.1 4.8-0.1 4.8-0.2 4.7-0.1 4.8-0.1 4.8-0.1 4.8-0.1 4.8-0.2 4.7-0.1 4.8 0.4 4.7 0.4 4.8 0.5 4.7 0.5 4.8 0.6 4.7 0.6 4.8 0.6 4.7 0.7 4.7 0.7 4.7 0.8 4.7 0.8 4.7 0.9 4.7 1 4.7 1.1 4.6 1.1 4.6 1.3 4.6 1.3 4.5 1.6 4.2 2.3 3.7 3 3.2 3.6 2.7 3.9 2.1 4.3 1.7 4.4 1.2 4.7 0.8 4.7 0.5 4.7 0.1 2.4 0 1.3 0 1.1 0 0.6"/><use href="#s141" transform="scale(1,-1)"/>
<path id="s142" d="M-52.7 0.6l0-0.6 0-1.1 0-1.3 0.1-2.4 0.5-4.7 0.7-4.8 1.1-4.6 1.3-4.6 1.6-4.5 1.9-4.4 2.1-4.3 2.4-4.2 2.5-4 2.8-3.9 3-3.8 3.2-3.6 3.3-3.4 3.5-3.3 3.6-3.1 3.7-3 3.9-2.8 4-2.6 4.1-2.5 4.2-2.3 4.2-2.2 4.4-2 4.4-1.9 4.4-1.7 4.6-1.5 4.6-1.4 4.6-1.3 4.6-1.1 4.7-0.9 4.6-1.3 4.6-1.4 4.6-1.4 4.6-1.3 4.6-1.3 4.6-1.2 4.7-1.2 4.6-1.2 4.7-1.1 4.6-1.1 4.7-1 4.7-1 4.7-0.9 4.7-0.9 4.7-0.8 4.7-0.8 4.7-0.8 4.8-0.7 4.7-0.6 4.7-0.7 4.8-0.5 4.7-0.6 4.8-0.4 4.8-0.5 4.7-0.3 4.8-0.4 4.8-0.3 4.8-0.2 4.8-0.2 4.7-0.1 4.8-0.1 4.8-0.1 4.8 0 4.8 0.1 4.8 0.2 4.7 0.2 4.8 0.3 4.8 0.3 4.8 0.4 4.7 0.5 4.8 0.6 4.7 0.7 4.7 0.7 4.8 0.7 4.7 0.9 4.7 0.9 4.7 1 4.6 1 4.7 1.1 4.6 1.2 4.6 1.2 4.7 1.3 4.5 1.4 4.6 1.4 4.6 1.5 4.5 1.5 4.5 1.6 4.5 1.6 4.5 1.7 4.4 1.8 4.5 1.8 4.4 1.9 4.4 1.9 4.3 1.9 4.4 2 4.3 2.1 4.3 2.1 4.3 2.1 4.2 2.2 4.3 2.2 4.2 2.3 4.2 2.3 4.1 2.4 4.1 2.5 4 2.5 4.1 2.6 2.6 1.6 1.7 0.2 4.8 0.3 4.8 0.2 4.7 0.3 4.8 0.3 4.8 0.3 4.8 0.3 4.7 0.4 4.8 0.5 4.8 0.5 4.7 0.5 4.8 0.5 4.7 0.5 4.8 0.5 4.7 0.5 4.8 0.2 4.8-0.1 4.8-0.2 4.8-0.1 4.8-0.1 4.7-0.1 4.8-0.2 4.8-0.1 4.8-0.1 4.8-0.1 4.8-0.1 4.7-0.1 4.8-0.1 4.8-0.1 4.8-0.1 4.8-0.1 4.8-0.1 4.7 0 4.8-0.1 4.8-0.1 4.8-0.1 4.8-0.1 4.8-0.1 4.8-0.1 4.7-0.1 4.8-0.1 4.8-0.1 4.8-0.1 4.8-0.1 4.8-0.1 4.7-0.1 4.8-0.1 4.8-0.1 4.8 0 4.8-0.1 4.8-0.1 4.7-0.1 4.8-0.1 4.8-0.2 4.8-0.1 4.8-0.1 4.8-0.1 4.8-0.1 4.7-0.1 4.8-0.1 4.8-0.1 4.8-0.1 4.8-0.2 4.8-0.1 4.7-0.1 4.8-0.1 4.8 0.1 4.8 0.4 4.7 0.5 4.8 0.5 4.7 0.6 4.8 0.5 4.7 0.7 4.8 0.6 4.7 0.7 4.7 0.8 4.8 0.8 4.7 0.9 4.6 0.9 4.7 1.1 4.7 1.1 4.6 1.1 4.6 1.3 4.5 1.6 4.2 2.3 3.8 3 3.2 3.5 2.7 4 2.1 4.2 1.7 4.5 1.2 4.6 0.9 4.8 0.4 4.7 0.1 2.4 0 1.3 0 1.1 0 0.6"/><use href="#s142" transform="scale(1,-1)"/>
<path id="s143" d="M-52.7 0.6l0-0.6 0-1.1 0-1.3 0.1-2.4 0.5-4.8 0.7-4.7 1.1-4.7 1.3-4.6 1.6-4.5 1.9-4.4 2.1-4.3 2.4-4.2 2.6-4 2.8-3.9 3-3.7 3.1-3.6 3.4-3.5 3.4-3.3 3.7-3.1 3.7-3 3.9-2.8 4-2.6 4.1-2.5 4.2-2.3 4.3-2.2 4.3-2 4.5-1.9 4.4-1.7 4.6-1.5 4.6-1.4 4.6-1.2 4.7-1.1 4.7-1 4.6-1.3 4.6-1.4 4.6-1.3 4.6-1.3 4.6-1.2 4.6-1.2 4.7-1.2 4.7-1.1 4.6-1.1 4.7-1.1 4.7-1 4.7-0.9 4.7-0.9 4.7-0.9 4.7-0.8 4.8-0.8 4.7-0.7 4.7-0.7 4.8-0.6 4.8-0.6 4.7-0.6 4.8-0.5 4.8-0.4 4.7-0.4 4.8-0.4 4.8-0.3 4.8-0.3 4.8-0.2 4.8-0.2 4.7-0.1 4.8-0.1 4.8 0 4.8 0 4.8 0.1 4.8 0.2 4.8 0.3 4.8 0.3 4.8 0.4 4.7 0.4 4.8 0.6 4.7 0.6 4.8 0.6 4.7 0.8 4.8 0.8 4.7 0.9 4.7 0.9 4.7 1 4.6 1.1 4.7 1.1 4.6 1.2 4.6 1.3 4.7 1.3 4.5 1.4 4.6 1.5 4.6 1.5 4.5 1.5 4.5 1.6 4.5 1.7 4.5 1.8 4.4 1.7 4.4 1.9 4.4 1.9 4.4 1.9 4.4 2 4.3 2.1 4.3 2 4.3 2.1 4.3 2.2 4.3 2.2 4.2 2.3 4.2 2.3 4.2 2.4 4.1 2.4 4 2.6 4.1 2.5 3.7 2 0.6 0.1 4.7 0.2 4.8 0.3 4.8 0.3 4.8 0.3 4.8 0.3 4.8 0.3 4.8 0.3 4.7 0.4 4.8 0.5 4.8 0.5 4.7 0.5 4.8 0.5 4.8 0.5 4.7 0.6 4.8 0.5 4.8 0 4.8-0.2 4.8-0.1 4.7-0.1 4.8-0.1 4.8-0.2 4.8-0.1 4.8-0.1 4.8-0.1 4.8-0.1 4.8-0.1 4.8-0.1 4.8-0.1 4.8-0.1 4.8-0.1 4.8-0.1 4.7-0.1 4.8-0.1 4.8-0.1 4.8-0.1 4.8-0.1 4.8 0 4.8-0.1 4.8-0.1 4.8-0.1 4.8-0.1 4.8-0.1 4.8-0.1 4.8-0.1 4.8-0.1 4.7-0.1 4.8-0.1 4.8-0.1 4.8-0.1 4.8-0.1 4.8-0.1 4.8-0.1 4.8-0.1 4.8-0.1 4.8-0.1 4.8-0.1 4.8-0.1 4.8-0.1 4.7-0.1 4.8-0.2 4.8-0.1 4.8 0.4 4.8 0.5 4.7 0.5 4.8 0.5 4.8 0.6 4.7 0.6 4.8 0.7 4.7 0.7 4.7 0.7 4.8 0.8 4.7 0.8 4.7 1 4.7 0.9 4.7 1.1 4.6 1.1 4.7 1.2 4.5 1.6 4.2 2.3 3.7 3 3.3 3.5 2.7 3.9 2.2 4.3 1.6 4.5 1.3 4.6 0.8 4.7 0.4 4.8 0.1 2.4 0 1.3 0.1 1.1 0 0.6"/><use href="#s143" transform="scale(1,-1)"/>
<path id="s144" d="M-52.7 0.6l0-0.6 0-1.1 0-1.3 0.1-2.4 0.5-4.7 0.7-4.7 1.1-4.7 1.3-4.6 1.6-4.5 1.9-4.4 2.1-4.3 2.3-4.1 2.6-4.1 2.8-3.8 2.9-3.8 3.2-3.6 3.3-3.4 3.5-3.3 3.6-3.1 3.7-3 3.9-2.8 4-2.6 4-2.5 4.2-2.4 4.3-2.1 4.3-2.1 4.4-1.8 4.4-1.7 4.6-1.6 4.5-1.4 4.6-1.2 4.7-1.1 4.7-1 4.6-1.2 4.6-1.4 4.6-1.3 4.6-1.2 4.6-1.3 4.6-1.1 4.6-1.2 4.7-1.1 4.6-1 4.7-1.1 4.7-0.9 4.7-1 4.7-0.8 4.7-0.9 4.7-0.8 4.7-0.7 4.7-0.8 4.7-0.6 4.8-0.6 4.7-0.6 4.8-0.6 4.7-0.4 4.8-0.5 4.7-0.4 4.8-0.3 4.8-0.3 4.7-0.3 4.8-0.2 4.8-0.2 4.8-0.1 4.7 0 4.8-0.1 4.8 0.1 4.8 0.1 4.7 0.2 4.8 0.2 4.8 0.3 4.7 0.4 4.8 0.5 4.7 0.5 4.8 0.6 4.7 0.7 4.7 0.8 4.7 0.8 4.7 0.9 4.7 0.9 4.7 1 4.6 1.1 4.7 1.1 4.6 1.2 4.6 1.3 4.6 1.3 4.5 1.4 4.6 1.5 4.5 1.5 4.5 1.5 4.5 1.7 4.5 1.6 4.5 1.8 4.4 1.8 4.4 1.8 4.4 1.9 4.3 1.9 4.4 2 4.3 2.1 4.3 2 4.3 2.2 4.3 2.1 4.2 2.2 4.2 2.3 4.2 2.3 4.1 2.4 4.1 2.5 4.1 2.5 4 2.5 0.9 0.6 3.7 0.6 4.7 0.3 4.8 0.2 4.8 0.3 4.7 0.3 4.8 0.3 4.8 0.3 4.7 0.3 4.8 0.3 4.7 0.5 4.8 0.5 4.7 0.6 4.8 0.5 4.7 0.5 4.8 0.5 4.7 0.5 4.8 0.2 4.8-0.1 4.7-0.1 4.8-0.2 4.8-0.1 4.8-0.1 4.7-0.2 4.8-0.1 4.8-0.1 4.8-0.1 4.8-0.1 4.7-0.1 4.8-0.1 4.8-0.1 4.8-0.1 4.7 0 4.8-0.1 4.8-0.1 4.8-0.1 4.7-0.1 4.8-0.1 4.8-0.1 4.8-0.1 4.7-0.1 4.8-0.1 4.8-0.1 4.8-0.1 4.7-0.1 4.8-0.1 4.8-0.1 4.8-0.1 4.7 0 4.8-0.1 4.8-0.1 4.8-0.1 4.7-0.1 4.8-0.1 4.8-0.1 4.8-0.1 4.7-0.1 4.8-0.2 4.8 0.2 4.7 0.5 4.8 0.5 4.7 0.5 4.8 0.6 4.7 0.6 4.8 0.6 4.7 0.7 4.7 0.7 4.7 0.8 4.7 0.8 4.7 0.9 4.7 1 4.7 1 4.6 1 4.7 1.2 4.5 1.5 4.1 2.4 3.8 2.9 3.2 3.6 2.7 3.9 2.1 4.3 1.7 4.4 1.2 4.7 0.8 4.7 0.5 4.7 0.1 2.4 0 1.3 0 1.1 0 0.6"/><use href="#s144" transform="scale(1,-1)"/>
<path id="s145" d="M-52.7 0.6l0-0.6 0-1.1 0-1.3 0.1-2.4 0.5-4.7 0.7-4.8 1.1-4.6 1.3-4.6 1.6-4.5 1.9-4.4 2.1-4.3 2.4-4.2 2.5-4 2.8-3.9 3-3.8 3.2-3.6 3.3-3.4 3.5-3.3 3.6-3.1 3.7-3 3.9-2.8 4-2.6 4.1-2.5 4.2-2.3 4.2-2.2 4.4-2 4.4-1.9 4.4-1.7 4.6-1.5 4.6-1.4 4.6-1.3 4.6-1.1 4.7-0.9 4.6-1.3 4.6-1.3 4.7-1.3 4.6-1.2 4.6-1.2 4.7-1.1 4.6-1.2 4.7-1 4.6-1.1 4.7-1 4.7-0.9 4.7-0.9 4.7-0.9 4.7-0.8 4.8-0.7 4.7-0.8 4.7-0.7 4.8-0.6 4.7-0.6 4.8-0.6 4.7-0.5 4.8-0.4 4.8-0.4 4.7-0.4 4.8-0.3 4.8-0.3 4.8-0.2 4.7-0.2 4.8-0.2 4.8-0.1 4.8 0 4.8 0 4.8 0.1 4.7 0.1 4.8 0.2 4.8 0.3 4.8 0.4 4.7 0.4 4.8 0.5 4.7 0.6 4.8 0.6 4.7 0.7 4.7 0.8 4.8 0.9 4.6 0.9 4.7 1 4.7 1 4.7 1.1 4.6 1.2 4.6 1.3 4.6 1.3 4.6 1.3 4.6 1.5 4.5 1.4 4.5 1.6 4.5 1.6 4.5 1.7 4.5 1.7 4.4 1.8 4.5 1.8 4.4 1.9 4.3 1.9 4.4 2 4.3 2 4.4 2.1 4.3 2.1 4.2 2.1 4.3 2.2 4.2 2.3 4.2 2.3 4.1 2.4 4.2 2.4 4 2.5 4.1 2.6 1.4 0.8 3.1 0.3 4.8 0.2 4.8 0.3 4.7 0.3 4.8 0.3 4.8 0.3 4.8 0.3 4.7 0.3 4.8 0.2 4.8 0.5 4.7 0.5 4.8 0.5 4.8 0.5 4.7 0.5 4.8 0.5 4.7 0.5 4.8 0.5 4.8 0.1 4.8-0.2 4.7-0.1 4.8-0.1 4.8-0.1 4.8-0.2 4.8-0.1 4.8-0.1 4.7-0.1 4.8-0.1 4.8-0.1 4.8-0.1 4.8-0.1 4.8-0.1 4.7-0.1 4.8-0.1 4.8-0.1 4.8-0.1 4.8-0.1 4.8-0.1 4.8 0 4.7-0.1 4.8-0.1 4.8-0.1 4.8-0.1 4.8-0.1 4.8-0.1 4.7-0.1 4.8-0.1 4.8-0.1 4.8-0.1 4.8-0.1 4.8-0.1 4.8-0.1 4.7-0.1 4.8 0 4.8 0.4 4.7 0.5 4.8 0.6 4.8 0.5 4.7 0.6 4.7 0.6 4.8 0.7 4.7 0.7 4.7 0.7 4.8 0.8 4.7 0.9 4.7 0.9 4.7 1 4.6 1 4.7 1.1 4.5 1.5 4.2 2.3 3.7 3 3.3 3.5 2.7 4 2.1 4.2 1.7 4.5 1.2 4.6 0.9 4.8 0.4 4.7 0.1 2.4 0 1.3 0 1.1 0 0.6"/><use href="#s145" transform="scale(1,-1)"/>
<path id="s146" d="M-52.7 0.6l0-0.6 0-1.1 0-1.3 0.1-2.4 0.5-4.8 0.7-4.7 1.1-4.7 1.3-4.6 1.6-4.5 1.9-4.4 2.1-4.3 2.4-4.2 2.6-4 2.8-3.9 3-3.8 3.1-3.5 3.4-3.5 3.5-3.3 3.6-3.1 3.8-3 3.8-2.8 4-2.6 4.1-2.5 4.2-2.3 4.3-2.2 4.4-2 4.4-1.9 4.5-1.7 4.5-1.5 4.6-1.4 4.6-1.3 4.7-1 4.7-1 4.6-1.2 4.6-1.3 4.7-1.3 4.6-1.2 4.7-1.1 4.6-1.2 4.7-1 4.7-1.1 4.7-1 4.6-0.9 4.8-1 4.7-0.8 4.7-0.9 4.7-0.8 4.8-0.7 4.7-0.7 4.7-0.7 4.8-0.6 4.8-0.5 4.7-0.6 4.8-0.4 4.8-0.5 4.7-0.4 4.8-0.3 4.8-0.3 4.8-0.3 4.8-0.2 4.8-0.1 4.8-0.2 4.8 0 4.8-0.1 4.8 0.1 4.8 0.1 4.7 0.2 4.8 0.2 4.8 0.3 4.8 0.4 4.8 0.5 4.7 0.6 4.8 0.6 4.7 0.7 4.8 0.7 4.7 0.8 4.7 0.9 4.7 1 4.7 1 4.6 1.1 4.7 1.2 4.6 1.2 4.6 1.3 4.6 1.3 4.6 1.5 4.6 1.4 4.5 1.6 4.6 1.6 4.5 1.6 4.4 1.7 4.5 1.8 4.4 1.8 4.4 1.9 4.4 1.9 4.4 2 4.4 2 4.3 2 4.3 2.1 4.3 2.2 4.2 2.2 4.3 2.2 4.2 2.3 4.1 2.4 4.2 2.5 4 2.5 4.1 2.5 0.6 0.4 4.1 0.4 4.7 0.3 4.8 0.3 4.8 0.3 4.8 0.3 4.8 0.3 4.8 0.3 4.8 0.3 4.7 0.2 4.8 0.3 4.8 0.5 4.8 0.5 4.7 0.5 4.8 0.5 4.8 0.6 4.7 0.5 4.8 0.5 4.8 0.4 4.8-0.1 4.8-0.1 4.7-0.1 4.8-0.1 4.8-0.2 4.8-0.1 4.8-0.1 4.8-0.2 4.8-0.1 4.8-0.1 4.8 0 4.8-0.1 4.8-0.1 4.8-0.1 4.8-0.1 4.8-0.1 4.8-0.1 4.7-0.1 4.8-0.1 4.8-0.1 4.8-0.1 4.8-0.1 4.8-0.1 4.8-0.1 4.8-0.1 4.8 0 4.8-0.1 4.8-0.1 4.8-0.1 4.8-0.1 4.8 0 4.7 0.5 4.8 0.5 4.7 0.7 4.8 0.6 4.7 0.7 4.8 0.6 4.7 0.7 4.8 0.8 4.7 0.7 4.7 0.9 4.7 0.8 4.7 1 4.7 1 4.7 1 4.6 1.5 4.2 2.3 3.7 3 3.2 3.5 2.8 3.9 2.1 4.3 1.7 4.5 1.3 4.6 0.8 4.7 0.4 4.8 0.1 2.4 0 1.3 0.1 1.1 0 0.6"/><use href="#s146" transform="scale(1,-1)"/>
<path id="s147" d="M-52.7 0.6l0-0.6 0-1.1 0-1.3 0.1-2.4 0.5-4.7 0.7-4.7 1.1-4.7 1.3-4.6 1.6-4.5 1.9-4.4 2.1-4.3 2.3-4.1 2.6-4.1 2.8-3.8 2.9-3.8 3.2-3.6 3.3-3.4 3.5-3.3 3.6-3.1 3.7-3 3.9-2.8 4-2.6 4-2.5 4.2-2.4 4.2-2.1 4.4-2 4.4-1.9 4.4-1.7 4.6-1.6 4.5-1.4 4.6-1.2 4.7-1.1 4.7-1 4.6-1.2 4.6-1.2 4.6-1.2 4.6-1.2 4.7-1.1 4.6-1.1 4.7-1.1 4.6-1 4.7-1 4.7-0.9 4.7-0.9 4.7-0.9 4.7-0.8 4.7-0.7 4.7-0.7 4.8-0.7 4.7-0.7 4.7-0.6 4.8-0.5 4.7-0.5 4.8-0.5 4.7-0.4 4.8-0.4 4.8-0.3 4.7-0.3 4.8-0.2 4.8-0.2 4.8-0.2 4.7-0.1 4.8 0 4.8-0.1 4.8 0.1 4.7 0.1 4.8 0.2 4.8 0.3 4.7 0.3 4.8 0.4 4.8 0.5 4.7 0.6 4.7 0.6 4.8 0.7 4.7 0.8 4.7 0.8 4.7 0.9 4.6 1 4.7 1 4.6 1.1 4.7 1.2 4.6 1.2 4.6 1.3 4.6 1.4 4.5 1.4 4.6 1.5 4.5 1.6 4.5 1.6 4.4 1.6 4.5 1.7 4.4 1.8 4.5 1.9 4.3 1.8 4.4 2 4.4 2 4.3 2 4.3 2 4.3 2.1 4.2 2.2 4.3 2.2 4.2 2.3 4.2 2.3 4.1 2.4 4.1 2.5 4 2.5 2.2 1.4 2.2 0.3 4.7 0.3 4.8 0.2 4.8 0.3 4.8 0.3 4.7 0.3 4.8 0.3 4.8 0.3 4.7 0.3 4.8 0.2 4.8 0.3 4.7 0.4 4.8 0.5 4.7 0.6 4.8 0.5 4.7 0.5 4.8 0.5 4.7 0.5 4.8 0.5 4.7 0.1 4.8-0.1 4.8-0.2 4.8-0.1 4.7-0.1 4.8-0.2 4.8-0.1 4.7-0.1 4.8-0.1 4.8-0.1 4.8-0.1 4.7-0.1 4.8-0.1 4.8-0.1 4.8-0.1 4.8-0.1 4.7-0.1 4.8-0.1 4.8 0 4.8-0.1 4.7-0.1 4.8-0.1 4.8-0.1 4.8-0.1 4.7-0.1 4.8-0.1 4.8 0.1 4.7 0.6 4.8 0.6 4.7 0.6 4.7 0.7 4.7 0.7 4.8 0.7 4.7 0.8 4.7 0.8 4.7 0.8 4.7 0.9 4.7 0.9 4.7 1 4.6 1 4.5 1.5 4.2 2.3 3.7 3 3.3 3.5 2.6 3.9 2.2 4.3 1.7 4.5 1.2 4.6 0.8 4.7 0.5 4.7 0.1 2.4 0 1.3 0 1.1 0 0.6"/><use href="#s147" transform="scale(1,-1)"/>
<path id="s148" d="M-52.7 0.6l0-0.6 0-1.1 0-1.3 0.1-2.4 0.5-4.7 0.7-4.8 1.1-4.6 1.3-4.6 1.6-4.5 1.9-4.4 2.1-4.3 2.4-4.2 2.5-4 2.8-3.9 3-3.8 3.2-3.6 3.3-3.4 3.5-3.3 3.6-3.1 3.7-3 3.9-2.8 4-2.6 4.1-2.5 4.2-2.4 4.2-2.1 4.4-2 4.4-1.9 4.5-1.7 4.5-1.6 4.6-1.3 4.6-1.3 4.6-1.1 4.7-0.9 4.7-1.2 4.6-1.2 4.6-1.2 4.7-1.2 4.6-1.1 4.7-1 4.7-1.1 4.7-0.9 4.7-1 4.7-0.9 4.7-0.8 4.7-0.9 4.7-0.7 4.7-0.8 4.8-0.7 4.7-0.6 4.7-0.6 4.8-0.6 4.8-0.5 4.7-0.5 4.8-0.4 4.8-0.4 4.7-0.4 4.8-0.3 4.8-0.2 4.8-0.2 4.7-0.2 4.8-0.1 4.8-0.1 4.8 0 4.8 0 4.8 0.1 4.8 0.1 4.7 0.3 4.8 0.3 4.8 0.4 4.7 0.4 4.8 0.6 4.7 0.6 4.8 0.7 4.7 0.7 4.7 0.8 4.7 0.9 4.7 1 4.7 1 4.6 1.1 4.7 1.2 4.6 1.2 4.6 1.3 4.6 1.3 4.6 1.5 4.5 1.4 4.6 1.6 4.5 1.6 4.5 1.6 4.4 1.8 4.5 1.7 4.4 1.9 4.4 1.8 4.4 2 4.3 2 4.4 2 4.3 2.1 4.3 2.1 4.2 2.1 4.3 2.2 4.2 2.3 4.2 2.3 4.1 2.5 4.1 2.4 4.1 2.6 1.7 0.8 2.9 0.2 4.7 0.3 4.8 0.2 4.8 0.3 4.8 0.3 4.7 0.3 4.8 0.3 4.8 0.3 4.8 0.3 4.7 0.2 4.8 0.3 4.8 0.3 4.8 0.5 4.7 0.5 4.8 0.5 4.7 0.5 4.8 0.5 4.8 0.5 4.7 0.5 4.8 0.5 4.8-0.1 4.7-0.1 4.8-0.1 4.8-0.1 4.8-0.2 4.8-0.1 4.8-0.1 4.7-0.1 4.8-0.2 4.8 0 4.8-0.1 4.8-0.1 4.8-0.1 4.8-0.1 4.7-0.1 4.8-0.1 4.8-0.1 4.8-0.1 4.8-0.1 4.8-0.1 4.7-0.1 4.8 0.3 4.8 0.6 4.7 0.6 4.7 0.7 4.8 0.7 4.7 0.7 4.7 0.8 4.8 0.8 4.7 0.8 4.7 0.9 4.7 0.9 4.7 1 4.6 1 4.6 1.4 4.2 2.3 3.7 3 3.2 3.5 2.7 4 2.2 4.2 1.7 4.5 1.2 4.6 0.9 4.8 0.4 4.7 0.1 2.4 0 1.3 0 1.1 0 0.6"/><use href="#s148" transform="scale(1,-1)"/>
<path id="s149" d="M-52.7 0.6l0-0.6 0-1.1 0-1.3 0.1-2.4 0.5-4.8 0.7-4.7 1.1-4.7 1.3-4.6 1.6-4.5 1.9-4.4 2.1-4.3 2.4-4.2 2.6-4 2.8-3.9 3-3.8 3.1-3.6 3.4-3.4 3.5-3.3 3.6-3.1 3.8-3 3.9-2.8 4-2.6 4.1-2.5 4.2-2.4 4.2-2.1 4.4-2 4.4-1.9 4.5-1.7 4.5-1.5 4.6-1.4 4.7-1.3 4.6-1.1 4.7-0.9 4.7-1.2 4.6-1.2 4.7-1.1 4.7-1.1 4.6-1.1 4.7-1 4.7-1 4.7-1 4.7-0.9 4.7-0.8 4.7-0.9 4.8-0.8 4.7-0.7 4.8-0.7 4.7-0.7 4.8-0.6 4.7-0.6 4.8-0.5 4.8-0.5 4.7-0.4 4.8-0.4 4.8-0.4 4.8-0.3 4.8-0.3 4.8-0.2 4.8-0.2 4.8-0.1 4.7-0.1 4.8-0.1 4.8 0 4.8 0.1 4.8 0.1 4.8 0.2 4.8 0.3 4.8 0.4 4.8 0.4 4.7 0.5 4.8 0.6 4.7 0.7 4.8 0.7 4.7 0.8 4.7 0.9 4.7 1 4.7 1 4.7 1.1 4.6 1.1 4.7 1.3 4.6 1.2 4.6 1.4 4.6 1.4 4.5 1.5 4.6 1.5 4.5 1.6 4.5 1.7 4.5 1.7 4.4 1.8 4.4 1.9 4.5 1.8 4.3 2 4.4 2 4.3 2 4.4 2.1 4.3 2.1 4.2 2.2 4.3 2.2 4.2 2.3 4.2 2.4 4.1 2.4 4.1 2.5 3.2 2 1 0.3 4.8 0.3 4.8 0.3 4.8 0.2 4.7 0.3 4.8 0.3 4.8 0.3 4.8 0.3 4.8 0.3 4.8 0.3 4.8 0.2 4.8 0.3 4.7 0.3 4.8 0.4 4.8 0.5 4.8 0.5 4.7 0.5 4.8 0.5 4.8 0.5 4.7 0.5 4.8 0.5 4.8 0.3 4.8-0.1 4.8-0.1 4.8-0.2 4.8-0.1 4.8-0.1 4.7-0.1 4.8-0.2 4.8-0.1 4.8-0.1 4.8-0.1 4.8-0.1 4.8-0.1 4.8-0.1 4.8-0.1 4.8 0 4.8-0.1 4.8 0.4 4.7 0.6 4.8 0.7 4.7 0.7 4.8 0.7 4.7 0.8 4.7 0.8 4.7 0.8 4.8 0.9 4.7 0.9 4.7 1 4.7 1 4.5 1.4 4.2 2.3 3.8 3 3.2 3.5 2.7 3.9 2.2 4.3 1.7 4.5 1.3 4.6 0.8 4.7 0.4 4.8 0.1 2.4 0.1 1.3 0 1.1 0 0.6"/><use href="#s149" transform="scale(1,-1)"/>
<path id="s150" d="M-52.7 0.6l0-0.6 0-1.1 0-1.3 0.1-2.4 0.5-4.7 0.7-4.7 1.1-4.7 1.3-4.6 1.6-4.5 1.9-4.4 2.1-4.3 2.3-4.1 2.6-4.1 2.8-3.8 2.9-3.8 3.2-3.6 3.3-3.4 3.5-3.3 3.6-3.1 3.7-3 3.9-2.8 3.9-2.6 4.1-2.5 4.2-2.4 4.2-2.1 4.4-2 4.4-1.9 4.4-1.7 4.5-1.6 4.6-1.4 4.6-1.2 4.7-1.1 4.6-1 4.7-1.1 4.6-1.1 4.7-1.2 4.6-1 4.7-1.1 4.6-1 4.7-0.9 4.7-1 4.7-0.8 4.7-0.9 4.7-0.8 4.7-0.8 4.7-0.7 4.8-0.6 4.7-0.7 4.7-0.6 4.8-0.5 4.7-0.5 4.8-0.5 4.7-0.4 4.8-0.4 4.8-0.4 4.7-0.3 4.8-0.2 4.8-0.2 4.8-0.2 4.7-0.1 4.8-0.1 4.8 0 4.8 0 4.7 0.1 4.8 0.1 4.8 0.3 4.7 0.3 4.8 0.4 4.7 0.4 4.8 0.6 4.7 0.6 4.8 0.7 4.7 0.8 4.7 0.8 4.7 0.9 4.6 1 4.7 1 4.6 1.2 4.7 1.1 4.6 1.3 4.6 1.3 4.5 1.4 4.6 1.4 4.5 1.6 4.5 1.5 4.5 1.7 4.5 1.6 4.4 1.8 4.4 1.8 4.4 1.9 4.4 1.9 4.4 2 4.3 2 4.3 2 4.3 2.1 4.3 2.2 4.2 2.2 4.2 2.2 4.2 2.4 4.1 2.4 4.1 2.4 3.5 2.2 0.6 0.2 4.8 0.4 4.7 0.3 4.8 0.3 4.8 0.2 4.7 0.3 4.8 0.3 4.8 0.3 4.7 0.3 4.8 0.3 4.8 0.3 4.7 0.2 4.8 0.3 4.8 0.3 4.7 0.3 4.8 0.5 4.7 0.5 4.8 0.5 4.7 0.5 4.8 0.5 4.7 0.5 4.8 0.5 4.7 0.5 4.8 0 4.8-0.2 4.8-0.1 4.7-0.1 4.8-0.2 4.8-0.1 4.8-0.1 4.7-0.1 4.8-0.1 4.8-0.1 4.8-0.1 4.7-0.1 4.8 0.7 4.7 0.6 4.7 0.7 4.7 0.8 4.7 0.7 4.8 0.8 4.7 0.9 4.7 0.8 4.6 1 4.7 0.9 4.7 1 4.5 1.5 4.2 2.3 3.7 3 3.2 3.5 2.7 3.9 2.2 4.3 1.7 4.5 1.2 4.6 0.8 4.7 0.5 4.7 0.1 2.4 0 1.3 0 1.1 0 0.6"/><use href="#s150" transform="scale(1,-1)"/>
<path id="s151" d="M-52.7 0.6l0-0.6 0-1.1 0-1.3 0.1-2.4 0.5-4.7 0.7-4.8 1.1-4.6 1.3-4.6 1.6-4.5 1.9-4.5 2.1-4.2 2.4-4.2 2.5-4 2.8-3.9 3-3.8 3.2-3.6 3.3-3.4 3.5-3.3 3.6-3.1 3.8-3 3.8-2.8 4-2.6 4.1-2.5 4.2-2.4 4.3-2.1 4.3-2 4.4-1.9 4.5-1.7 4.5-1.6 4.6-1.4 4.6-1.2 4.7-1.1 4.7-0.9 4.6-1.1 4.7-1.2 4.6-1 4.7-1.1 4.7-1 4.7-1 4.7-0.9 4.7-0.9 4.7-0.8 4.7-0.8 4.7-0.8 4.8-0.7 4.7-0.7 4.7-0.7 4.8-0.6 4.7-0.5 4.8-0.5 4.8-0.5 4.7-0.4 4.8-0.4 4.8-0.4 4.7-0.3 4.8-0.3 4.8-0.2 4.8-0.2 4.8-0.1 4.8-0.1 4.7 0 4.8 0 4.8 0 4.8 0.2 4.8 0.2 4.8 0.3 4.7 0.4 4.8 0.5 4.7 0.5 4.8 0.6 4.7 0.7 4.8 0.8 4.7 0.8 4.7 0.9 4.7 1 4.6 1 4.7 1.2 4.6 1.2 4.6 1.2 4.6 1.4 4.6 1.4 4.6 1.4 4.5 1.5 4.5 1.6 4.5 1.7 4.5 1.7 4.4 1.8 4.4 1.8 4.4 1.9 4.4 1.9 4.4 2 4.3 2 4.3 2.1 4.3 2.2 4.3 2.1 4.2 2.3 4.2 2.3 4.2 2.3 4.1 2.5 4.1 2.5 1.1 0.7 3.4 0.2 4.8 0.3 4.8 0.3 4.8 0.3 4.7 0.2 4.8 0.3 4.8 0.3 4.8 0.3 4.8 0.3 4.7 0.3 4.8 0.3 4.8 0.2 4.8 0.3 4.7 0.3 4.8 0.3 4.8 0.3 4.8 0.5 4.7 0.5 4.8 0.5 4.7 0.5 4.8 0.6 4.8 0.5 4.7 0.5 4.8 0.3 4.8-0.1 4.7-0.1 4.8-0.1 4.8-0.2 4.8-0.1 4.8-0.1 4.8 0.1 4.7 0.6 4.7 0.7 4.8 0.7 4.7 0.8 4.7 0.8 4.7 0.9 4.7 0.8 4.7 0.9 4.7 1 4.7 1 4.5 1.5 4.2 2.3 3.8 2.9 3.2 3.5 2.7 4 2.2 4.2 1.7 4.5 1.3 4.6 0.8 4.8 0.4 4.7 0.1 2.4 0 1.3 0 1.1 0 0.6"/><use href="#s151" transform="scale(1,-1)"/>
<path id="s152" d="M-52.7 0.6l0-0.6 0-1.1 0-1.3 0.1-2.4 0.5-4.8 0.7-4.7 1.1-4.7 1.3-4.6 1.6-4.5 1.9-4.4 2.1-4.3 2.4-4.2 2.6-4 2.8-3.9 3-3.8 3.2-3.6 3.3-3.4 3.5-3.3 3.6-3.1 3.8-3 3.9-2.8 4-2.7 4.1-2.4 4.2-2.4 4.3-2.1 4.3-2 4.5-1.9 4.4-1.7 4.6-1.5 4.6-1.4 4.6-1.3 4.7-1.1 4.7-0.9 4.7-1.1 4.6-1.1 4.7-1 4.7-1 4.7-1 4.7-0.9 4.7-0.9 4.7-0.9 4.8-0.8 4.7-0.8 4.7-0.7 4.8-0.7 4.7-0.6 4.8-0.6 4.8-0.6 4.7-0.5 4.8-0.5 4.8-0.5 4.8-0.3 4.8-0.4 4.7-0.3 4.8-0.3 4.8-0.2 4.8-0.2 4.8-0.1 4.8-0.1 4.8-0.1 4.8 0 4.8 0 4.8 0.2 4.8 0.2 4.8 0.3 4.8 0.4 4.7 0.4 4.8 0.6 4.8 0.6 4.7 0.7 4.7 0.7 4.8 0.9 4.7 0.9 4.7 1 4.6 1.1 4.7 1.1 4.7 1.2 4.6 1.3 4.6 1.4 4.6 1.4 4.5 1.5 4.6 1.5 4.5 1.6 4.5 1.7 4.4 1.7 4.5 1.8 4.4 1.9 4.4 1.9 4.4 2 4.3 2 4.4 2.1 4.3 2.1 4.3 2.2 4.2 2.2 4.2 2.3 4.2 2.3 4.2 2.4 4.1 2.5 1.8 1.1 2.6 0.2 4.8 0.3 4.8 0.3 4.8 0.3 4.8 0.3 4.8 0.2 4.8 0.3 4.8 0.3 4.8 0.3 4.7 0.3 4.8 0.3 4.8 0.3 4.8 0.3 4.8 0.2 4.8 0.3 4.8 0.3 4.8 0.3 4.7 0.4 4.8 0.5 4.8 0.5 4.8 0.5 4.7 0.5 4.8 0.5 4.8 0.6 4.7 0.5 4.8 0.1 4.8-0.1 4.8 0.1 4.8 0.7 4.7 0.7 4.7 0.8 4.8 0.8 4.7 0.8 4.7 0.9 4.7 0.9 4.7 1 4.7 1 4.6 1.4 4.2 2.3 3.7 3 3.3 3.5 2.7 3.9 2.2 4.3 1.7 4.5 1.3 4.6 0.8 4.7 0.4 4.8 0.1 2.4 0.1 1.3 0 1.1 0 0.6"/><use href="#s152" transform="scale(1,-1)"/>
<path id="s153" d="M-52.7 0.6l0-0.6 0-1.1 0-1.3 0.1-2.4 0.5-4.7 0.7-4.7 1.1-4.7 1.3-4.6 1.6-4.5 1.9-4.4 2.1-4.3 2.3-4.1 2.6-4.1 2.8-3.8 2.9-3.8 3.2-3.6 3.3-3.4 3.4-3.3 3.7-3.1 3.7-3 3.9-2.8 3.9-2.6 4.1-2.5 4.2-2.4 4.2-2.1 4.4-2 4.4-1.9 4.4-1.7 4.5-1.6 4.6-1.4 4.6-1.2 4.7-1.1 4.6-1 4.7-1 4.7-1.1 4.6-1 4.7-0.9 4.7-1 4.7-0.9 4.7-0.8 4.7-0.9 4.7-0.7 4.7-0.8 4.7-0.7 4.8-0.6 4.7-0.6 4.7-0.6 4.8-0.6 4.7-0.5 4.8-0.4 4.7-0.4 4.8-0.4 4.8-0.3 4.7-0.3 4.8-0.3 4.8-0.2 4.7-0.1 4.8-0.1 4.8-0.1 4.8-0.1 4.7 0.1 4.8 0.1 4.8 0.1 4.8 0.3 4.7 0.3 4.8 0.5 4.7 0.5 4.8 0.6 4.7 0.6 4.7 0.8 4.7 0.8 4.7 0.9 4.7 1 4.6 1 4.7 1.1 4.6 1.2 4.6 1.3 4.6 1.3 4.6 1.4 4.5 1.5 4.5 1.5 4.5 1.6 4.5 1.7 4.4 1.7 4.5 1.8 4.4 1.9 4.3 1.9 4.4 2 4.3 2 4.3 2.1 4.3 2.1 4.3 2.1 4.2 2.2 4.2 2.3 4.2 2.4 4.1 2.4 4 2.5 0.2 0.1 4.6 0.4 4.7 0.3 4.8 0.3 4.8 0.3 4.7 0.3 4.8 0.2 4.8 0.3 4.7 0.3 4.8 0.3 4.8 0.3 4.7 0.3 4.8 0.3 4.8 0.2 4.7 0.3 4.8 0.4 4.7 0.5 4.8 0.5 4.7 0.5 4.8 0.5 4.7 0.6 4.8 0.5 4.7 0.7 4.7 0.6 4.8 0.7 4.7 0.7 4.7 0.7 4.7 0.8 4.7 0.8 4.7 0.8 4.7 0.9 4.7 0.9 4.7 1 4.7 1 4.5 1.4 4.2 2.3 3.7 3 3.2 3.5 2.7 3.9 2.2 4.3 1.7 4.5 1.2 4.6 0.8 4.7 0.5 4.7 0.1 2.4 0 1.3 0 1.1 0 0.6"/><use href="#s153" transform="scale(1,-1)"/>
<path id="s154" d="M-52.7 0.6l0-0.6 0-1.1 0-1.3 0.1-2.4 0.5-4.7 0.7-4.8 1.1-4.6 1.3-4.6 1.6-4.6 1.9-4.4 2.1-4.2 2.4-4.2 2.5-4 2.8-3.9 3-3.8 3.2-3.6 3.3-3.4 3.5-3.3 3.6-3.1 3.8-3 3.8-2.8 4-2.6 4.1-2.5 4.2-2.4 4.3-2.1 4.3-2.1 4.4-1.8 4.5-1.7 4.5-1.6 4.6-1.4 4.6-1.2 4.7-1.1 4.7-0.9 4.7-1 4.7-1 4.6-0.9 4.8-0.9 4.7-0.9 4.7-0.8 4.7-0.8 4.7-0.7 4.8-0.7 4.7-0.7 4.8-0.6 4.7-0.6 4.8-0.6 4.7-0.5 4.8-0.4 4.7-0.5 4.8-0.4 4.8-0.3 4.8-0.3 4.7-0.3 4.8-0.3 4.8-0.1 4.8-0.2 4.8-0.1 4.8-0.1 4.8 0 4.7 0 4.8 0.1 4.8 0.2 4.8 0.2 4.8 0.4 4.7 0.4 4.8 0.5 4.7 0.6 4.8 0.7 4.7 0.8 4.7 0.8 4.7 0.9 4.7 1 4.7 1.1 4.6 1.2 4.6 1.2 4.6 1.3 4.6 1.4 4.6 1.4 4.5 1.5 4.6 1.6 4.5 1.6 4.4 1.7 4.5 1.8 4.4 1.8 4.4 1.9 4.4 2 4.3 2 4.3 2.1 4.3 2.1 4.3 2.1 4.3 2.2 4.2 2.3 4.2 2.3 4.1 2.5 4.1 2.4 1.4 0.6 3.2 0.2 4.8 0.3 4.8 0.3 4.8 0.3 4.8 0.3 4.7 0.4 4.8 0.4 4.8 0.3 4.7 0.4 4.8 0.5 4.8 0.4 4.7 0.5 4.8 0.4 4.8 0.5 4.7 0.6 4.8 0.5 4.7 0.6 4.8 0.6 4.7 0.7 4.8 0.6 4.7 0.7 4.7 0.8 4.8 0.7 4.7 0.8 4.7 0.9 4.7 0.9 4.7 0.9 4.7 0.9 4.7 1 4.5 1.5 4.2 2.3 3.8 2.9 3.2 3.6 2.7 3.9 2.2 4.2 1.7 4.5 1.3 4.6 0.8 4.7 0.4 4.8 0.1 2.4 0 1.3 0 1.1 0 0.6"/><use href="#s154" transform="scale(1,-1)"/>
<path id="s155" d="M-52.7 0.6l0-0.6 0-1.1 0-1.3 0.1-2.4 0.5-4.7 0.7-4.7 1.1-4.7 1.3-4.5 1.6-4.5 1.8-4.4 2.1-4.3 2.4-4.1 2.5-4.1 2.8-3.8 2.9-3.8 3.2-3.6 3.3-3.4 3.4-3.3 3.6-3.1 3.8-3 3.8-2.8 4-2.6 4-2.5 4.2-2.3 4.2-2.2 4.3-2 4.4-1.9 4.5-1.7 4.5-1.6 4.5-1.4 4.6-1.3 4.7-1.1 4.6-0.9 4.7-0.9 4.7-0.9 4.7-0.9 4.7-0.8 4.7-0.8 4.7-0.8 4.7-0.7 4.7-0.7 4.7-0.6 4.7-0.7 4.8-0.5 4.7-0.6 4.7-0.5 4.8-0.4 4.7-0.5 4.8-0.3 4.7-0.4 4.8-0.3 4.7-0.3 4.8-0.2 4.8-0.2 4.7-0.2 4.8-0.1 4.8-0.1 4.7 0 4.8 0 4.7 0 4.8 0.2 4.8 0.3 4.7 0.3 4.8 0.4 4.7 0.5 4.7 0.6 4.8 0.7 4.7 0.7 4.7 0.8 4.6 1 4.7 0.9 4.6 1.1 4.7 1.2 4.6 1.2 4.5 1.3 4.6 1.4 4.6 1.4 4.5 1.5 4.5 1.6 4.4 1.7 4.5 1.7 4.4 1.8 4.4 1.8 4.4 1.9 4.3 2 4.3 2 4.3 2.1 4.3 2.1 4.2 2.2 4.2 2.2 4.2 2.3 4.1 2.3 4.1 2.5 4.1 2.5 0.4 0.3 4.2 0.3 4.8 0.3 4.7 0.4 4.8 0.4 4.7 0.4 4.8 0.4 4.7 0.5 4.8 0.4 4.7 0.5 4.8 0.5 4.7 0.5 4.7 0.6 4.8 0.6 4.7 0.6 4.7 0.6 4.7 0.7 4.7 0.7 4.7 0.7 4.7 0.8 4.7 0.8 4.7 0.8 4.7 0.9 4.7 0.9 4.7 1 4.6 1 4.5 1.5 4.2 2.3 3.7 3 3.2 3.5 2.7 3.9 2.2 4.2 1.7 4.5 1.2 4.6 0.8 4.7 0.4 4.7 0.1 2.4 0.1 1.3 0 1.1 0 0.6"/><use href="#s155" transform="scale(1,-1)"/>
<path id="s156" d="M-52.7 0.6l0-0.6 0-1.1 0-1.3 0.1-2.4 0.5-4.7 0.7-4.7 1.1-4.7 1.3-4.6 1.6-4.5 1.9-4.4 2.1-4.3 2.3-4.1 2.6-4.1 2.8-3.9 2.9-3.7 3.2-3.6 3.3-3.4 3.5-3.3 3.6-3.1 3.7-3 3.9-2.8 4-2.7 4.1-2.4 4.1-2.4 4.3-2.2 4.3-2 4.4-1.8 4.5-1.7 4.5-1.6 4.6-1.4 4.6-1.2 4.6-1.1 4.7-1 4.7-0.8 4.7-0.8 4.8-0.8 4.7-0.7 4.7-0.7 4.7-0.6 4.8-0.6 4.7-0.6 4.8-0.6 4.7-0.5 4.8-0.5 4.7-0.4 4.8-0.4 4.8-0.4 4.7-0.4 4.8-0.3 4.8-0.3 4.7-0.2 4.8-0.2 4.8-0.2 4.8-0.1 4.7-0.1 4.8-0.1 4.8 0 4.8 0 4.7 0.1 4.8 0.2 4.8 0.2 4.8 0.4 4.7 0.4 4.8 0.6 4.7 0.6 4.7 0.7 4.7 0.8 4.7 0.9 4.7 0.9 4.7 1.1 4.6 1.1 4.6 1.2 4.6 1.3 4.6 1.3 4.6 1.5 4.5 1.5 4.5 1.6 4.5 1.6 4.5 1.7 4.4 1.8 4.4 1.9 4.4 1.9 4.3 1.9 4.4 2.1 4.3 2.1 4.2 2.1 4.3 2.2 4.2 2.2 4.2 2.3 4.1 2.4 4.1 2.5 4.1 2.5 0.2 0.2 4.5 0.5 4.7 0.4 4.8 0.4 4.7 0.5 4.8 0.5 4.7 0.5 4.8 0.5 4.7 0.6 4.8 0.6 4.7 0.6 4.8 0.6 4.7 0.7 4.7 0.7 4.7 0.7 4.7 0.8 4.8 0.8 4.7 0.8 4.7 0.9 4.6 0.9 4.7 1 4.7 1 4.5 1.4 4.2 2.3 3.8 3 3.2 3.5 2.7 3.9 2.2 4.3 1.7 4.4 1.2 4.7 0.8 4.7 0.5 4.7 0.1 2.4 0 1.3 0 1.1 0 0.6"/><use href="#s156" transform="scale(1,-1)"/>
<path id="s157" d="M-52.7 0.6l0-0.6 0-1.1 0-1.3 0.1-2.4 0.5-4.8 0.7-4.7 1.1-4.7 1.3-4.6 1.6-4.5 1.9-4.4 2.1-4.3 2.4-4.2 2.6-4 2.8-3.9 3-3.7 3.1-3.6 3.4-3.5 3.4-3.3 3.7-3.1 3.7-3 3.9-2.8 4-2.6 4.1-2.5 4.2-2.3 4.3-2.2 4.3-2 4.5-1.9 4.4-1.7 4.6-1.5 4.6-1.4 4.6-1.2 4.7-1.1 4.7-1 4.7-0.7 4.7-0.6 4.8-0.6 4.8-0.6 4.7-0.6 4.8-0.5 4.8-0.5 4.7-0.4 4.8-0.5 4.8-0.4 4.8-0.4 4.7-0.3 4.8-0.3 4.8-0.3 4.8-0.3 4.8-0.2 4.8-0.2 4.8-0.2 4.7-0.1 4.8-0.1 4.8-0.1 4.8 0 4.8 0 4.8 0 4.8 0.1 4.8 0.2 4.8 0.4 4.7 0.4 4.8 0.5 4.8 0.6 4.7 0.7 4.7 0.7 4.8 0.9 4.7 1 4.6 1 4.7 1.1 4.6 1.2 4.7 1.3 4.6 1.4 4.5 1.4 4.6 1.5 4.5 1.6 4.5 1.7 4.5 1.7 4.4 1.8 4.4 1.9 4.4 1.9 4.3 2 4.4 2.1 4.3 2.1 4.2 2.2 4.3 2.2 4.2 2.3 4.2 2.4 4.1 2.4 4.1 2.6 2.4 1.5 1.8 0.5 4.8 0.5 4.8 0.5 4.7 0.5 4.8 0.5 4.7 0.6 4.8 0.6 4.7 0.7 4.8 0.7 4.7 0.7 4.8 0.7 4.7 0.8 4.7 0.8 4.7 0.8 4.8 0.9 4.7 0.9 4.7 1 4.6 1 1.4 0.1 0.3 0.2 2.8 1.1 4.2 2.3 3.8 2.9 3.3 3.5 2.7 4 2.2 4.2 1.7 4.5 1.3 4.6 0.8 4.7 0.4 4.8 0.1 2.4 0 1.3 0 1.1 0 0.6"/><use href="#s157" transform="scale(1,-1)"/>
<path id="s158" d="M-52.7 0.6l0-0.6 0-1.1 0-1.3 0.1-2.4 0.5-4.7 0.7-4.7 1.1-4.7 1.3-4.5 1.6-4.5 1.8-4.4 2.1-4.3 2.4-4.1 2.5-4.1 2.8-3.8 2.9-3.8 3.2-3.6 3.3-3.4 3.4-3.3 3.6-3.1 3.8-3 3.8-2.8 4-2.6 4-2.5 4.2-2.3 4.2-2.2 4.3-2 4.4-1.9 4.5-1.7 4.5-1.6 4.5-1.4 4.6-1.2 4.6-1.2 4.7-0.9 4.7-0.6 4.8-0.4 4.7-0.5 4.8-0.4 4.7-0.3 4.8-0.4 4.7-0.3 4.8-0.3 4.7-0.3 4.8-0.3 4.8-0.2 4.7-0.2 4.8-0.2 4.7-0.2 4.8-0.2 4.8-0.1 4.7-0.1 4.8-0.1 4.7-0.1 4.8-0.1 4.8 0 4.7 0 4.8 0 4.8 0.1 4.7 0.3 4.8 0.3 4.7 0.4 4.8 0.5 4.7 0.6 4.7 0.7 4.7 0.8 4.7 0.9 4.7 0.9 4.6 1.1 4.6 1.1 4.6 1.3 4.6 1.3 4.6 1.3 4.5 1.5 4.5 1.5 4.5 1.7 4.5 1.6 4.4 1.8 4.4 1.8 4.3 2 4.4 1.9 4.3 2 4.3 2.1 4.2 2.2 4.3 2.2 4.2 2.2 4.1 2.4 4.1 2.4 4.1 2.5 4 2.5 0.3 0.2 4.4 0.5 4.7 0.6 4.7 0.6 4.7 0.7 4.8 0.6 4.7 0.7 4.7 0.8 4.7 0.7 4.7 0.8 4.7 0.9 4.7 0.9 4.6 0.9 4.7 0.9 4.7 1.1 1 0 0.3 0.3 3.1 1.1 4.2 2.3 3.7 3 3.2 3.5 2.7 3.9 2.2 4.2 1.7 4.5 1.2 4.6 0.8 4.7 0.5 4.7 0 2.4 0.1 1.3 0 1.1 0 0.6"/><use href="#s158" transform="scale(1,-1)"/>
<path id="s159" d="M-52.7 0.6l0-0.6 0-1.1 0-1.3 0.1-2.4 0.5-4.7 0.7-4.8 1.1-4.6 1.3-4.6 1.6-4.5 1.9-4.4 2.1-4.3 2.3-4.2 2.6-4 2.8-3.9 2.9-3.7 3.2-3.6 3.3-3.4 3.5-3.3 3.6-3.2 3.8-2.9 3.8-2.8 4-2.7 4.1-2.5 4.2-2.3 4.2-2.2 4.3-2 4.4-1.8 4.5-1.7 4.5-1.6 4.6-1.4 4.6-1.2 4.7-1.1 4.6-1 4.8-0.4 4.8-0.3 4.7-0.3 4.8-0.2 4.8-0.2 4.8-0.3 4.7-0.2 4.8-0.1 4.8-0.2 4.8-0.2 4.7-0.1 4.8-0.1 4.8-0.1 4.8-0.1 4.7-0.1 4.8-0.1 4.8-0.1 4.8 0 4.8 0 4.7 0 4.8 0 4.8 0.1 4.8 0.3 4.7 0.3 4.8 0.5 4.7 0.5 4.8 0.7 4.7 0.7 4.7 0.9 4.7 0.9 4.7 1 4.6 1.2 4.6 1.2 4.6 1.3 4.6 1.4 4.5 1.5 4.5 1.6 4.5 1.6 4.5 1.8 4.4 1.8 4.4 1.9 4.3 1.9 4.4 2.1 4.3 2.1 4.2 2.1 4.3 2.2 4.2 2.3 4.1 2.4 4.1 2.4 4.1 2.6 4 2.6 4.3 1.8 4.7 0.7 4.7 0.6 4.8 0.8 4.7 0.7 4.7 0.8 4.7 0.8 4.7 0.8 4.7 0.9 4.7 0.9 4.7 1 4.7 1 4.5 1.5 4.2 2.3 3.7 2.9 3.3 3.5 2.8 3.9 2.2 4.2 1.7 4.5 1.3 4.6 0.9 4.7 0.5 4.7 0.1 2.4 0 1.3 0 1.1 0 0.6"/><use href="#s159" transform="scale(1,-1)"/>
<path id="s160" d="M-52.7 0.6l0-0.6 0-1.1 0-1.3 0.1-2.4 0.5-4.8 0.7-4.7 1.1-4.7 1.3-4.6 1.6-4.5 1.9-4.4 2.1-4.3 2.4-4.2 2.6-4 2.8-3.9 3-3.8 3.2-3.6 3.3-3.4 3.5-3.3 3.6-3.1 3.8-3 3.9-2.8 4-2.6 4.1-2.5 4.2-2.4 4.3-2.1 4.3-2 4.4-1.9 4.5-1.7 4.6-1.5 4.5-1.4 4.7-1.3 4.7-1.1 4.7-0.9 4.7-0.3 4.8-0.1 4.8-0.2 4.8-0.2 4.8-0.1 4.8-0.1 4.8-0.1 4.8-0.2 4.8-0.1 4.8 0 4.8-0.1 4.8-0.1 4.8 0 4.8-0.1 4.8 0 4.8-0.1 4.8 0 4.8 0 4.8 0 4.8 0.2 4.7 0.2 4.8 0.4 4.8 0.5 4.8 0.6 4.7 0.7 4.7 0.8 4.7 1 4.7 1 4.7 1.2 4.6 1.2 4.6 1.4 4.6 1.4 4.5 1.5 4.5 1.7 4.5 1.7 4.5 1.8 4.4 1.9 4.3 2 4.4 2 4.3 2.2 4.2 2.1 4.3 2.3 4.2 2.3 4.1 2.4 4.1 2.5 4 2.6 4 2.7 4 2.7 2.9 1.8 1.4 0.2 4.7 0.8 4.7 0.7 4.8 0.9 4.7 0.9 4.7 0.9 4.7 0.9 4.7 1 4.7 1.1 4.5 1.3 4.3 2.2 3.9 2.8 3.4 3.4 2.9 3.8 2.4 4.2 1.9 4.4 1.4 4.5 1 4.7 0.5 4.8 0.1 2.4 0 1.3 0 1.1 0 0.6"/><use href="#s160" transform="scale(1,-1)"/>
<path id="s161" d="M-52.7 0.6l0-0.6 0-1.1 0-1.3 0.1-2.4 0.5-4.7 0.7-4.7 1.1-4.7 1.3-4.6 1.6-4.5 1.8-4.4 2.2-4.3 2.3-4.1 2.6-4 2.7-3.9 3-3.8 3.1-3.5 3.4-3.5 3.4-3.3 3.6-3.1 3.8-3 3.8-2.8 4-2.6 4.1-2.5 4.1-2.3 4.3-2.2 4.3-2 4.4-1.9 4.5-1.7 4.5-1.6 4.5-1.4 4.6-1.2 4.7-1.1 4.7-1 4.7-0.4 4.8-0.2 4.8-0.1 4.7-0.2 4.8-0.1 4.8-0.2 4.7-0.1 4.8-0.1 4.8-0.1 4.8-0.1 4.7-0.1 4.8-0.1 4.8 0 4.7 0 4.8-0.1 4.8 0 4.8 0 4.7 0.1 4.8 0.3 4.8 0.4 4.7 0.5 4.7 0.7 4.7 0.7 4.7 1 4.7 1 4.6 1.1 4.6 1.3 4.6 1.4 4.5 1.5 4.5 1.6 4.5 1.7 4.4 1.8 4.4 1.9 4.3 1.9 4.3 2.1 4.3 2.2 4.2 2.2 4.2 2.4 4.1 2.3 4.1 2.5 4 2.5 4 2.7 3.9 2.7 3.9 2.9 3.8 2.8 3.9 2.7 4.6 1.1 4.7 0.9 4.7 1 4.7 0.9 4.6 1.1 4.7 1 1.7 0.3 0.1 0.2 2.7 0.9 4.2 2.1 4 2.7 3.5 3.2 3 3.7 2.5 4.1 2 4.3 1.5 4.5 1 4.7 0.6 4.7 0.1 2.4 0.1 1.3 0 1.1 0 0.6"/><use href="#s161" transform="scale(1,-1)"/>
<path id="s162" d="M-52.7 0.6l0-0.6 0-1.1 0-1.3 0.1-2.3 0.5-4.8 0.7-4.7 1-4.6 1.4-4.6 1.5-4.4 1.9-4.4 2.1-4.3 2.3-4.1 2.5-4 2.8-3.9 2.9-3.7 3.1-3.6 3.3-3.4 3.4-3.3 3.6-3.1 3.7-3 3.9-2.8 3.9-2.6 4-2.5 4.2-2.4 4.2-2.2 4.3-2 4.3-1.9 4.5-1.7 4.4-1.5 4.6-1.5 4.6-1.2 4.6-1.2 4.6-0.9 4.7-0.5 4.8-0.3 4.7-0.2 4.8-0.1 4.7-0.2 4.7-0.2 4.8-0.1 4.7-0.1 4.8-0.1 4.7-0.1 4.8-0.1 4.7 0 4.8-0.1 4.7 0 4.8 0 4.7 0.1 4.8 0.3 4.7 0.4 4.7 0.6 4.7 0.7 4.7 0.9 4.6 1 4.6 1.1 4.6 1.3 4.5 1.4 4.5 1.6 4.4 1.6 4.4 1.8 4.4 1.9 4.3 2 4.2 2.1 4.2 2.3 4.2 2.3 4.1 2.3 4.1 2.5 4 2.5 3.9 2.6 3.9 2.8 3.9 2.8 3.7 2.9 3.7 3 3.8 2.9 3.8 2.8 2.4 1.8 1.7 0.4 4.6 1 4.6 1.1 4.6 1.1 2.1 0.4 0.1 0.1 2.3 0.8 4.3 2 4 2.5 3.6 3.1 3.1 3.6 2.7 4 2.1 4.2 1.6 4.4 1.2 4.7 0.6 4.7 0.2 2.3 0 1.3 0 1.1 0 0.6"/><use href="#s162" transform="scale(1,-1)"/>
<path id="s163" d="M-52.7 0.6l0-0.6 0-1.1 0-1.3 0.1-2.4 0.5-4.7 0.7-4.8 1.1-4.6 1.3-4.6 1.6-4.5 1.9-4.4 2.1-4.3 2.3-4.2 2.6-4 2.8-3.9 2.9-3.7 3.2-3.6 3.3-3.4 3.5-3.3 3.6-3.2 3.8-2.9 3.8-2.8 4-2.7 4.1-2.5 4.2-2.3 4.2-2.2 4.3-2 4.4-1.8 4.5-1.7 4.5-1.6 4.6-1.4 4.6-1.2 4.7-1.1 4.6-1 4.8-0.4 4.8-0.3 4.7-0.2 4.8-0.2 4.8-0.2 4.8-0.1 4.7-0.2 4.8-0.1 4.8-0.1 4.8 0 4.8-0.1 4.7 0 4.8 0.1 4.8 0.2 4.8 0.4 4.7 0.6 4.7 0.8 4.7 1 4.6 1.1 4.6 1.3 4.6 1.5 4.5 1.6 4.4 1.8 4.4 1.9 4.3 2.1 4.3 2.1 4.1 2.3 4.2 2.4 4 2.6 4 2.6 4 2.6 3.9 2.8 3.8 2.8 3.8 3 3.6 3.1 3.6 3.2 3.6 3.1 3.7 3.1 3.7 3 3 2.3 1 0.2 4.6 1.2 3.2 0.8 0.5 0 0.2 0.2 0.7 0.2 4.4 1.8 4.1 2.4 3.8 3 3.3 3.4 2.8 3.8 2.4 4.2 1.8 4.4 1.3 4.6 0.7 4.7 0.2 2.4 0 1.3 0.1 1.1 0 0.6"/><use href="#s163" transform="scale(1,-1)"/>
<path id="s164" d="M-52.7 0.6l0-0.6 0-1.1 0-1.3 0.1-2.4 0.5-4.7 0.7-4.7 1.1-4.6 1.3-4.6 1.6-4.5 1.8-4.4 2.1-4.2 2.3-4.2 2.6-4 2.7-3.9 3-3.7 3.1-3.6 3.3-3.4 3.4-3.3 3.6-3.1 3.7-3 3.9-2.8 3.9-2.6 4.1-2.5 4.1-2.4 4.2-2.1 4.3-2.1 4.4-1.8 4.5-1.7 4.4-1.6 4.6-1.4 4.6-1.3 4.6-1.1 4.7-1 4.7-0.5 4.7-0.3 4.8-0.3 4.7-0.2 4.8-0.2 4.7-0.2 4.8-0.1 4.7-0.1 4.8-0.1 4.7 0 4.8 0 4.7 0.3 4.8 0.4 4.7 0.7 4.6 1 4.7 1.1 4.5 1.3 4.5 1.6 4.5 1.7 4.3 1.9 4.3 2 4.2 2.2 4.2 2.3 4.1 2.5 3.9 2.6 4 2.7 3.8 2.8 3.8 2.9 3.7 2.9 3.6 3.1 3.5 3.2 3.5 3.3 3.4 3.3 3.5 3.3 3.5 3.2 3.5 3.1 3.6 3.2 1.4 1.4 2.5 1.1 4.2 2.2 3.9 2.8 3.5 3.2 3.1 3.6 2.5 4 2.1 4.3 1.5 4.5 0.9 4.7 0.2 2.3 0.1 1.3 0 1.1 0 0.6"/><use href="#s164" transform="scale(1,-1)"/>
<path id="s165" d="M-52.7 0.6l0-0.6 0-1.1 0-1.3 0.1-2.3 0.5-4.7 0.7-4.7 1-4.6 1.3-4.6 1.6-4.4 1.8-4.4 2.1-4.3 2.3-4.1 2.5-4 2.8-3.9 2.9-3.7 3.1-3.6 3.3-3.4 3.4-3.3 3.5-3.1 3.7-2.9 3.8-2.8 4-2.7 4-2.5 4.1-2.3 4.2-2.2 4.3-2 4.3-1.9 4.4-1.7 4.5-1.6 4.5-1.4 4.6-1.3 4.6-1.2 4.6-0.9 1.8-0.4 0.8 0.3 2 0 4.8 0 4.7 0 4.7 0 4.8 0 4.7 0 4.7 0 4.8 0 4.7 0 4.7 0.3 4.7 0.6 4.7 0.9 4.6 1.1 4.5 1.3 4.5 1.6 4.3 1.8 4.3 2.1 4.2 2.2 4.1 2.3 4 2.5 3.9 2.7 3.8 2.8 3.8 2.9 3.6 3 3.6 3.1 3.5 3.2 3.4 3.3 3.3 3.4 3.2 3.5 3.3 3.3 3.4 3.4 3.4 3.2 3.3 3.5 2.6 2.9 0.7 0.4 3.9 2.7 3.4 3.3 3.1 3.6 2.5 4 2 4.2 1.5 4.5 0.9 4.7 0.2 2.3 0.1 1.3 0 1.1 0 0.6"/><use href="#s165" transform="scale(1,-1)"/>
<path id="s166" d="M-54.4 0.6l0-0.6 0-1.1 0-1.3 0-2.4 0.2-4.7 0.4-4.8 0.6-4.7 0.8-4.7 1.2-4.6 1.3-4.6 1.7-4.4 2-4.4 2.2-4.1 2.6-4.1 2.8-3.8 3-3.7 3.3-3.4 3.5-3.3 3.7-3 3.8-2.8 4-2.6 4.1-2.4 4.3-2.2 4.3-1.9 4.4-1.8 4.5-1.7 4.5-1.4 4.6-1.3 4.7-1.1 4.6-1 4.7-0.8 4.7-0.7 4.7-0.5 4.8-0.5 4.7-0.3 4.8-0.3 4.8-0.1 4.7-0.1 4.8-0.1 4.7 0.1 4.8 0.5 4.7 0.7 4.6 1.1 4.6 1.5 4.4 1.6 4.4 2 4.2 2.2 4.1 2.4 4 2.5 3.9 2.8 3.8 2.9 3.7 3 3.5 3.2 3.5 3.2 3.4 3.4 3.3 3.4 3.2 3.5 3.1 3.6 3.1 3.6 3 3.8 2.9 3.7 2.9 3.8 0.8 1.1 2.7 2 3.5 3.2 3.1 3.7 2.6 4 2.1 4.3 1.4 4.5 0.9 4.7 0.3 2.3 0 1.3 0.1 1.1 0 0.6"/><use href="#s166" transform="scale(1,-1)"/>
<path id="s167" d="M-54.2 0.6l0-0.6 0-1.1 0-1.3 0.1-2.3 0.2-4.7 0.5-4.7 0.7-4.7 1-4.6 1.2-4.6 1.5-4.5 1.8-4.4 2-4.2 2.3-4.1 2.6-4 2.8-3.8 3.1-3.6 3.2-3.4 3.5-3.2 3.6-3 3.8-2.8 4-2.6 4-2.4 4.2-2.2 4.3-2 4.4-1.7 4.5-1.6 4.5-1.4 4.6-1.2 4.6-1 4.6-0.9 4.7-0.7 4.7-0.5 4.7-0.4 4.7-0.3 4.7-0.2 4.7 0 4.8 0.1 4.7 0.5 4.6 0.8 4.6 1.1 4.5 1.5 4.4 1.7 4.3 2 4.1 2.3 4.1 2.4 3.9 2.7 3.7 2.8 3.7 3 3.5 3.2 3.4 3.3 3.2 3.5 3.1 3.5 3 3.7 2.9 3.7 2.7 3.9 2.6 3.9 2.5 4 2.4 4.1 2.2 4.2 2.3 4.1 2.5 4 2 4.3 1.5 4.5 0.9 4.6 0.2 2.3 0.1 1.3 0 1.1 0 0.6"/><use href="#s167" transform="scale(1,-1)"/>
<path id="s168" d="M-54 0.6l0-0.6 0-1.1 0.1-1.3 0-2.4 0.3-4.7 0.5-4.8 0.8-4.7 1.1-4.6 1.3-4.6 1.5-4.5 1.9-4.4 2.1-4.3 2.3-4.1 2.7-4 2.8-3.9 3.1-3.6 3.3-3.4 3.5-3.2 3.7-3 3.9-2.8 4.1-2.6 4.1-2.3 4.3-2 4.4-1.9 4.5-1.6 4.6-1.3 4.6-1.1 4.7-0.9 4.7-0.7 4.8-0.5 4.7-0.2 4.8-0.1 4.8 0.1 4.7 0.5 4.7 0.8 4.7 1.2 4.5 1.4 4.4 1.8 4.3 2.1 4.2 2.3 4 2.6 3.9 2.8 3.7 3 3.5 3.2 3.4 3.3 3.2 3.6 3 3.7 2.9 3.8 2.7 3.9 2.5 4.1 2.3 4.2 2.1 4.2 1.9 4.4 1.8 4.4 1.5 4.5 0.8 4.7 0.1 0.4 1.3 4.2 0.9 4.6 0.2 2.4 0.1 1.3 0 1.1 0 0.6"/><use href="#s168" transform="scale(1,-1)"/>
<path id="s169" d="M-53.8 0.6l0-0.6 0-1.1 0.1-1.3 0-2.4 0.3-4.8 0.6-4.8 0.7-4.7 1-4.7 1.3-4.6 1.5-4.6 1.8-4.4 2-4.4 2.3-4.2 2.6-4 2.8-3.9 3.1-3.7 3.3-3.5 3.5-3.2 3.8-3 4-2.6 4.1-2.4 4.4-2.1 4.5-1.7 4.5-1.4 4.7-1 4.8-0.8 4.8-0.3 4.8-0.1 4.7 0.2 4.8 0.6 4.7 0.9 4.7 1.2 4.5 1.5 4.4 1.8 4.3 2.2 4.2 2.4 4 2.7 3.8 2.9 3.6 3.1 3.4 3.4 3.2 3.6 2.9 3.8 2.7 4 2.5 4.1 2.2 4.2 2 4.4 1.8 4.5 1.4 4.5 1.2 4.7 1 4.7 0.6 4.7 0.4 4.8 0.1 2.4 0.1 1.3 0 1.1 0 0.6"/><use href="#s169" transform="scale(1,-1)"/>
<path id="s170" d="M-53.5 0.6l0-0.6 0-1.1 0-1.3 0.1-2.4 0.3-4.7 0.6-4.8 0.9-4.7 1.2-4.6 1.4-4.6 1.7-4.5 1.9-4.3 2.3-4.2 2.5-4.1 2.8-3.9 3.1-3.6 3.3-3.4 3.6-3.2 3.9-2.8 4-2.5 4.3-2.1 4.5-1.8 4.6-1.3 4.6-1 4.8-0.5 4.8 0 4.7 0.3 4.7 0.9 4.6 1.3 4.5 1.8 4.2 2.2 4.1 2.5 3.8 2.9 3.5 3.2 3.3 3.4 3.1 3.7 2.7 3.9 2.5 4.1 2.3 4.2 1.9 4.4 1.7 4.4 1.5 4.6 1.1 4.6 0.9 4.7 0.7 4.8 0.4 4.7 0.1 2.4 0 1.3 0 1.1 0 0.6"/><use href="#s170" transform="scale(1,-1)"/>
<path id="s171" d="M-53.3 0.6l0-0.6 0-1.1 0-1.3 0.2-2.4 0.6-4.7 1.1-4.7 1.5-4.5 1.9-4.4 2.2-4.3 2.7-3.9 2.9-3.8 3.3-3.4 3.6-3.2 3.9-2.8 4.1-2.5 4.3-2 4.5-1.7 4.6-1.3 4.7-0.8 4.8-0.5 4.8 0 4.8 0.5 4.7 0.8 4.6 1.3 4.5 1.7 4.3 2 4.1 2.5 3.9 2.8 3.6 3.2 3.3 3.4 2.9 3.8 2.7 3.9 2.2 4.3 1.9 4.4 1.5 4.5 1.1 4.7 0.6 4.7 0.2 2.4 0 1.3 0 1.1 0 0.6"/><use href="#s171" transform="scale(1,-1)"/>
</g>
</g>
<g transform="translate(175.9,1727.4)">
<path id="s172" d="M-52.7 0.6l0-0.6 0-1.1 0-1.3 0.2-4 0.8-6.3 1.3-6.3 1.7-6.1 2.3-6 2.7-5.8 3.1-5.5 3.5-5.3 4-5.1 4.2-4.7 4.6-4.5 4.8-4.2 5.1-3.8 5.4-3.4 5.5-3.2 5.8-2.8 5.9-2.4 6-2.1 5.5-1.6 0.5-0.4 5.2-3.8 5.1-3.7 5.3-3.7 5.3-3.5 5.4-3.4 5.5-3.3 5.5-3.2 5.6-3.1 5.6-2.9 5.8-2.9 5.8-2.6 5.9-2.5 5.9-2.4 6-2.2 6.1-2 6.1-1.8 6.2-1.6 6.2-1.4 6.2-1.2 6.3-1 6.4-0.8 6.3-0.6 6.4-0.5 6.4-0.3 6.4-0.1 6.3 0 6.4 0 6.4 0.2 6.4 0.3 6.4 0.4 6.3 0.7 6.3 0.8 6.3 1.1 6.3 1.2 6.2 1.4 6.2 1.6 6.2 1.7 6.1 1.9 6 1.9 6.1 2.1 6 2.3 5.9 2.3 5.9 2.4 5.9 2.5 5.8 2.6 5.8 2.7 5.7 2.8 5.7 2.9 5.7 3 5.5 3.1 5.6 3.2 5.4 3.3 5.5 3.3 5.4 3.4 5.4 3.4 5.4 3.4 5.3 3.5 5.4 3.5 5.3 3.5 5.3 3.5 5.4 3.6 5.4 3.3 5.6 3 5.9 2.6 1.6 0.6 1.8 4.2 2.4 5.9 2.5 5.9 2.4 5.9 2.5 5.9 2.4 5.9 2.5 5.9 2.4 5.9 1.5 3.7 0.6 1.2 0.4 1 0 0.6" fill="#fe0000" stroke="#fe0000" stroke-width="2.9" stroke-linejoin="round"/><use href="#s172" transform="scale(1,-1)"/>
<g fill="#fff" stroke="#fe0000" stroke-width="2.9" stroke-linejoin="round" stroke-linecap="square">
<path id="s173" d="M-52.7 0.6l0-0.6 0-1.1 0-1.3 0.1-2.4 0.5-4.8 0.7-4.7 1-4.7 1.3-4.6 1.5-4.5 1.8-4.5 2.1-4.3 2.3-4.2 2.6-4.1 2.7-3.9 3-3.7 3.2-3.6 3.3-3.5 3.5-3.2 3.7-3.1 3.8-2.9 4-2.7 4-2.5 4.2-2.3 4.3-2.2 4.4-1.9 4.5-1.7 4.5-1.6 4.6-1.3 0.8-0.2 3.5-1.9 4.2-2.3 4.3-2.3 4.2-2.1 4.3-2.1 4.4-2.1 4.3-2 4.4-1.9 4.4-1.9 4.5-1.8 4.4-1.7 4.5-1.7 4.6-1.6 4.5-1.5 4.6-1.4 4.6-1.4 4.6-1.3 4.6-1.2 4.7-1.2 4.6-1 4.7-1 4.7-0.9 4.8-0.8 4.7-0.7 4.8-0.7 4.7-0.5 4.8-0.5 4.8-0.4 4.8-0.3 4.7-0.2 4.8-0.1 4.8 0 4.8 0 4.8 0.1 4.8 0.2 4.8 0.2 4.8 0.3 4.8 0.4 4.7 0.5 4.8 0.6 4.7 0.7 4.7 0.8 4.7 0.9 4.7 1 4.7 1.1 4.7 1.2 4.6 1.2 4.6 1.3 4.6 1.4 4.6 1.4 4.5 1.5 4.6 1.5 4.5 1.6 4.5 1.7 4.5 1.7 4.4 1.7 4.5 1.8 4.4 1.9 4.4 1.9 4.3 2 4.4 2 4.3 2.2 4.3 2.1 4.2 2.2 4.2 2.3 4.3 2.3 4.2 2.3 4.2 2.3 4.1 2.3 4.2 2.4 4.2 2.3 4.2 2.4 4.1 2.4 4.1 2.4 4.2 2.4 4.1 2.4 4.3 2.2 4.3 2.1 4.5 1.7 4.2 2.1 3.6 3.2 3.6 3.2 3.6 3.1 3.6 3.2 3.7 3.1 3.6 3.2 3.6 3.2 3.6 3.1 3.6 3.2 3.6 3.1 3.6 3.2 3.6 3.2 3.6 3.1 3.6 3.2 3.6 3.1 1.8 1.6 1 0.9 0.8 0.7 0 0.6"/><use href="#s173" transform="scale(1,-1)"/>
<path id="s174" d="M-52.7 0.6l0-0.6 0-1.1 0-1.3 0.1-2.4 0.4-4.8 0.8-4.7 1-4.7 1.3-4.6 1.5-4.5 1.8-4.5 2.1-4.3 2.3-4.2 2.5-4 2.8-3.9 3-3.8 3.1-3.6 3.4-3.4 3.5-3.3 3.7-3.1 3.8-2.9 3.9-2.7 4.1-2.5 4.2-2.3 4.3-2.1 4.4-2 4.4-1.7 4.6-1.5 4.6-1.4 4.2-2.1 4.3-2.3 4.2-2.2 4.3-2.1 4.3-2.1 4.3-2.1 4.4-1.9 4.4-2 4.4-1.8 4.4-1.8 4.5-1.7 4.5-1.7 4.5-1.6 4.6-1.5 4.5-1.4 4.6-1.4 4.7-1.3 4.6-1.2 4.6-1.1 4.7-1.1 4.7-0.9 4.7-0.9 4.7-0.8 4.8-0.7 4.7-0.7 4.8-0.5 4.7-0.5 4.8-0.4 4.8-0.2 4.8-0.2 4.8-0.1 4.8-0.1 4.8 0.1 4.7 0.1 4.8 0.1 4.8 0.2 4.8 0.3 4.8 0.4 4.7 0.5 4.8 0.6 4.7 0.7 4.7 0.8 4.8 0.9 4.6 1 4.7 1.1 4.7 1.2 4.6 1.2 4.6 1.3 4.6 1.4 4.6 1.4 4.5 1.5 4.6 1.5 4.5 1.6 4.5 1.6 4.4 1.8 4.5 1.7 4.4 1.8 4.5 1.9 4.4 1.9 4.3 2 4.4 2 4.3 2.1 4.2 2.1 4.3 2.2 4.2 2.3 4.2 2.3 4.2 2.3 4.2 2.3 4.2 2.3 4.2 2.3 4.2 2.4 4.1 2.4 4.2 2.3 4.1 2.5 4.2 2.4 4.1 2.3 4.3 2.3 4.3 2 4.5 1.7 4.2 2.2 3.6 3.1 3.6 3.2 3.6 3.1 3.6 3.2 3.6 3.1 3.6 3.2 3.7 3.1 3.6 3.2 3.6 3.1 3.6 3.2 3.6 3.1 3.6 3.2 3.6 3.1 3.6 3.2 3.6 3.1 1.8 1.6 1 0.9 0.8 0.7 0 0.6"/><use href="#s174" transform="scale(1,-1)"/>
<path id="s175" d="M-52.7 0.6l0-0.6 0-1.1 0-1.3 0.1-2.4 0.4-4.8 0.8-4.7 1-4.7 1.3-4.6 1.5-4.5 1.8-4.4 2.1-4.4 2.3-4.1 2.5-4.1 2.8-3.9 2.9-3.8 3.2-3.6 3.3-3.4 3.5-3.3 3.7-3 3.8-2.9 4-2.7 4-2.6 4.2-2.3 4.3-2.1 4.4-1.9 4.5-1.8 4.5-1.5 4.6-1.4 4.3-2 4.2-2.3 4.2-2.2 4.3-2.1 4.3-2.1 4.4-2 4.3-2 4.4-1.9 4.5-1.9 4.4-1.7 4.5-1.7 4.5-1.7 4.5-1.6 4.5-1.5 4.6-1.4 4.6-1.3 4.6-1.3 4.6-1.2 4.7-1.1 4.7-1.1 4.7-0.9 4.7-0.9 4.7-0.8 4.7-0.7 4.8-0.7 4.7-0.5 4.8-0.5 4.8-0.3 4.7-0.3 4.8-0.2 4.8-0.1 4.8 0 4.8 0 4.8 0.1 4.8 0.1 4.7 0.2 4.8 0.4 4.8 0.3 4.7 0.6 4.8 0.6 4.7 0.7 4.7 0.8 4.7 0.9 4.7 1 4.7 1 4.6 1.2 4.7 1.2 4.6 1.3 4.6 1.4 4.5 1.4 4.6 1.5 4.5 1.5 4.5 1.6 4.5 1.6 4.5 1.7 4.5 1.8 4.4 1.8 4.4 1.8 4.4 1.9 4.4 2 4.3 2 4.3 2.1 4.3 2.2 4.3 2.2 4.2 2.2 4.2 2.3 4.2 2.3 4.2 2.3 4.2 2.3 4.2 2.3 4.1 2.4 4.2 2.3 4.2 2.4 4.1 2.4 4.1 2.4 4.2 2.4 4.3 2.2 4.3 2 4.5 1.7 4.1 2.2 3.6 3.2 3.7 3.1 3.6 3.2 3.6 3.1 3.6 3.1 3.6 3.2 3.6 3.1 3.6 3.2 3.6 3.1 3.7 3.1 3.6 3.2 3.6 3.1 3.6 3.2 3.6 3.1 3.6 3.2 1.8 1.5 1 0.9 0.8 0.7 0 0.6"/><use href="#s175" transform="scale(1,-1)"/>
<path id="s176" d="M-52.7 0.6l0-0.6 0-1.1 0-1.3 0.1-2.4 0.4-4.7 0.8-4.8 1-4.6 1.3-4.7 1.5-4.5 1.8-4.4 2.1-4.3 2.3-4.2 2.5-4.1 2.8-3.9 2.9-3.7 3.2-3.6 3.3-3.5 3.5-3.2 3.7-3.1 3.8-2.9 3.9-2.7 4.1-2.5 4.2-2.4 4.3-2.1 4.3-1.9 4.5-1.8 4.5-1.5 4.6-1.3 4.3-2.1 4.2-2.2 4.3-2.2 4.3-2.1 4.3-2.1 4.3-2 4.4-2 4.4-1.9 4.4-1.8 4.4-1.8 4.5-1.7 4.5-1.6 4.5-1.5 4.6-1.5 4.6-1.4 4.6-1.4 4.6-1.3 4.6-1.1 4.6-1.2 4.7-1 4.7-0.9 4.7-0.9 4.7-0.8 4.8-0.7 4.7-0.6 4.8-0.6 4.7-0.4 4.8-0.4 4.8-0.3 4.7-0.2 4.8-0.1 4.8 0 4.8 0.1 4.8 0 4.8 0.2 4.7 0.2 4.8 0.3 4.8 0.4 4.7 0.5 4.8 0.6 4.7 0.7 4.7 0.8 4.7 0.9 4.7 1 4.7 1.1 4.6 1.1 4.6 1.2 4.6 1.3 4.6 1.4 4.6 1.4 4.6 1.5 4.5 1.5 4.5 1.6 4.5 1.6 4.5 1.7 4.4 1.8 4.5 1.8 4.4 1.8 4.4 1.9 4.3 2 4.4 2 4.3 2.1 4.2 2.1 4.3 2.2 4.2 2.2 4.2 2.3 4.2 2.3 4.2 2.3 4.2 2.3 4.2 2.3 4.2 2.3 4.2 2.4 4.1 2.4 4.1 2.4 4.2 2.4 4.2 2.3 4.2 2.2 4.4 2 4.5 1.6 4.1 2.4 3.6 3.1 3.6 3.1 3.6 3.2 3.6 3.1 3.6 3.1 3.6 3.2 3.7 3.1 3.6 3.1 3.6 3.2 3.6 3.1 3.6 3.1 3.6 3.2 3.7 3.1 3.6 3.1 3.6 3.2 1.8 1.5 1 0.9 0.8 0.7 0 0.6"/><use href="#s176" transform="scale(1,-1)"/>
<path id="s177" d="M-52.7 0.6l0-0.6 0-1.1 0-1.3 0.1-2.4 0.4-4.7 0.8-4.8 1-4.6 1.2-4.6 1.6-4.6 1.8-4.4 2.1-4.3 2.3-4.2 2.5-4 2.7-4 3-3.7 3.1-3.6 3.4-3.4 3.5-3.3 3.6-3.1 3.8-2.9 4-2.7 4-2.5 4.2-2.3 4.3-2.2 4.4-1.9 4.4-1.7 4.5-1.6 4.6-1.3 4.3-2 4.2-2.3 4.3-2.1 4.3-2.1 4.3-2.1 4.4-2 4.3-1.9 4.4-1.9 4.4-1.8 4.5-1.8 4.5-1.7 4.5-1.6 4.5-1.5 4.5-1.5 4.6-1.4 4.6-1.3 4.6-1.3 4.6-1.2 4.7-1.1 4.7-1 4.6-0.9 4.7-0.9 4.8-0.8 4.7-0.7 4.7-0.6 4.8-0.5 4.7-0.5 4.8-0.3 4.8-0.3 4.8-0.2 4.7-0.1 4.8 0 4.8 0 4.8 0.1 4.7 0.1 4.8 0.3 4.8 0.3 4.8 0.4 4.7 0.5 4.8 0.6 4.7 0.7 4.7 0.8 4.7 0.9 4.7 1 4.6 1 4.7 1.2 4.6 1.2 4.6 1.3 4.6 1.3 4.5 1.4 4.6 1.5 4.5 1.5 4.5 1.6 4.5 1.6 4.5 1.7 4.5 1.7 4.4 1.8 4.4 1.9 4.4 1.9 4.3 1.9 4.4 2 4.3 2.1 4.3 2.2 4.2 2.1 4.2 2.3 4.3 2.2 4.2 2.3 4.2 2.3 4.2 2.3 4.1 2.3 4.2 2.3 4.2 2.4 4.1 2.3 4.2 2.4 4.1 2.4 4.2 2.3 4.3 2.2 4.3 2 4.5 1.6 4.1 2.4 3.6 3.1 3.6 3.2 3.6 3.1 3.6 3.1 3.6 3.1 3.7 3.2 3.6 3.1 3.6 3.1 3.6 3.1 3.6 3.2 3.7 3.1 3.6 3.1 3.6 3.1 3.6 3.2 3.6 3.1 1.8 1.5 1 0.9 0.8 0.7 0 0.6"/><use href="#s177" transform="scale(1,-1)"/>
<path id="s178" d="M-52.7 0.6l0-0.6 0-1.1 0-1.3 0.1-2.4 0.4-4.7 0.8-4.7 1-4.7 1.2-4.6 1.6-4.5 1.8-4.5 2-4.3 2.3-4.2 2.6-4 2.7-3.9 3-3.8 3.1-3.6 3.3-3.4 3.5-3.3 3.7-3 3.8-2.9 3.9-2.7 4.1-2.6 4.1-2.3 4.3-2.1 4.4-2 4.4-1.7 4.5-1.5 4.6-1.4 4.3-2 4.3-2.2 4.2-2.1 4.3-2.1 4.3-2.1 4.4-2 4.4-1.9 4.4-1.9 4.4-1.8 4.4-1.7 4.5-1.7 4.5-1.6 4.5-1.5 4.6-1.5 4.5-1.4 4.6-1.3 4.6-1.2 4.7-1.2 4.6-1.1 4.7-1 4.7-0.9 4.7-0.9 4.7-0.8 4.7-0.7 4.7-0.6 4.8-0.5 4.7-0.4 4.8-0.4 4.8-0.3 4.7-0.2 4.8-0.1 4.8 0 4.8 0.1 4.7 0.1 4.8 0.1 4.8 0.2 4.8 0.3 4.7 0.4 4.8 0.5 4.7 0.6 4.7 0.7 4.7 0.8 4.7 0.9 4.7 1 4.7 1.1 4.6 1.1 4.6 1.2 4.6 1.3 4.6 1.3 4.6 1.5 4.5 1.4 4.5 1.5 4.6 1.6 4.4 1.6 4.5 1.7 4.5 1.7 4.4 1.8 4.4 1.9 4.4 1.9 4.4 1.9 4.3 2 4.3 2.1 4.3 2.1 4.2 2.2 4.2 2.2 4.3 2.2 4.2 2.3 4.2 2.3 4.2 2.3 4.1 2.3 4.2 2.3 4.2 2.4 4.1 2.3 4.2 2.4 4.1 2.4 4.2 2.3 4.3 2.1 4.3 2 4.5 1.6 4 2.5 3.6 3.1 3.7 3.1 3.6 3.1 3.6 3.1 3.6 3.1 3.7 3.2 3.6 3.1 3.6 3.1 3.6 3.1 3.6 3.1 3.7 3.1 3.6 3.1 3.6 3.2 3.6 3.1 3.6 3.1 1.8 1.5 1.1 0.9 0.8 0.7 0 0.6"/><use href="#s178" transform="scale(1,-1)"/>
<path id="s179" d="M-52.7 0.6l0-0.6 0-1.1 0-1.3 0.1-2.4 0.4-4.7 0.8-4.7 1-4.7 1.2-4.6 1.6-4.5 1.8-4.4 2-4.3 2.3-4.2 2.5-4.1 2.8-3.9 2.9-3.7 3.2-3.6 3.3-3.5 3.5-3.2 3.6-3.1 3.8-2.9 3.9-2.7 4.1-2.5 4.2-2.3 4.2-2.2 4.4-1.9 4.4-1.8 4.5-1.5 4.6-1.4 4.3-1.9 4.3-2.2 4.2-2.2 4.3-2 4.4-2.1 4.3-1.9 4.4-1.9 4.4-1.9 4.4-1.8 4.5-1.7 4.4-1.7 4.5-1.5 4.5-1.6 4.6-1.4 4.6-1.4 4.5-1.3 4.7-1.2 4.6-1.2 4.6-1.1 4.7-1 4.7-0.9 4.7-0.9 4.7-0.7 4.7-0.7 4.7-0.6 4.8-0.5 4.7-0.5 4.8-0.3 4.8-0.3 4.7-0.2 4.8-0.1 4.8 0 4.7 0 4.8 0.1 4.8 0.2 4.7 0.2 4.8 0.3 4.8 0.4 4.7 0.5 4.7 0.6 4.8 0.7 4.7 0.8 4.7 0.9 4.6 1 4.7 1 4.6 1.2 4.6 1.2 4.6 1.2 4.6 1.4 4.6 1.4 4.5 1.4 4.5 1.6 4.5 1.5 4.5 1.7 4.5 1.6 4.5 1.7 4.4 1.8 4.4 1.9 4.4 1.8 4.3 2 4.4 2 4.3 2 4.2 2.2 4.3 2.1 4.2 2.2 4.2 2.3 4.2 2.2 4.2 2.3 4.2 2.3 4.2 2.3 4.2 2.3 4.1 2.3 4.2 2.4 4.1 2.4 4.2 2.3 4.2 2.3 4.2 2.1 4.4 2 4.5 1.6 4 2.5 3.6 3.1 3.6 3.1 3.6 3.1 3.7 3.2 3.6 3.1 3.6 3.1 3.6 3.1 3.7 3.1 3.6 3.1 3.6 3.1 3.6 3.1 3.7 3.1 3.6 3.1 3.6 3.1 3.6 3.1 1.8 1.5 1 0.9 0.9 0.7 0 0.6"/><use href="#s179" transform="scale(1,-1)"/>
<path id="s180" d="M-52.7 0.6l0-0.6 0-1.1 0-1.3 0.1-2.4 0.4-4.7 0.8-4.7 1-4.7 1.2-4.6 1.6-4.5 1.8-4.4 2-4.3 2.3-4.2 2.5-4 2.8-3.9 2.9-3.8 3.1-3.6 3.3-3.4 3.5-3.3 3.7-3 3.8-2.9 3.9-2.7 4-2.6 4.2-2.3 4.2-2.1 4.4-2 4.4-1.7 4.5-1.6 4.6-1.3 4.3-2 4.3-2.1 4.2-2.2 4.3-2 4.4-2 4.3-2 4.4-1.9 4.4-1.8 4.4-1.8 4.5-1.7 4.4-1.6 4.5-1.6 4.6-1.5 4.5-1.5 4.6-1.3 4.6-1.3 4.6-1.3 4.6-1.1 4.6-1.1 4.7-1 4.7-0.9 4.7-0.8 4.7-0.8 4.7-0.7 4.7-0.6 4.8-0.5 4.7-0.4 4.8-0.4 4.7-0.2 4.8-0.2 4.8-0.1 4.7 0 4.8 0 4.8 0.1 4.7 0.2 4.8 0.2 4.7 0.3 4.8 0.4 4.7 0.5 4.8 0.6 4.7 0.7 4.7 0.8 4.7 0.9 4.6 0.9 4.7 1.1 4.6 1.1 4.6 1.2 4.6 1.3 4.6 1.3 4.5 1.4 4.6 1.5 4.5 1.5 4.5 1.6 4.5 1.6 4.5 1.6 4.4 1.8 4.4 1.7 4.4 1.8 4.4 1.9 4.4 2 4.3 2 4.3 2 4.3 2.1 4.2 2.2 4.3 2.2 4.2 2.2 4.2 2.3 4.2 2.2 4.2 2.3 4.1 2.3 4.2 2.3 4.2 2.3 4.1 2.4 4.2 2.3 4.1 2.4 4.2 2.3 4.3 2.1 4.4 1.9 4.5 1.5 3.9 2.7 3.6 3.1 3.6 3.1 3.6 3.1 3.7 3.1 3.6 3.1 3.6 3.1 3.7 3.1 3.6 3.1 3.6 3 3.6 3.1 3.7 3.1 3.6 3.1 3.6 3.1 3.6 3.1 3.7 3.1 1.8 1.5 1 0.9 0.8 0.7 0 0.6"/><use href="#s180" transform="scale(1,-1)"/>
<path id="s181" d="M-52.7 0.6l0-0.6 0-1.1 0-1.3 0.1-2.4 0.4-4.7 0.8-4.7 1-4.7 1.2-4.6 1.6-4.5 1.8-4.4 2-4.3 2.3-4.2 2.5-4 2.7-3.9 3-3.7 3.1-3.6 3.3-3.5 3.5-3.2 3.6-3.1 3.8-2.9 3.9-2.7 4-2.5 4.2-2.4 4.2-2.1 4.4-1.9 4.4-1.8 4.5-1.5 4.6-1.4 4.3-1.9 4.3-2.1 4.2-2.2 4.3-2 4.4-2 4.3-1.9 4.4-1.9 4.4-1.8 4.4-1.8 4.5-1.7 4.4-1.6 4.5-1.6 4.6-1.5 4.5-1.4 4.6-1.4 4.6-1.3 4.6-1.2 4.6-1.1 4.6-1.1 4.7-1 4.7-0.9 4.6-0.8 4.7-0.7 4.8-0.7 4.7-0.6 4.7-0.5 4.8-0.4 4.7-0.4 4.8-0.3 4.7-0.1 4.8-0.1 4.8 0 4.7 0 4.8 0.1 4.7 0.1 4.8 0.3 4.7 0.3 4.8 0.4 4.7 0.5 4.8 0.6 4.7 0.7 4.7 0.8 4.6 0.8 4.7 1 4.6 1.1 4.7 1.1 4.6 1.2 4.6 1.3 4.5 1.3 4.6 1.4 4.5 1.4 4.6 1.5 4.5 1.6 4.4 1.6 4.5 1.7 4.4 1.7 4.5 1.7 4.4 1.9 4.3 1.8 4.4 2 4.3 1.9 4.3 2.1 4.3 2.1 4.2 2.2 4.3 2.1 4.2 2.3 4.2 2.2 4.2 2.3 4.2 2.2 4.2 2.3 4.1 2.3 4.2 2.3 4.1 2.4 4.2 2.3 4.1 2.3 4.2 2.3 4.3 2.1 4.4 1.9 4.5 1.5 3.8 2.8 3.7 3.1 3.6 3 3.6 3.1 3.6 3.1 3.7 3.1 3.6 3.1 3.6 3.1 3.7 3 3.6 3.1 3.6 3.1 3.7 3.1 3.6 3.1 3.6 3.1 3.6 3 3.7 3.1 1.8 1.5 1 0.9 0.8 0.7 0 0.6"/><use href="#s181" transform="scale(1,-1)"/>
<path id="s182" d="M-52.7 0.6l0-0.6 0-1.1 0-1.3 0.1-2.4 0.5-4.8 0.7-4.7 1-4.7 1.3-4.6 1.5-4.6 1.9-4.4 2-4.3 2.3-4.2 2.6-4.1 2.7-3.9 3-3.8 3.2-3.6 3.3-3.4 3.6-3.3 3.6-3 3.9-2.9 3.9-2.7 4.1-2.5 4.2-2.4 4.3-2.1 4.4-1.9 4.5-1.8 4.5-1.5 4.6-1.3 4.3-2.1 4.3-2.1 4.3-2.1 4.4-2.1 4.3-2 4.4-1.9 4.4-1.8 4.5-1.8 4.5-1.8 4.5-1.7 4.5-1.6 4.5-1.5 4.6-1.5 4.6-1.4 4.6-1.3 4.6-1.3 4.7-1.2 4.6-1.1 4.7-1 4.7-1 4.7-0.9 4.7-0.7 4.8-0.8 4.7-0.6 4.8-0.6 4.8-0.4 4.8-0.4 4.7-0.3 4.8-0.2 4.8-0.2 4.8 0 4.8 0 4.8 0 4.8 0.2 4.8 0.1 4.8 0.3 4.8 0.4 4.8 0.4 4.7 0.6 4.8 0.6 4.7 0.8 4.7 0.8 4.7 1 4.7 1 4.7 1.1 4.6 1.2 4.7 1.2 4.6 1.3 4.6 1.4 4.6 1.4 4.5 1.5 4.6 1.6 4.5 1.6 4.5 1.6 4.5 1.7 4.4 1.8 4.5 1.8 4.4 1.8 4.4 2 4.4 2 4.3 2 4.3 2.1 4.3 2.2 4.3 2.1 4.2 2.3 4.2 2.2 4.3 2.3 4.2 2.2 4.2 2.3 4.2 2.3 4.2 2.4 4.2 2.3 4.2 2.4 4.2 2.3 4.2 2.3 4.3 2.1 4.4 1.9 4.5 1.6 4 2.6 3.6 3.1 3.7 3.1 3.7 3.1 3.6 3.1 3.7 3.1 3.6 3.1 3.7 3.1 3.7 3.1 3.6 3.1 3.7 3.1 3.7 3.1 3.6 3.1 3.7 3.1 3.6 3.1 3.7 3.1 1.8 1.5 1.1 0.9 0.8 0.7 0 0.6"/><use href="#s182" transform="scale(1,-1)"/>
<path id="s183" d="M-52.7 0.6l0-0.6 0-1.1 0-1.3 0.1-2.4 0.4-4.8 0.8-4.7 1-4.7 1.3-4.6 1.5-4.5 1.8-4.5 2.1-4.3 2.3-4.2 2.6-4 2.7-3.9 3-3.8 3.1-3.6 3.4-3.4 3.5-3.3 3.7-3.1 3.8-2.9 3.9-2.7 4.1-2.5 4.2-2.3 4.3-2.1 4.4-2 4.4-1.7 4.6-1.5 4.6-1.4 4.3-2 4.3-2.1 4.3-2.1 4.3-2 4.4-2 4.4-1.9 4.4-1.9 4.5-1.8 4.4-1.7 4.5-1.6 4.6-1.6 4.5-1.6 4.6-1.4 4.5-1.4 4.6-1.3 4.7-1.3 4.6-1.2 4.7-1.1 4.7-1 4.7-0.9 4.7-0.9 4.7-0.8 4.7-0.7 4.8-0.6 4.7-0.6 4.8-0.4 4.8-0.4 4.8-0.3 4.7-0.2 4.8-0.2 4.8 0 4.8 0 4.8 0 4.8 0.2 4.8 0.1 4.8 0.3 4.7 0.4 4.8 0.4 4.8 0.6 4.7 0.6 4.7 0.8 4.8 0.8 4.7 1 4.6 1 4.7 1.1 4.6 1.2 4.7 1.2 4.6 1.3 4.6 1.4 4.5 1.4 4.6 1.5 4.5 1.5 4.6 1.6 4.5 1.7 4.4 1.7 4.5 1.7 4.4 1.8 4.5 1.9 4.3 1.9 4.4 2 4.3 2 4.4 2.1 4.2 2.1 4.3 2.2 4.2 2.2 4.3 2.3 4.2 2.2 4.2 2.3 4.3 2.3 4.2 2.3 4.2 2.3 4.1 2.3 4.2 2.3 4.2 2.4 4.2 2.2 4.3 2.2 4.4 1.8 4.6 1.6 3.9 2.7 3.6 3.1 3.7 3.1 3.6 3.1 3.7 3.1 3.7 3 3.6 3.1 3.7 3.1 3.7 3.1 3.6 3.1 3.7 3.1 3.7 3.1 3.6 3.1 3.7 3 3.6 3.1 3.7 3.1 1.8 1.6 1.1 0.8 0.8 0.7 0 0.6"/><use href="#s183" transform="scale(1,-1)"/>
<path id="s184" d="M-52.7 0.6l0-0.6 0-1.1 0-1.3 0.1-2.4 0.4-4.7 0.8-4.8 1-4.7 1.3-4.6 1.5-4.5 1.8-4.4 2.1-4.3 2.3-4.2 2.5-4.1 2.8-3.9 2.9-3.8 3.2-3.6 3.3-3.4 3.5-3.2 3.7-3.1 3.8-2.9 3.9-2.7 4.1-2.5 4.2-2.4 4.3-2.1 4.3-1.9 4.5-1.8 4.5-1.5 4.6-1.3 4.4-2 4.3-2.1 4.3-2.1 4.3-2 4.4-2 4.4-1.8 4.4-1.9 4.4-1.8 4.5-1.7 4.5-1.6 4.5-1.6 4.5-1.5 4.6-1.5 4.6-1.3 4.6-1.3 4.6-1.3 4.7-1.1 4.6-1.1 4.7-1 4.7-1 4.7-0.8 4.7-0.8 4.7-0.7 4.8-0.6 4.7-0.6 4.8-0.4 4.8-0.4 4.7-0.3 4.8-0.2 4.8-0.2 4.8 0 4.8 0 4.8 0.1 4.7 0.1 4.8 0.2 4.8 0.2 4.8 0.4 4.7 0.4 4.8 0.6 4.7 0.6 4.7 0.8 4.8 0.8 4.6 1 4.7 1 4.7 1.1 4.6 1.2 4.6 1.2 4.6 1.3 4.6 1.4 4.6 1.4 4.6 1.5 4.5 1.5 4.5 1.6 4.5 1.6 4.5 1.7 4.4 1.7 4.5 1.8 4.4 1.9 4.4 1.9 4.3 2 4.4 2 4.3 2.1 4.2 2.1 4.3 2.2 4.2 2.2 4.3 2.2 4.2 2.3 4.2 2.2 4.2 2.3 4.2 2.3 4.2 2.3 4.2 2.3 4.2 2.3 4.2 2.4 4.2 2.2 4.3 2.1 4.4 1.8 4.5 1.6 3.9 2.8 3.7 3.1 3.6 3 3.7 3.1 3.7 3.1 3.6 3.1 3.7 3 3.6 3.1 3.7 3.1 3.7 3.1 3.6 3 3.7 3.1 3.7 3.1 3.6 3.1 3.7 3 3.7 3.1 1.8 1.6 1 0.8 0.8 0.7 0 0.6"/><use href="#s184" transform="scale(1,-1)"/>
<path id="s185" d="M-52.7 0.6l0-0.6 0-1.1 0-1.3 0.1-2.4 0.4-4.7 0.8-4.8 1-4.6 1.2-4.6 1.6-4.5 1.8-4.5 2.1-4.3 2.3-4.2 2.5-4 2.7-3.9 3-3.8 3.1-3.6 3.3-3.4 3.5-3.3 3.7-3 3.8-2.9 3.9-2.7 4.1-2.6 4.2-2.3 4.2-2.1 4.4-2 4.4-1.7 4.6-1.6 4.6-1.3 4.3-1.9 4.3-2.1 4.3-2.1 4.4-2 4.3-1.9 4.4-1.9 4.4-1.8 4.5-1.7 4.4-1.7 4.5-1.7 4.6-1.5 4.5-1.5 4.5-1.5 4.6-1.3 4.6-1.3 4.6-1.3 4.7-1.1 4.6-1.1 4.7-1 4.7-0.9 4.7-0.9 4.7-0.7 4.7-0.7 4.8-0.6 4.7-0.6 4.8-0.4 4.7-0.4 4.8-0.3 4.8-0.2 4.8-0.1 4.7-0.1 4.8 0 4.8 0.1 4.8 0.1 4.7 0.2 4.8 0.2 4.8 0.4 4.7 0.5 4.8 0.5 4.7 0.7 4.7 0.7 4.7 0.9 4.7 0.9 4.7 1 4.6 1.1 4.7 1.2 4.6 1.2 4.6 1.3 4.6 1.3 4.5 1.5 4.6 1.4 4.5 1.6 4.5 1.5 4.5 1.7 4.5 1.6 4.4 1.8 4.4 1.8 4.5 1.8 4.3 1.9 4.4 2 4.3 2 4.3 2.1 4.3 2.1 4.3 2.2 4.2 2.2 4.2 2.2 4.3 2.2 4.2 2.3 4.2 2.2 4.2 2.3 4.2 2.3 4.2 2.3 4.1 2.3 4.2 2.3 4.2 2.3 4.3 2 4.5 1.8 4.5 1.6 3.8 2.9 3.6 3 3.7 3.1 3.7 3.1 3.6 3 3.7 3.1 3.7 3.1 3.6 3 3.7 3.1 3.7 3.1 3.6 3 3.7 3.1 3.7 3 3.6 3.1 3.7 3.1 3.7 3 1.8 1.6 1 0.8 0.8 0.7 0 0.6"/><use href="#s185" transform="scale(1,-1)"/>
<path id="s186" d="M-52.7 0.6l0-0.6 0-1.1 0-1.3 0.1-2.4 0.4-4.7 0.8-4.7 1-4.7 1.2-4.6 1.6-4.5 1.8-4.4 2-4.3 2.3-4.2 2.5-4.1 2.8-3.9 2.9-3.7 3.2-3.6 3.3-3.4 3.5-3.3 3.6-3.1 3.8-2.9 3.9-2.7 4.1-2.5 4.1-2.3 4.3-2.2 4.4-1.9 4.4-1.8 4.5-1.5 4.6-1.4 4.3-1.8 4.3-2.1 4.3-2 4.4-2 4.4-1.9 4.4-1.9 4.4-1.8 4.4-1.7 4.5-1.7 4.5-1.6 4.5-1.6 4.5-1.5 4.6-1.4 4.5-1.3 4.6-1.3 4.6-1.2 4.7-1.2 4.6-1 4.7-1 4.7-0.9 4.7-0.9 4.7-0.7 4.7-0.7 4.7-0.6 4.8-0.6 4.7-0.4 4.8-0.4 4.7-0.3 4.8-0.2 4.8-0.1 4.7-0.1 4.8 0.1 4.8 0 4.7 0.1 4.8 0.2 4.8 0.3 4.7 0.3 4.8 0.5 4.7 0.5 4.7 0.7 4.8 0.7 4.6 0.9 4.7 0.9 4.7 1 4.6 1.1 4.7 1.2 4.6 1.2 4.6 1.3 4.5 1.3 4.6 1.5 4.5 1.4 4.6 1.5 4.5 1.6 4.4 1.6 4.5 1.7 4.5 1.7 4.4 1.8 4.4 1.8 4.4 1.9 4.3 2 4.3 2 4.3 2.1 4.3 2.1 4.3 2.2 4.2 2.2 4.2 2.2 4.3 2.2 4.2 2.2 4.2 2.3 4.2 2.2 4.2 2.3 4.1 2.3 4.2 2.3 4.2 2.3 4.2 2.2 4.3 2.1 4.4 1.8 4.5 1.6 3.8 2.9 3.7 3 3.6 3.1 3.7 3 3.7 3.1 3.6 3 3.7 3.1 3.7 3 3.6 3.1 3.7 3 3.7 3.1 3.6 3 3.7 3.1 3.7 3 3.6 3.1 3.7 3 1.8 1.6 1 0.8 0.9 0.7 0 0.6"/><use href="#s186" transform="scale(1,-1)"/>
<path id="s187" d="M-52.7 0.6l0-0.6 0-1.1 0-1.3 0.1-2.4 0.4-4.7 0.8-4.7 1-4.7 1.2-4.6 1.6-4.5 1.8-4.4 2-4.3 2.3-4.1 2.5-4.1 2.7-3.9 3-3.7 3.1-3.6 3.3-3.5 3.5-3.2 3.6-3.1 3.8-2.9 3.9-2.7 4-2.5 4.2-2.4 4.2-2.1 4.4-1.9 4.4-1.8 4.5-1.5 4.6-1.4 4.4-1.8 4.3-2.1 4.3-2 4.3-2 4.4-1.9 4.4-1.8 4.4-1.8 4.4-1.7 4.5-1.7 4.5-1.6 4.5-1.5 4.5-1.5 4.6-1.4 4.5-1.3 4.6-1.3 4.6-1.2 4.6-1.1 4.7-1.1 4.7-1 4.6-0.9 4.7-0.8 4.7-0.7 4.7-0.7 4.8-0.6 4.7-0.6 4.7-0.4 4.8-0.4 4.7-0.2 4.8-0.2 4.8-0.2 4.7 0 4.8 0 4.7 0.1 4.8 0.1 4.8 0.2 4.7 0.2 4.8 0.4 4.7 0.4 4.7 0.6 4.7 0.6 4.7 0.8 4.7 0.8 4.7 0.9 4.7 1.1 4.6 1 4.6 1.2 4.6 1.2 4.6 1.3 4.6 1.3 4.5 1.4 4.6 1.5 4.5 1.5 4.5 1.6 4.5 1.6 4.4 1.7 4.5 1.7 4.4 1.8 4.4 1.8 4.3 1.9 4.4 1.9 4.3 2 4.3 2.1 4.3 2.1 4.2 2.2 4.2 2.1 4.3 2.2 4.2 2.2 4.2 2.3 4.2 2.2 4.2 2.3 4.2 2.2 4.2 2.3 4.1 2.3 4.2 2.3 4.2 2.2 4.3 2 4.5 1.8 4.4 1.6 3.8 3 3.6 3 3.7 3.1 3.7 3 3.6 3 3.7 3.1 3.7 3 3.6 3.1 3.7 3 3.7 3 3.6 3.1 3.7 3 3.7 3 3.6 3.1 3.7 3 3.7 3.1 1.8 1.5 1 0.8 0.8 0.7 0 0.6"/><use href="#s187" transform="scale(1,-1)"/>
<path id="s188" d="M-52.7 0.6l0-0.6 0-1.1 0-1.3 0.1-2.4 0.5-4.8 0.7-4.7 1-4.7 1.3-4.6 1.5-4.5 1.8-4.5 2.1-4.3 2.3-4.2 2.6-4.1 2.7-3.9 3-3.7 3.2-3.6 3.3-3.5 3.5-3.2 3.7-3.1 3.8-2.9 4-2.7 4-2.5 4.2-2.3 4.3-2.2 4.4-1.9 4.5-1.7 4.5-1.6 4.6-1.3 4.4-2 4.3-2 4.4-2 4.4-2 4.4-1.8 4.4-1.9 4.5-1.7 4.4-1.7 4.5-1.7 4.6-1.6 4.5-1.5 4.6-1.4 4.6-1.4 4.6-1.3 4.6-1.3 4.7-1.1 4.6-1.1 4.7-1.1 4.7-0.9 4.7-0.9 4.7-0.8 4.8-0.7 4.7-0.7 4.8-0.5 4.8-0.5 4.7-0.4 4.8-0.3 4.8-0.3 4.8-0.2 4.8-0.1 4.8 0 4.8 0.1 4.8 0.1 4.8 0.1 4.8 0.2 4.7 0.4 4.8 0.4 4.8 0.5 4.7 0.6 4.8 0.7 4.7 0.8 4.7 0.9 4.7 1 4.7 1 4.6 1.1 4.7 1.2 4.6 1.3 4.6 1.3 4.6 1.4 4.6 1.5 4.5 1.5 4.6 1.5 4.5 1.6 4.5 1.7 4.4 1.7 4.5 1.8 4.4 1.8 4.4 1.8 4.4 2 4.4 2 4.3 2 4.3 2.2 4.3 2.1 4.3 2.2 4.2 2.2 4.3 2.2 4.2 2.2 4.3 2.3 4.2 2.2 4.2 2.3 4.2 2.3 4.2 2.3 4.2 2.3 4.3 2.2 4.3 2.1 4.5 1.8 4.5 1.6 3.8 2.9 3.7 3 3.6 3.1 3.7 3 3.7 3.1 3.7 3 3.7 3.1 3.7 3 3.7 3.1 3.7 3 3.7 3.1 3.7 3 3.7 3.1 3.7 3 3.7 3.1 3.7 3 1.9 1.6 1 0.8 0.8 0.7 0 0.6"/><use href="#s188" transform="scale(1,-1)"/>
<path id="s189" d="M-52.7 0.6l0-0.6 0-1.1 0-1.3 0.1-2.4 0.4-4.7 0.8-4.8 1-4.6 1.3-4.7 1.5-4.5 1.8-4.4 2.1-4.3 2.3-4.2 2.5-4.1 2.8-3.9 2.9-3.7 3.2-3.6 3.3-3.5 3.5-3.2 3.7-3.1 3.8-2.9 3.9-2.7 4.1-2.5 4.2-2.4 4.3-2.1 4.3-1.9 4.5-1.8 4.5-1.5 4.6-1.3 4.4-1.9 4.3-2.1 4.4-2 4.3-1.9 4.5-1.8 4.4-1.9 4.4-1.7 4.5-1.7 4.5-1.6 4.5-1.6 4.6-1.5 4.5-1.4 4.6-1.4 4.6-1.3 4.6-1.2 4.7-1.2 4.6-1.1 4.7-1 4.7-0.9 4.7-0.9 4.7-0.8 4.8-0.7 4.7-0.6 4.8-0.6 4.7-0.5 4.8-0.4 4.8-0.3 4.7-0.2 4.8-0.2 4.8-0.1 4.8 0 4.8 0 4.7 0.1 4.8 0.2 4.8 0.2 4.8 0.3 4.7 0.4 4.8 0.5 4.8 0.6 4.7 0.7 4.7 0.8 4.7 0.9 4.7 1 4.7 1.1 4.6 1.1 4.6 1.2 4.6 1.2 4.6 1.4 4.6 1.3 4.6 1.5 4.5 1.5 4.6 1.5 4.5 1.6 4.5 1.7 4.4 1.7 4.5 1.7 4.4 1.8 4.4 1.9 4.4 1.9 4.3 2 4.4 2.1 4.3 2.1 4.2 2.1 4.3 2.2 4.3 2.2 4.2 2.2 4.2 2.2 4.3 2.2 4.2 2.3 4.2 2.3 4.2 2.2 4.2 2.3 4.2 2.3 4.3 2.2 4.3 2 4.4 1.8 4.5 1.7 3.8 2.9 3.7 3 3.7 3.1 3.7 3 3.7 3 3.6 3.1 3.7 3 3.7 3.1 3.7 3 3.7 3 3.7 3.1 3.7 3 3.7 3 3.7 3.1 3.7 3 3.7 3.1 1.8 1.5 1.1 0.8 0.8 0.7 0 0.6"/><use href="#s189" transform="scale(1,-1)"/>
<path id="s190" d="M-52.7 0.6l0-0.6 0-1.1 0-1.3 0.1-2.4 0.4-4.7 0.8-4.7 1-4.7 1.2-4.6 1.6-4.5 1.8-4.4 2-4.4 2.3-4.1 2.6-4.1 2.7-3.9 2.9-3.8 3.2-3.5 3.3-3.5 3.5-3.2 3.6-3.1 3.8-2.9 4-2.7 4-2.5 4.2-2.4 4.3-2.1 4.3-1.9 4.5-1.8 4.5-1.5 4.6-1.4 4.3-1.8 4.4-2 4.3-2 4.4-1.9 4.4-1.8 4.4-1.8 4.5-1.8 4.4-1.6 4.5-1.7 4.6-1.5 4.5-1.5 4.6-1.4 4.5-1.4 4.6-1.2 4.6-1.3 4.7-1.1 4.6-1.1 4.7-1 4.7-0.9 4.7-0.9 4.7-0.7 4.7-0.8 4.7-0.6 4.8-0.5 4.7-0.5 4.8-0.4 4.7-0.3 4.8-0.3 4.8-0.1 4.8-0.1 4.7 0 4.8 0 4.8 0.1 4.7 0.2 4.8 0.2 4.8 0.3 4.7 0.4 4.8 0.5 4.7 0.6 4.7 0.7 4.7 0.8 4.7 0.9 4.7 1 4.7 1 4.6 1.1 4.6 1.2 4.6 1.3 4.6 1.3 4.6 1.4 4.5 1.4 4.6 1.5 4.5 1.5 4.5 1.6 4.5 1.7 4.4 1.7 4.5 1.7 4.4 1.8 4.4 1.9 4.4 1.9 4.3 2 4.3 2 4.3 2.1 4.3 2.1 4.3 2.2 4.2 2.2 4.2 2.2 4.3 2.2 4.2 2.2 4.2 2.2 4.2 2.3 4.2 2.3 4.2 2.3 4.2 2.2 4.3 2.2 4.3 2 4.4 1.7 4.5 1.7 3.7 3 3.7 3 3.7 3.1 3.7 3 3.7 3 3.7 3 3.7 3.1 3.7 3 3.6 3 3.7 3 3.7 3.1 3.7 3 3.7 3 3.7 3 3.7 3.1 3.7 3 1.8 1.5 1.1 0.8 0.8 0.7 0 0.6"/><use href="#s190" transform="scale(1,-1)"/>
<path id="s191" d="M-52.7 0.6l0-0.6 0-1.1 0-1.3 0.1-2.4 0.4-4.7 0.8-4.7 1-4.7 1.2-4.6 1.6-4.5 1.8-4.4 2-4.3 2.3-4.2 2.5-4 2.7-3.9 3-3.8 3.1-3.5 3.3-3.5 3.5-3.2 3.6-3.1 3.8-2.9 3.9-2.7 4-2.5 4.2-2.4 4.2-2.1 4.4-1.9 4.4-1.8 4.5-1.5 4.6-1.4 4.4-1.8 4.3-2 4.4-1.9 4.3-1.9 4.4-1.8 4.5-1.8 4.4-1.7 4.5-1.7 4.4-1.6 4.6-1.5 4.5-1.5 4.5-1.4 4.6-1.3 4.6-1.3 4.6-1.2 4.6-1.1 4.7-1.1 4.6-1 4.7-0.9 4.7-0.8 4.7-0.8 4.7-0.7 4.7-0.6 4.8-0.6 4.7-0.4 4.7-0.4 4.8-0.4 4.7-0.2 4.8-0.1 4.8-0.1 4.7 0 4.8 0 4.8 0.1 4.7 0.1 4.8 0.3 4.7 0.3 4.8 0.4 4.7 0.5 4.7 0.6 4.7 0.7 4.7 0.8 4.7 0.9 4.7 0.9 4.6 1.1 4.7 1.1 4.6 1.2 4.6 1.2 4.5 1.3 4.6 1.4 4.5 1.4 4.6 1.5 4.5 1.5 4.5 1.6 4.4 1.7 4.5 1.7 4.4 1.7 4.4 1.8 4.4 1.8 4.4 2 4.3 1.9 4.3 2.1 4.3 2.1 4.3 2.1 4.2 2.1 4.3 2.2 4.2 2.2 4.2 2.2 4.2 2.2 4.3 2.2 4.2 2.3 4.1 2.2 4.2 2.3 4.2 2.3 4.3 2.1 4.3 1.9 4.5 1.7 4.3 1.8 3.7 3 3.7 3.1 3.7 3 3.7 3 3.7 3 3.7 3 3.7 3 3.7 3 3.7 3 3.7 3 3.6 3 3.7 3.1 3.7 3 3.7 3 3.7 3 3.7 3 1.8 1.5 1.1 0.8 0.8 0.7 0 0.6M933.3 0.6l0-0.6 0-1.1 0-1.3 0.2-2.4 0.6-4.7 1.1-4.7 1.5-4.5 1.9-4.4 2.2-4.2 2.7-4 2.9-3.8 3.4-3.4 3.6-3.2 3.8-2.8 4.1-2.5 4.3-2 4.5-1.7 4.6-1.3 4.7-0.8 4.8-0.5 4.8 0 4.8 0.5 4.7 0.8 4.6 1.3 4.5 1.7 4.3 2 4.1 2.5 3.9 2.8 3.6 3.2 3.3 3.4 2.9 3.8 2.7 4 2.2 4.2 1.9 4.4 1.5 4.5 1.1 4.7 0.6 4.7 0.2 2.4 0 1.3 0 1.1 0 0.6"/><use href="#s191" transform="scale(1,-1)"/>
<path id="s192" d="M-52.7 0.6l0-0.6 0-1.1 0-1.3 0.1-2.4 0.4-4.8 0.8-4.7 1-4.7 1.3-4.6 1.5-4.5 1.8-4.5 2.1-4.3 2.3-4.2 2.6-4 2.7-3.9 3-3.8 3.1-3.6 3.4-3.4 3.5-3.3 3.7-3.1 3.8-2.9 3.9-2.7 4.1-2.5 4.2-2.3 4.3-2.1 4.4-2 4.4-1.7 4.6-1.5 4.6-1.4 4.4-1.9 4.3-2 4.4-1.9 4.4-1.8 4.4-1.9 4.5-1.7 4.5-1.7 4.5-1.6 4.5-1.6 4.6-1.5 4.5-1.5 4.6-1.4 4.6-1.3 4.7-1.2 4.6-1.2 4.7-1.1 4.6-1 4.7-1 4.7-0.9 4.8-0.8 4.7-0.7 4.7-0.7 4.8-0.6 4.7-0.5 4.8-0.4 4.8-0.4 4.8-0.3 4.8-0.2 4.8-0.1 4.7 0 4.8 0 4.8 0 4.8 0.2 4.8 0.1 4.8 0.3 4.8 0.4 4.7 0.4 4.8 0.6 4.7 0.7 4.8 0.7 4.7 0.9 4.7 0.9 4.7 1 4.6 1.1 4.7 1.2 4.6 1.2 4.6 1.3 4.6 1.3 4.6 1.4 4.5 1.5 4.6 1.5 4.5 1.6 4.5 1.6 4.5 1.7 4.5 1.7 4.4 1.8 4.4 1.9 4.4 1.9 4.4 1.9 4.3 2.1 4.4 2 4.3 2.2 4.2 2.1 4.3 2.2 4.3 2.2 4.2 2.2 4.3 2.2 4.2 2.2 4.2 2.3 4.3 2.2 4.2 2.3 4.2 2.3 4.3 2.1 4.3 2 4.5 1.7 4.4 1.8 3.8 3 3.7 3 3.7 3 3.7 3 3.8 3.1 3.7 3 3.7 3 3.7 3 3.7 3 3.7 3.1 3.8 3 3.7 3 3.7 3 3.7 3 3.7 3.1 3.8 3 1.8 1.5 1 0.8 0.9 0.7 0 0.6M906.6 0.6l0-0.6 0-1.1 0.1-1.3 0.1-2.4 0.7-4.7 1-4.7 1.5-4.5 1.9-4.4 2.3-4.2 2.6-4 3-3.8 3.3-3.4 3.6-3.2 3.9-2.8 4.1-2.5 4.3-2 4.5-1.7 4.6-1.3 4.7-0.8 4.7-0.5 4.8 0 4.8 0.5 4.7 0.8 4.6 1.3 4.5 1.7 4.3 2 4.1 2.5 3.9 2.8 3.6 3.2 3.3 3.4 3 3.8 2.6 4 2.3 4.2 1.9 4.4 1.4 4.5 1.1 4.7 0.6 4.7 0.2 2.4 0.1 1.3 0 1.1 0 0.6"/><use href="#s192" transform="scale(1,-1)"/>
<path id="s193" d="M-52.7 0.6l0-0.6 0-1.1 0-1.3 0.1-2.4 0.4-4.7 0.8-4.8 1-4.6 1.2-4.6 1.6-4.5 1.8-4.5 2.1-4.3 2.2-4.2 2.6-4 2.7-3.9 3-3.8 3.1-3.6 3.3-3.4 3.5-3.3 3.7-3 3.8-2.9 3.9-2.7 4.1-2.6 4.2-2.3 4.2-2.1 4.4-2 4.4-1.7 4.6-1.6 4.5-1.3 4.5-1.8 4.3-2 4.4-1.9 4.4-1.8 4.4-1.8 4.5-1.8 4.4-1.6 4.5-1.7 4.6-1.5 4.5-1.5 4.5-1.4 4.6-1.4 4.6-1.3 4.6-1.2 4.7-1.2 4.6-1.1 4.7-1 4.7-1 4.7-0.8 4.7-0.8 4.7-0.8 4.7-0.6 4.8-0.6 4.7-0.5 4.8-0.4 4.7-0.4 4.8-0.3 4.8-0.2 4.8-0.1 4.7 0 4.8 0 4.8 0.1 4.8 0.1 4.7 0.2 4.8 0.2 4.8 0.4 4.7 0.4 4.8 0.6 4.7 0.7 4.7 0.7 4.7 0.9 4.7 0.9 4.7 1 4.6 1.1 4.7 1.1 4.6 1.3 4.6 1.2 4.6 1.4 4.5 1.4 4.6 1.5 4.5 1.5 4.5 1.5 4.5 1.6 4.5 1.7 4.5 1.7 4.4 1.8 4.4 1.8 4.4 1.9 4.3 2 4.4 2 4.3 2.1 4.3 2.1 4.2 2.1 4.3 2.2 4.3 2.2 4.2 2.2 4.2 2.2 4.3 2.2 4.2 2.2 4.2 2.3 4.2 2.3 4.2 2.2 4.3 2.1 4.4 2 4.4 1.7 4.4 1.8 3.7 3 3.7 3 3.7 3 3.7 3 3.8 3 3.7 3 3.7 3 3.7 3.1 3.7 3 3.7 3 3.7 3 3.8 3 3.7 3 3.7 3 3.7 3 3.7 3 1.9 1.5 1 0.8 0.8 0.7 0 0.6M879.9 0.6l0-0.6 0.1-1.1 0-1.3 0.2-2.4 0.6-4.7 1.1-4.7 1.4-4.5 1.9-4.4 2.3-4.2 2.6-4 3-3.8 3.3-3.4 3.6-3.2 3.9-2.8 4.1-2.5 4.3-2 4.5-1.7 4.6-1.3 4.7-0.8 4.8-0.5 4.8 0 4.7 0.5 4.7 0.8 4.7 1.3 4.4 1.7 4.3 2 4.2 2.5 3.8 2.8 3.6 3.2 3.3 3.4 3 3.8 2.7 4 2.2 4.2 1.9 4.4 1.5 4.5 1 4.7 0.7 4.7 0.1 2.4 0.1 1.3 0 1.1 0 0.6"/><use href="#s193" transform="scale(1,-1)"/>
<path id="s194" d="M-52.7 0.6l0-0.6 0-1.1 0-1.3 0.1-2.4 0.4-4.7 0.8-4.7 1-4.7 1.2-4.6 1.6-4.5 1.8-4.4 2-4.3 2.3-4.2 2.5-4 2.7-3.9 3-3.8 3.1-3.5 3.3-3.5 3.5-3.2 3.6-3.1 3.8-2.9 3.9-2.7 4-2.5 4.2-2.4 4.3-2.1 4.3-1.9 4.4-1.8 4.5-1.5 4.6-1.4 4.4-1.7 4.4-2 4.3-1.9 4.4-1.8 4.5-1.8 4.4-1.7 4.5-1.7 4.4-1.6 4.6-1.5 4.5-1.5 4.5-1.4 4.6-1.3 4.6-1.3 4.6-1.2 4.6-1.2 4.6-1.1 4.7-1 4.7-0.9 4.7-0.9 4.7-0.8 4.7-0.7 4.7-0.6 4.7-0.6 4.7-0.5 4.8-0.4 4.7-0.4 4.8-0.3 4.8-0.2 4.7-0.1 4.8 0 4.7 0 4.8 0.1 4.8 0.1 4.7 0.2 4.8 0.2 4.7 0.4 4.8 0.5 4.7 0.5 4.7 0.7 4.7 0.7 4.7 0.9 4.7 0.9 4.6 1 4.7 1.1 4.6 1.1 4.6 1.2 4.6 1.3 4.6 1.4 4.5 1.4 4.5 1.4 4.6 1.5 4.5 1.6 4.4 1.6 4.5 1.6 4.5 1.8 4.4 1.7 4.4 1.9 4.3 1.8 4.4 2 4.3 2 4.3 2.1 4.3 2.1 4.2 2.1 4.3 2.1 4.2 2.2 4.3 2.2 4.2 2.2 4.2 2.2 4.2 2.2 4.2 2.3 4.2 2.2 4.2 2.2 4.3 2.2 4.4 1.9 4.4 1.6 4.3 2 3.7 3 3.7 3 3.7 2.9 3.7 3 3.8 3 3.7 3 3.7 3 3.7 3 3.7 3 3.7 3 3.7 3 3.7 3 3.7 2.9 3.7 3 3.7 3 3.7 3 1.9 1.5 1 0.8 0.8 0.7 0 0.6M853.3 0.6l0-0.6 0-1.1 0-1.3 0.2-2.4 0.6-4.7 1.1-4.7 1.5-4.5 1.9-4.4 2.2-4.2 2.7-4 3-3.8 3.3-3.4 3.6-3.2 3.8-2.8 4.1-2.5 4.4-2 4.4-1.7 4.6-1.3 4.8-0.8 4.7-0.5 4.8 0 4.8 0.5 4.7 0.8 4.6 1.3 4.5 1.7 4.3 2 4.1 2.5 3.9 2.8 3.6 3.2 3.3 3.4 3 3.8 2.6 4 2.3 4.2 1.8 4.4 1.5 4.5 1.1 4.7 0.6 4.7 0.2 2.4 0 1.3 0 1.1 0 0.6"/><use href="#s194" transform="scale(1,-1)"/>
<path id="s195" d="M-52.7 0.6l0-0.6 0-1.1 0-1.3 0.1-2.4 0.4-4.8 0.8-4.7 1-4.7 1.3-4.6 1.5-4.5 1.8-4.4 2.1-4.4 2.3-4.1 2.5-4.1 2.8-3.9 2.9-3.8 3.2-3.6 3.3-3.4 3.6-3.3 3.6-3 3.8-2.9 4-2.7 4.1-2.6 4.1-2.3 4.3-2.1 4.4-2 4.5-1.7 4.5-1.5 4.6-1.4 4.4-1.8 4.4-1.9 4.4-1.9 4.4-1.8 4.5-1.8 4.5-1.7 4.5-1.6 4.5-1.6 4.5-1.5 4.6-1.4 4.6-1.4 4.6-1.4 4.6-1.2 4.6-1.2 4.7-1.1 4.6-1.1 4.7-1 4.7-0.9 4.7-0.8 4.8-0.8 4.7-0.7 4.8-0.6 4.7-0.5 4.8-0.5 4.8-0.4 4.7-0.3 4.8-0.2 4.8-0.2 4.8-0.1 4.8 0 4.8 0.1 4.7 0.1 4.8 0.1 4.8 0.2 4.8 0.3 4.8 0.5 4.7 0.5 4.8 0.6 4.7 0.7 4.7 0.8 4.7 0.9 4.7 1 4.7 1 4.6 1.1 4.7 1.2 4.6 1.3 4.6 1.3 4.6 1.4 4.5 1.4 4.6 1.5 4.5 1.6 4.5 1.6 4.5 1.6 4.5 1.7 4.5 1.8 4.4 1.8 4.4 1.9 4.4 1.9 4.3 2 4.3 2.1 4.4 2.1 4.2 2.1 4.3 2.2 4.3 2.1 4.2 2.2 4.3 2.2 4.2 2.2 4.3 2.2 4.2 2.3 4.2 2.3 4.3 2.2 4.2 2.1 4.4 1.9 4.5 1.7 4.4 1.9 3.7 3 3.7 3 3.8 3 3.7 3 3.7 3 3.8 3 3.7 3 3.7 3 3.8 3 3.7 3 3.7 3 3.7 3 3.8 3 3.7 3 3.7 3 3.8 3 1.8 1.5 1.1 0.8 0.8 0.7 0 0.6M826.6 0.6l0-0.6 0-1.1 0.1-1.3 0.1-2.4 0.7-4.7 1-4.7 1.5-4.5 1.9-4.4 2.3-4.2 2.6-4 3-3.8 3.3-3.4 3.6-3.2 3.9-2.8 4.1-2.5 4.3-2 4.5-1.7 4.6-1.3 4.7-0.8 4.8-0.5 4.7 0 4.8 0.5 4.7 0.8 4.6 1.3 4.5 1.7 4.3 2 4.1 2.5 3.9 2.8 3.6 3.2 3.3 3.4 3 3.8 2.6 4 2.3 4.2 1.9 4.4 1.4 4.5 1.1 4.7 0.7 4.7 0.1 2.4 0.1 1.3 0 1.1 0 0.6"/><use href="#s195" transform="scale(1,-1)"/>
<path id="s196" d="M-52.7 0.6l0-0.6 0-1.1 0-1.3 0.1-2.4 0.4-4.7 0.8-4.7 1-4.7 1.2-4.6 1.6-4.5 1.8-4.4 2-4.3 2.3-4.2 2.5-4.1 2.8-3.9 2.9-3.7 3.2-3.6 3.3-3.4 3.5-3.3 3.6-3.1 3.8-2.9 3.9-2.7 4.1-2.5 4.1-2.3 4.3-2.2 4.4-1.9 4.4-1.8 4.5-1.5 4.6-1.4 4.4-1.7 4.4-1.9 4.4-1.9 4.4-1.7 4.4-1.8 4.5-1.7 4.5-1.6 4.5-1.5 4.5-1.5 4.6-1.5 4.5-1.4 4.6-1.3 4.6-1.2 4.7-1.2 4.6-1.1 4.7-1 4.6-1 4.7-0.9 4.7-0.8 4.7-0.8 4.7-0.7 4.8-0.6 4.7-0.5 4.8-0.5 4.7-0.3 4.8-0.4 4.7-0.2 4.8-0.1 4.8-0.1 4.8 0 4.7 0 4.8 0.1 4.8 0.1 4.7 0.3 4.8 0.3 4.7 0.4 4.8 0.5 4.7 0.6 4.7 0.7 4.7 0.8 4.7 0.9 4.7 1 4.6 1 4.7 1.2 4.6 1.1 4.6 1.3 4.6 1.3 4.6 1.4 4.5 1.4 4.5 1.5 4.6 1.5 4.5 1.6 4.4 1.7 4.5 1.7 4.4 1.7 4.4 1.8 4.4 1.9 4.4 1.9 4.3 2 4.3 2.1 4.3 2 4.3 2.2 4.3 2.1 4.2 2.2 4.3 2.1 4.2 2.2 4.3 2.2 4.2 2.2 4.2 2.3 4.2 2.2 4.2 2.2 4.3 2.1 4.4 1.9 4.5 1.6 4.2 2.1 3.7 3 3.8 3 3.7 2.9 3.7 3 3.7 3 3.8 3 3.7 3 3.7 3 3.7 2.9 3.7 3 3.8 3 3.7 3 3.7 3 3.7 3 3.8 2.9 3.7 3 1.8 1.5 1.1 0.8 0.8 0.7 0 0.6M799.9 0.6l0-0.6 0.1-1.1 0-1.3 0.2-2.4 0.6-4.7 1.1-4.7 1.5-4.5 1.8-4.4 2.3-4.2 2.6-4 3-3.8 3.3-3.4 3.6-3.2 3.9-2.8 4.1-2.5 4.3-2 4.5-1.7 4.6-1.3 4.7-0.8 4.8-0.5 4.8 0 4.7 0.5 4.7 0.8 4.7 1.3 4.4 1.7 4.3 2 4.2 2.5 3.8 2.8 3.6 3.2 3.3 3.4 3 3.8 2.7 4 2.2 4.2 1.9 4.4 1.5 4.5 1.1 4.7 0.6 4.7 0.1 2.4 0.1 1.3 0 1.1 0 0.6"/><use href="#s196" transform="scale(1,-1)"/>
<path id="s197" d="M-52.7 0.6l0-0.6 0-1.1 0-1.3 0.1-2.4 0.5-4.8 0.7-4.7 1-4.7 1.3-4.6 1.5-4.5 1.8-4.5 2.1-4.3 2.3-4.2 2.6-4 2.7-4 3-3.7 3.2-3.6 3.3-3.5 3.5-3.2 3.7-3.1 3.8-2.9 4-2.7 4-2.5 4.2-2.3 4.3-2.2 4.4-1.9 4.5-1.7 4.5-1.6 4.6-1.3 4.4-1.8 4.4-1.9 4.5-1.8 4.4-1.8 4.5-1.7 4.5-1.7 4.5-1.6 4.6-1.5 4.5-1.5 4.6-1.4 4.6-1.4 4.6-1.2 4.6-1.3 4.7-1.1 4.7-1.1 4.7-1 4.7-0.9 4.7-0.9 4.7-0.8 4.7-0.7 4.8-0.7 4.7-0.6 4.8-0.5 4.8-0.4 4.8-0.3 4.7-0.3 4.8-0.2 4.8-0.1 4.8-0.1 4.8 0 4.8 0.1 4.8 0.1 4.8 0.2 4.8 0.3 4.7 0.3 4.8 0.5 4.8 0.6 4.7 0.6 4.7 0.8 4.8 0.9 4.7 0.9 4.6 1 4.7 1.1 4.7 1.2 4.6 1.2 4.6 1.3 4.6 1.4 4.6 1.4 4.5 1.4 4.6 1.6 4.5 1.5 4.5 1.7 4.5 1.7 4.5 1.7 4.4 1.8 4.4 1.8 4.4 2 4.4 2 4.3 2 4.3 2.1 4.3 2.1 4.3 2.1 4.3 2.2 4.3 2.2 4.2 2.1 4.3 2.2 4.3 2.3 4.2 2.2 4.2 2.3 4.3 2.2 4.3 2.1 4.3 1.9 4.6 1.7 4.3 2 3.7 2.9 3.8 3 3.7 3 3.7 3 3.8 3 3.7 3 3.8 3 3.7 3 3.8 3 3.7 3 3.8 3 3.7 2.9 3.7 3 3.8 3 3.7 3 3.8 3 1.8 1.5 1.1 0.8 0.8 0.7 0 0.6M773.3 0.6l0-0.6 0-1.1 0-1.3 0.2-2.4 0.6-4.7 1.1-4.7 1.5-4.5 1.9-4.4 2.2-4.2 2.7-4 3-3.8 3.3-3.4 3.6-3.2 3.8-2.8 4.1-2.5 4.4-2 4.4-1.7 4.6-1.3 4.8-0.8 4.7-0.5 4.8 0 4.8 0.5 4.7 0.8 4.6 1.3 4.5 1.7 4.3 2 4.1 2.5 3.9 2.8 3.6 3.2 3.3 3.4 3 3.8 2.6 4 2.3 4.2 1.8 4.4 1.5 4.5 1.1 4.7 0.6 4.7 0.2 2.4 0 1.3 0 1.1 0 0.6"/><use href="#s197" transform="scale(1,-1)"/>
<path id="s198" d="M-52.7 0.6l0-0.6 0-1.1 0-1.3 0.1-2.4 0.4-4.7 0.8-4.7 1-4.7 1.2-4.6 1.6-4.5 1.8-4.4 2-4.3 2.3-4.2 2.5-4.1 2.8-3.9 2.9-3.7 3.2-3.6 3.3-3.5 3.5-3.2 3.6-3.1 3.8-2.9 3.9-2.7 4.1-2.5 4.2-2.3 4.2-2.2 4.4-1.9 4.4-1.8 4.5-1.5 4.6-1.4 4.5-1.7 4.4-1.9 4.4-1.8 4.4-1.7 4.5-1.7 4.4-1.7 4.5-1.5 4.6-1.6 4.5-1.4 4.6-1.4 4.6-1.3 4.6-1.3 4.6-1.2 4.6-1.2 4.7-1 4.6-1 4.7-0.9 4.7-0.9 4.7-0.8 4.7-0.7 4.8-0.7 4.7-0.5 4.7-0.5 4.8-0.4 4.8-0.4 4.7-0.3 4.8-0.1 4.8-0.2 4.7 0 4.8 0 4.8 0.1 4.7 0.1 4.8 0.2 4.8 0.2 4.7 0.4 4.8 0.5 4.7 0.5 4.8 0.7 4.7 0.8 4.7 0.8 4.6 0.9 4.7 1.1 4.6 1 4.7 1.2 4.6 1.2 4.6 1.3 4.6 1.4 4.5 1.4 4.6 1.4 4.5 1.6 4.5 1.5 4.5 1.6 4.5 1.7 4.4 1.7 4.4 1.8 4.4 1.9 4.4 1.9 4.3 2 4.4 2 4.3 2.1 4.2 2.1 4.3 2.1 4.3 2.2 4.2 2.1 4.3 2.2 4.2 2.2 4.2 2.2 4.3 2.2 4.2 2.3 4.2 2.2 4.3 2.1 4.4 1.8 4.5 1.6 4.2 2.2 3.7 2.9 3.8 3 3.7 3 3.7 3 3.8 2.9 3.7 3 3.7 3 3.8 2.9 3.7 3 3.7 3 3.7 3 3.8 2.9 3.7 3 3.7 3 3.8 3 3.7 2.9 1.9 1.5 1 0.8 0.8 0.7 0 0.6M746.6 0.6l0-0.6 0-1.1 0.1-1.3 0.1-2.4 0.7-4.7 1-4.7 1.5-4.5 1.9-4.4 2.3-4.2 2.6-4 3-3.8 3.3-3.4 3.6-3.2 3.9-2.8 4.1-2.5 4.3-2 4.5-1.7 4.6-1.3 4.7-0.8 4.8-0.5 4.7 0 4.8 0.5 4.7 0.8 4.6 1.3 4.5 1.7 4.3 2 4.1 2.5 3.9 2.8 3.6 3.2 3.3 3.4 3 3.8 2.6 4 2.3 4.2 1.9 4.4 1.5 4.5 1 4.7 0.7 4.7 0.1 2.4 0.1 1.3 0 1.1 0 0.6"/><use href="#s198" transform="scale(1,-1)"/>
<path id="s199" d="M-52.7 0.6l0-0.6 0-1.1 0-1.3 0.1-2.4 0.5-4.8 0.7-4.7 1-4.7 1.3-4.6 1.5-4.5 1.8-4.5 2.1-4.3 2.3-4.2 2.6-4 2.7-4 3-3.7 3.1-3.6 3.4-3.4 3.5-3.3 3.7-3.1 3.8-2.9 3.9-2.7 4.1-2.5 4.2-2.3 4.3-2.1 4.4-2 4.4-1.7 4.6-1.6 4.6-1.3 4.4-1.8 4.4-1.8 4.5-1.8 4.4-1.7 4.5-1.7 4.5-1.6 4.6-1.6 4.5-1.5 4.6-1.4 4.6-1.4 4.6-1.3 4.6-1.3 4.7-1.1 4.6-1.1 4.7-1.1 4.7-1 4.7-0.9 4.7-0.8 4.7-0.7 4.8-0.7 4.7-0.6 4.8-0.6 4.8-0.4 4.7-0.4 4.8-0.3 4.8-0.3 4.8-0.1 4.8-0.1 4.8 0 4.8 0 4.8 0.1 4.8 0.2 4.7 0.2 4.8 0.3 4.8 0.4 4.8 0.5 4.7 0.7 4.7 0.7 4.8 0.8 4.7 0.9 4.7 1 4.6 1 4.7 1.2 4.6 1.2 4.6 1.2 4.6 1.4 4.6 1.4 4.6 1.4 4.5 1.5 4.6 1.6 4.5 1.6 4.5 1.6 4.5 1.8 4.4 1.7 4.4 1.9 4.4 1.9 4.4 1.9 4.3 2.1 4.4 2 4.3 2.1 4.3 2.2 4.2 2.1 4.3 2.2 4.3 2.1 4.2 2.2 4.3 2.2 4.2 2.3 4.3 2.2 4.2 2.2 4.3 2.1 4.4 1.9 4.5 1.7 4.3 2 3.7 3 3.8 3 3.7 3 3.8 3 3.7 2.9 3.8 3 3.7 3 3.8 3 3.7 3 3.8 2.9 3.7 3 3.8 3 3.7 3 3.8 3 3.7 2.9 3.8 3 1.9 1.5 1 0.8 0.9 0.7 0 0.6M720 0.6l0-0.6 0-1.1 0-1.3 0.2-2.4 0.6-4.7 1.1-4.7 1.5-4.5 1.8-4.4 2.3-4.2 2.6-4 3-3.8 3.3-3.4 3.6-3.2 3.9-2.8 4.1-2.5 4.3-2 4.5-1.7 4.6-1.3 4.7-0.8 4.8-0.5 4.8 0 4.7 0.5 4.8 0.8 4.6 1.3 4.4 1.7 4.4 2 4.1 2.5 3.8 2.8 3.6 3.2 3.3 3.4 3 3.8 2.7 4 2.2 4.2 1.9 4.4 1.5 4.5 1.1 4.7 0.6 4.7 0.2 2.4 0 1.3 0 1.1 0 0.6"/><use href="#s199" transform="scale(1,-1)"/>
<path id="s200" d="M-52.7 0.6l0-0.6 0-1.1 0-1.3 0.1-2.4 0.4-4.7 0.8-4.7 1-4.7 1.2-4.6 1.6-4.5 1.8-4.4 2-4.3 2.3-4.2 2.5-4 2.7-3.9 3-3.8 3.1-3.6 3.3-3.4 3.5-3.3 3.7-3 3.7-2.9 4-2.7 4-2.6 4.2-2.3 4.2-2.1 4.4-2 4.4-1.7 4.5-1.6 4.6-1.3 4.4-1.7 4.4-1.8 4.5-1.8 4.4-1.7 4.5-1.7 4.5-1.6 4.5-1.5 4.5-1.5 4.6-1.4 4.5-1.4 4.6-1.3 4.6-1.2 4.6-1.2 4.7-1 4.6-1.1 4.7-0.9 4.7-0.9 4.7-0.8 4.7-0.8 4.7-0.7 4.7-0.6 4.8-0.5 4.7-0.4 4.8-0.4 4.7-0.3 4.8-0.3 4.8-0.1 4.7-0.1 4.8 0 4.8 0 4.7 0.1 4.8 0.1 4.7 0.3 4.8 0.3 4.7 0.4 4.8 0.5 4.7 0.6 4.7 0.8 4.7 0.8 4.7 0.9 4.7 0.9 4.6 1.1 4.6 1.1 4.7 1.2 4.6 1.3 4.5 1.3 4.6 1.4 4.5 1.4 4.6 1.5 4.5 1.6 4.5 1.6 4.4 1.6 4.5 1.7 4.4 1.8 4.4 1.8 4.4 1.9 4.3 2 4.4 2 4.3 2 4.2 2.1 4.3 2.2 4.3 2.1 4.2 2.1 4.3 2.2 4.2 2.2 4.2 2.2 4.3 2.2 4.2 2.2 4.2 2.2 4.3 2.1 4.4 1.8 4.5 1.6 4.1 2.3 3.8 2.9 3.7 3 3.7 2.9 3.8 3 3.7 3 3.7 2.9 3.8 3 3.7 2.9 3.7 3 3.8 3 3.7 2.9 3.7 3 3.8 3 3.7 2.9 3.7 3 3.8 2.9 1.8 1.5 1.1 0.8 0.8 0.7 0 0.6M693.3 0.6l0-0.6 0-1.1 0.1-1.3 0.1-2.4 0.6-4.7 1.1-4.7 1.5-4.5 1.9-4.4 2.2-4.2 2.7-4 3-3.8 3.3-3.4 3.6-3.2 3.8-2.8 4.2-2.5 4.3-2 4.4-1.7 4.7-1.3 4.7-0.8 4.7-0.5 4.8 0 4.8 0.5 4.7 0.8 4.6 1.3 4.5 1.7 4.3 2 4.1 2.5 3.9 2.8 3.6 3.2 3.3 3.4 3 3.8 2.6 4 2.3 4.2 1.8 4.4 1.5 4.5 1.1 4.7 0.6 4.7 0.2 2.4 0 1.3 0 1.1 0 0.6"/><use href="#s200" transform="scale(1,-1)"/>
<path id="s201" d="M-52.7 0.6l0-0.6 0-1.1 0-1.3 0.1-2.4 0.4-4.7 0.8-4.8 1-4.6 1.2-4.6 1.6-4.6 1.8-4.4 2.1-4.3 2.3-4.2 2.5-4.1 2.7-3.9 3-3.7 3.1-3.6 3.4-3.4 3.5-3.3 3.6-3.1 3.8-2.9 4-2.7 4-2.5 4.2-2.3 4.3-2.2 4.4-1.9 4.4-1.7 4.6-1.6 4.5-1.3 4.5-1.7 4.4-1.8 4.5-1.8 4.4-1.7 4.5-1.6 4.5-1.6 4.6-1.5 4.5-1.5 4.6-1.4 4.6-1.3 4.6-1.3 4.6-1.2 4.7-1.1 4.6-1.1 4.7-1 4.7-0.9 4.7-0.9 4.7-0.8 4.8-0.7 4.7-0.6 4.7-0.6 4.8-0.5 4.8-0.4 4.7-0.4 4.8-0.2 4.8-0.2 4.8-0.2 4.7 0 4.8 0 4.8 0.1 4.8 0.1 4.8 0.2 4.7 0.2 4.8 0.4 4.8 0.5 4.7 0.5 4.7 0.7 4.7 0.8 4.8 0.8 4.6 1 4.7 1 4.7 1.1 4.6 1.2 4.6 1.2 4.6 1.3 4.6 1.4 4.6 1.4 4.5 1.5 4.5 1.5 4.5 1.6 4.5 1.7 4.5 1.7 4.5 1.7 4.4 1.8 4.4 1.9 4.3 2 4.4 2 4.3 2 4.3 2.1 4.3 2.1 4.3 2.2 4.2 2.1 4.3 2.2 4.3 2.2 4.2 2.1 4.2 2.3 4.3 2.2 4.2 2.2 4.3 2.1 4.4 1.9 4.5 1.6 4.2 2.2 3.7 2.9 3.8 3 3.7 3 3.8 2.9 3.7 3 3.8 3 3.7 2.9 3.8 3 3.7 3 3.8 2.9 3.7 3 3.8 3 3.7 2.9 3.8 3 3.7 3 3.8 2.9 1.8 1.5 1.1 0.8 0.8 0.7 0 0.6M666.6 0.6l0-0.6 0-1.1 0.1-1.3 0.1-2.4 0.7-4.7 1.1-4.7 1.4-4.5 1.9-4.4 2.3-4.2 2.6-4 3-3.8 3.3-3.4 3.6-3.2 3.9-2.8 4.1-2.5 4.3-2 4.5-1.7 4.6-1.3 4.7-0.8 4.8-0.5 4.7 0 4.8 0.5 4.7 0.8 4.6 1.3 4.5 1.7 4.3 2 4.1 2.5 3.9 2.8 3.6 3.2 3.3 3.4 3 3.8 2.6 4 2.3 4.2 1.9 4.4 1.5 4.5 1 4.7 0.7 4.7 0.1 2.4 0.1 1.3 0 1.1 0 0.6"/><use href="#s201" transform="scale(1,-1)"/>
<path id="s202" d="M-52.7 0.6l0-0.6 0-1.1 0-1.3 0.1-2.4 0.5-4.8 0.7-4.7 1-4.7 1.3-4.6 1.5-4.5 1.8-4.5 2.1-4.3 2.3-4.2 2.6-4.1 2.7-3.9 3-3.7 3.2-3.6 3.3-3.5 3.5-3.2 3.7-3.1 3.8-2.9 4-2.7 4.1-2.5 4.1-2.3 4.3-2.2 4.4-1.9 4.5-1.7 4.5-1.6 4.6-1.3 4.5-1.7 4.5-1.8 4.4-1.8 4.5-1.6 4.5-1.7 4.6-1.5 4.5-1.5 4.6-1.5 4.6-1.3 4.6-1.3 4.6-1.3 4.7-1.1 4.6-1.2 4.7-1 4.7-1 4.7-0.9 4.7-0.8 4.8-0.8 4.7-0.6 4.8-0.7 4.7-0.5 4.8-0.5 4.8-0.4 4.8-0.3 4.8-0.2 4.7-0.2 4.8-0.1 4.8 0 4.8 0 4.8 0.1 4.8 0.2 4.8 0.2 4.8 0.3 4.8 0.4 4.7 0.6 4.8 0.6 4.7 0.7 4.7 0.8 4.7 1 4.7 1 4.7 1 4.7 1.2 4.6 1.2 4.6 1.3 4.6 1.3 4.6 1.4 4.6 1.5 4.5 1.5 4.5 1.6 4.5 1.6 4.5 1.7 4.5 1.7 4.4 1.9 4.5 1.8 4.3 2 4.4 2 4.3 2 4.3 2.1 4.3 2.1 4.3 2.1 4.3 2.2 4.3 2.2 4.3 2.1 4.2 2.2 4.3 2.3 4.2 2.2 4.3 2.2 4.3 2.1 4.4 1.9 4.5 1.6 4.2 2.2 3.8 2.9 3.7 3 3.8 3 3.8 3 3.7 2.9 3.8 3 3.7 3 3.8 2.9 3.8 3 3.7 3 3.8 3 3.7 2.9 3.8 3 3.8 3 3.7 3 3.8 2.9 1.9 1.5 1 0.8 0.8 0.7 0 0.6M640 0.6l0-0.6 0-1.1 0-1.3 0.2-2.4 0.6-4.7 1.1-4.7 1.5-4.5 1.8-4.4 2.3-4.2 2.6-4 3-3.8 3.3-3.4 3.6-3.2 3.9-2.8 4.1-2.5 4.3-2 4.5-1.7 4.6-1.3 4.7-0.8 4.8-0.5 4.8 0 4.7 0.5 4.8 0.8 4.6 1.3 4.4 1.7 4.4 2 4.1 2.5 3.8 2.8 3.6 3.2 3.3 3.4 3 3.8 2.7 4 2.2 4.2 1.9 4.4 1.5 4.5 1.1 4.7 0.6 4.7 0.2 2.4 0 1.3 0 1.1 0 0.6"/><use href="#s202" transform="scale(1,-1)"/>
<path id="s203" d="M-52.7 0.6l0-0.6 0-1.1 0-1.3 0.1-2.4 0.4-4.7 0.8-4.7 1-4.7 1.2-4.6 1.6-4.5 1.8-4.4 2-4.3 2.3-4.1 2.5-4.1 2.7-3.9 2.9-3.7 3.2-3.6 3.3-3.5 3.5-3.2 3.6-3.1 3.8-2.9 3.9-2.7 4-2.5 4.2-2.3 4.2-2.2 4.4-1.9 4.4-1.8 4.5-1.5 4.6-1.4 4.4-1.6 4.5-1.8 4.4-1.7 4.5-1.7 4.4-1.5 4.6-1.6 4.5-1.5 4.5-1.4 4.6-1.3 4.6-1.3 4.6-1.3 4.6-1.1 4.6-1.1 4.7-1 4.6-1 4.7-0.9 4.7-0.8 4.7-0.8 4.7-0.6 4.7-0.6 4.8-0.6 4.7-0.4 4.8-0.4 4.7-0.3 4.8-0.3 4.7-0.2 4.8 0 4.7-0.1 4.8 0.1 4.8 0.1 4.7 0.1 4.8 0.2 4.7 0.3 4.8 0.5 4.7 0.5 4.7 0.6 4.7 0.7 4.7 0.9 4.7 0.9 4.7 1 4.6 1 4.6 1.2 4.6 1.2 4.6 1.3 4.6 1.3 4.5 1.4 4.6 1.5 4.5 1.5 4.5 1.5 4.5 1.6 4.4 1.7 4.4 1.8 4.5 1.7 4.3 1.9 4.4 1.9 4.3 2 4.3 2.1 4.3 2 4.3 2.1 4.2 2.2 4.3 2.1 4.3 2.1 4.2 2.2 4.2 2.2 4.2 2.2 4.2 2.2 4.3 2.2 4.3 2.1 4.4 1.8 4.5 1.6 4 2.3 3.8 3 3.7 2.9 3.7 3 3.8 2.9 3.7 3 3.8 2.9 3.7 3 3.7 2.9 3.8 3 3.7 2.9 3.7 3 3.8 2.9 3.7 3 3.7 2.9 3.8 3 3.7 2.9 1.9 1.5 1 0.8 0.9 0.7 0 0.6M613.3 0.6l0-0.6 0-1.1 0.1-1.3 0.1-2.4 0.7-4.7 1-4.7 1.5-4.5 1.9-4.4 2.2-4.2 2.7-4 3-3.8 3.3-3.4 3.6-3.2 3.8-2.8 4.2-2.5 4.3-2 4.4-1.7 4.7-1.3 4.7-0.8 4.7-0.5 4.8 0 4.8 0.5 4.7 0.8 4.6 1.3 4.5 1.7 4.3 2 4.1 2.5 3.9 2.8 3.6 3.2 3.3 3.4 3 3.8 2.6 4 2.3 4.2 1.9 4.4 1.4 4.5 1.1 4.7 0.6 4.7 0.2 2.4 0 1.3 0.1 1.1 0 0.6"/><use href="#s203" transform="scale(1,-1)"/>
<path id="s204" d="M-52.7 0.6l0-0.6 0-1.1 0-1.3 0.1-2.4 0.4-4.7 0.8-4.7 1-4.7 1.2-4.6 1.6-4.5 1.8-4.4 2-4.3 2.3-4.2 2.5-4 2.8-4 2.9-3.7 3.1-3.6 3.4-3.4 3.4-3.3 3.7-3.1 3.8-2.9 3.9-2.7 4-2.5 4.2-2.3 4.3-2.1 4.3-2 4.5-1.7 4.5-1.6 4.5-1.3 4.5-1.7 4.4-1.7 4.5-1.7 4.5-1.6 4.5-1.6 4.5-1.5 4.5-1.5 4.6-1.4 4.6-1.3 4.6-1.3 4.6-1.2 4.6-1.1 4.7-1.1 4.6-1 4.7-0.9 4.7-0.9 4.7-0.8 4.7-0.7 4.7-0.7 4.8-0.5 4.7-0.5 4.8-0.5 4.7-0.3 4.8-0.3 4.7-0.2 4.8-0.1 4.8-0.1 4.7 0 4.8 0.1 4.8 0.1 4.7 0.2 4.8 0.2 4.8 0.4 4.7 0.5 4.7 0.5 4.8 0.7 4.7 0.8 4.6 0.9 4.7 0.9 4.7 1.1 4.6 1.1 4.6 1.2 4.6 1.2 4.6 1.4 4.6 1.3 4.5 1.5 4.5 1.5 4.6 1.5 4.4 1.6 4.5 1.7 4.5 1.7 4.4 1.8 4.4 1.8 4.3 2 4.4 1.9 4.3 2.1 4.3 2 4.3 2.1 4.2 2.2 4.3 2.1 4.3 2.1 4.2 2.2 4.3 2.2 4.2 2.2 4.2 2.2 4.2 2.2 4.3 2.1 4.4 1.9 4.5 1.5 4.1 2.3 3.8 3 3.7 3 3.7 2.9 3.8 3 3.7 2.9 3.8 3 3.7 2.9 3.7 3 3.8 3 3.7 2.9 3.8 3 3.7 2.9 3.8 3 3.7 2.9 3.7 3 3.8 2.9 1.8 1.5 1.1 0.8 0.8 0.7 0 0.6M586.6 0.6l0-0.6 0-1.1 0.1-1.3 0.2-2.4 0.6-4.7 1.1-4.7 1.4-4.5 1.9-4.4 2.3-4.2 2.6-4 3-3.8 3.3-3.4 3.6-3.2 3.9-2.8 4.1-2.5 4.3-2 4.5-1.7 4.6-1.3 4.7-0.8 4.8-0.5 4.8 0 4.7 0.5 4.7 0.8 4.6 1.3 4.5 1.7 4.3 2 4.1 2.5 3.9 2.8 3.6 3.2 3.3 3.4 3 3.8 2.6 4 2.3 4.2 1.9 4.4 1.5 4.5 1 4.7 0.7 4.7 0.1 2.4 0.1 1.3 0 1.1 0 0.6"/><use href="#s204" transform="scale(1,-1)"/>
<path id="s205" d="M-52.7 0.6l0-0.6 0-1.1 0-1.3 0.1-2.4 0.4-4.7 0.8-4.7 1-4.7 1.2-4.6 1.6-4.5 1.8-4.4 2-4.3 2.3-4.2 2.5-4.1 2.8-3.9 2.9-3.7 3.2-3.6 3.3-3.5 3.5-3.2 3.6-3.1 3.8-2.9 4-2.7 4-2.5 4.2-2.3 4.2-2.2 4.4-1.9 4.4-1.8 4.6-1.5 4.5-1.4 4.5-1.6 4.5-1.7 4.4-1.7 4.5-1.6 4.5-1.6 4.6-1.5 4.5-1.4 4.6-1.4 4.6-1.3 4.6-1.2 4.6-1.2 4.6-1.1 4.7-1.1 4.7-0.9 4.7-0.9 4.7-0.9 4.7-0.7 4.7-0.7 4.7-0.6 4.8-0.6 4.7-0.5 4.8-0.4 4.7-0.3 4.8-0.2 4.8-0.2 4.7-0.1 4.8 0 4.8 0 4.7 0.1 4.8 0.1 4.8 0.2 4.7 0.3 4.8 0.5 4.7 0.5 4.8 0.6 4.7 0.8 4.7 0.8 4.7 0.9 4.6 1 4.7 1.1 4.6 1.2 4.6 1.2 4.6 1.3 4.6 1.4 4.5 1.4 4.6 1.5 4.5 1.5 4.5 1.6 4.5 1.7 4.4 1.7 4.5 1.8 4.4 1.8 4.3 1.9 4.4 2 4.3 2 4.3 2 4.3 2.1 4.3 2.2 4.2 2.1 4.3 2.2 4.3 2.1 4.2 2.2 4.2 2.2 4.2 2.3 4.3 2.2 4.3 2 4.4 1.9 4.5 1.6 4.1 2.3 3.7 2.9 3.8 3 3.7 3 3.8 2.9 3.7 3 3.7 2.9 3.8 3 3.7 3 3.8 2.9 3.7 3 3.8 2.9 3.7 3 3.7 3 3.8 2.9 3.7 3 3.8 2.9 1.8 1.5 1.1 0.8 0.8 0.7 0 0.6M560 0.6l0-0.6 0-1.1 0-1.3 0.2-2.4 0.6-4.7 1.1-4.7 1.5-4.5 1.9-4.4 2.2-4.2 2.7-4 2.9-3.8 3.3-3.4 3.6-3.2 3.9-2.8 4.1-2.5 4.3-2 4.5-1.7 4.6-1.3 4.7-0.8 4.8-0.5 4.8 0 4.8 0.5 4.7 0.8 4.6 1.3 4.5 1.7 4.3 2 4.1 2.5 3.8 2.8 3.6 3.2 3.4 3.4 2.9 3.8 2.7 4 2.2 4.2 1.9 4.4 1.5 4.5 1.1 4.7 0.6 4.7 0.2 2.4 0 1.3 0 1.1 0 0.6"/><use href="#s205" transform="scale(1,-1)"/>
<path id="s206" d="M-52.7 0.6l0-0.6 0-1.1 0-1.3 0.1-2.4 0.4-4.7 0.8-4.7 1-4.7 1.2-4.6 1.6-4.5 1.8-4.4 2-4.3 2.3-4.2 2.6-4.1 2.7-3.9 2.9-3.7 3.2-3.6 3.3-3.5 3.5-3.2 3.6-3.1 3.8-2.9 4-2.7 4-2.5 4.2-2.3 4.2-2.2 4.4-1.9 4.4-1.8 4.6-1.5 4.5-1.4 4.5-1.6 4.5-1.7 4.5-1.7 4.4-1.5 4.6-1.6 4.5-1.5 4.6-1.4 4.5-1.3 4.6-1.3 4.7-1.2 4.6-1.2 4.6-1.1 4.7-1 4.7-0.9 4.7-0.9 4.7-0.8 4.7-0.7 4.7-0.7 4.7-0.6 4.8-0.5 4.7-0.5 4.8-0.3 4.8-0.3 4.7-0.2 4.8-0.2 4.8-0.1 4.8 0 4.7 0.1 4.8 0.1 4.8 0.2 4.7 0.3 4.8 0.3 4.7 0.5 4.8 0.6 4.7 0.7 4.7 0.8 4.7 0.9 4.7 0.9 4.6 1.1 4.6 1.1 4.7 1.3 4.6 1.2 4.5 1.4 4.6 1.4 4.5 1.4 4.6 1.6 4.5 1.5 4.5 1.7 4.4 1.7 4.5 1.7 4.4 1.8 4.4 1.9 4.3 2 4.3 2 4.3 2.1 4.3 2.1 4.3 2.1 4.3 2.1 4.2 2.2 4.3 2.1 4.2 2.2 4.2 2.2 4.3 2.3 4.2 2.2 4.3 2.1 4.4 1.9 4.5 1.6 4.1 2.2 3.7 3 3.8 3 3.7 2.9 3.8 3 3.7 2.9 3.7 3 3.8 3 3.7 2.9 3.8 3 3.7 3 3.8 2.9 3.7 3 3.7 2.9 3.8 3 3.7 3 3.8 2.9 1.8 1.5 1.1 0.8 0.8 0.7 0 0.6M533.3 0.6l0-0.6 0-1.1 0.1-1.3 0.1-2.4 0.7-4.7 1-4.7 1.5-4.5 1.9-4.4 2.3-4.2 2.6-4 3-3.8 3.3-3.4 3.6-3.2 3.9-2.8 4.1-2.5 4.3-2 4.5-1.7 4.6-1.3 4.7-0.8 4.7-0.5 4.8 0 4.8 0.5 4.7 0.8 4.6 1.3 4.5 1.7 4.3 2 4.1 2.5 3.9 2.8 3.6 3.2 3.3 3.4 3 3.8 2.6 4 2.3 4.2 1.9 4.4 1.4 4.5 1.1 4.7 0.6 4.7 0.2 2.4 0 1.3 0.1 1.1 0 0.6"/><use href="#s206" transform="scale(1,-1)"/>
<path id="s207" d="M-52.7 0.6l0-0.6 0-1.1 0-1.3 0.1-2.4 0.4-4.7 0.8-4.7 1-4.7 1.2-4.6 1.6-4.5 1.8-4.4 2-4.3 2.3-4.2 2.5-4.1 2.8-3.9 2.9-3.7 3.1-3.6 3.4-3.4 3.4-3.3 3.7-3.1 3.8-2.9 3.9-2.7 4.1-2.5 4.1-2.3 4.3-2.2 4.3-1.9 4.5-1.7 4.5-1.6 4.6-1.3 4.4-1.6 4.5-1.7 4.5-1.7 4.5-1.5 4.5-1.6 4.5-1.4 4.6-1.4 4.6-1.3 4.6-1.3 4.6-1.2 4.6-1.1 4.7-1.1 4.7-1 4.6-0.9 4.7-0.8 4.7-0.8 4.7-0.7 4.8-0.7 4.7-0.5 4.8-0.5 4.7-0.4 4.8-0.4 4.7-0.2 4.8-0.2 4.8-0.1 4.7-0.1 4.8 0.1 4.8 0 4.7 0.2 4.8 0.2 4.8 0.3 4.7 0.4 4.7 0.6 4.8 0.6 4.7 0.8 4.7 0.8 4.6 1 4.7 1 4.6 1.1 4.7 1.2 4.6 1.2 4.5 1.4 4.6 1.3 4.5 1.5 4.6 1.5 4.5 1.6 4.5 1.6 4.4 1.7 4.5 1.7 4.4 1.8 4.4 1.9 4.3 1.9 4.3 2 4.3 2.1 4.3 2.1 4.3 2.1 4.3 2.2 4.2 2.1 4.3 2.2 4.2 2.2 4.2 2.2 4.2 2.2 4.3 2.2 4.2 2.1 4.4 1.9 4.5 1.6 4.1 2.3 3.8 3 3.7 2.9 3.7 3 3.8 3 3.7 2.9 3.8 3 3.7 3 3.7 2.9 3.8 3 3.7 2.9 3.7 3 3.8 3 3.7 2.9 3.7 3 3.8 3 3.7 2.9 1.9 1.5 1 0.8 0.8 0.7 0 0.6M506.6 0.6l0-0.6 0.1-1.1 0-1.3 0.2-2.4 0.6-4.7 1.1-4.7 1.4-4.5 1.9-4.4 2.3-4.2 2.6-4 3-3.8 3.3-3.4 3.6-3.2 3.9-2.8 4.1-2.5 4.3-2 4.5-1.7 4.6-1.3 4.7-0.8 4.8-0.5 4.8 0 4.7 0.5 4.7 0.8 4.6 1.3 4.5 1.7 4.3 2 4.1 2.5 3.9 2.8 3.6 3.2 3.3 3.4 3 3.8 2.6 4 2.3 4.2 1.9 4.4 1.5 4.5 1 4.7 0.7 4.7 0.1 2.4 0.1 1.3 0 1.1 0 0.6"/><use href="#s207" transform="scale(1,-1)"/>
<path id="s208" d="M-52.7 0.6l0-0.6 0-1.1 0-1.3 0.1-2.4 0.4-4.7 0.8-4.7 1-4.7 1.2-4.5 1.6-4.6 1.8-4.4 2-4.3 2.3-4.1 2.5-4.1 2.7-3.9 2.9-3.7 3.2-3.6 3.3-3.5 3.5-3.2 3.6-3.1 3.8-2.9 3.9-2.7 4-2.5 4.2-2.3 4.2-2.2 4.4-1.9 4.4-1.8 4.5-1.5 4.6-1.4 4.5-1.6 4.4-1.6 4.5-1.6 4.5-1.6 4.5-1.5 4.5-1.4 4.6-1.4 4.6-1.3 4.6-1.2 4.6-1.2 4.6-1.1 4.7-1.1 4.6-0.9 4.7-0.9 4.7-0.8 4.7-0.8 4.7-0.7 4.7-0.6 4.8-0.5 4.7-0.5 4.8-0.4 4.7-0.3 4.8-0.2 4.7-0.2 4.8 0 4.7 0 4.8 0 4.8 0.1 4.7 0.2 4.8 0.2 4.7 0.4 4.8 0.5 4.7 0.6 4.7 0.7 4.7 0.8 4.7 0.9 4.6 1 4.7 1.1 4.6 1.1 4.6 1.3 4.6 1.3 4.5 1.3 4.6 1.5 4.5 1.5 4.5 1.5 4.5 1.6 4.4 1.7 4.5 1.7 4.4 1.8 4.4 1.9 4.3 1.9 4.3 2 4.3 2 4.3 2.1 4.3 2.2 4.2 2.1 4.3 2.1 4.2 2.2 4.2 2.2 4.2 2.2 4.2 2.3 4.3 2.2 4.2 2.1 4.4 1.9 4.5 1.6 4.1 2.3 3.7 2.9 3.7 3 3.8 3 3.7 2.9 3.7 3 3.7 3 3.8 2.9 3.7 3 3.7 3 3.7 2.9 3.7 3 3.8 3 3.7 2.9 3.7 3 3.7 3 3.8 2.9 1.8 1.5 1.1 0.8 0.8 0.7 0 0.6M480 0.6l0-0.6 0-1.1 0-1.3 0.2-2.4 0.6-4.7 1.1-4.7 1.5-4.5 1.9-4.4 2.2-4.2 2.7-4 2.9-3.8 3.3-3.4 3.7-3.2 3.8-2.8 4.1-2.5 4.3-2 4.5-1.7 4.6-1.3 4.7-0.8 4.8-0.5 4.8 0 4.8 0.5 4.7 0.8 4.6 1.3 4.5 1.7 4.3 2 4.1 2.5 3.8 2.8 3.7 3.2 3.3 3.4 2.9 3.8 2.7 4 2.2 4.2 1.9 4.4 1.5 4.5 1.1 4.7 0.6 4.7 0.2 2.4 0 1.3 0 1.1 0 0.6"/><use href="#s208" transform="scale(1,-1)"/>
<path id="s209" d="M-52.7 0.6l0-0.6 0-1.1 0-1.3 0.1-2.4 0.5-4.8 0.7-4.7 1-4.7 1.3-4.6 1.5-4.5 1.8-4.5 2.1-4.3 2.3-4.2 2.6-4.1 2.7-3.9 3-3.7 3.2-3.6 3.3-3.5 3.5-3.2 3.7-3.1 3.8-2.9 4-2.7 4-2.5 4.2-2.3 4.3-2.2 4.4-1.9 4.5-1.7 4.5-1.6 4.6-1.3 4.5-1.6 4.5-1.7 4.6-1.6 4.5-1.5 4.6-1.5 4.5-1.4 4.6-1.3 4.7-1.3 4.6-1.2 4.7-1.2 4.6-1 4.7-1 4.7-1 4.7-0.8 4.8-0.8 4.7-0.7 4.8-0.6 4.7-0.6 4.8-0.5 4.8-0.4 4.7-0.3 4.8-0.2 4.8-0.2 4.8-0.1 4.8 0 4.8 0 4.8 0.1 4.8 0.2 4.8 0.3 4.7 0.3 4.8 0.5 4.8 0.6 4.7 0.8 4.7 0.8 4.7 0.9 4.7 1 4.7 1.1 4.6 1.2 4.6 1.3 4.7 1.3 4.5 1.4 4.6 1.5 4.5 1.5 4.6 1.6 4.5 1.6 4.4 1.7 4.5 1.8 4.4 1.9 4.4 1.9 4.4 2 4.3 2 4.3 2.1 4.3 2.1 4.3 2.2 4.3 2.2 4.2 2.2 4.3 2.2 4.2 2.2 4.3 2.2 4.2 2.3 4.3 2.2 4.3 2 4.5 1.6 4.3 2.1 3.7 3 3.8 3 3.7 3 3.8 3 3.7 3 3.7 3 3.8 2.9 3.7 3 3.8 3 3.7 3 3.8 3 3.7 3 3.7 3 3.8 3 3.7 3 3.8 3 1.8 1.5 1.1 0.8 0.8 0.7 0 0.6M453.3 0.6l0-0.6 0-1.1 0.1-1.3 0.1-2.4 0.7-4.7 1-4.7 1.5-4.5 1.9-4.4 2.3-4.2 2.6-4 3-3.8 3.3-3.4 3.6-3.2 3.9-2.8 4.1-2.5 4.3-2 4.5-1.7 4.6-1.3 4.7-0.8 4.7-0.5 4.8 0 4.8 0.5 4.7 0.8 4.6 1.3 4.5 1.7 4.3 2 4.1 2.5 3.9 2.8 3.6 3.2 3.3 3.4 3 3.8 2.6 4 2.3 4.2 1.9 4.4 1.4 4.5 1.1 4.7 0.6 4.7 0.2 2.4 0 1.3 0.1 1.1 0 0.6"/><use href="#s209" transform="scale(1,-1)"/>
<path id="s210" d="M-52.7 0.6l0-0.6 0-1.1 0-1.3 0.1-2.4 0.4-4.7 0.8-4.7 1-4.7 1.2-4.6 1.6-4.5 1.8-4.5 2-4.3 2.3-4.2 2.6-4 2.7-3.9 3-3.8 3.1-3.6 3.3-3.4 3.5-3.2 3.7-3.1 3.8-2.9 3.9-2.7 4.1-2.5 4.1-2.4 4.3-2.1 4.4-1.9 4.4-1.8 4.5-1.5 4.6-1.4 4.5-1.6 4.5-1.6 4.5-1.6 4.5-1.5 4.6-1.4 4.5-1.4 4.6-1.4 4.6-1.2 4.7-1.2 4.6-1.1 4.7-1.1 4.6-0.9 4.7-0.9 4.7-0.9 4.7-0.7 4.8-0.7 4.7-0.6 4.8-0.5 4.7-0.5 4.8-0.4 4.7-0.2 4.8-0.3 4.8-0.1 4.8-0.1 4.7 0 4.8 0.1 4.8 0.1 4.7 0.2 4.8 0.4 4.8 0.4 4.7 0.5 4.7 0.7 4.7 0.8 4.7 0.9 4.7 1 4.7 1 4.6 1.2 4.6 1.2 4.6 1.3 4.6 1.4 4.5 1.5 4.6 1.5 4.5 1.5 4.5 1.7 4.4 1.7 4.5 1.7 4.4 1.9 4.3 1.9 4.4 1.9 4.3 2.1 4.3 2.1 4.3 2.1 4.2 2.1 4.3 2.2 4.2 2.2 4.3 2.2 4.2 2.2 4.2 2.3 4.2 2.3 4.3 2.1 4.3 2 4.5 1.7 4.2 2.1 3.7 3 3.7 3 3.8 3 3.7 3 3.7 3 3.7 2.9 3.7 3 3.8 3 3.7 3 3.7 3 3.7 3 3.7 3 3.8 3 3.7 3 3.7 3 3.7 3 1.9 1.5 1 0.8 0.8 0.7 0 0.6M426.6 0.6l0-0.6 0.1-1.1 0-1.3 0.2-2.4 0.6-4.7 1.1-4.7 1.4-4.5 1.9-4.4 2.3-4.2 2.6-4 3-3.8 3.3-3.4 3.6-3.2 3.9-2.8 4.1-2.5 4.3-2 4.5-1.7 4.6-1.3 4.7-0.8 4.8-0.5 4.8 0 4.7 0.5 4.7 0.8 4.6 1.3 4.5 1.7 4.3 2 4.1 2.5 3.9 2.8 3.6 3.2 3.3 3.4 3 3.8 2.6 4 2.3 4.2 1.9 4.4 1.5 4.5 1 4.7 0.7 4.7 0.1 2.4 0.1 1.3 0 1.1 0 0.6"/><use href="#s210" transform="scale(1,-1)"/>
<path id="s211" d="M-52.7 0.6l0-0.6 0-1.1 0-1.3 0.1-2.4 0.5-4.8 0.7-4.7 1-4.7 1.3-4.6 1.5-4.6 1.9-4.4 2-4.3 2.3-4.2 2.6-4.1 2.7-3.9 3-3.8 3.2-3.6 3.3-3.4 3.6-3.3 3.6-3 3.9-2.9 3.9-2.7 4.1-2.6 4.2-2.3 4.3-2.1 4.4-1.9 4.5-1.8 4.5-1.5 4.6-1.3 4.5-1.6 4.6-1.7 4.5-1.5 4.5-1.5 4.6-1.5 4.6-1.3 4.6-1.3 4.7-1.2 4.6-1.2 4.7-1.1 4.7-1 4.7-0.9 4.7-0.9 4.8-0.8 4.7-0.7 4.8-0.6 4.7-0.5 4.8-0.5 4.8-0.4 4.8-0.3 4.8-0.3 4.7-0.1 4.8-0.1 4.8 0 4.8 0.1 4.8 0.1 4.8 0.2 4.8 0.3 4.8 0.4 4.8 0.6 4.7 0.7 4.7 0.8 4.7 0.9 4.7 1 4.7 1.1 4.7 1.2 4.6 1.3 4.6 1.3 4.6 1.4 4.5 1.5 4.6 1.5 4.5 1.6 4.5 1.7 4.5 1.8 4.4 1.8 4.4 1.9 4.4 1.9 4.3 2 4.4 2.1 4.2 2.2 4.3 2.1 4.3 2.2 4.3 2.2 4.2 2.3 4.2 2.2 4.3 2.3 4.2 2.3 4.2 2.2 4.4 2.1 4.4 1.7 4.4 1.9 3.7 3 3.7 3 3.8 3.1 3.7 3 3.7 3 3.7 3 3.8 3.1 3.7 3 3.7 3 3.7 3 3.8 3.1 3.7 3 3.7 3 3.7 3 3.8 3.1 3.7 3 1.8 1.5 1.1 0.8 0.8 0.7 0 0.6M400 0.6l0-0.6 0-1.1 0-1.3 0.2-2.4 0.6-4.7 1.1-4.7 1.5-4.5 1.9-4.4 2.2-4.2 2.7-4 2.9-3.8 3.4-3.4 3.6-3.2 3.8-2.8 4.1-2.5 4.3-2 4.5-1.7 4.6-1.3 4.7-0.8 4.8-0.5 4.8 0 4.8 0.5 4.7 0.8 4.6 1.3 4.5 1.7 4.3 2 4.1 2.5 3.9 2.8 3.6 3.2 3.3 3.4 2.9 3.8 2.7 4 2.2 4.2 1.9 4.4 1.5 4.5 1.1 4.7 0.6 4.7 0.2 2.4 0 1.3 0 1.1 0 0.6"/><use href="#s211" transform="scale(1,-1)"/>
<path id="s212" d="M-52.7 0.6l0-0.6 0-1.1 0-1.3 0.1-2.4 0.4-4.7 0.8-4.7 1-4.7 1.2-4.6 1.6-4.5 1.8-4.4 2-4.3 2.3-4.2 2.5-4 2.7-3.9 3-3.8 3.1-3.6 3.3-3.4 3.5-3.3 3.7-3 3.7-2.9 4-2.7 4-2.6 4.2-2.3 4.2-2.1 4.4-2 4.4-1.7 4.5-1.6 4.6-1.3 4.5-1.6 4.5-1.6 4.5-1.5 4.5-1.5 4.6-1.4 4.5-1.3 4.6-1.3 4.6-1.2 4.7-1.2 4.6-1 4.7-1 4.7-0.9 4.6-0.9 4.8-0.7 4.7-0.7 4.7-0.6 4.7-0.5 4.8-0.5 4.7-0.4 4.8-0.2 4.7-0.3 4.8-0.1 4.8 0 4.7 0 4.8 0.1 4.8 0.1 4.7 0.3 4.8 0.4 4.7 0.5 4.7 0.6 4.8 0.7 4.6 0.9 4.7 1 4.7 1 4.6 1.2 4.6 1.2 4.6 1.3 4.5 1.4 4.6 1.5 4.5 1.5 4.5 1.6 4.4 1.7 4.5 1.7 4.4 1.8 4.4 1.9 4.3 1.9 4.3 2 4.3 2.1 4.3 2.1 4.2 2.2 4.3 2.2 4.2 2.2 4.2 2.2 4.2 2.3 4.2 2.3 4.2 2.2 4.2 2.3 4.3 2.1 4.4 1.7 4.3 1.9 3.7 3 3.7 3.1 3.7 3 3.7 3 3.7 3 3.6 3.1 3.7 3 3.7 3 3.7 3 3.7 3 3.7 3.1 3.7 3 3.6 3 3.7 3 3.7 3.1 3.7 3 1.8 1.5 1.1 0.8 0.8 0.7 0 0.6M373.3 0.6l0-0.6 0-1.1 0.1-1.3 0.1-2.4 0.7-4.7 1-4.7 1.5-4.5 1.9-4.4 2.3-4.2 2.6-4 3-3.8 3.3-3.4 3.6-3.2 3.9-2.8 4.1-2.5 4.3-2 4.5-1.7 4.6-1.3 4.7-0.8 4.7-0.5 4.8 0 4.8 0.5 4.7 0.8 4.6 1.3 4.5 1.7 4.3 2 4.1 2.5 3.9 2.8 3.6 3.2 3.3 3.4 3 3.8 2.6 4 2.3 4.2 1.9 4.4 1.4 4.5 1.1 4.7 0.6 4.7 0.2 2.4 0.1 1.3 0 1.1 0 0.6"/><use href="#s212" transform="scale(1,-1)"/>
<path id="s213" d="M-52.7 0.6l0-0.6 0-1.1 0-1.3 0.1-2.4 0.4-4.7 0.8-4.7 1-4.7 1.2-4.6 1.6-4.5 1.8-4.5 2-4.3 2.3-4.1 2.6-4.1 2.7-3.9 2.9-3.8 3.2-3.6 3.3-3.4 3.5-3.2 3.7-3.1 3.8-2.9 3.9-2.7 4-2.5 4.2-2.4 4.3-2.1 4.3-1.9 4.5-1.8 4.5-1.5 4.6-1.4 4.5-1.5 4.5-1.6 4.5-1.5 4.6-1.5 4.5-1.4 4.6-1.3 4.6-1.3 4.7-1.2 4.6-1.1 4.7-1 4.6-0.9 4.7-0.9 4.7-0.8 4.8-0.7 4.7-0.7 4.7-0.5 4.8-0.5 4.7-0.4 4.8-0.3 4.8-0.2 4.8-0.2 4.7 0 4.8 0 4.8 0.1 4.7 0.1 4.8 0.3 4.8 0.3 4.7 0.5 4.8 0.7 4.7 0.7 4.7 0.9 4.6 1 4.7 1.1 4.6 1.2 4.6 1.3 4.6 1.3 4.5 1.4 4.6 1.5 4.5 1.6 4.5 1.6 4.4 1.7 4.5 1.8 4.4 1.9 4.3 1.9 4.4 2 4.3 2.1 4.2 2.1 4.3 2.2 4.2 2.2 4.2 2.2 4.3 2.3 4.2 2.2 4.1 2.3 4.2 2.4 4.2 2.2 4.3 2.2 4.4 1.9 4.4 1.7 3.7 3 3.7 3 3.6 3.1 3.7 3 3.7 3.1 3.7 3 3.6 3.1 3.7 3 3.7 3.1 3.7 3 3.6 3.1 3.7 3 3.7 3.1 3.7 3 3.6 3.1 3.7 3 1.8 1.6 1.1 0.8 0.8 0.7 0 0.6M346.6 0.6l0-0.6 0.1-1.1 0-1.3 0.2-2.4 0.6-4.7 1.1-4.7 1.4-4.5 1.9-4.4 2.3-4.2 2.6-4 3-3.8 3.3-3.4 3.6-3.2 3.9-2.8 4.1-2.5 4.3-2 4.5-1.7 4.6-1.3 4.7-0.8 4.8-0.5 4.8 0 4.7 0.5 4.7 0.8 4.7 1.3 4.4 1.7 4.3 2 4.2 2.5 3.8 2.8 3.6 3.2 3.3 3.4 3 3.8 2.7 4 2.2 4.2 1.9 4.4 1.5 4.5 1 4.7 0.7 4.7 0.1 2.4 0.1 1.3 0 1.1 0 0.6"/><use href="#s213" transform="scale(1,-1)"/>
<path id="s214" d="M-52.7 0.6l0-0.6 0-1.1 0-1.3 0.1-2.4 0.4-4.7 0.8-4.7 1-4.7 1.2-4.6 1.6-4.5 1.8-4.4 2-4.3 2.3-4.2 2.5-4 2.7-3.9 3-3.8 3.1-3.6 3.3-3.4 3.5-3.3 3.6-3 3.8-2.9 4-2.7 4-2.6 4.2-2.3 4.2-2.1 4.4-2 4.4-1.7 4.5-1.6 4.6-1.3 4.5-1.5 4.5-1.6 4.5-1.5 4.5-1.5 4.6-1.4 4.6-1.3 4.6-1.2 4.6-1.1 4.7-1.1 4.6-1 4.7-0.9 4.7-0.9 4.7-0.7 4.7-0.7 4.7-0.6 4.8-0.5 4.7-0.4 4.8-0.4 4.7-0.2 4.8-0.2 4.8-0.1 4.7 0 4.8 0.1 4.8 0.1 4.7 0.2 4.8 0.4 4.7 0.5 4.7 0.6 4.7 0.8 4.7 0.9 4.7 1 4.6 1.1 4.6 1.2 4.6 1.3 4.6 1.3 4.5 1.5 4.5 1.5 4.5 1.6 4.5 1.7 4.4 1.7 4.4 1.8 4.4 1.9 4.3 2 4.3 2.1 4.3 2.1 4.2 2.2 4.3 2.2 4.2 2.2 4.2 2.3 4.1 2.3 4.2 2.3 4.2 2.3 4.1 2.3 4.2 2.3 4.4 2 4.4 1.6 3.9 2.7 3.6 3.1 3.7 3.1 3.6 3.1 3.7 3 3.6 3.1 3.7 3.1 3.6 3 3.6 3.1 3.7 3.1 3.6 3.1 3.7 3 3.6 3.1 1.3 1.1 0.8-3 1.5-4.5 1.9-4.4 2.3-4.2 2.7-3.9 3-3.7 3.4-3.4 3.6-3.1 3.9-2.8 4.1-2.4 4.3-2 4.4-1.6 4.7-1.3 4.6-0.8 4.8-0.4 4.8 0 4.7 0.5 4.7 0.9 4.6 1.3 4.4 1.7 4.3 2.1 4.1 2.4 3.8 2.8 3.6 3.2 3.3 3.4 2.9 3.8 2.7 4 2.2 4.2 1.9 4.3 1.4 4.6 1.1 4.6 0.6 4.7 0.2 2.4 0 1.3 0 1.1 0 0.6"/><use href="#s214" transform="scale(1,-1)"/>
<path id="s215" d="M-52.7 0.6l0-0.6 0-1.1 0-1.3 0.1-2.4 0.4-4.7 0.8-4.7 1-4.7 1.2-4.6 1.6-4.5 1.8-4.4 2-4.3 2.3-4.1 2.5-4.1 2.7-3.9 2.9-3.7 3.2-3.6 3.3-3.5 3.5-3.2 3.6-3.1 3.8-2.9 3.9-2.7 4-2.5 4.2-2.3 4.2-2.2 4.4-1.9 4.4-1.8 4.5-1.5 4.6-1.4 4.5-1.5 4.5-1.5 4.5-1.5 4.6-1.4 4.5-1.4 4.6-1.2 4.6-1.2 4.7-1.1 4.6-1.1 4.7-0.9 4.6-0.9 4.7-0.8 4.8-0.7 4.7-0.6 4.7-0.6 4.7-0.4 4.8-0.4 4.7-0.2 4.8-0.2 4.8-0.1 4.7 0 4.8 0 4.7 0.1 4.8 0.3 4.8 0.3 4.7 0.5 4.7 0.7 4.7 0.7 4.7 1 4.6 1 4.6 1.1 4.6 1.3 4.6 1.3 4.6 1.4 4.5 1.5 4.5 1.6 4.4 1.6 4.5 1.7 4.4 1.8 4.4 1.9 4.3 2 4.3 2 4.3 2.1 4.2 2.2 4.2 2.2 4.2 2.3 4.2 2.3 4.2 2.3 4.1 2.3 4.2 2.3 4.1 2.4 4.2 2.3 4.3 2 4.4 1.7 3.9 2.7 3.6 3.1 3.6 3.1 3.7 3.1 3.6 3.1 3.6 3.1 3.6 3 3.6 3.1 3.7 3.1 2.7 2.4 0.5-1 2.3-4.2 2.7-3.9 3-3.7 3.4-3.4 3.6-3.1 3.9-2.7 4.1-2.4 4.3-2 4.5-1.7 4.6-1.2 4.7-0.8 4.7-0.4 4.8 0 4.7 0.5 4.7 0.9 4.6 1.3 4.4 1.7 4.3 2.1 4.1 2.4 3.8 2.9 3.6 3.1 3.2 3.5 3 3.7 2.6 4 2.2 4.2 1.9 4.4 1.5 4.5 1 4.6 0.7 4.7 0.1 2.4 0.1 1.3 0 1.1 0 0.6"/><use href="#s215" transform="scale(1,-1)"/>
<path id="s216" d="M-52.7 0.6l0-0.6 0-1.1 0-1.3 0.1-2.4 0.4-4.7 0.8-4.8 1-4.7 1.3-4.6 1.5-4.5 1.8-4.4 2.1-4.3 2.3-4.2 2.5-4.1 2.8-3.9 2.9-3.8 3.2-3.6 3.3-3.4 3.5-3.2 3.7-3.1 3.8-2.9 3.9-2.7 4.1-2.5 4.2-2.4 4.3-2.1 4.4-1.9 4.4-1.8 4.5-1.5 4.6-1.3 4.6-1.5 4.5-1.6 4.6-1.4 4.6-1.3 4.6-1.3 4.6-1.2 4.7-1.2 4.6-1 4.7-1 4.7-0.8 4.7-0.8 4.8-0.7 4.7-0.7 4.8-0.5 4.7-0.4 4.8-0.4 4.8-0.2 4.8-0.2 4.8-0.1 4.7 0 4.8 0.1 4.8 0.1 4.8 0.3 4.8 0.4 4.7 0.6 4.7 0.7 4.7 0.9 4.7 1 4.7 1.1 4.6 1.2 4.6 1.3 4.6 1.5 4.5 1.5 4.5 1.5 4.5 1.7 4.5 1.8 4.4 1.8 4.4 1.9 4.3 2 4.3 2 4.3 2.2 4.2 2.2 4.3 2.3 4.2 2.3 4.2 2.3 4.1 2.3 4.2 2.4 4.1 2.4 4.2 2.4 4.2 2.2 4.4 1.9 4.2 2.1 3.7 3.1 3.6 3.2 3.6 3.1 3.6 3.1 3.6 3.2 3.7 3.1 0.4 0.4 2.6-3.2 3.4-3.5 3.6-3.1 3.8-2.8 4.1-2.5 4.4-2.1 4.4-1.6 4.6-1.3 4.8-0.8 4.7-0.5 4.8 0 4.8 0.5 4.7 0.8 4.6 1.3 4.5 1.7 4.3 2.1 4.1 2.4 3.8 2.8 3.6 3.2 3.3 3.4 3 3.8 2.7 4 2.2 4.2 1.9 4.4 1.5 4.5 1 4.7 0.7 4.7 0.2 2.4 0 1.3 0 1.1 0 0.6"/><use href="#s216" transform="scale(1,-1)"/>
<path id="s217" d="M-52.7 0.6l0-0.6 0-1.1 0-1.3 0.1-2.4 0.4-4.8 0.8-4.7 1-4.7 1.3-4.6 1.5-4.5 1.8-4.5 2.1-4.3 2.3-4.2 2.6-4 2.7-3.9 3-3.8 3.1-3.6 3.4-3.4 3.5-3.3 3.7-3.1 3.8-2.9 3.9-2.7 4.1-2.5 4.2-2.3 4.3-2.1 4.4-2 4.4-1.7 4.6-1.5 4.6-1.4 4.5-1.5 4.6-1.4 4.6-1.4 4.6-1.3 4.6-1.2 4.7-1.1 4.7-1.1 4.6-0.9 4.8-0.9 4.7-0.8 4.7-0.7 4.8-0.7 4.7-0.5 4.8-0.4 4.8-0.4 4.8-0.2 4.8-0.2 4.7-0.1 4.8 0 4.8 0.1 4.8 0.2 4.8 0.3 4.8 0.5 4.7 0.7 4.7 0.8 4.7 0.9 4.7 1.1 4.6 1.2 4.6 1.3 4.6 1.4 4.6 1.5 4.5 1.6 4.5 1.7 4.4 1.8 4.4 1.8 4.4 1.9 4.4 2 4.3 2.2 4.2 2.2 4.2 2.2 4.2 2.3 4.2 2.4 4.2 2.3 4.2 2.4 4.1 2.4 4.1 2.4 4.2 2.4 4.3 2.1 4.5 1.7 3.7 3 3.6 3.2 3.6 3.2 3.6 3.1 0.7 0.7 2.9-2.5 3.9-2.9 4.1-2.4 4.3-2.1 4.5-1.7 4.6-1.3 4.7-0.8 4.7-0.5 4.8 0 4.8 0.4 4.7 0.9 4.6 1.3 4.5 1.6 4.3 2.1 4.2 2.5 3.8 2.8 3.6 3.1 3.3 3.5 3 3.7 2.7 4 2.2 4.2 1.9 4.4 1.5 4.6 1.1 4.7 0.6 4.7 0.2 2.4 0 1.3 0 1.1 0 0.6"/><use href="#s217" transform="scale(1,-1)"/>
<path id="s218" d="M-52.7 0.6l0-0.6 0-1.1 0-1.3 0.1-2.4 0.4-4.7 0.8-4.7 1-4.7 1.2-4.6 1.6-4.5 1.8-4.4 2-4.3 2.3-4.2 2.5-4 2.7-3.9 3-3.8 3.1-3.6 3.3-3.4 3.5-3.2 3.6-3.1 3.8-2.9 3.9-2.7 4.1-2.5 4.1-2.4 4.3-2.1 4.4-2 4.4-1.7 4.5-1.6 4.6-1.3 4.5-1.4 4.6-1.4 4.6-1.3 4.6-1.2 4.6-1.2 4.6-1 4.7-1 4.7-0.9 4.7-0.8 4.7-0.7 4.7-0.7 4.7-0.5 4.8-0.5 4.7-0.3 4.8-0.3 4.8-0.2 4.7 0 4.8 0 4.7 0.1 4.8 0.2 4.8 0.3 4.7 0.5 4.7 0.7 4.7 0.8 4.7 1 4.6 1.2 4.6 1.2 4.6 1.4 4.5 1.5 4.5 1.5 4.5 1.7 4.4 1.7 4.4 1.9 4.3 1.9 4.4 2 4.2 2.1 4.3 2.2 4.1 2.3 4.2 2.3 4.1 2.4 4.2 2.3 4.1 2.4 4.1 2.5 4.1 2.4 4.1 2.4 4.3 2 4.3 2 3.6 3.1 3.5 3.2 0.3 0.3 3.8-2.2 4.3-2 4.5-1.7 4.6-1.2 4.7-0.8 4.7-0.4 4.8 0 4.7 0.5 4.7 0.9 4.6 1.3 4.5 1.7 4.2 2.1 4.1 2.4 3.9 2.8 3.5 3.2 3.3 3.4 3 3.8 2.6 4 2.2 4.2 1.9 4.3 1.5 4.6 1 4.6 0.7 4.7 0.1 2.4 0.1 1.3 0 1.1 0 0.6"/><use href="#s218" transform="scale(1,-1)"/>
<path id="s219" d="M-52.7 0.6l0-0.6 0-1.1 0-1.3 0.1-2.4 0.4-4.7 0.8-4.7 0.9-4.6 1.3-4.6 1.5-4.5 1.8-4.4 2.1-4.3 2.3-4.2 2.5-4.1 2.7-3.9 2.9-3.7 3.1-3.6 3.3-3.4 3.5-3.3 3.7-3 3.7-2.9 3.9-2.8 4.1-2.5 4.1-2.3 4.3-2.2 4.3-1.9 4.4-1.8 4.5-1.5 4.6-1.4 4.5-1.3 4.6-1.4 4.6-1.2 4.6-1.2 4.6-1.1 4.7-1 4.7-0.9 4.6-0.8 4.7-0.7 4.8-0.7 4.7-0.5 4.7-0.5 4.8-0.3 4.7-0.2 4.8-0.2 4.7 0 4.8 0 4.8 0.1 4.7 0.3 4.7 0.4 4.8 0.7 4.6 0.8 4.7 1 4.6 1.2 4.6 1.2 4.5 1.5 4.5 1.5 4.5 1.6 4.4 1.7 4.4 1.8 4.4 2 4.3 2 4.3 2.1 4.2 2.2 4.2 2.3 4.1 2.4 4.1 2.4 4.1 2.4 4.1 2.4 4 2.5 4.1 2.5 4.1 2.4 4.2 2.1 4.2 2.2 2.8 2.5 0.9-0.4 4.5-1.6 4.6-1.2 4.7-0.8 4.7-0.4 4.8 0 4.7 0.5 4.7 0.9 4.5 1.3 4.5 1.7 4.3 2.1 4 2.5 3.9 2.8 3.5 3.1 3.3 3.5 2.9 3.7 2.6 4 2.3 4.2 1.8 4.4 1.5 4.5 1.1 4.6 0.6 4.7 0.2 2.4 0 1.3 0 1.1 0 0.6"/><use href="#s219" transform="scale(1,-1)"/>
<path id="s220" d="M-52.7 0.6l0-0.6 0-1.1 0-1.3 0.1-2.4 0.4-4.7 0.8-4.7 0.9-4.6 1.3-4.6 1.5-4.5 1.8-4.4 2.1-4.3 2.2-4.2 2.6-4 2.7-3.9 2.9-3.8 3.1-3.6 3.3-3.4 3.5-3.2 3.6-3.1 3.8-2.9 3.9-2.7 4-2.5 4.2-2.4 4.2-2.1 4.3-2 4.5-1.7 4.5-1.6 4.5-1.4 4.6-1.2 4.6-1.2 4.6-1.2 4.6-1 4.7-1 4.7-0.8 4.7-0.8 4.7-0.7 4.7-0.6 4.7-0.5 4.8-0.4 4.7-0.3 4.8-0.2 4.7-0.1 4.8 0 4.7 0.1 4.8 0.2 4.7 0.4 4.7 0.6 4.7 0.8 4.7 1 4.6 1.2 4.5 1.3 4.6 1.4 4.5 1.6 4.4 1.7 4.4 1.8 4.4 1.8 4.3 2 4.3 2.1 4.2 2.2 4.1 2.4 4.1 2.4 4.1 2.4 4.1 2.5 4 2.5 4.1 2.5 4 2.5 4 2.5 4.3 2 2.8 1.4 1.6-0.3 4.7-0.8 4.7-0.4 4.8 0.1 4.7 0.4 4.7 0.9 4.5 1.3 4.5 1.7 4.2 2.1 4.1 2.5 3.8 2.8 3.6 3.2 3.2 3.4 3 3.7 2.6 4 2.2 4.2 1.9 4.4 1.5 4.5 1 4.6 0.6 4.8 0.2 2.3 0 1.3 0 1.1 0 0.6"/><use href="#s220" transform="scale(1,-1)"/>
<path id="s221" d="M-52.7 0.6l0-0.6 0-1.1 0-1.3 0.1-2.4 0.4-4.7 0.8-4.7 1-4.7 1.2-4.6 1.6-4.5 1.8-4.4 2-4.3 2.3-4.2 2.5-4 2.7-3.9 3-3.8 3.1-3.6 3.3-3.4 3.5-3.2 3.6-3.1 3.8-2.9 3.9-2.7 4.1-2.5 4.1-2.4 4.3-2.1 4.3-2 4.5-1.7 4.5-1.6 4.5-1.3 4.7-1.1 4.6-1.1 4.7-0.9 4.7-0.8 4.7-0.8 4.7-0.6 4.7-0.6 4.8-0.5 4.7-0.4 4.8-0.3 4.7-0.2 4.8-0.1 4.8 0 4.7 0 4.8 0.3 4.7 0.4 4.8 0.7 4.6 0.8 4.7 1.2 4.6 1.2 4.5 1.5 4.5 1.6 4.4 1.7 4.4 1.8 4.4 2 4.3 2.1 4.2 2.1 4.2 2.4 4.1 2.4 4 2.5 4.1 2.5 4 2.5 4 2.6 4 2.6 4 2.5 4.3 2.1 0.2 0.1 4.6-0.4 4.7 0 4.8 0.5 4.6 0.9 4.6 1.3 4.5 1.7 4.3 2.1 4 2.4 3.9 2.8 3.5 3.2 3.3 3.5 3 3.7 2.6 4 2.2 4.2 1.9 4.3 1.5 4.6 1 4.6 0.7 4.7 0.1 2.4 0.1 1.3 0 1.1 0 0.6"/><use href="#s221" transform="scale(1,-1)"/>
<path id="s222" d="M-52.7 0.6l0-0.6 0-1.1 0-1.3 0.1-2.4 0.4-4.7 0.8-4.8 1-4.6 1.2-4.6 1.6-4.6 1.8-4.4 2.1-4.3 2.3-4.2 2.5-4.1 2.7-3.9 3-3.7 3.2-3.6 3.3-3.5 3.5-3.2 3.6-3.1 3.8-2.9 4-2.7 4.1-2.5 4.1-2.3 4.3-2.2 4.4-1.9 4.4-1.7 4.6-1.6 4.6-1.3 4.6-0.9 4.8-0.8 4.7-0.6 4.7-0.6 4.8-0.5 4.8-0.4 4.7-0.4 4.8-0.3 4.8-0.2 4.8-0.1 4.7 0 4.8 0.1 4.8 0.2 4.8 0.5 4.7 0.8 4.6 1 4.7 1.3 4.5 1.4 4.5 1.7 4.4 1.7 4.4 2 4.4 2 4.2 2.2 4.2 2.3 4.1 2.4 4.1 2.6 4 2.6 4 2.6 3.9 2.6 4 2.8 4 2.5 2.7 1.4 1.8 0 4.7 0.5 4.7 0.8 4.6 1.3 4.5 1.7 4.3 2.1 4.1 2.4 3.9 2.8 3.6 3.2 3.3 3.4 2.9 3.8 2.7 4 2.2 4.2 1.9 4.4 1.5 4.5 1.1 4.7 0.6 4.7 0.2 2.4 0 1.3 0 1.1 0 0.6"/><use href="#s222" transform="scale(1,-1)"/>
<path id="s223" d="M-52.7 0.6l0-0.6 0-1.1 0-1.3 0.1-2.3 0.4-4.8 0.7-4.6 1-4.7 1.3-4.5 1.5-4.5 1.8-4.4 2-4.3 2.3-4.2 2.5-4 2.7-3.9 2.9-3.7 3.1-3.6 3.3-3.4 3.4-3.3 3.6-3.1 3.8-2.8 3.8-2.8 4-2.5 4.2-2.3 4.2-2.2 4.3-1.9 4.4-1.8 4.5-1.6 4.5-1.3 4.7-0.8 4.7-0.4 4.7-0.4 4.7-0.2 4.8-0.3 4.7-0.2 4.7-0.1 4.8-0.1 4.7-0.1 4.8 0.1 4.7 0.1 4.7 0.4 4.7 0.8 4.6 1 4.6 1.4 4.4 1.5 4.5 1.7 4.3 1.9 4.3 2 4.2 2.2 4.1 2.3 4.1 2.5 3.9 2.6 3.9 2.7 3.9 2.7 3.9 2.7 3.8 2.8 4.1 2.5 2.1 0.9 0.7 0.5 1.5 0.4 4.5 1.3 4.5 1.7 4.2 2.1 4 2.5 3.9 2.8 3.5 3.2 3.2 3.4 3 3.7 2.5 4 2.3 4.2 1.8 4.3 1.5 4.6 1 4.6 0.6 4.7 0.2 2.3 0 1.3 0.1 1.1 0 0.6"/><use href="#s223" transform="scale(1,-1)"/>
<path id="s224" d="M-54.2 0.6l0-0.6 0-1.1 0-1.3 0.1-2.3 0.3-4.8 0.5-4.7 0.7-4.6 1.1-4.7 1.3-4.5 1.6-4.5 2-4.3 2.2-4.2 2.5-4 2.7-3.8 3-3.7 3.3-3.5 3.4-3.2 3.6-3 3.9-2.8 3.9-2.6 4.1-2.4 4.3-2.1 4.3-1.9 4.4-1.8 4.5-1.5 4.5-1.3 4.6-1.1 4.7-1 4.7-0.7 4.6-0.6 4.8-0.5 4.7-0.3 4.7-0.2 4.8 0 4.7 0 4.7 0.2 4.7 0.3 4.8 0.5 4.7 0.6 4.6 0.8 4.7 0.9 4.6 1 4.6 1.2 4.5 1.4 4.5 1.5 4.4 1.7 4.4 1.9 4.3 2 4.2 2.1 4.1 2.4 4 2.5 3.9 2.7 3.8 2.8 3.6 3 3.5 3.2 3.3 3.4 3.2 3.6 2.9 3.7 2.7 3.9 2.4 4 2.2 4.2 1.9 4.4 1.2 4.6 1.4 4.5 1.1 4.6 0.6 4.7 0.1 2.3 0.1 1.3 0 1.1 0 0.6"/><use href="#s224" transform="scale(1,-1)"/>
<path id="s225" d="M-54 0.6l0-0.6 0-1.1 0.1-1.3 0-2.4 0.4-4.8 0.5-4.7 0.9-4.7 1.2-4.6 1.4-4.6 1.7-4.5 2.1-4.3 2.3-4.2 2.5-4 2.9-3.8 3.1-3.7 3.3-3.4 3.6-3.2 3.7-2.9 4-2.8 4.1-2.4 4.2-2.2 4.4-2 4.5-1.6 4.5-1.5 4.7-1.1 4.7-1 4.7-0.7 4.7-0.5 4.8-0.2 4.8-0.1 4.8 0.1 4.8 0.3 4.7 0.4 4.8 0.6 4.7 0.7 4.7 1 4.6 1.1 4.6 1.2 4.6 1.5 4.5 1.6 4.4 1.8 4.4 2 4.2 2.1 4.2 2.4 4 2.5 4 2.8 3.8 2.9 3.6 3.1 3.5 3.3 3.2 3.5 3.1 3.7 2.8 3.8 2.6 4.1 2.2 4.2 2 4.3 1.3 4.6 1.5 4.5 1.1 4.7 0.6 4.7 0.2 2.4 0 1.3 0 1.1 0 0.6"/><use href="#s225" transform="scale(1,-1)"/>
<path id="s226" d="M-53.8 0.6l0-0.6 0-1.1 0.1-1.3 0.1-2.3 0.3-4.7 0.7-4.7 1-4.6 1.2-4.6 1.6-4.4 1.8-4.4 2.2-4.2 2.4-4 2.7-3.9 3-3.6 3.2-3.5 3.5-3.2 3.7-2.9 3.8-2.7 4.1-2.5 4.2-2.2 4.3-1.8 4.4-1.6 4.6-1.4 4.6-1 4.6-0.8 4.7-0.5 4.7-0.3 4.7 0 4.8 0.2 4.7 0.4 4.6 0.6 4.7 0.9 4.6 1 4.5 1.3 4.5 1.5 4.4 1.7 4.3 2 4.2 2.1 4.1 2.4 3.9 2.6 3.8 2.8 3.6 3 3.5 3.3 3.2 3.4 3 3.7 2.8 3.8 2.5 4 2.2 4.2 1.9 4.3 1.6 4.4 1.2 4.6 0.9 4.6 0.6 4.7 0.1 2.3 0 1.3 0.1 1.1 0 0.6"/><use href="#s226" transform="scale(1,-1)"/>
<path id="s227" d="M-53.5 0.6l0-0.6 0-1.1 0-1.3 0.1-2.4 0.5-4.7 0.9-4.7 1.2-4.6 1.5-4.6 1.9-4.3 2.2-4.3 2.6-4 2.8-3.8 3.2-3.6 3.4-3.4 3.7-3 3.8-2.8 4.1-2.5 4.3-2.2 4.4-1.9 4.5-1.5 4.6-1.2 4.7-0.9 4.7-0.6 4.8-0.3 4.8 0.1 4.7 0.3 4.8 0.7 4.6 1 4.6 1.3 4.5 1.6 4.4 1.9 4.3 2.2 4 2.5 3.9 2.7 3.7 3.1 3.5 3.3 3.2 3.5 2.9 3.8 2.7 3.9 2.3 4.2 2 4.3 1.7 4.5 1.3 4.6 0.9 4.7 0.6 4.7 0.1 2.4 0.1 1.3 0 1.1 0 0.6"/><use href="#s227" transform="scale(1,-1)"/>
<path id="s228" d="M-53.3 0.6l0-0.6 0-1.1 0-1.3 0.2-2.4 0.6-4.7 1.1-4.7 1.5-4.5 1.9-4.4 2.2-4.3 2.7-3.9 2.9-3.8 3.3-3.4 3.6-3.2 3.9-2.8 4.1-2.5 4.3-2 4.5-1.7 4.6-1.3 4.7-0.8 4.8-0.5 4.8 0 4.8 0.5 4.7 0.8 4.6 1.3 4.5 1.7 4.3 2 4.1 2.5 3.9 2.8 3.6 3.2 3.3 3.4 2.9 3.8 2.7 3.9 2.2 4.3 1.9 4.4 1.5 4.5 1.1 4.7 0.6 4.7 0.2 2.4 0 1.3 0 1.1 0 0.6"/><use href="#s228" transform="scale(1,-1)"/>
</g>
</g>
<path d="M1349.2 210.3 1353.9 207.5 1358.6 204.6 1363.2 201.8 1367.6 199 1372 196.2 1376.4 193.5 1380.7 190.7 1385 188 1389.2 185.3 1393.5 182.6 1397.8 179.9 1402.1 177.2 1406.4 174.6 1410.8 171.9 1415.3 169.3 1419.9 166.7 1424.6 164.1 1429.5 161.5 1434.4 158.9 1439.5 156.3 1444.8 153.7 1450.3 151.1 1455.9 148.5 1461.8 146 1467.9 143.4 1474.2 140.9 1480.7 138.5 1487.4 136.1 1494.4 133.7 1501.5 131.5 1508.8 129.4 1516.3 127.5 1524 125.6 1531.8 124 1539.9 122.6 1548.1 121.3 1556.4 120.3 1565 119.5 1573.6 119 1582.5 118.8 1591.4 118.8 1600.4 119.1 1609.4 119.6 1618.5 120.4 1627.4 121.3 1636.3 122.5 1645 123.8 1653.6 125.3 1661.9 127 1669.9 128.8 1677.6 130.7 1685 132.7 1692 134.7 1698.7 136.9 1705.1 139.2 1711.3 141.5 1717.2 143.9 1723 146.3 1728.5 148.8 1733.9 151.3 1739.3 153.9 1744.5 156.5 1749.7 159.1 1754.8 161.7 1759.9 164.3 1765.1 166.9 1770.4 169.5 1775.7 172.1 1781 174.7 1786.4 177.3 1792 179.8 1797.6 182.3 1803.2 184.8 1809 187.3 1814.9 189.8 1820.9 192.2 1827.2 194.5 1834.2 196.5 1842 197.9 1850.7 199 1859.6 199.8 1868.6 200.5 1877.7 201.1 1886.8 201.6 1896 201.9 1905.3 202.2 1914.7 202.5 1924.1 202.6 1933.5 202.7 1942.9 202.8 1952.4 202.9 1961.8 202.9 1971.2 202.9 1980.7 202.9 1990.1 202.9 1999.5 202.9 2008.9 202.9 2018.3 202.9 2027.7 202.8 2037.1 202.8 2046.5 202.8 2055.9 202.7 2065.2 202.7 2074.6 202.7 2084 202.6 2093.3 202.6 2102.7 202.5 2112 202.5 2121.4 202.5 2130.7 202.5 2140.1 202.4 2149.4 202.4 2158.8 202.4 2168.1 202.4 2177.4 202.4 2186.8 202.4 2196.1 202.5 2205.4 202.5 2214.7 202.5 2224.1 202.6 2233.4 202.7 2242.7 202.8 2252.1 202.9 2261.4 203 2270.7 203.1 2280 203.2 2289.4 203.4 2298.7 203.6 2308 203.8 2317.4 204 2326.7 204.2 2336.1 204.5 2345.4 204.8 2354.7 205.1 2363.9 205.6 2373 206.3 2381.8 207.3 2390.4 208.6 2398.7 210.3Z" fill="#000"/>
<path d="M1349.2 716 1353.8 713.3 1358.4 710.6 1363 707.9 1367.5 705.2 1371.9 702.4 1376.4 699.7 1380.8 696.9 1385.2 694.1 1389.6 691.4 1394.1 688.6 1398.5 685.9 1403.1 683.1 1407.7 680.4 1412.4 677.7 1417.1 675 1422 672.4 1427 669.7 1432.1 667.1 1437.4 664.5 1442.8 662 1448.4 659.5 1454.1 657 1460.1 654.6 1466.2 652.2 1472.6 649.9 1479.2 647.6 1486.1 645.4 1493.2 643.3 1500.5 641.2 1508.1 639.2 1515.9 637.4 1523.9 635.6 1532 634.1 1540.3 632.7 1548.8 631.5 1557.3 630.5 1565.9 629.8 1574.6 629.3 1583.3 629.2 1592 629.3 1600.7 629.8 1609.4 630.7 1618.1 631.8 1626.6 633.3 1635.1 635 1643.3 636.8 1651.3 638.8 1659.1 640.9 1666.5 643 1673.7 645.2 1680.6 647.3 1687.2 649.5 1693.5 651.7 1699.7 654 1705.6 656.3 1711.4 658.7 1717 661.1 1722.5 663.6 1727.9 666.1 1733.2 668.8 1738.5 671.4 1743.9 674 1749.3 676.7 1754.8 679.3 1760.5 681.9 1766.3 684.3 1772.5 686.7 1778.8 689 1785.6 691.2 1792.6 693.2 1800 694.9 1807.7 696.5 1815.8 697.7 1824.3 698.7 1833.1 699.3 1842.2 699.6 1851.5 699.7 1860.9 699.5 1870.3 699.1 1879.6 698.6 1888.9 697.9 1898 697.1 1907 696.2 1915.9 695.2 1924.8 694.2 1933.7 693.1 1942.6 692 1951.5 690.9 1960.5 689.8 1969.4 688.7 1978.4 687.6 1987.3 686.5 1996.3 685.5 2005.3 684.6 2014.3 683.7 2023.3 682.9 2032.4 682.2 2041.4 681.6 2050.4 681.1 2059.5 680.7 2068.5 680.5 2077.6 680.3 2086.6 680.4 2095.7 680.6 2104.7 680.9 2113.8 681.5 2122.8 682.2 2131.9 683.1 2141 684.1 2150 685.1 2159.1 686.2 2168.2 687.4 2177.2 688.5 2186.3 689.6 2195.4 690.6 2204.5 691.5 2213.6 692.3 2222.8 693 2231.9 693.6 2241 694.2 2250.2 694.6 2259.4 695.1 2268.5 695.5 2277.7 696 2286.9 696.4 2296.1 696.9 2305.3 697.5 2314.5 698.1 2323.6 698.8 2332.7 699.7 2341.7 700.7 2350.4 701.8 2358.8 703.2 2366.8 704.7 2374.4 706.4 2381.4 708.4 2387.9 710.7 2393.7 713.2 2398.7 716Z" fill="#000"/>
<path d="M1349.2 1221.7 1354 1219.1 1358.9 1216.4 1363.8 1213.8 1368.7 1211.2 1373.7 1208.7 1378.6 1206.1 1383.6 1203.6 1388.6 1201.1 1393.7 1198.6 1398.8 1196.2 1404 1193.7 1409.2 1191.3 1414.6 1188.9 1419.9 1186.5 1425.4 1184.1 1430.9 1181.8 1436.6 1179.4 1442.3 1177.1 1448.1 1174.8 1454.1 1172.5 1460.1 1170.2 1466.3 1168 1472.6 1165.7 1479 1163.5 1485.6 1161.3 1492.3 1159.1 1499.2 1156.9 1506.2 1154.8 1513.3 1152.7 1520.6 1150.7 1528 1148.8 1535.6 1147 1543.3 1145.4 1551.1 1143.9 1559 1142.5 1567.1 1141.4 1575.3 1140.4 1583.6 1139.7 1592 1139.2 1600.6 1139 1609.3 1139 1618 1139.3 1626.8 1139.9 1635.5 1140.7 1644.2 1141.7 1652.7 1142.9 1661 1144.3 1669.1 1145.8 1676.9 1147.5 1684.4 1149.3 1691.8 1151.2 1698.9 1153.2 1705.7 1155.3 1712.4 1157.5 1718.9 1159.7 1725.1 1161.9 1731.2 1164.2 1737.2 1166.5 1743.1 1168.9 1748.9 1171.2 1754.7 1173.6 1760.4 1176 1766.3 1178.3 1772.2 1180.7 1778.2 1183 1784.4 1185.3 1790.7 1187.5 1797.3 1189.6 1804 1191.7 1811 1193.6 1818.3 1195.3 1825.8 1196.8 1833.6 1198.1 1841.7 1199.2 1850.1 1200.1 1858.7 1200.8 1867.5 1201.3 1876.4 1201.6 1885.5 1201.8 1894.6 1201.9 1903.8 1201.9 1912.9 1201.7 1922.1 1201.5 1931.2 1201.2 1940.4 1200.9 1949.5 1200.5 1958.6 1200 1967.7 1199.6 1976.7 1199.1 1985.8 1198.6 1994.8 1198.1 2003.9 1197.5 2012.9 1197 2021.9 1196.5 2030.9 1196 2039.9 1195.5 2048.9 1195 2057.9 1194.5 2066.9 1194.1 2075.9 1193.6 2084.9 1193.2 2093.9 1192.7 2102.9 1192.3 2112 1192 2121 1191.6 2130 1191.3 2139 1190.9 2148.1 1190.7 2157.2 1190.4 2166.2 1190.2 2175.3 1190 2184.4 1189.8 2193.6 1189.7 2202.7 1189.6 2211.8 1189.6 2221 1189.6 2230.1 1189.7 2239.1 1189.9 2248.1 1190.2 2257 1190.6 2265.8 1191.1 2274.5 1191.8 2283.1 1192.6 2291.6 1193.6 2299.9 1194.7 2308 1196.1 2315.9 1197.6 2323.7 1199.2 2331.4 1200.9 2338.8 1202.8 2346.1 1204.8 2353.3 1206.8 2360.2 1208.9 2367.1 1211.1 2373.7 1213.2 2380.2 1215.4 2386.5 1217.5 2392.7 1219.6 2398.7 1221.7Z" fill="#000"/>
<path d="M1349.2 1727.4 1354 1724.7 1358.8 1722.1 1363.6 1719.4 1368.4 1716.7 1373.1 1714.1 1377.9 1711.4 1382.6 1708.7 1387.4 1706.1 1392.1 1703.4 1397 1700.8 1401.8 1698.2 1406.7 1695.6 1411.7 1693 1416.8 1690.4 1421.9 1687.8 1427.1 1685.3 1432.5 1682.8 1437.9 1680.3 1443.5 1677.8 1449.2 1675.3 1455.1 1672.9 1461.1 1670.5 1467.3 1668.2 1473.6 1665.8 1480.1 1663.5 1486.9 1661.3 1493.8 1659.1 1500.9 1656.9 1508.2 1654.8 1515.7 1652.8 1523.4 1650.9 1531.2 1649.2 1539.2 1647.6 1547.4 1646.2 1555.6 1645 1564 1644 1572.6 1643.3 1581.2 1642.8 1589.9 1642.6 1598.7 1642.8 1607.5 1643.2 1616.4 1643.8 1625.1 1644.8 1633.7 1645.9 1642.1 1647.3 1650.2 1648.8 1658.1 1650.4 1665.7 1652.3 1673 1654.2 1680.1 1656.3 1687 1658.4 1693.8 1660.7 1700.4 1663 1706.9 1665.4 1713.2 1667.8 1719.5 1670.3 1725.8 1672.7 1732 1675.2 1738.2 1677.7 1744.4 1680.1 1750.6 1682.5 1757 1684.9 1763.4 1687.1 1769.9 1689.3 1776.6 1691.4 1783.4 1693.4 1790.4 1695.3 1797.7 1697 1805.1 1698.6 1812.9 1700 1820.9 1701.2 1829.2 1702.2 1837.8 1703.1 1846.7 1703.8 1855.7 1704.3 1865 1704.7 1874.3 1704.9 1883.8 1705 1893.3 1705 1902.8 1705 1912.4 1704.8 1921.8 1704.6 1931.3 1704.3 1940.7 1704 1950 1703.6 1959.3 1703.2 1968.7 1702.8 1977.9 1702.4 1987.2 1702.1 1996.4 1701.7 2005.7 1701.3 2014.9 1701 2024.1 1700.7 2033.3 1700.4 2042.4 1700.2 2051.6 1699.9 2060.8 1699.7 2070 1699.5 2079.2 1699.3 2088.4 1699.1 2097.5 1698.9 2106.7 1698.7 2116 1698.5 2125.2 1698.4 2134.4 1698.2 2143.7 1698.1 2153 1698 2162.3 1697.8 2171.6 1697.7 2181 1697.6 2190.4 1697.4 2199.8 1697.3 2209.3 1697.2 2218.8 1697.1 2228.3 1696.9 2237.7 1696.9 2247.2 1696.8 2256.7 1696.9 2266.1 1696.9 2275.4 1697.1 2284.6 1697.4 2293.8 1697.8 2302.8 1698.3 2311.7 1698.9 2320.5 1699.7 2329.1 1700.6 2337.5 1701.7 2345.8 1703 2353.8 1704.5 2361.6 1706.1 2369.1 1707.9 2376.3 1709.9 2383.1 1712 2389.6 1714.2 2395.6 1716.6 2401.3 1719.1 2406.4 1721.8 2411.1 1724.5 2415.2 1727.4Z" fill="#000"/>
<g fill="none" stroke="#000" stroke-width="3.4" stroke-linecap="round" stroke-linejoin="round">
<rect x="95.9" y="1.70" width="2373.1" height="417.40"/>
<path d="M175.9 1.7v24.0M175.9 419.1v-24.0M442.5 1.7v24.0M442.5 419.1v-24.0M709.2 1.7v24.0M709.2 419.1v-24.0M975.8 1.7v24.0M975.8 419.1v-24.0M1242.5 1.7v24.0M1242.5 419.1v-24.0M1509.2 1.7v24.0M1509.2 419.1v-24.0M1775.8 1.7v24.0M1775.8 419.1v-24.0M2042.5 1.7v24.0M2042.5 419.1v-24.0M2309.1 1.7v24.0M2309.1 419.1v-24.0M95.9 317.0h24.0M2469.0 317.0h-24.0M95.9 210.3h24.0M2469.0 210.3h-24.0M95.9 103.6h24.0M2469.0 103.6h-24.0"/>
<rect x="95.9" y="507.35" width="2373.1" height="417.50"/>
<path d="M175.9 507.3v24.0M175.9 924.9v-24.0M442.5 507.3v24.0M442.5 924.9v-24.0M709.2 507.3v24.0M709.2 924.9v-24.0M975.8 507.3v24.0M975.8 924.9v-24.0M1242.5 507.3v24.0M1242.5 924.9v-24.0M1509.2 507.3v24.0M1509.2 924.9v-24.0M1775.8 507.3v24.0M1775.8 924.9v-24.0M2042.5 507.3v24.0M2042.5 924.9v-24.0M2309.1 507.3v24.0M2309.1 924.9v-24.0M95.9 822.7h24.0M2469.0 822.7h-24.0M95.9 716.0h24.0M2469.0 716.0h-24.0M95.9 609.3h24.0M2469.0 609.3h-24.0"/>
<rect x="95.9" y="1013.00" width="2373.1" height="417.60"/>
<path d="M175.9 1013.0v24.0M175.9 1430.6v-24.0M442.5 1013.0v24.0M442.5 1430.6v-24.0M709.2 1013.0v24.0M709.2 1430.6v-24.0M975.8 1013.0v24.0M975.8 1430.6v-24.0M1242.5 1013.0v24.0M1242.5 1430.6v-24.0M1509.2 1013.0v24.0M1509.2 1430.6v-24.0M1775.8 1013.0v24.0M1775.8 1430.6v-24.0M2042.5 1013.0v24.0M2042.5 1430.6v-24.0M2309.1 1013.0v24.0M2309.1 1430.6v-24.0M95.9 1328.4h24.0M2469.0 1328.4h-24.0M95.9 1221.7h24.0M2469.0 1221.7h-24.0M95.9 1115.0h24.0M2469.0 1115.0h-24.0"/>
<rect x="95.9" y="1518.65" width="2373.1" height="417.70"/>
<path d="M175.9 1518.6v24.0M175.9 1936.3v-24.0M442.5 1518.6v24.0M442.5 1936.3v-24.0M709.2 1518.6v24.0M709.2 1936.3v-24.0M975.8 1518.6v24.0M975.8 1936.3v-24.0M1242.5 1518.6v24.0M1242.5 1936.3v-24.0M1509.2 1518.6v24.0M1509.2 1936.3v-24.0M1775.8 1518.6v24.0M1775.8 1936.3v-24.0M2042.5 1518.6v24.0M2042.5 1936.3v-24.0M2309.1 1518.6v24.0M2309.1 1936.3v-24.0M95.9 1834.1h24.0M2469.0 1834.1h-24.0M95.9 1727.4h24.0M2469.0 1727.4h-24.0M95.9 1620.7h24.0M2469.0 1620.7h-24.0"/>
</g>
<g font-family="'Liberation Serif', serif" font-size="68.8" fill="#231f20">
<text x="70.0" y="127.3" text-anchor="end">2</text>
<text x="67.7" y="232.7" text-anchor="end">0</text>
<text x="70.0" y="337.0" text-anchor="end">2</text>
<text transform="translate(-2.6,342.0) scale(1.085,1)">−</text>
<text x="70.0" y="633.0" text-anchor="end">2</text>
<text x="67.7" y="738.4" text-anchor="end">0</text>
<text x="70.0" y="842.7" text-anchor="end">2</text>
<text transform="translate(-2.6,847.7) scale(1.085,1)">−</text>
<text x="70.0" y="1138.7" text-anchor="end">2</text>
<text x="67.7" y="1244.1" text-anchor="end">0</text>
<text x="70.0" y="1348.4" text-anchor="end">2</text>
<text transform="translate(-2.6,1353.4) scale(1.085,1)">−</text>
<text x="70.0" y="1644.4" text-anchor="end">2</text>
<text x="67.7" y="1749.8" text-anchor="end">0</text>
<text x="70.0" y="1854.1" text-anchor="end">2</text>
<text transform="translate(-2.6,1859.1) scale(1.085,1)">−</text>
<text x="175.3" y="2009.6" text-anchor="middle">0</text>
<text x="441.9" y="2009.6" text-anchor="middle">5</text>
<text x="708.6" y="2009.6" text-anchor="middle">10</text>
<text x="975.2" y="2009.6" text-anchor="middle">15</text>
<text x="1241.9" y="2009.6" text-anchor="middle">20</text>
<text x="1508.6" y="2009.6" text-anchor="middle">25</text>
<text x="1775.2" y="2009.6" text-anchor="middle">30</text>
<text x="2041.9" y="2009.6" text-anchor="middle">35</text>
<text x="2308.5" y="2009.6" text-anchor="middle">40</text>
</g>
<text x="1279.5" y="2091.5" text-anchor="middle" font-family="'Liberation Serif', serif" font-style="italic" font-size="82" fill="#000">x</text>
<g font-family="'Liberation Serif', serif" font-size="66.4" fill="#000">
<text x="818.5" y="349.6" textLength="948" lengthAdjust="spacing">Model II with no viscous resistance</text>
<text x="818.5" y="854.4">Model II with</text>
<text x="1213" y="854.4" font-style="italic">ϕ</text>
<text transform="translate(1273.7,858.1) scale(1.436,1)">=</text>
<text x="1342" y="854.4">0.7</text>
<text x="1446" y="854.4">and</text>
<text x="1555.1" y="854.4" font-style="italic">U</text>
<text x="1602.4" y="865.5" font-size="54">0</text>
<text transform="translate(1652.9,858.1) scale(1.436,1)">=</text>
<text x="1720.5" y="854.4">0.01</text>
<text x="1856" y="854.4">m</text>
<text x="1929.5" y="854.4">s</text>
<text transform="translate(1956.3,832.7) scale(1.31,1)" font-size="52">−</text><text x="1996.1" y="828.6" font-size="52">1</text>
<text x="2039.5" y="854.4">rad</text>
<text transform="translate(2126.5,832.7) scale(1.31,1)" font-size="52">−</text><text x="2165.5" y="828.6" font-size="52">1</text>
<text x="818.5" y="1360.1">Model II with</text>
<text x="1213" y="1360.1" font-style="italic">ϕ</text>
<text transform="translate(1273.7,1363.8) scale(1.436,1)">=</text>
<text x="1342" y="1360.1">0.7</text>
<text x="1446" y="1360.1">and</text>
<text x="1555.1" y="1360.1" font-style="italic">U</text>
<text x="1602.4" y="1371.2" font-size="54">0</text>
<text transform="translate(1652.9,1363.8) scale(1.436,1)">=</text>
<text x="1720.5" y="1360.1">0.30</text>
<text x="1856" y="1360.1">m</text>
<text x="1929.5" y="1360.1">s</text>
<text transform="translate(1956.3,1338.4) scale(1.31,1)" font-size="52">−</text><text x="1996.1" y="1334.3" font-size="52">1</text>
<text x="2039.5" y="1360.1">rad</text>
<text transform="translate(2126.5,1338.4) scale(1.31,1)" font-size="52">−</text><text x="2165.5" y="1334.3" font-size="52">1</text>
<text x="818.5" y="1865.8">Model II with</text>
<text x="1213" y="1865.8" font-style="italic">ϕ</text>
<text transform="translate(1273.7,1869.5) scale(1.436,1)">=</text>
<text x="1342" y="1865.8">1</text>
<text x="1390.5" y="1865.8">and</text>
<text x="1504.1" y="1865.8" font-style="italic">U</text>
<text x="1549.4" y="1876.9" font-size="54">0</text>
<text transform="translate(1599.9,1869.5) scale(1.436,1)">=</text>
<text x="1667.5" y="1865.8">0.01</text>
<text x="1803" y="1865.8">m</text>
<text x="1876.5" y="1865.8">s</text>
<text transform="translate(1903.3,1844.1) scale(1.31,1)" font-size="52">−</text><text x="1943.1" y="1840.0" font-size="52">1</text>
<text x="1986.5" y="1865.8">rad</text>
<text transform="translate(2073.5,1844.1) scale(1.31,1)" font-size="52">−</text><text x="2112.5" y="1840.0" font-size="52">1</text>
</g>
</svg></body></html>
